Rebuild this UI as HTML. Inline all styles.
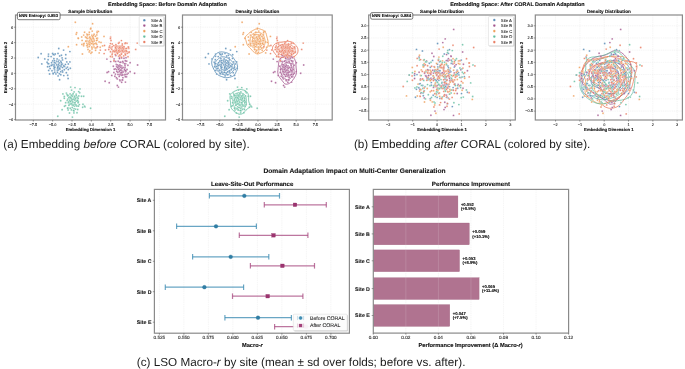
<!DOCTYPE html><html><head><meta charset="utf-8"><style>html,body{margin:0;padding:0;background:#fff;width:685px;height:369px;overflow:hidden}svg text{font-family:"Liberation Sans",sans-serif;text-rendering:geometricPrecision}</style></head><body><svg width="685" height="369" viewBox="0 0 685 369" style="display:block;will-change:transform">
<rect width="685" height="369" fill="#fff"/>
<line x1="33.30" y1="15" x2="33.30" y2="120" stroke="#e9e9e9" stroke-width="0.45" stroke-dasharray="1.4,0.8"/>
<line x1="52.65" y1="15" x2="52.65" y2="120" stroke="#e9e9e9" stroke-width="0.45" stroke-dasharray="1.4,0.8"/>
<line x1="72.00" y1="15" x2="72.00" y2="120" stroke="#e9e9e9" stroke-width="0.45" stroke-dasharray="1.4,0.8"/>
<line x1="91.35" y1="15" x2="91.35" y2="120" stroke="#e9e9e9" stroke-width="0.45" stroke-dasharray="1.4,0.8"/>
<line x1="110.70" y1="15" x2="110.70" y2="120" stroke="#e9e9e9" stroke-width="0.45" stroke-dasharray="1.4,0.8"/>
<line x1="130.05" y1="15" x2="130.05" y2="120" stroke="#e9e9e9" stroke-width="0.45" stroke-dasharray="1.4,0.8"/>
<line x1="149.40" y1="15" x2="149.40" y2="120" stroke="#e9e9e9" stroke-width="0.45" stroke-dasharray="1.4,0.8"/>
<line x1="15.5" y1="119.60" x2="165.5" y2="119.60" stroke="#e9e9e9" stroke-width="0.45" stroke-dasharray="1.4,0.8"/>
<line x1="15.5" y1="104.20" x2="165.5" y2="104.20" stroke="#e9e9e9" stroke-width="0.45" stroke-dasharray="1.4,0.8"/>
<line x1="15.5" y1="88.80" x2="165.5" y2="88.80" stroke="#e9e9e9" stroke-width="0.45" stroke-dasharray="1.4,0.8"/>
<line x1="15.5" y1="73.40" x2="165.5" y2="73.40" stroke="#e9e9e9" stroke-width="0.45" stroke-dasharray="1.4,0.8"/>
<line x1="15.5" y1="58.00" x2="165.5" y2="58.00" stroke="#e9e9e9" stroke-width="0.45" stroke-dasharray="1.4,0.8"/>
<line x1="15.5" y1="42.60" x2="165.5" y2="42.60" stroke="#e9e9e9" stroke-width="0.45" stroke-dasharray="1.4,0.8"/>
<line x1="15.5" y1="27.20" x2="165.5" y2="27.20" stroke="#e9e9e9" stroke-width="0.45" stroke-dasharray="1.4,0.8"/>
<line x1="200.60" y1="15" x2="200.60" y2="120" stroke="#e9e9e9" stroke-width="0.45" stroke-dasharray="1.4,0.8"/>
<line x1="219.71" y1="15" x2="219.71" y2="120" stroke="#e9e9e9" stroke-width="0.45" stroke-dasharray="1.4,0.8"/>
<line x1="238.83" y1="15" x2="238.83" y2="120" stroke="#e9e9e9" stroke-width="0.45" stroke-dasharray="1.4,0.8"/>
<line x1="257.95" y1="15" x2="257.95" y2="120" stroke="#e9e9e9" stroke-width="0.45" stroke-dasharray="1.4,0.8"/>
<line x1="277.07" y1="15" x2="277.07" y2="120" stroke="#e9e9e9" stroke-width="0.45" stroke-dasharray="1.4,0.8"/>
<line x1="296.19" y1="15" x2="296.19" y2="120" stroke="#e9e9e9" stroke-width="0.45" stroke-dasharray="1.4,0.8"/>
<line x1="315.30" y1="15" x2="315.30" y2="120" stroke="#e9e9e9" stroke-width="0.45" stroke-dasharray="1.4,0.8"/>
<line x1="182.5" y1="119.60" x2="332.2" y2="119.60" stroke="#e9e9e9" stroke-width="0.45" stroke-dasharray="1.4,0.8"/>
<line x1="182.5" y1="104.20" x2="332.2" y2="104.20" stroke="#e9e9e9" stroke-width="0.45" stroke-dasharray="1.4,0.8"/>
<line x1="182.5" y1="88.80" x2="332.2" y2="88.80" stroke="#e9e9e9" stroke-width="0.45" stroke-dasharray="1.4,0.8"/>
<line x1="182.5" y1="73.40" x2="332.2" y2="73.40" stroke="#e9e9e9" stroke-width="0.45" stroke-dasharray="1.4,0.8"/>
<line x1="182.5" y1="58.00" x2="332.2" y2="58.00" stroke="#e9e9e9" stroke-width="0.45" stroke-dasharray="1.4,0.8"/>
<line x1="182.5" y1="42.60" x2="332.2" y2="42.60" stroke="#e9e9e9" stroke-width="0.45" stroke-dasharray="1.4,0.8"/>
<line x1="182.5" y1="27.20" x2="332.2" y2="27.20" stroke="#e9e9e9" stroke-width="0.45" stroke-dasharray="1.4,0.8"/>
<circle cx="59.5" cy="62.9" r="0.95" fill="#5288b3" fill-opacity="0.88" stroke="#fff" stroke-width="0.25"/>
<circle cx="48.7" cy="70.4" r="0.95" fill="#5288b3" fill-opacity="0.88" stroke="#fff" stroke-width="0.25"/>
<circle cx="64.3" cy="66.2" r="0.95" fill="#5288b3" fill-opacity="0.88" stroke="#fff" stroke-width="0.25"/>
<circle cx="53.9" cy="58.7" r="0.95" fill="#5288b3" fill-opacity="0.88" stroke="#fff" stroke-width="0.25"/>
<circle cx="57.4" cy="70.2" r="0.95" fill="#5288b3" fill-opacity="0.88" stroke="#fff" stroke-width="0.25"/>
<circle cx="59.9" cy="65.6" r="0.95" fill="#5288b3" fill-opacity="0.88" stroke="#fff" stroke-width="0.25"/>
<circle cx="52.9" cy="64.6" r="0.95" fill="#5288b3" fill-opacity="0.88" stroke="#fff" stroke-width="0.25"/>
<circle cx="60.8" cy="74.7" r="0.95" fill="#5288b3" fill-opacity="0.88" stroke="#fff" stroke-width="0.25"/>
<circle cx="62.6" cy="67.6" r="0.95" fill="#5288b3" fill-opacity="0.88" stroke="#fff" stroke-width="0.25"/>
<circle cx="58.0" cy="53.4" r="0.95" fill="#5288b3" fill-opacity="0.88" stroke="#fff" stroke-width="0.25"/>
<circle cx="54.6" cy="69.9" r="0.95" fill="#5288b3" fill-opacity="0.88" stroke="#fff" stroke-width="0.25"/>
<circle cx="68.3" cy="64.0" r="0.95" fill="#5288b3" fill-opacity="0.88" stroke="#fff" stroke-width="0.25"/>
<circle cx="55.8" cy="63.0" r="0.95" fill="#5288b3" fill-opacity="0.88" stroke="#fff" stroke-width="0.25"/>
<circle cx="59.1" cy="68.4" r="0.95" fill="#5288b3" fill-opacity="0.88" stroke="#fff" stroke-width="0.25"/>
<circle cx="62.5" cy="59.9" r="0.95" fill="#5288b3" fill-opacity="0.88" stroke="#fff" stroke-width="0.25"/>
<circle cx="51.1" cy="65.5" r="0.95" fill="#5288b3" fill-opacity="0.88" stroke="#fff" stroke-width="0.25"/>
<circle cx="59.8" cy="69.2" r="0.95" fill="#5288b3" fill-opacity="0.88" stroke="#fff" stroke-width="0.25"/>
<circle cx="70.3" cy="68.2" r="0.95" fill="#5288b3" fill-opacity="0.88" stroke="#fff" stroke-width="0.25"/>
<circle cx="56.6" cy="61.1" r="0.95" fill="#5288b3" fill-opacity="0.88" stroke="#fff" stroke-width="0.25"/>
<circle cx="53.0" cy="73.2" r="0.95" fill="#5288b3" fill-opacity="0.88" stroke="#fff" stroke-width="0.25"/>
<circle cx="62.5" cy="64.1" r="0.95" fill="#5288b3" fill-opacity="0.88" stroke="#fff" stroke-width="0.25"/>
<circle cx="58.2" cy="65.4" r="0.95" fill="#5288b3" fill-opacity="0.88" stroke="#fff" stroke-width="0.25"/>
<circle cx="59.3" cy="73.7" r="0.95" fill="#5288b3" fill-opacity="0.88" stroke="#fff" stroke-width="0.25"/>
<circle cx="62.1" cy="57.9" r="0.95" fill="#5288b3" fill-opacity="0.88" stroke="#fff" stroke-width="0.25"/>
<circle cx="54.4" cy="67.7" r="0.95" fill="#5288b3" fill-opacity="0.88" stroke="#fff" stroke-width="0.25"/>
<circle cx="68.1" cy="78.5" r="0.95" fill="#5288b3" fill-opacity="0.88" stroke="#fff" stroke-width="0.25"/>
<circle cx="64.3" cy="69.8" r="0.95" fill="#5288b3" fill-opacity="0.88" stroke="#fff" stroke-width="0.25"/>
<circle cx="59.7" cy="56.0" r="0.95" fill="#5288b3" fill-opacity="0.88" stroke="#fff" stroke-width="0.25"/>
<circle cx="54.2" cy="68.6" r="0.95" fill="#5288b3" fill-opacity="0.88" stroke="#fff" stroke-width="0.25"/>
<circle cx="61.4" cy="65.0" r="0.95" fill="#5288b3" fill-opacity="0.88" stroke="#fff" stroke-width="0.25"/>
<circle cx="54.4" cy="60.8" r="0.95" fill="#5288b3" fill-opacity="0.88" stroke="#fff" stroke-width="0.25"/>
<circle cx="55.9" cy="73.9" r="0.95" fill="#5288b3" fill-opacity="0.88" stroke="#fff" stroke-width="0.25"/>
<circle cx="61.7" cy="64.0" r="0.95" fill="#5288b3" fill-opacity="0.88" stroke="#fff" stroke-width="0.25"/>
<circle cx="47.8" cy="63.6" r="0.95" fill="#5288b3" fill-opacity="0.88" stroke="#fff" stroke-width="0.25"/>
<circle cx="60.8" cy="71.7" r="0.95" fill="#5288b3" fill-opacity="0.88" stroke="#fff" stroke-width="0.25"/>
<circle cx="68.3" cy="69.5" r="0.95" fill="#5288b3" fill-opacity="0.88" stroke="#fff" stroke-width="0.25"/>
<circle cx="58.2" cy="61.7" r="0.95" fill="#5288b3" fill-opacity="0.88" stroke="#fff" stroke-width="0.25"/>
<circle cx="58.5" cy="66.7" r="0.95" fill="#5288b3" fill-opacity="0.88" stroke="#fff" stroke-width="0.25"/>
<circle cx="65.4" cy="64.4" r="0.95" fill="#5288b3" fill-opacity="0.88" stroke="#fff" stroke-width="0.25"/>
<circle cx="52.7" cy="60.9" r="0.95" fill="#5288b3" fill-opacity="0.88" stroke="#fff" stroke-width="0.25"/>
<circle cx="58.1" cy="70.0" r="0.95" fill="#5288b3" fill-opacity="0.88" stroke="#fff" stroke-width="0.25"/>
<circle cx="65.8" cy="54.8" r="0.95" fill="#5288b3" fill-opacity="0.88" stroke="#fff" stroke-width="0.25"/>
<circle cx="53.9" cy="66.3" r="0.95" fill="#5288b3" fill-opacity="0.88" stroke="#fff" stroke-width="0.25"/>
<circle cx="63.8" cy="75.6" r="0.95" fill="#5288b3" fill-opacity="0.88" stroke="#fff" stroke-width="0.25"/>
<circle cx="64.4" cy="66.4" r="0.95" fill="#5288b3" fill-opacity="0.88" stroke="#fff" stroke-width="0.25"/>
<circle cx="58.4" cy="64.2" r="0.95" fill="#5288b3" fill-opacity="0.88" stroke="#fff" stroke-width="0.25"/>
<circle cx="54.8" cy="72.2" r="0.95" fill="#5288b3" fill-opacity="0.88" stroke="#fff" stroke-width="0.25"/>
<circle cx="66.8" cy="61.9" r="0.95" fill="#5288b3" fill-opacity="0.88" stroke="#fff" stroke-width="0.25"/>
<circle cx="56.6" cy="64.9" r="0.95" fill="#5288b3" fill-opacity="0.88" stroke="#fff" stroke-width="0.25"/>
<circle cx="59.6" cy="79.7" r="0.95" fill="#5288b3" fill-opacity="0.88" stroke="#fff" stroke-width="0.25"/>
<circle cx="60.8" cy="61.2" r="0.95" fill="#5288b3" fill-opacity="0.88" stroke="#fff" stroke-width="0.25"/>
<circle cx="50.1" cy="68.6" r="0.95" fill="#5288b3" fill-opacity="0.88" stroke="#fff" stroke-width="0.25"/>
<circle cx="62.3" cy="70.6" r="0.95" fill="#5288b3" fill-opacity="0.88" stroke="#fff" stroke-width="0.25"/>
<circle cx="61.0" cy="66.8" r="0.95" fill="#5288b3" fill-opacity="0.88" stroke="#fff" stroke-width="0.25"/>
<circle cx="59.0" cy="60.1" r="0.95" fill="#5288b3" fill-opacity="0.88" stroke="#fff" stroke-width="0.25"/>
<circle cx="52.0" cy="70.7" r="0.95" fill="#5288b3" fill-opacity="0.88" stroke="#fff" stroke-width="0.25"/>
<circle cx="63.7" cy="65.9" r="0.95" fill="#5288b3" fill-opacity="0.88" stroke="#fff" stroke-width="0.25"/>
<circle cx="48.5" cy="54.1" r="0.95" fill="#5288b3" fill-opacity="0.88" stroke="#fff" stroke-width="0.25"/>
<circle cx="57.4" cy="72.3" r="0.95" fill="#5288b3" fill-opacity="0.88" stroke="#fff" stroke-width="0.25"/>
<circle cx="65.7" cy="58.4" r="0.95" fill="#5288b3" fill-opacity="0.88" stroke="#fff" stroke-width="0.25"/>
<circle cx="54.2" cy="65.0" r="0.95" fill="#5288b3" fill-opacity="0.88" stroke="#fff" stroke-width="0.25"/>
<circle cx="59.7" cy="68.2" r="0.95" fill="#5288b3" fill-opacity="0.88" stroke="#fff" stroke-width="0.25"/>
<circle cx="66.2" cy="68.3" r="0.95" fill="#5288b3" fill-opacity="0.88" stroke="#fff" stroke-width="0.25"/>
<circle cx="57.1" cy="58.9" r="0.95" fill="#5288b3" fill-opacity="0.88" stroke="#fff" stroke-width="0.25"/>
<circle cx="57.6" cy="68.5" r="0.95" fill="#5288b3" fill-opacity="0.88" stroke="#fff" stroke-width="0.25"/>
<circle cx="69.9" cy="61.9" r="0.95" fill="#5288b3" fill-opacity="0.88" stroke="#fff" stroke-width="0.25"/>
<circle cx="54.3" cy="62.7" r="0.95" fill="#5288b3" fill-opacity="0.88" stroke="#fff" stroke-width="0.25"/>
<circle cx="58.1" cy="75.9" r="0.95" fill="#5288b3" fill-opacity="0.88" stroke="#fff" stroke-width="0.25"/>
<circle cx="61.3" cy="62.5" r="0.95" fill="#5288b3" fill-opacity="0.88" stroke="#fff" stroke-width="0.25"/>
<circle cx="57.7" cy="66.7" r="0.95" fill="#5288b3" fill-opacity="0.88" stroke="#fff" stroke-width="0.25"/>
<circle cx="62.7" cy="72.0" r="0.95" fill="#5288b3" fill-opacity="0.88" stroke="#fff" stroke-width="0.25"/>
<circle cx="67.5" cy="67.1" r="0.95" fill="#5288b3" fill-opacity="0.88" stroke="#fff" stroke-width="0.25"/>
<circle cx="66.3" cy="72.7" r="0.95" fill="#5288b3" fill-opacity="0.88" stroke="#fff" stroke-width="0.25"/>
<circle cx="53.2" cy="73.7" r="0.95" fill="#5288b3" fill-opacity="0.88" stroke="#fff" stroke-width="0.25"/>
<circle cx="63.6" cy="50.1" r="0.95" fill="#5288b3" fill-opacity="0.88" stroke="#fff" stroke-width="0.25"/>
<circle cx="54.7" cy="67.2" r="0.95" fill="#5288b3" fill-opacity="0.88" stroke="#fff" stroke-width="0.25"/>
<circle cx="48.1" cy="59.8" r="0.95" fill="#5288b3" fill-opacity="0.88" stroke="#fff" stroke-width="0.25"/>
<circle cx="51.6" cy="62.8" r="0.95" fill="#5288b3" fill-opacity="0.88" stroke="#fff" stroke-width="0.25"/>
<circle cx="49.4" cy="66.5" r="0.95" fill="#5288b3" fill-opacity="0.88" stroke="#fff" stroke-width="0.25"/>
<circle cx="54.7" cy="67.2" r="0.95" fill="#5288b3" fill-opacity="0.88" stroke="#fff" stroke-width="0.25"/>
<circle cx="51.1" cy="56.6" r="0.95" fill="#5288b3" fill-opacity="0.88" stroke="#fff" stroke-width="0.25"/>
<circle cx="51.8" cy="65.3" r="0.95" fill="#5288b3" fill-opacity="0.88" stroke="#fff" stroke-width="0.25"/>
<circle cx="41.8" cy="63.9" r="0.95" fill="#5288b3" fill-opacity="0.88" stroke="#fff" stroke-width="0.25"/>
<circle cx="47.1" cy="62.3" r="0.95" fill="#5288b3" fill-opacity="0.88" stroke="#fff" stroke-width="0.25"/>
<circle cx="69.9" cy="51.6" r="0.95" fill="#5288b3" fill-opacity="0.88" stroke="#fff" stroke-width="0.25"/>
<circle cx="48.4" cy="56.2" r="0.95" fill="#5288b3" fill-opacity="0.88" stroke="#fff" stroke-width="0.25"/>
<circle cx="44.8" cy="58.9" r="0.95" fill="#5288b3" fill-opacity="0.88" stroke="#fff" stroke-width="0.25"/>
<circle cx="57.7" cy="67.7" r="0.95" fill="#5288b3" fill-opacity="0.88" stroke="#fff" stroke-width="0.25"/>
<circle cx="67.7" cy="75.2" r="0.95" fill="#5288b3" fill-opacity="0.88" stroke="#fff" stroke-width="0.25"/>
<circle cx="41.1" cy="53.7" r="0.95" fill="#5288b3" fill-opacity="0.88" stroke="#fff" stroke-width="0.25"/>
<circle cx="52.6" cy="53.5" r="0.95" fill="#5288b3" fill-opacity="0.88" stroke="#fff" stroke-width="0.25"/>
<circle cx="48.7" cy="63.8" r="0.95" fill="#5288b3" fill-opacity="0.88" stroke="#fff" stroke-width="0.25"/>
<circle cx="38.2" cy="57.5" r="0.95" fill="#5288b3" fill-opacity="0.88" stroke="#fff" stroke-width="0.25"/>
<circle cx="61.4" cy="55.2" r="0.95" fill="#5288b3" fill-opacity="0.88" stroke="#fff" stroke-width="0.25"/>
<circle cx="54.4" cy="54.8" r="0.95" fill="#5288b3" fill-opacity="0.88" stroke="#fff" stroke-width="0.25"/>
<circle cx="55.2" cy="54.0" r="0.95" fill="#5288b3" fill-opacity="0.88" stroke="#fff" stroke-width="0.25"/>
<circle cx="47.6" cy="66.7" r="0.95" fill="#5288b3" fill-opacity="0.88" stroke="#fff" stroke-width="0.25"/>
<circle cx="58.8" cy="48.5" r="0.95" fill="#5288b3" fill-opacity="0.88" stroke="#fff" stroke-width="0.25"/>
<circle cx="49.6" cy="74.0" r="0.95" fill="#5288b3" fill-opacity="0.88" stroke="#fff" stroke-width="0.25"/>
<circle cx="53.3" cy="54.5" r="0.95" fill="#5288b3" fill-opacity="0.88" stroke="#fff" stroke-width="0.25"/>
<circle cx="124.3" cy="74.7" r="0.95" fill="#a2538c" fill-opacity="0.88" stroke="#fff" stroke-width="0.25"/>
<circle cx="126.0" cy="57.7" r="0.95" fill="#a2538c" fill-opacity="0.88" stroke="#fff" stroke-width="0.25"/>
<circle cx="116.7" cy="69.8" r="0.95" fill="#a2538c" fill-opacity="0.88" stroke="#fff" stroke-width="0.25"/>
<circle cx="128.1" cy="73.2" r="0.95" fill="#a2538c" fill-opacity="0.88" stroke="#fff" stroke-width="0.25"/>
<circle cx="119.9" cy="62.3" r="0.95" fill="#a2538c" fill-opacity="0.88" stroke="#fff" stroke-width="0.25"/>
<circle cx="119.9" cy="70.4" r="0.95" fill="#a2538c" fill-opacity="0.88" stroke="#fff" stroke-width="0.25"/>
<circle cx="122.5" cy="68.0" r="0.95" fill="#a2538c" fill-opacity="0.88" stroke="#fff" stroke-width="0.25"/>
<circle cx="116.3" cy="64.5" r="0.95" fill="#a2538c" fill-opacity="0.88" stroke="#fff" stroke-width="0.25"/>
<circle cx="119.8" cy="75.0" r="0.95" fill="#a2538c" fill-opacity="0.88" stroke="#fff" stroke-width="0.25"/>
<circle cx="126.5" cy="76.7" r="0.95" fill="#a2538c" fill-opacity="0.88" stroke="#fff" stroke-width="0.25"/>
<circle cx="121.7" cy="65.9" r="0.95" fill="#a2538c" fill-opacity="0.88" stroke="#fff" stroke-width="0.25"/>
<circle cx="113.9" cy="72.5" r="0.95" fill="#a2538c" fill-opacity="0.88" stroke="#fff" stroke-width="0.25"/>
<circle cx="126.0" cy="70.9" r="0.95" fill="#a2538c" fill-opacity="0.88" stroke="#fff" stroke-width="0.25"/>
<circle cx="115.8" cy="55.5" r="0.95" fill="#a2538c" fill-opacity="0.88" stroke="#fff" stroke-width="0.25"/>
<circle cx="119.2" cy="71.8" r="0.95" fill="#a2538c" fill-opacity="0.88" stroke="#fff" stroke-width="0.25"/>
<circle cx="125.7" cy="63.8" r="0.95" fill="#a2538c" fill-opacity="0.88" stroke="#fff" stroke-width="0.25"/>
<circle cx="116.6" cy="66.8" r="0.95" fill="#a2538c" fill-opacity="0.88" stroke="#fff" stroke-width="0.25"/>
<circle cx="121.7" cy="82.3" r="0.95" fill="#a2538c" fill-opacity="0.88" stroke="#fff" stroke-width="0.25"/>
<circle cx="121.8" cy="73.8" r="0.95" fill="#a2538c" fill-opacity="0.88" stroke="#fff" stroke-width="0.25"/>
<circle cx="125.8" cy="61.1" r="0.95" fill="#a2538c" fill-opacity="0.88" stroke="#fff" stroke-width="0.25"/>
<circle cx="115.3" cy="68.9" r="0.95" fill="#a2538c" fill-opacity="0.88" stroke="#fff" stroke-width="0.25"/>
<circle cx="121.2" cy="69.6" r="0.95" fill="#a2538c" fill-opacity="0.88" stroke="#fff" stroke-width="0.25"/>
<circle cx="120.4" cy="66.0" r="0.95" fill="#a2538c" fill-opacity="0.88" stroke="#fff" stroke-width="0.25"/>
<circle cx="115.4" cy="74.1" r="0.95" fill="#a2538c" fill-opacity="0.88" stroke="#fff" stroke-width="0.25"/>
<circle cx="124.8" cy="68.1" r="0.95" fill="#a2538c" fill-opacity="0.88" stroke="#fff" stroke-width="0.25"/>
<circle cx="114.1" cy="61.2" r="0.95" fill="#a2538c" fill-opacity="0.88" stroke="#fff" stroke-width="0.25"/>
<circle cx="120.1" cy="74.2" r="0.95" fill="#a2538c" fill-opacity="0.88" stroke="#fff" stroke-width="0.25"/>
<circle cx="125.3" cy="76.7" r="0.95" fill="#a2538c" fill-opacity="0.88" stroke="#fff" stroke-width="0.25"/>
<circle cx="123.1" cy="62.7" r="0.95" fill="#a2538c" fill-opacity="0.88" stroke="#fff" stroke-width="0.25"/>
<circle cx="108.5" cy="71.8" r="0.95" fill="#a2538c" fill-opacity="0.88" stroke="#fff" stroke-width="0.25"/>
<circle cx="124.4" cy="70.5" r="0.95" fill="#a2538c" fill-opacity="0.88" stroke="#fff" stroke-width="0.25"/>
<circle cx="118.2" cy="61.3" r="0.95" fill="#a2538c" fill-opacity="0.88" stroke="#fff" stroke-width="0.25"/>
<circle cx="118.0" cy="74.4" r="0.95" fill="#a2538c" fill-opacity="0.88" stroke="#fff" stroke-width="0.25"/>
<circle cx="130.1" cy="62.7" r="0.95" fill="#a2538c" fill-opacity="0.88" stroke="#fff" stroke-width="0.25"/>
<circle cx="117.6" cy="67.0" r="0.95" fill="#a2538c" fill-opacity="0.88" stroke="#fff" stroke-width="0.25"/>
<circle cx="120.0" cy="80.7" r="0.95" fill="#a2538c" fill-opacity="0.88" stroke="#fff" stroke-width="0.25"/>
<circle cx="125.3" cy="74.5" r="0.95" fill="#a2538c" fill-opacity="0.88" stroke="#fff" stroke-width="0.25"/>
<circle cx="121.4" cy="67.9" r="0.95" fill="#a2538c" fill-opacity="0.88" stroke="#fff" stroke-width="0.25"/>
<circle cx="119.5" cy="71.0" r="0.95" fill="#a2538c" fill-opacity="0.88" stroke="#fff" stroke-width="0.25"/>
<circle cx="127.0" cy="69.5" r="0.95" fill="#a2538c" fill-opacity="0.88" stroke="#fff" stroke-width="0.25"/>
<circle cx="118.7" cy="65.5" r="0.95" fill="#a2538c" fill-opacity="0.88" stroke="#fff" stroke-width="0.25"/>
<circle cx="117.3" cy="78.9" r="0.95" fill="#a2538c" fill-opacity="0.88" stroke="#fff" stroke-width="0.25"/>
<circle cx="123.1" cy="67.4" r="0.95" fill="#a2538c" fill-opacity="0.88" stroke="#fff" stroke-width="0.25"/>
<circle cx="113.3" cy="66.2" r="0.95" fill="#a2538c" fill-opacity="0.88" stroke="#fff" stroke-width="0.25"/>
<circle cx="121.6" cy="75.2" r="0.95" fill="#a2538c" fill-opacity="0.88" stroke="#fff" stroke-width="0.25"/>
<circle cx="125.4" cy="82.1" r="0.95" fill="#a2538c" fill-opacity="0.88" stroke="#fff" stroke-width="0.25"/>
<circle cx="120.8" cy="67.3" r="0.95" fill="#a2538c" fill-opacity="0.88" stroke="#fff" stroke-width="0.25"/>
<circle cx="114.2" cy="69.3" r="0.95" fill="#a2538c" fill-opacity="0.88" stroke="#fff" stroke-width="0.25"/>
<circle cx="125.6" cy="71.7" r="0.95" fill="#a2538c" fill-opacity="0.88" stroke="#fff" stroke-width="0.25"/>
<circle cx="119.5" cy="57.8" r="0.95" fill="#a2538c" fill-opacity="0.88" stroke="#fff" stroke-width="0.25"/>
<circle cx="117.8" cy="72.2" r="0.95" fill="#a2538c" fill-opacity="0.88" stroke="#fff" stroke-width="0.25"/>
<circle cx="127.9" cy="65.2" r="0.95" fill="#a2538c" fill-opacity="0.88" stroke="#fff" stroke-width="0.25"/>
<circle cx="117.2" cy="64.9" r="0.95" fill="#a2538c" fill-opacity="0.88" stroke="#fff" stroke-width="0.25"/>
<circle cx="118.4" cy="87.1" r="0.95" fill="#a2538c" fill-opacity="0.88" stroke="#fff" stroke-width="0.25"/>
<circle cx="122.2" cy="71.9" r="0.95" fill="#a2538c" fill-opacity="0.88" stroke="#fff" stroke-width="0.25"/>
<circle cx="122.8" cy="61.5" r="0.95" fill="#a2538c" fill-opacity="0.88" stroke="#fff" stroke-width="0.25"/>
<circle cx="116.8" cy="71.4" r="0.95" fill="#a2538c" fill-opacity="0.88" stroke="#fff" stroke-width="0.25"/>
<circle cx="130.1" cy="71.7" r="0.95" fill="#a2538c" fill-opacity="0.88" stroke="#fff" stroke-width="0.25"/>
<circle cx="119.9" cy="65.0" r="0.95" fill="#a2538c" fill-opacity="0.88" stroke="#fff" stroke-width="0.25"/>
<circle cx="116.4" cy="77.8" r="0.95" fill="#a2538c" fill-opacity="0.88" stroke="#fff" stroke-width="0.25"/>
<circle cx="125.0" cy="65.3" r="0.95" fill="#a2538c" fill-opacity="0.88" stroke="#fff" stroke-width="0.25"/>
<circle cx="110.7" cy="61.6" r="0.95" fill="#a2538c" fill-opacity="0.88" stroke="#fff" stroke-width="0.25"/>
<circle cx="120.8" cy="72.8" r="0.95" fill="#a2538c" fill-opacity="0.88" stroke="#fff" stroke-width="0.25"/>
<circle cx="127.0" cy="74.3" r="0.95" fill="#a2538c" fill-opacity="0.88" stroke="#fff" stroke-width="0.25"/>
<circle cx="120.8" cy="62.3" r="0.95" fill="#a2538c" fill-opacity="0.88" stroke="#fff" stroke-width="0.25"/>
<circle cx="111.8" cy="75.4" r="0.95" fill="#a2538c" fill-opacity="0.88" stroke="#fff" stroke-width="0.25"/>
<circle cx="124.6" cy="69.4" r="0.95" fill="#a2538c" fill-opacity="0.88" stroke="#fff" stroke-width="0.25"/>
<circle cx="115.7" cy="61.5" r="0.95" fill="#a2538c" fill-opacity="0.88" stroke="#fff" stroke-width="0.25"/>
<circle cx="119.2" cy="76.4" r="0.95" fill="#a2538c" fill-opacity="0.88" stroke="#fff" stroke-width="0.25"/>
<circle cx="122.0" cy="68.1" r="0.95" fill="#a2538c" fill-opacity="0.88" stroke="#fff" stroke-width="0.25"/>
<circle cx="119.1" cy="68.5" r="0.95" fill="#a2538c" fill-opacity="0.88" stroke="#fff" stroke-width="0.25"/>
<circle cx="122.9" cy="77.8" r="0.95" fill="#a2538c" fill-opacity="0.88" stroke="#fff" stroke-width="0.25"/>
<circle cx="122.6" cy="75.0" r="0.95" fill="#a2538c" fill-opacity="0.88" stroke="#fff" stroke-width="0.25"/>
<circle cx="125.3" cy="60.8" r="0.95" fill="#a2538c" fill-opacity="0.88" stroke="#fff" stroke-width="0.25"/>
<circle cx="122.4" cy="80.0" r="0.95" fill="#a2538c" fill-opacity="0.88" stroke="#fff" stroke-width="0.25"/>
<circle cx="118.6" cy="69.3" r="0.95" fill="#a2538c" fill-opacity="0.88" stroke="#fff" stroke-width="0.25"/>
<circle cx="121.8" cy="70.5" r="0.95" fill="#a2538c" fill-opacity="0.88" stroke="#fff" stroke-width="0.25"/>
<circle cx="122.4" cy="79.9" r="0.95" fill="#a2538c" fill-opacity="0.88" stroke="#fff" stroke-width="0.25"/>
<circle cx="117.8" cy="67.7" r="0.95" fill="#a2538c" fill-opacity="0.88" stroke="#fff" stroke-width="0.25"/>
<circle cx="119.8" cy="79.9" r="0.95" fill="#a2538c" fill-opacity="0.88" stroke="#fff" stroke-width="0.25"/>
<circle cx="121.7" cy="58.1" r="0.95" fill="#a2538c" fill-opacity="0.88" stroke="#fff" stroke-width="0.25"/>
<circle cx="119.5" cy="58.6" r="0.95" fill="#a2538c" fill-opacity="0.88" stroke="#fff" stroke-width="0.25"/>
<circle cx="124.0" cy="58.3" r="0.95" fill="#a2538c" fill-opacity="0.88" stroke="#fff" stroke-width="0.25"/>
<circle cx="134.6" cy="73.3" r="0.95" fill="#a2538c" fill-opacity="0.88" stroke="#fff" stroke-width="0.25"/>
<circle cx="124.7" cy="63.8" r="0.95" fill="#a2538c" fill-opacity="0.88" stroke="#fff" stroke-width="0.25"/>
<circle cx="120.6" cy="70.1" r="0.95" fill="#a2538c" fill-opacity="0.88" stroke="#fff" stroke-width="0.25"/>
<circle cx="107.1" cy="72.5" r="0.95" fill="#a2538c" fill-opacity="0.88" stroke="#fff" stroke-width="0.25"/>
<circle cx="123.1" cy="72.0" r="0.95" fill="#a2538c" fill-opacity="0.88" stroke="#fff" stroke-width="0.25"/>
<circle cx="105.1" cy="81.3" r="0.95" fill="#a2538c" fill-opacity="0.88" stroke="#fff" stroke-width="0.25"/>
<circle cx="109.2" cy="82.7" r="0.95" fill="#a2538c" fill-opacity="0.88" stroke="#fff" stroke-width="0.25"/>
<circle cx="126.8" cy="61.1" r="0.95" fill="#a2538c" fill-opacity="0.88" stroke="#fff" stroke-width="0.25"/>
<circle cx="125.6" cy="70.6" r="0.95" fill="#a2538c" fill-opacity="0.88" stroke="#fff" stroke-width="0.25"/>
<circle cx="119.0" cy="66.7" r="0.95" fill="#a2538c" fill-opacity="0.88" stroke="#fff" stroke-width="0.25"/>
<circle cx="106.9" cy="59.1" r="0.95" fill="#a2538c" fill-opacity="0.88" stroke="#fff" stroke-width="0.25"/>
<circle cx="117.3" cy="85.5" r="0.95" fill="#a2538c" fill-opacity="0.88" stroke="#fff" stroke-width="0.25"/>
<circle cx="114.9" cy="76.3" r="0.95" fill="#a2538c" fill-opacity="0.88" stroke="#fff" stroke-width="0.25"/>
<circle cx="125.1" cy="67.1" r="0.95" fill="#a2538c" fill-opacity="0.88" stroke="#fff" stroke-width="0.25"/>
<circle cx="137.6" cy="65.0" r="0.95" fill="#a2538c" fill-opacity="0.88" stroke="#fff" stroke-width="0.25"/>
<circle cx="121.8" cy="72.4" r="0.95" fill="#a2538c" fill-opacity="0.88" stroke="#fff" stroke-width="0.25"/>
<circle cx="114.1" cy="58.9" r="0.95" fill="#a2538c" fill-opacity="0.88" stroke="#fff" stroke-width="0.25"/>
<circle cx="87.9" cy="38.2" r="0.95" fill="#ee9a52" fill-opacity="0.88" stroke="#fff" stroke-width="0.25"/>
<circle cx="90.9" cy="43.6" r="0.95" fill="#ee9a52" fill-opacity="0.88" stroke="#fff" stroke-width="0.25"/>
<circle cx="95.4" cy="36.3" r="0.95" fill="#ee9a52" fill-opacity="0.88" stroke="#fff" stroke-width="0.25"/>
<circle cx="82.1" cy="40.4" r="0.95" fill="#ee9a52" fill-opacity="0.88" stroke="#fff" stroke-width="0.25"/>
<circle cx="93.2" cy="44.6" r="0.95" fill="#ee9a52" fill-opacity="0.88" stroke="#fff" stroke-width="0.25"/>
<circle cx="91.4" cy="41.5" r="0.95" fill="#ee9a52" fill-opacity="0.88" stroke="#fff" stroke-width="0.25"/>
<circle cx="86.7" cy="45.6" r="0.95" fill="#ee9a52" fill-opacity="0.88" stroke="#fff" stroke-width="0.25"/>
<circle cx="100.2" cy="47.2" r="0.95" fill="#ee9a52" fill-opacity="0.88" stroke="#fff" stroke-width="0.25"/>
<circle cx="95.9" cy="43.2" r="0.95" fill="#ee9a52" fill-opacity="0.88" stroke="#fff" stroke-width="0.25"/>
<circle cx="89.8" cy="38.7" r="0.95" fill="#ee9a52" fill-opacity="0.88" stroke="#fff" stroke-width="0.25"/>
<circle cx="87.6" cy="47.0" r="0.95" fill="#ee9a52" fill-opacity="0.88" stroke="#fff" stroke-width="0.25"/>
<circle cx="97.5" cy="38.3" r="0.95" fill="#ee9a52" fill-opacity="0.88" stroke="#fff" stroke-width="0.25"/>
<circle cx="89.3" cy="40.7" r="0.95" fill="#ee9a52" fill-opacity="0.88" stroke="#fff" stroke-width="0.25"/>
<circle cx="90.9" cy="53.2" r="0.95" fill="#ee9a52" fill-opacity="0.88" stroke="#fff" stroke-width="0.25"/>
<circle cx="93.0" cy="36.1" r="0.95" fill="#ee9a52" fill-opacity="0.88" stroke="#fff" stroke-width="0.25"/>
<circle cx="81.9" cy="44.4" r="0.95" fill="#ee9a52" fill-opacity="0.88" stroke="#fff" stroke-width="0.25"/>
<circle cx="93.6" cy="44.7" r="0.95" fill="#ee9a52" fill-opacity="0.88" stroke="#fff" stroke-width="0.25"/>
<circle cx="92.8" cy="42.1" r="0.95" fill="#ee9a52" fill-opacity="0.88" stroke="#fff" stroke-width="0.25"/>
<circle cx="87.3" cy="35.8" r="0.95" fill="#ee9a52" fill-opacity="0.88" stroke="#fff" stroke-width="0.25"/>
<circle cx="88.0" cy="49.5" r="0.95" fill="#ee9a52" fill-opacity="0.88" stroke="#fff" stroke-width="0.25"/>
<circle cx="93.9" cy="39.3" r="0.95" fill="#ee9a52" fill-opacity="0.88" stroke="#fff" stroke-width="0.25"/>
<circle cx="78.2" cy="38.3" r="0.95" fill="#ee9a52" fill-opacity="0.88" stroke="#fff" stroke-width="0.25"/>
<circle cx="92.3" cy="47.8" r="0.95" fill="#ee9a52" fill-opacity="0.88" stroke="#fff" stroke-width="0.25"/>
<circle cx="92.2" cy="31.1" r="0.95" fill="#ee9a52" fill-opacity="0.88" stroke="#fff" stroke-width="0.25"/>
<circle cx="86.9" cy="43.2" r="0.95" fill="#ee9a52" fill-opacity="0.88" stroke="#fff" stroke-width="0.25"/>
<circle cx="92.8" cy="43.2" r="0.95" fill="#ee9a52" fill-opacity="0.88" stroke="#fff" stroke-width="0.25"/>
<circle cx="97.3" cy="40.1" r="0.95" fill="#ee9a52" fill-opacity="0.88" stroke="#fff" stroke-width="0.25"/>
<circle cx="85.5" cy="37.0" r="0.95" fill="#ee9a52" fill-opacity="0.88" stroke="#fff" stroke-width="0.25"/>
<circle cx="90.0" cy="45.1" r="0.95" fill="#ee9a52" fill-opacity="0.88" stroke="#fff" stroke-width="0.25"/>
<circle cx="97.2" cy="31.5" r="0.95" fill="#ee9a52" fill-opacity="0.88" stroke="#fff" stroke-width="0.25"/>
<circle cx="85.8" cy="41.3" r="0.95" fill="#ee9a52" fill-opacity="0.88" stroke="#fff" stroke-width="0.25"/>
<circle cx="95.6" cy="50.3" r="0.95" fill="#ee9a52" fill-opacity="0.88" stroke="#fff" stroke-width="0.25"/>
<circle cx="90.1" cy="37.6" r="0.95" fill="#ee9a52" fill-opacity="0.88" stroke="#fff" stroke-width="0.25"/>
<circle cx="89.7" cy="42.8" r="0.95" fill="#ee9a52" fill-opacity="0.88" stroke="#fff" stroke-width="0.25"/>
<circle cx="96.8" cy="44.4" r="0.95" fill="#ee9a52" fill-opacity="0.88" stroke="#fff" stroke-width="0.25"/>
<circle cx="99.1" cy="42.0" r="0.95" fill="#ee9a52" fill-opacity="0.88" stroke="#fff" stroke-width="0.25"/>
<circle cx="90.0" cy="37.3" r="0.95" fill="#ee9a52" fill-opacity="0.88" stroke="#fff" stroke-width="0.25"/>
<circle cx="82.4" cy="54.0" r="0.95" fill="#ee9a52" fill-opacity="0.88" stroke="#fff" stroke-width="0.25"/>
<circle cx="96.7" cy="38.5" r="0.95" fill="#ee9a52" fill-opacity="0.88" stroke="#fff" stroke-width="0.25"/>
<circle cx="81.7" cy="37.0" r="0.95" fill="#ee9a52" fill-opacity="0.88" stroke="#fff" stroke-width="0.25"/>
<circle cx="91.7" cy="47.0" r="0.95" fill="#ee9a52" fill-opacity="0.88" stroke="#fff" stroke-width="0.25"/>
<circle cx="91.8" cy="39.4" r="0.95" fill="#ee9a52" fill-opacity="0.88" stroke="#fff" stroke-width="0.25"/>
<circle cx="84.1" cy="43.5" r="0.95" fill="#ee9a52" fill-opacity="0.88" stroke="#fff" stroke-width="0.25"/>
<circle cx="96.6" cy="47.7" r="0.95" fill="#ee9a52" fill-opacity="0.88" stroke="#fff" stroke-width="0.25"/>
<circle cx="94.2" cy="41.0" r="0.95" fill="#ee9a52" fill-opacity="0.88" stroke="#fff" stroke-width="0.25"/>
<circle cx="84.6" cy="32.3" r="0.95" fill="#ee9a52" fill-opacity="0.88" stroke="#fff" stroke-width="0.25"/>
<circle cx="89.2" cy="46.6" r="0.95" fill="#ee9a52" fill-opacity="0.88" stroke="#fff" stroke-width="0.25"/>
<circle cx="96.8" cy="34.9" r="0.95" fill="#ee9a52" fill-opacity="0.88" stroke="#fff" stroke-width="0.25"/>
<circle cx="87.0" cy="41.0" r="0.95" fill="#ee9a52" fill-opacity="0.88" stroke="#fff" stroke-width="0.25"/>
<circle cx="91.7" cy="43.6" r="0.95" fill="#ee9a52" fill-opacity="0.88" stroke="#fff" stroke-width="0.25"/>
<circle cx="91.9" cy="35.2" r="0.95" fill="#ee9a52" fill-opacity="0.88" stroke="#fff" stroke-width="0.25"/>
<circle cx="83.6" cy="45.8" r="0.95" fill="#ee9a52" fill-opacity="0.88" stroke="#fff" stroke-width="0.25"/>
<circle cx="94.3" cy="43.6" r="0.95" fill="#ee9a52" fill-opacity="0.88" stroke="#fff" stroke-width="0.25"/>
<circle cx="104.0" cy="36.4" r="0.95" fill="#ee9a52" fill-opacity="0.88" stroke="#fff" stroke-width="0.25"/>
<circle cx="87.0" cy="38.4" r="0.95" fill="#ee9a52" fill-opacity="0.88" stroke="#fff" stroke-width="0.25"/>
<circle cx="89.2" cy="51.9" r="0.95" fill="#ee9a52" fill-opacity="0.88" stroke="#fff" stroke-width="0.25"/>
<circle cx="92.8" cy="37.9" r="0.95" fill="#ee9a52" fill-opacity="0.88" stroke="#fff" stroke-width="0.25"/>
<circle cx="88.8" cy="42.0" r="0.95" fill="#ee9a52" fill-opacity="0.88" stroke="#fff" stroke-width="0.25"/>
<circle cx="95.2" cy="48.0" r="0.95" fill="#ee9a52" fill-opacity="0.88" stroke="#fff" stroke-width="0.25"/>
<circle cx="89.1" cy="34.5" r="0.95" fill="#ee9a52" fill-opacity="0.88" stroke="#fff" stroke-width="0.25"/>
<circle cx="88.2" cy="43.9" r="0.95" fill="#ee9a52" fill-opacity="0.88" stroke="#fff" stroke-width="0.25"/>
<circle cx="102.6" cy="45.9" r="0.95" fill="#ee9a52" fill-opacity="0.88" stroke="#fff" stroke-width="0.25"/>
<circle cx="96.0" cy="43.5" r="0.95" fill="#ee9a52" fill-opacity="0.88" stroke="#fff" stroke-width="0.25"/>
<circle cx="89.3" cy="32.3" r="0.95" fill="#ee9a52" fill-opacity="0.88" stroke="#fff" stroke-width="0.25"/>
<circle cx="87.6" cy="45.0" r="0.95" fill="#ee9a52" fill-opacity="0.88" stroke="#fff" stroke-width="0.25"/>
<circle cx="92.8" cy="41.3" r="0.95" fill="#ee9a52" fill-opacity="0.88" stroke="#fff" stroke-width="0.25"/>
<circle cx="86.2" cy="37.6" r="0.95" fill="#ee9a52" fill-opacity="0.88" stroke="#fff" stroke-width="0.25"/>
<circle cx="89.8" cy="50.7" r="0.95" fill="#ee9a52" fill-opacity="0.88" stroke="#fff" stroke-width="0.25"/>
<circle cx="93.2" cy="38.0" r="0.95" fill="#ee9a52" fill-opacity="0.88" stroke="#fff" stroke-width="0.25"/>
<circle cx="89.9" cy="42.2" r="0.95" fill="#ee9a52" fill-opacity="0.88" stroke="#fff" stroke-width="0.25"/>
<circle cx="94.0" cy="46.9" r="0.95" fill="#ee9a52" fill-opacity="0.88" stroke="#fff" stroke-width="0.25"/>
<circle cx="101.0" cy="42.4" r="0.95" fill="#ee9a52" fill-opacity="0.88" stroke="#fff" stroke-width="0.25"/>
<circle cx="89.7" cy="37.1" r="0.95" fill="#ee9a52" fill-opacity="0.88" stroke="#fff" stroke-width="0.25"/>
<circle cx="89.5" cy="44.2" r="0.95" fill="#ee9a52" fill-opacity="0.88" stroke="#fff" stroke-width="0.25"/>
<circle cx="93.4" cy="35.4" r="0.95" fill="#ee9a52" fill-opacity="0.88" stroke="#fff" stroke-width="0.25"/>
<circle cx="75.3" cy="22.3" r="0.95" fill="#ee9a52" fill-opacity="0.88" stroke="#fff" stroke-width="0.25"/>
<circle cx="92.6" cy="23.7" r="0.95" fill="#ee9a52" fill-opacity="0.88" stroke="#fff" stroke-width="0.25"/>
<circle cx="90.8" cy="38.7" r="0.95" fill="#ee9a52" fill-opacity="0.88" stroke="#fff" stroke-width="0.25"/>
<circle cx="91.2" cy="40.0" r="0.95" fill="#ee9a52" fill-opacity="0.88" stroke="#fff" stroke-width="0.25"/>
<circle cx="92.0" cy="49.0" r="0.95" fill="#ee9a52" fill-opacity="0.88" stroke="#fff" stroke-width="0.25"/>
<circle cx="83.6" cy="44.0" r="0.95" fill="#ee9a52" fill-opacity="0.88" stroke="#fff" stroke-width="0.25"/>
<circle cx="86.8" cy="34.1" r="0.95" fill="#ee9a52" fill-opacity="0.88" stroke="#fff" stroke-width="0.25"/>
<circle cx="94.1" cy="34.3" r="0.95" fill="#ee9a52" fill-opacity="0.88" stroke="#fff" stroke-width="0.25"/>
<circle cx="92.4" cy="36.8" r="0.95" fill="#ee9a52" fill-opacity="0.88" stroke="#fff" stroke-width="0.25"/>
<circle cx="90.6" cy="29.0" r="0.95" fill="#ee9a52" fill-opacity="0.88" stroke="#fff" stroke-width="0.25"/>
<circle cx="76.6" cy="44.7" r="0.95" fill="#ee9a52" fill-opacity="0.88" stroke="#fff" stroke-width="0.25"/>
<circle cx="93.2" cy="38.3" r="0.95" fill="#ee9a52" fill-opacity="0.88" stroke="#fff" stroke-width="0.25"/>
<circle cx="98.4" cy="31.4" r="0.95" fill="#ee9a52" fill-opacity="0.88" stroke="#fff" stroke-width="0.25"/>
<circle cx="97.1" cy="32.7" r="0.95" fill="#ee9a52" fill-opacity="0.88" stroke="#fff" stroke-width="0.25"/>
<circle cx="90.8" cy="28.3" r="0.95" fill="#ee9a52" fill-opacity="0.88" stroke="#fff" stroke-width="0.25"/>
<circle cx="76.2" cy="34.3" r="0.95" fill="#ee9a52" fill-opacity="0.88" stroke="#fff" stroke-width="0.25"/>
<circle cx="96.5" cy="40.6" r="0.95" fill="#ee9a52" fill-opacity="0.88" stroke="#fff" stroke-width="0.25"/>
<circle cx="87.7" cy="34.6" r="0.95" fill="#ee9a52" fill-opacity="0.88" stroke="#fff" stroke-width="0.25"/>
<circle cx="68.3" cy="46.7" r="0.95" fill="#ee9a52" fill-opacity="0.88" stroke="#fff" stroke-width="0.25"/>
<circle cx="91.9" cy="52.3" r="0.95" fill="#ee9a52" fill-opacity="0.88" stroke="#fff" stroke-width="0.25"/>
<circle cx="76.7" cy="32.7" r="0.95" fill="#ee9a52" fill-opacity="0.88" stroke="#fff" stroke-width="0.25"/>
<circle cx="78.3" cy="38.3" r="0.95" fill="#ee9a52" fill-opacity="0.88" stroke="#fff" stroke-width="0.25"/>
<circle cx="83.7" cy="35.1" r="0.95" fill="#ee9a52" fill-opacity="0.88" stroke="#fff" stroke-width="0.25"/>
<circle cx="99.2" cy="52.9" r="0.95" fill="#ee9a52" fill-opacity="0.88" stroke="#fff" stroke-width="0.25"/>
<circle cx="85.9" cy="41.1" r="0.95" fill="#ee9a52" fill-opacity="0.88" stroke="#fff" stroke-width="0.25"/>
<circle cx="66.4" cy="93.1" r="0.95" fill="#62bd9f" fill-opacity="0.88" stroke="#fff" stroke-width="0.25"/>
<circle cx="74.3" cy="106.1" r="0.95" fill="#62bd9f" fill-opacity="0.88" stroke="#fff" stroke-width="0.25"/>
<circle cx="74.4" cy="99.5" r="0.95" fill="#62bd9f" fill-opacity="0.88" stroke="#fff" stroke-width="0.25"/>
<circle cx="67.2" cy="100.6" r="0.95" fill="#62bd9f" fill-opacity="0.88" stroke="#fff" stroke-width="0.25"/>
<circle cx="82.7" cy="107.2" r="0.95" fill="#62bd9f" fill-opacity="0.88" stroke="#fff" stroke-width="0.25"/>
<circle cx="72.7" cy="95.0" r="0.95" fill="#62bd9f" fill-opacity="0.88" stroke="#fff" stroke-width="0.25"/>
<circle cx="70.6" cy="103.5" r="0.95" fill="#62bd9f" fill-opacity="0.88" stroke="#fff" stroke-width="0.25"/>
<circle cx="71.4" cy="109.9" r="0.95" fill="#62bd9f" fill-opacity="0.88" stroke="#fff" stroke-width="0.25"/>
<circle cx="81.5" cy="96.2" r="0.95" fill="#62bd9f" fill-opacity="0.88" stroke="#fff" stroke-width="0.25"/>
<circle cx="69.4" cy="97.6" r="0.95" fill="#62bd9f" fill-opacity="0.88" stroke="#fff" stroke-width="0.25"/>
<circle cx="74.6" cy="104.4" r="0.95" fill="#62bd9f" fill-opacity="0.88" stroke="#fff" stroke-width="0.25"/>
<circle cx="76.2" cy="94.3" r="0.95" fill="#62bd9f" fill-opacity="0.88" stroke="#fff" stroke-width="0.25"/>
<circle cx="72.4" cy="101.4" r="0.95" fill="#62bd9f" fill-opacity="0.88" stroke="#fff" stroke-width="0.25"/>
<circle cx="78.3" cy="101.7" r="0.95" fill="#62bd9f" fill-opacity="0.88" stroke="#fff" stroke-width="0.25"/>
<circle cx="72.1" cy="96.5" r="0.95" fill="#62bd9f" fill-opacity="0.88" stroke="#fff" stroke-width="0.25"/>
<circle cx="67.8" cy="107.9" r="0.95" fill="#62bd9f" fill-opacity="0.88" stroke="#fff" stroke-width="0.25"/>
<circle cx="74.0" cy="110.9" r="0.95" fill="#62bd9f" fill-opacity="0.88" stroke="#fff" stroke-width="0.25"/>
<circle cx="76.0" cy="97.2" r="0.95" fill="#62bd9f" fill-opacity="0.88" stroke="#fff" stroke-width="0.25"/>
<circle cx="71.7" cy="100.5" r="0.95" fill="#62bd9f" fill-opacity="0.88" stroke="#fff" stroke-width="0.25"/>
<circle cx="78.0" cy="106.0" r="0.95" fill="#62bd9f" fill-opacity="0.88" stroke="#fff" stroke-width="0.25"/>
<circle cx="75.0" cy="87.6" r="0.95" fill="#62bd9f" fill-opacity="0.88" stroke="#fff" stroke-width="0.25"/>
<circle cx="68.3" cy="102.8" r="0.95" fill="#62bd9f" fill-opacity="0.88" stroke="#fff" stroke-width="0.25"/>
<circle cx="75.9" cy="100.9" r="0.95" fill="#62bd9f" fill-opacity="0.88" stroke="#fff" stroke-width="0.25"/>
<circle cx="70.1" cy="93.9" r="0.95" fill="#62bd9f" fill-opacity="0.88" stroke="#fff" stroke-width="0.25"/>
<circle cx="68.1" cy="110.0" r="0.95" fill="#62bd9f" fill-opacity="0.88" stroke="#fff" stroke-width="0.25"/>
<circle cx="72.4" cy="105.6" r="0.95" fill="#62bd9f" fill-opacity="0.88" stroke="#fff" stroke-width="0.25"/>
<circle cx="74.8" cy="100.0" r="0.95" fill="#62bd9f" fill-opacity="0.88" stroke="#fff" stroke-width="0.25"/>
<circle cx="68.3" cy="95.4" r="0.95" fill="#62bd9f" fill-opacity="0.88" stroke="#fff" stroke-width="0.25"/>
<circle cx="73.0" cy="102.5" r="0.95" fill="#62bd9f" fill-opacity="0.88" stroke="#fff" stroke-width="0.25"/>
<circle cx="76.2" cy="95.4" r="0.95" fill="#62bd9f" fill-opacity="0.88" stroke="#fff" stroke-width="0.25"/>
<circle cx="69.9" cy="100.9" r="0.95" fill="#62bd9f" fill-opacity="0.88" stroke="#fff" stroke-width="0.25"/>
<circle cx="79.3" cy="104.6" r="0.95" fill="#62bd9f" fill-opacity="0.88" stroke="#fff" stroke-width="0.25"/>
<circle cx="71.6" cy="90.1" r="0.95" fill="#62bd9f" fill-opacity="0.88" stroke="#fff" stroke-width="0.25"/>
<circle cx="69.7" cy="104.3" r="0.95" fill="#62bd9f" fill-opacity="0.88" stroke="#fff" stroke-width="0.25"/>
<circle cx="72.7" cy="104.4" r="0.95" fill="#62bd9f" fill-opacity="0.88" stroke="#fff" stroke-width="0.25"/>
<circle cx="77.6" cy="97.2" r="0.95" fill="#62bd9f" fill-opacity="0.88" stroke="#fff" stroke-width="0.25"/>
<circle cx="62.9" cy="93.9" r="0.95" fill="#62bd9f" fill-opacity="0.88" stroke="#fff" stroke-width="0.25"/>
<circle cx="76.4" cy="106.1" r="0.95" fill="#62bd9f" fill-opacity="0.88" stroke="#fff" stroke-width="0.25"/>
<circle cx="74.2" cy="97.7" r="0.95" fill="#62bd9f" fill-opacity="0.88" stroke="#fff" stroke-width="0.25"/>
<circle cx="65.7" cy="102.8" r="0.95" fill="#62bd9f" fill-opacity="0.88" stroke="#fff" stroke-width="0.25"/>
<circle cx="83.0" cy="104.3" r="0.95" fill="#62bd9f" fill-opacity="0.88" stroke="#fff" stroke-width="0.25"/>
<circle cx="71.3" cy="95.2" r="0.95" fill="#62bd9f" fill-opacity="0.88" stroke="#fff" stroke-width="0.25"/>
<circle cx="71.6" cy="103.5" r="0.95" fill="#62bd9f" fill-opacity="0.88" stroke="#fff" stroke-width="0.25"/>
<circle cx="74.1" cy="108.6" r="0.95" fill="#62bd9f" fill-opacity="0.88" stroke="#fff" stroke-width="0.25"/>
<circle cx="73.5" cy="99.2" r="0.95" fill="#62bd9f" fill-opacity="0.88" stroke="#fff" stroke-width="0.25"/>
<circle cx="67.7" cy="99.1" r="0.95" fill="#62bd9f" fill-opacity="0.88" stroke="#fff" stroke-width="0.25"/>
<circle cx="75.6" cy="104.6" r="0.95" fill="#62bd9f" fill-opacity="0.88" stroke="#fff" stroke-width="0.25"/>
<circle cx="74.1" cy="91.9" r="0.95" fill="#62bd9f" fill-opacity="0.88" stroke="#fff" stroke-width="0.25"/>
<circle cx="65.5" cy="105.6" r="0.95" fill="#62bd9f" fill-opacity="0.88" stroke="#fff" stroke-width="0.25"/>
<circle cx="76.5" cy="101.1" r="0.95" fill="#62bd9f" fill-opacity="0.88" stroke="#fff" stroke-width="0.25"/>
<circle cx="72.1" cy="99.5" r="0.95" fill="#62bd9f" fill-opacity="0.88" stroke="#fff" stroke-width="0.25"/>
<circle cx="70.2" cy="108.3" r="0.95" fill="#62bd9f" fill-opacity="0.88" stroke="#fff" stroke-width="0.25"/>
<circle cx="69.5" cy="113.0" r="0.95" fill="#62bd9f" fill-opacity="0.88" stroke="#fff" stroke-width="0.25"/>
<circle cx="77.4" cy="100.9" r="0.95" fill="#62bd9f" fill-opacity="0.88" stroke="#fff" stroke-width="0.25"/>
<circle cx="71.0" cy="98.2" r="0.95" fill="#62bd9f" fill-opacity="0.88" stroke="#fff" stroke-width="0.25"/>
<circle cx="75.6" cy="109.1" r="0.95" fill="#62bd9f" fill-opacity="0.88" stroke="#fff" stroke-width="0.25"/>
<circle cx="79.7" cy="92.8" r="0.95" fill="#62bd9f" fill-opacity="0.88" stroke="#fff" stroke-width="0.25"/>
<circle cx="69.4" cy="100.1" r="0.95" fill="#62bd9f" fill-opacity="0.88" stroke="#fff" stroke-width="0.25"/>
<circle cx="74.9" cy="102.8" r="0.95" fill="#62bd9f" fill-opacity="0.88" stroke="#fff" stroke-width="0.25"/>
<circle cx="73.1" cy="93.7" r="0.95" fill="#62bd9f" fill-opacity="0.88" stroke="#fff" stroke-width="0.25"/>
<circle cx="62.1" cy="109.7" r="0.95" fill="#62bd9f" fill-opacity="0.88" stroke="#fff" stroke-width="0.25"/>
<circle cx="72.2" cy="107.6" r="0.95" fill="#62bd9f" fill-opacity="0.88" stroke="#fff" stroke-width="0.25"/>
<circle cx="75.7" cy="98.7" r="0.95" fill="#62bd9f" fill-opacity="0.88" stroke="#fff" stroke-width="0.25"/>
<circle cx="67.1" cy="94.6" r="0.95" fill="#62bd9f" fill-opacity="0.88" stroke="#fff" stroke-width="0.25"/>
<circle cx="77.7" cy="109.5" r="0.95" fill="#62bd9f" fill-opacity="0.88" stroke="#fff" stroke-width="0.25"/>
<circle cx="74.5" cy="96.3" r="0.95" fill="#62bd9f" fill-opacity="0.88" stroke="#fff" stroke-width="0.25"/>
<circle cx="70.4" cy="101.5" r="0.95" fill="#62bd9f" fill-opacity="0.88" stroke="#fff" stroke-width="0.25"/>
<circle cx="78.1" cy="102.7" r="0.95" fill="#62bd9f" fill-opacity="0.88" stroke="#fff" stroke-width="0.25"/>
<circle cx="70.7" cy="87.1" r="0.95" fill="#62bd9f" fill-opacity="0.88" stroke="#fff" stroke-width="0.25"/>
<circle cx="68.9" cy="105.3" r="0.95" fill="#62bd9f" fill-opacity="0.88" stroke="#fff" stroke-width="0.25"/>
<circle cx="73.2" cy="105.1" r="0.95" fill="#62bd9f" fill-opacity="0.88" stroke="#fff" stroke-width="0.25"/>
<circle cx="78.8" cy="95.9" r="0.95" fill="#62bd9f" fill-opacity="0.88" stroke="#fff" stroke-width="0.25"/>
<circle cx="64.3" cy="96.4" r="0.95" fill="#62bd9f" fill-opacity="0.88" stroke="#fff" stroke-width="0.25"/>
<circle cx="76.1" cy="105.1" r="0.95" fill="#62bd9f" fill-opacity="0.88" stroke="#fff" stroke-width="0.25"/>
<circle cx="64.5" cy="106.2" r="0.95" fill="#62bd9f" fill-opacity="0.88" stroke="#fff" stroke-width="0.25"/>
<circle cx="70.0" cy="97.0" r="0.95" fill="#62bd9f" fill-opacity="0.88" stroke="#fff" stroke-width="0.25"/>
<circle cx="90.6" cy="108.2" r="0.95" fill="#62bd9f" fill-opacity="0.88" stroke="#fff" stroke-width="0.25"/>
<circle cx="72.4" cy="117.1" r="0.95" fill="#62bd9f" fill-opacity="0.88" stroke="#fff" stroke-width="0.25"/>
<circle cx="71.1" cy="104.0" r="0.95" fill="#62bd9f" fill-opacity="0.88" stroke="#fff" stroke-width="0.25"/>
<circle cx="77.0" cy="112.7" r="0.95" fill="#62bd9f" fill-opacity="0.88" stroke="#fff" stroke-width="0.25"/>
<circle cx="78.4" cy="106.1" r="0.95" fill="#62bd9f" fill-opacity="0.88" stroke="#fff" stroke-width="0.25"/>
<circle cx="64.3" cy="98.3" r="0.95" fill="#62bd9f" fill-opacity="0.88" stroke="#fff" stroke-width="0.25"/>
<circle cx="71.3" cy="98.7" r="0.95" fill="#62bd9f" fill-opacity="0.88" stroke="#fff" stroke-width="0.25"/>
<circle cx="80.0" cy="88.9" r="0.95" fill="#62bd9f" fill-opacity="0.88" stroke="#fff" stroke-width="0.25"/>
<circle cx="75.0" cy="102.7" r="0.95" fill="#62bd9f" fill-opacity="0.88" stroke="#fff" stroke-width="0.25"/>
<circle cx="73.9" cy="112.9" r="0.95" fill="#62bd9f" fill-opacity="0.88" stroke="#fff" stroke-width="0.25"/>
<circle cx="85.0" cy="106.9" r="0.95" fill="#62bd9f" fill-opacity="0.88" stroke="#fff" stroke-width="0.25"/>
<circle cx="67.7" cy="108.2" r="0.95" fill="#62bd9f" fill-opacity="0.88" stroke="#fff" stroke-width="0.25"/>
<circle cx="73.6" cy="110.5" r="0.95" fill="#62bd9f" fill-opacity="0.88" stroke="#fff" stroke-width="0.25"/>
<circle cx="68.9" cy="97.8" r="0.95" fill="#62bd9f" fill-opacity="0.88" stroke="#fff" stroke-width="0.25"/>
<circle cx="84.5" cy="106.1" r="0.95" fill="#62bd9f" fill-opacity="0.88" stroke="#fff" stroke-width="0.25"/>
<circle cx="57.8" cy="116.3" r="0.95" fill="#62bd9f" fill-opacity="0.88" stroke="#fff" stroke-width="0.25"/>
<circle cx="67.7" cy="95.8" r="0.95" fill="#62bd9f" fill-opacity="0.88" stroke="#fff" stroke-width="0.25"/>
<circle cx="68.8" cy="102.0" r="0.95" fill="#62bd9f" fill-opacity="0.88" stroke="#fff" stroke-width="0.25"/>
<circle cx="78.1" cy="98.4" r="0.95" fill="#62bd9f" fill-opacity="0.88" stroke="#fff" stroke-width="0.25"/>
<circle cx="77.6" cy="100.3" r="0.95" fill="#62bd9f" fill-opacity="0.88" stroke="#fff" stroke-width="0.25"/>
<circle cx="83.7" cy="96.3" r="0.95" fill="#62bd9f" fill-opacity="0.88" stroke="#fff" stroke-width="0.25"/>
<circle cx="60.7" cy="100.8" r="0.95" fill="#62bd9f" fill-opacity="0.88" stroke="#fff" stroke-width="0.25"/>
<circle cx="78.7" cy="91.6" r="0.95" fill="#62bd9f" fill-opacity="0.88" stroke="#fff" stroke-width="0.25"/>
<circle cx="70.7" cy="97.8" r="0.95" fill="#62bd9f" fill-opacity="0.88" stroke="#fff" stroke-width="0.25"/>
<circle cx="112.2" cy="46.8" r="0.95" fill="#e8765a" fill-opacity="0.88" stroke="#fff" stroke-width="0.25"/>
<circle cx="119.0" cy="50.7" r="0.95" fill="#e8765a" fill-opacity="0.88" stroke="#fff" stroke-width="0.25"/>
<circle cx="125.3" cy="48.7" r="0.95" fill="#e8765a" fill-opacity="0.88" stroke="#fff" stroke-width="0.25"/>
<circle cx="114.9" cy="50.3" r="0.95" fill="#e8765a" fill-opacity="0.88" stroke="#fff" stroke-width="0.25"/>
<circle cx="123.7" cy="55.9" r="0.95" fill="#e8765a" fill-opacity="0.88" stroke="#fff" stroke-width="0.25"/>
<circle cx="125.0" cy="43.5" r="0.95" fill="#e8765a" fill-opacity="0.88" stroke="#fff" stroke-width="0.25"/>
<circle cx="117.0" cy="47.1" r="0.95" fill="#e8765a" fill-opacity="0.88" stroke="#fff" stroke-width="0.25"/>
<circle cx="117.2" cy="52.2" r="0.95" fill="#e8765a" fill-opacity="0.88" stroke="#fff" stroke-width="0.25"/>
<circle cx="126.1" cy="50.7" r="0.95" fill="#e8765a" fill-opacity="0.88" stroke="#fff" stroke-width="0.25"/>
<circle cx="104.5" cy="45.5" r="0.95" fill="#e8765a" fill-opacity="0.88" stroke="#fff" stroke-width="0.25"/>
<circle cx="119.8" cy="55.0" r="0.95" fill="#e8765a" fill-opacity="0.88" stroke="#fff" stroke-width="0.25"/>
<circle cx="122.2" cy="48.7" r="0.95" fill="#e8765a" fill-opacity="0.88" stroke="#fff" stroke-width="0.25"/>
<circle cx="110.5" cy="51.8" r="0.95" fill="#e8765a" fill-opacity="0.88" stroke="#fff" stroke-width="0.25"/>
<circle cx="128.0" cy="56.7" r="0.95" fill="#e8765a" fill-opacity="0.88" stroke="#fff" stroke-width="0.25"/>
<circle cx="120.9" cy="46.3" r="0.95" fill="#e8765a" fill-opacity="0.88" stroke="#fff" stroke-width="0.25"/>
<circle cx="118.7" cy="48.3" r="0.95" fill="#e8765a" fill-opacity="0.88" stroke="#fff" stroke-width="0.25"/>
<circle cx="112.3" cy="53.1" r="0.95" fill="#e8765a" fill-opacity="0.88" stroke="#fff" stroke-width="0.25"/>
<circle cx="121.2" cy="50.1" r="0.95" fill="#e8765a" fill-opacity="0.88" stroke="#fff" stroke-width="0.25"/>
<circle cx="115.5" cy="46.2" r="0.95" fill="#e8765a" fill-opacity="0.88" stroke="#fff" stroke-width="0.25"/>
<circle cx="117.5" cy="53.5" r="0.95" fill="#e8765a" fill-opacity="0.88" stroke="#fff" stroke-width="0.25"/>
<circle cx="128.7" cy="48.4" r="0.95" fill="#e8765a" fill-opacity="0.88" stroke="#fff" stroke-width="0.25"/>
<circle cx="108.8" cy="49.5" r="0.95" fill="#e8765a" fill-opacity="0.88" stroke="#fff" stroke-width="0.25"/>
<circle cx="121.5" cy="53.3" r="0.95" fill="#e8765a" fill-opacity="0.88" stroke="#fff" stroke-width="0.25"/>
<circle cx="119.8" cy="48.7" r="0.95" fill="#e8765a" fill-opacity="0.88" stroke="#fff" stroke-width="0.25"/>
<circle cx="116.9" cy="46.0" r="0.95" fill="#e8765a" fill-opacity="0.88" stroke="#fff" stroke-width="0.25"/>
<circle cx="110.4" cy="56.5" r="0.95" fill="#e8765a" fill-opacity="0.88" stroke="#fff" stroke-width="0.25"/>
<circle cx="124.6" cy="51.2" r="0.95" fill="#e8765a" fill-opacity="0.88" stroke="#fff" stroke-width="0.25"/>
<circle cx="115.8" cy="48.5" r="0.95" fill="#e8765a" fill-opacity="0.88" stroke="#fff" stroke-width="0.25"/>
<circle cx="118.6" cy="56.1" r="0.95" fill="#e8765a" fill-opacity="0.88" stroke="#fff" stroke-width="0.25"/>
<circle cx="128.3" cy="47.0" r="0.95" fill="#e8765a" fill-opacity="0.88" stroke="#fff" stroke-width="0.25"/>
<circle cx="113.2" cy="50.7" r="0.95" fill="#e8765a" fill-opacity="0.88" stroke="#fff" stroke-width="0.25"/>
<circle cx="120.7" cy="51.6" r="0.95" fill="#e8765a" fill-opacity="0.88" stroke="#fff" stroke-width="0.25"/>
<circle cx="122.3" cy="45.4" r="0.95" fill="#e8765a" fill-opacity="0.88" stroke="#fff" stroke-width="0.25"/>
<circle cx="111.0" cy="40.5" r="0.95" fill="#e8765a" fill-opacity="0.88" stroke="#fff" stroke-width="0.25"/>
<circle cx="115.2" cy="54.4" r="0.95" fill="#e8765a" fill-opacity="0.88" stroke="#fff" stroke-width="0.25"/>
<circle cx="123.2" cy="50.9" r="0.95" fill="#e8765a" fill-opacity="0.88" stroke="#fff" stroke-width="0.25"/>
<circle cx="110.9" cy="47.9" r="0.95" fill="#e8765a" fill-opacity="0.88" stroke="#fff" stroke-width="0.25"/>
<circle cx="121.4" cy="57.3" r="0.95" fill="#e8765a" fill-opacity="0.88" stroke="#fff" stroke-width="0.25"/>
<circle cx="123.0" cy="48.0" r="0.95" fill="#e8765a" fill-opacity="0.88" stroke="#fff" stroke-width="0.25"/>
<circle cx="116.6" cy="50.9" r="0.95" fill="#e8765a" fill-opacity="0.88" stroke="#fff" stroke-width="0.25"/>
<circle cx="125.2" cy="53.3" r="0.95" fill="#e8765a" fill-opacity="0.88" stroke="#fff" stroke-width="0.25"/>
<circle cx="121.4" cy="40.6" r="0.95" fill="#e8765a" fill-opacity="0.88" stroke="#fff" stroke-width="0.25"/>
<circle cx="119.1" cy="46.2" r="0.95" fill="#e8765a" fill-opacity="0.88" stroke="#fff" stroke-width="0.25"/>
<circle cx="115.4" cy="51.5" r="0.95" fill="#e8765a" fill-opacity="0.88" stroke="#fff" stroke-width="0.25"/>
<circle cx="127.2" cy="53.3" r="0.95" fill="#e8765a" fill-opacity="0.88" stroke="#fff" stroke-width="0.25"/>
<circle cx="112.2" cy="44.0" r="0.95" fill="#e8765a" fill-opacity="0.88" stroke="#fff" stroke-width="0.25"/>
<circle cx="117.5" cy="53.5" r="0.95" fill="#e8765a" fill-opacity="0.88" stroke="#fff" stroke-width="0.25"/>
<circle cx="122.2" cy="50.3" r="0.95" fill="#e8765a" fill-opacity="0.88" stroke="#fff" stroke-width="0.25"/>
<circle cx="111.8" cy="49.3" r="0.95" fill="#e8765a" fill-opacity="0.88" stroke="#fff" stroke-width="0.25"/>
<circle cx="119.3" cy="50.8" r="0.95" fill="#e8765a" fill-opacity="0.88" stroke="#fff" stroke-width="0.25"/>
<circle cx="123.9" cy="46.9" r="0.95" fill="#e8765a" fill-opacity="0.88" stroke="#fff" stroke-width="0.25"/>
<circle cx="119.6" cy="47.6" r="0.95" fill="#e8765a" fill-opacity="0.88" stroke="#fff" stroke-width="0.25"/>
<circle cx="112.1" cy="54.7" r="0.95" fill="#e8765a" fill-opacity="0.88" stroke="#fff" stroke-width="0.25"/>
<circle cx="128.7" cy="52.5" r="0.95" fill="#e8765a" fill-opacity="0.88" stroke="#fff" stroke-width="0.25"/>
<circle cx="115.4" cy="47.7" r="0.95" fill="#e8765a" fill-opacity="0.88" stroke="#fff" stroke-width="0.25"/>
<circle cx="119.0" cy="51.9" r="0.95" fill="#e8765a" fill-opacity="0.88" stroke="#fff" stroke-width="0.25"/>
<circle cx="126.6" cy="48.5" r="0.95" fill="#e8765a" fill-opacity="0.88" stroke="#fff" stroke-width="0.25"/>
<circle cx="105.4" cy="50.0" r="0.95" fill="#e8765a" fill-opacity="0.88" stroke="#fff" stroke-width="0.25"/>
<circle cx="121.4" cy="54.2" r="0.95" fill="#e8765a" fill-opacity="0.88" stroke="#fff" stroke-width="0.25"/>
<circle cx="121.0" cy="48.0" r="0.95" fill="#e8765a" fill-opacity="0.88" stroke="#fff" stroke-width="0.25"/>
<circle cx="115.9" cy="44.8" r="0.95" fill="#e8765a" fill-opacity="0.88" stroke="#fff" stroke-width="0.25"/>
<circle cx="112.3" cy="56.9" r="0.95" fill="#e8765a" fill-opacity="0.88" stroke="#fff" stroke-width="0.25"/>
<circle cx="125.3" cy="50.9" r="0.95" fill="#e8765a" fill-opacity="0.88" stroke="#fff" stroke-width="0.25"/>
<circle cx="116.7" cy="49.3" r="0.95" fill="#e8765a" fill-opacity="0.88" stroke="#fff" stroke-width="0.25"/>
<circle cx="120.0" cy="55.8" r="0.95" fill="#e8765a" fill-opacity="0.88" stroke="#fff" stroke-width="0.25"/>
<circle cx="119.4" cy="50.2" r="0.95" fill="#e8765a" fill-opacity="0.88" stroke="#fff" stroke-width="0.25"/>
<circle cx="113.1" cy="51.5" r="0.95" fill="#e8765a" fill-opacity="0.88" stroke="#fff" stroke-width="0.25"/>
<circle cx="123.1" cy="52.1" r="0.95" fill="#e8765a" fill-opacity="0.88" stroke="#fff" stroke-width="0.25"/>
<circle cx="122.3" cy="44.0" r="0.95" fill="#e8765a" fill-opacity="0.88" stroke="#fff" stroke-width="0.25"/>
<circle cx="119.2" cy="42.5" r="0.95" fill="#e8765a" fill-opacity="0.88" stroke="#fff" stroke-width="0.25"/>
<circle cx="114.8" cy="51.8" r="0.95" fill="#e8765a" fill-opacity="0.88" stroke="#fff" stroke-width="0.25"/>
<circle cx="122.3" cy="51.0" r="0.95" fill="#e8765a" fill-opacity="0.88" stroke="#fff" stroke-width="0.25"/>
<circle cx="113.8" cy="45.6" r="0.95" fill="#e8765a" fill-opacity="0.88" stroke="#fff" stroke-width="0.25"/>
<circle cx="114.0" cy="60.7" r="0.95" fill="#e8765a" fill-opacity="0.88" stroke="#fff" stroke-width="0.25"/>
<circle cx="127.0" cy="43.2" r="0.95" fill="#e8765a" fill-opacity="0.88" stroke="#fff" stroke-width="0.25"/>
<circle cx="116.1" cy="50.4" r="0.95" fill="#e8765a" fill-opacity="0.88" stroke="#fff" stroke-width="0.25"/>
<circle cx="137.2" cy="43.1" r="0.95" fill="#e8765a" fill-opacity="0.88" stroke="#fff" stroke-width="0.25"/>
<circle cx="135.7" cy="49.4" r="0.95" fill="#e8765a" fill-opacity="0.88" stroke="#fff" stroke-width="0.25"/>
<circle cx="100.3" cy="50.1" r="0.95" fill="#e8765a" fill-opacity="0.88" stroke="#fff" stroke-width="0.25"/>
<circle cx="109.8" cy="46.0" r="0.95" fill="#e8765a" fill-opacity="0.88" stroke="#fff" stroke-width="0.25"/>
<circle cx="125.6" cy="43.0" r="0.95" fill="#e8765a" fill-opacity="0.88" stroke="#fff" stroke-width="0.25"/>
<circle cx="126.9" cy="51.6" r="0.95" fill="#e8765a" fill-opacity="0.88" stroke="#fff" stroke-width="0.25"/>
<circle cx="126.3" cy="51.0" r="0.95" fill="#e8765a" fill-opacity="0.88" stroke="#fff" stroke-width="0.25"/>
<circle cx="118.5" cy="50.5" r="0.95" fill="#e8765a" fill-opacity="0.88" stroke="#fff" stroke-width="0.25"/>
<circle cx="123.6" cy="49.0" r="0.95" fill="#e8765a" fill-opacity="0.88" stroke="#fff" stroke-width="0.25"/>
<circle cx="125.5" cy="55.1" r="0.95" fill="#e8765a" fill-opacity="0.88" stroke="#fff" stroke-width="0.25"/>
<circle cx="118.5" cy="43.2" r="0.95" fill="#e8765a" fill-opacity="0.88" stroke="#fff" stroke-width="0.25"/>
<circle cx="129.2" cy="52.0" r="0.95" fill="#e8765a" fill-opacity="0.88" stroke="#fff" stroke-width="0.25"/>
<circle cx="97.4" cy="46.7" r="0.95" fill="#e8765a" fill-opacity="0.88" stroke="#fff" stroke-width="0.25"/>
<circle cx="125.3" cy="54.6" r="0.95" fill="#e8765a" fill-opacity="0.88" stroke="#fff" stroke-width="0.25"/>
<circle cx="109.2" cy="47.3" r="0.95" fill="#e8765a" fill-opacity="0.88" stroke="#fff" stroke-width="0.25"/>
<circle cx="128.5" cy="47.1" r="0.95" fill="#e8765a" fill-opacity="0.88" stroke="#fff" stroke-width="0.25"/>
<circle cx="117.0" cy="52.1" r="0.95" fill="#e8765a" fill-opacity="0.88" stroke="#fff" stroke-width="0.25"/>
<circle cx="110.6" cy="37.1" r="0.95" fill="#e8765a" fill-opacity="0.88" stroke="#fff" stroke-width="0.25"/>
<circle cx="122.8" cy="47.2" r="0.95" fill="#e8765a" fill-opacity="0.88" stroke="#fff" stroke-width="0.25"/>
<circle cx="110.4" cy="38.6" r="0.95" fill="#e8765a" fill-opacity="0.88" stroke="#fff" stroke-width="0.25"/>
<circle cx="110.4" cy="43.6" r="0.95" fill="#e8765a" fill-opacity="0.88" stroke="#fff" stroke-width="0.25"/>
<circle cx="104.1" cy="53.6" r="0.95" fill="#e8765a" fill-opacity="0.88" stroke="#fff" stroke-width="0.25"/>
<circle cx="119.0" cy="51.9" r="0.95" fill="#e8765a" fill-opacity="0.88" stroke="#fff" stroke-width="0.25"/>
<circle cx="124.0" cy="46.8" r="0.95" fill="#e8765a" fill-opacity="0.88" stroke="#fff" stroke-width="0.25"/>
<path d="M225.2,62.8 L224.2,62.8 L223.6,62.9 L222.6,63.2 L222.1,63.4 L221.5,63.8 L221.0,64.3 L220.5,65.2 L220.4,65.9 L220.5,66.9 L220.7,67.5 L221.0,68.0 L221.6,68.6 L222.1,69.1 L222.7,69.6 L223.6,70.0 L224.2,70.1 L225.2,70.2 L226.0,70.1 L226.8,69.8 L227.3,69.5 L228.0,69.0 L228.5,68.5 L228.9,67.9 L229.3,66.9 L229.3,65.9 L228.9,64.9 L228.4,64.2 L227.8,63.7 L227.1,63.3 L226.3,62.9 L225.4,62.8Z" fill="none" stroke="#5288b3" stroke-width="0.85"/>
<path d="M225.2,60.1 L224.2,60.0 L223.1,60.1 L222.6,60.2 L221.6,60.6 L221.0,60.8 L220.3,61.2 L219.5,61.7 L218.9,62.2 L218.4,62.8 L218.0,63.3 L217.7,63.8 L217.4,64.9 L217.5,65.9 L217.8,66.9 L218.0,67.5 L218.4,68.3 L218.9,69.0 L219.3,69.6 L219.7,70.1 L220.2,70.6 L220.8,71.1 L221.6,71.6 L222.1,71.9 L222.7,72.2 L223.6,72.5 L224.7,72.6 L225.7,72.6 L226.8,72.4 L227.7,72.2 L228.4,71.8 L228.9,71.5 L229.5,71.1 L230.1,70.6 L230.6,70.1 L231.0,69.6 L231.5,68.9 L232.0,68.0 L232.1,67.5 L232.2,66.4 L232.0,65.4 L231.8,64.9 L231.5,64.2 L231.0,63.5 L230.4,62.8 L229.9,62.3 L229.4,61.9 L228.9,61.5 L228.4,61.1 L227.5,60.7 L226.8,60.4 L225.7,60.2Z" fill="none" stroke="#5288b3" stroke-width="0.85"/>
<path d="M224.7,57.0 L223.6,56.9 L222.6,56.8 L221.6,56.8 L220.9,57.0 L220.0,57.5 L219.5,57.9 L218.9,58.3 L218.4,58.8 L217.9,59.3 L217.4,59.8 L216.8,60.3 L216.3,60.8 L215.8,61.5 L215.3,62.3 L215.1,62.8 L214.9,63.8 L214.9,64.9 L215.1,65.9 L215.3,66.5 L215.7,67.5 L215.9,68.0 L216.3,68.8 L216.8,69.6 L217.1,70.1 L217.5,70.6 L217.9,71.2 L218.4,71.8 L218.9,72.3 L219.5,72.7 L220.1,73.2 L221.0,73.7 L221.6,74.0 L222.3,74.2 L223.1,74.5 L224.2,74.7 L224.7,74.8 L225.7,74.9 L226.8,74.8 L227.3,74.7 L228.4,74.4 L228.9,74.2 L229.9,73.7 L230.4,73.4 L231.0,73.0 L231.5,72.6 L232.0,72.1 L232.5,71.5 L233.1,70.9 L233.6,70.2 L234.0,69.6 L234.2,69.0 L234.6,68.0 L234.6,67.5 L234.7,66.4 L234.6,65.9 L234.3,64.9 L234.1,64.3 L233.6,63.4 L233.2,62.8 L232.8,62.3 L232.3,61.7 L231.9,61.2 L231.4,60.7 L230.8,60.2 L230.3,59.6 L229.6,59.1 L228.9,58.6 L228.0,58.1 L227.3,57.8 L226.7,57.6 L225.7,57.3 L224.7,57.0Z" fill="none" stroke="#5288b3" stroke-width="0.85"/>
<path d="M224.7,52.3 L223.6,52.1 L222.6,52.0 L221.6,51.9 L220.5,52.0 L219.5,52.1 L218.7,52.4 L217.9,52.7 L217.4,53.0 L216.7,53.4 L216.1,53.9 L215.6,54.4 L215.1,55.0 L214.7,55.5 L214.2,56.2 L213.7,57.0 L213.3,57.6 L213.0,58.1 L212.7,58.7 L212.2,59.6 L212.0,60.2 L211.8,61.2 L211.7,62.3 L211.7,63.3 L211.9,64.3 L212.1,65.3 L212.3,65.9 L212.7,66.7 L213.0,67.5 L213.2,68.0 L213.7,69.0 L214.0,69.6 L214.3,70.1 L214.8,71.0 L215.1,71.6 L215.5,72.2 L215.8,72.7 L216.3,73.3 L216.8,73.8 L217.4,74.3 L217.9,74.8 L218.7,75.3 L219.5,75.7 L220.0,75.9 L220.9,76.3 L221.6,76.6 L222.3,76.8 L223.1,77.1 L224.0,77.4 L224.7,77.6 L225.7,77.7 L226.8,77.7 L227.8,77.6 L228.9,77.4 L229.4,77.3 L230.4,77.1 L231.2,76.8 L232.0,76.6 L232.7,76.3 L233.5,75.8 L234.1,75.3 L234.5,74.8 L234.8,74.2 L235.2,73.7 L235.7,72.7 L236.2,71.7 L236.5,71.1 L236.8,70.6 L237.2,69.6 L237.3,69.0 L237.5,68.0 L237.5,66.9 L237.4,65.9 L237.2,64.9 L237.1,64.3 L236.8,63.3 L236.5,62.8 L236.2,62.1 L235.7,61.2 L235.3,60.7 L235.0,60.2 L234.6,59.6 L234.1,59.0 L233.6,58.3 L233.1,57.6 L232.7,57.0 L232.2,56.5 L231.8,56.0 L231.3,55.5 L230.7,55.0 L230.0,54.4 L229.4,54.0 L228.9,53.7 L228.2,53.4 L227.3,53.0 L226.8,52.9 L225.7,52.5 L225.0,52.4Z" fill="none" stroke="#5288b3" stroke-width="0.85"/>
<path d="M287.8,65.7 L286.8,65.6 L286.1,65.8 L285.2,66.3 L284.8,66.8 L284.5,67.3 L284.2,68.4 L284.1,68.9 L284.2,69.9 L284.3,70.5 L284.6,71.5 L284.9,72.1 L285.3,72.6 L286.3,73.5 L286.8,73.8 L287.8,73.9 L288.5,73.6 L289.3,73.1 L289.8,72.6 L290.1,72.1 L290.4,71.0 L290.5,70.3 L290.5,69.8 L290.4,68.9 L290.1,67.9 L289.8,67.3 L289.4,66.8 L288.9,66.3 L288.0,65.8Z" fill="none" stroke="#a2538c" stroke-width="0.85"/>
<path d="M289.4,63.1 L288.4,62.8 L287.3,62.8 L286.3,63.0 L285.7,63.1 L284.7,63.7 L284.1,64.2 L283.6,64.7 L283.1,65.5 L282.7,66.3 L282.5,66.8 L282.3,67.9 L282.2,68.9 L282.3,70.0 L282.4,71.0 L282.6,71.6 L282.9,72.6 L283.2,73.1 L283.6,74.0 L284.1,74.7 L284.6,75.2 L285.2,75.7 L285.7,76.1 L286.3,76.4 L287.3,76.7 L288.4,76.7 L289.3,76.3 L290.0,75.9 L290.5,75.4 L291.0,74.8 L291.5,74.2 L291.8,73.6 L292.1,72.9 L292.3,72.1 L292.4,71.0 L292.4,70.0 L292.3,68.9 L292.2,67.9 L292.1,67.3 L291.8,66.3 L291.5,65.6 L291.1,64.7 L290.8,64.2 L290.3,63.7 L289.5,63.1Z" fill="none" stroke="#a2538c" stroke-width="0.85"/>
<path d="M290.0,59.9 L288.9,59.8 L287.8,59.8 L286.8,60.0 L286.3,60.1 L285.2,60.5 L284.7,60.7 L284.2,61.1 L283.5,61.6 L282.9,62.1 L282.5,62.6 L282.1,63.3 L281.6,64.2 L281.4,64.7 L281.0,65.8 L280.9,66.3 L280.7,67.3 L280.6,68.4 L280.6,69.4 L280.6,70.5 L280.7,71.5 L281.0,72.6 L281.1,73.1 L281.5,74.2 L281.7,74.7 L282.1,75.3 L282.6,76.1 L283.1,76.8 L283.5,77.3 L284.1,77.8 L284.6,78.4 L285.2,78.8 L285.7,79.2 L286.3,79.5 L287.3,79.8 L288.4,79.7 L289.0,79.4 L289.9,78.9 L290.5,78.4 L291.0,77.9 L291.5,77.3 L292.0,76.8 L292.4,76.3 L292.7,75.7 L293.1,75.1 L293.5,74.2 L293.7,73.6 L294.0,72.6 L294.1,71.5 L294.1,70.5 L294.0,69.4 L293.9,68.4 L293.7,67.3 L293.6,66.7 L293.5,65.8 L293.3,64.7 L293.1,63.7 L293.0,63.1 L292.6,62.1 L292.4,61.6 L292.0,61.0 L291.5,60.5 L290.5,60.0Z" fill="none" stroke="#a2538c" stroke-width="0.85"/>
<path d="M291.0,56.3 L290.0,56.1 L288.9,56.0 L287.8,56.0 L286.8,56.1 L285.7,56.2 L284.8,56.3 L284.2,56.5 L283.1,56.8 L282.6,57.1 L282.0,57.4 L281.2,57.9 L280.6,58.4 L280.1,59.0 L279.7,59.5 L279.4,60.0 L279.0,61.0 L278.8,61.6 L278.7,62.6 L278.6,63.7 L278.5,64.7 L278.4,65.8 L278.4,66.3 L278.2,67.3 L278.1,68.4 L278.0,69.4 L277.9,70.5 L277.8,71.0 L277.8,72.1 L277.8,72.7 L278.0,73.6 L278.2,74.7 L278.4,75.2 L278.9,76.2 L279.2,76.8 L279.5,77.3 L279.9,77.9 L280.5,78.6 L281.0,79.2 L281.5,79.9 L282.0,80.5 L282.4,81.0 L282.8,81.5 L283.2,82.0 L283.6,82.6 L284.2,83.2 L284.7,83.7 L285.6,84.1 L286.3,84.2 L287.2,84.1 L287.8,84.0 L288.9,83.6 L289.4,83.3 L290.0,83.0 L290.6,82.6 L291.1,82.0 L291.6,81.5 L292.1,81.0 L292.6,80.3 L293.1,79.6 L293.6,78.9 L294.0,78.4 L294.3,77.8 L294.7,77.2 L295.2,76.3 L295.5,75.7 L295.8,75.2 L296.1,74.2 L296.4,73.1 L296.5,72.1 L296.5,71.0 L296.4,70.0 L296.3,69.1 L296.2,68.4 L296.1,67.3 L296.0,66.3 L295.9,65.2 L295.9,64.2 L295.8,63.1 L295.7,62.6 L295.5,61.6 L295.2,60.6 L295.0,60.0 L294.7,59.4 L294.2,58.6 L293.6,57.9 L293.1,57.4 L292.6,57.0 L292.1,56.7 L291.0,56.3Z" fill="none" stroke="#a2538c" stroke-width="0.85"/>
<path d="M258.1,36.8 L257.0,36.9 L256.4,37.1 L255.8,37.4 L255.3,38.1 L254.9,39.0 L254.7,39.5 L254.6,40.5 L254.6,41.6 L254.7,42.3 L255.1,43.2 L255.5,43.7 L256.1,44.2 L257.0,44.6 L258.1,44.7 L259.2,44.4 L259.7,44.0 L260.3,43.3 L260.6,42.6 L260.8,42.0 L260.9,41.1 L260.9,40.0 L260.8,39.5 L260.4,38.4 L260.0,37.9 L259.5,37.4 L258.6,36.9 L258.1,36.8Z" fill="none" stroke="#ee9a52" stroke-width="0.85"/>
<path d="M258.6,34.6 L257.5,34.5 L256.4,34.6 L255.8,34.8 L254.7,35.2 L254.2,35.6 L253.6,36.2 L253.2,36.9 L253.0,37.4 L252.6,38.4 L252.5,39.0 L252.4,40.0 L252.3,41.1 L252.3,42.1 L252.5,43.2 L252.7,43.7 L253.1,44.4 L253.6,45.2 L254.2,45.7 L254.7,46.2 L255.3,46.5 L256.4,47.1 L257.5,47.3 L258.6,47.3 L259.7,47.0 L260.3,46.7 L260.8,46.3 L261.4,45.8 L261.9,45.1 L262.4,44.2 L262.6,43.7 L262.9,42.6 L263.0,41.9 L263.1,41.1 L263.0,40.4 L262.9,39.5 L262.6,38.4 L262.5,37.9 L261.9,36.9 L261.6,36.3 L261.1,35.8 L260.4,35.3 L259.7,35.0 L259.2,34.8Z" fill="none" stroke="#ee9a52" stroke-width="0.85"/>
<path d="M259.7,32.7 L258.6,32.5 L257.5,32.4 L256.4,32.5 L255.4,32.7 L254.7,32.9 L253.9,33.2 L253.1,33.7 L252.5,34.1 L252.0,34.6 L251.5,35.3 L251.2,35.8 L250.9,36.5 L250.6,37.4 L250.3,38.4 L250.2,39.0 L250.1,40.0 L250.0,41.1 L250.0,42.1 L250.1,43.2 L250.3,43.8 L250.7,44.7 L251.0,45.3 L251.4,45.8 L252.0,46.4 L252.5,47.0 L253.1,47.5 L253.6,48.0 L254.2,48.4 L254.9,48.9 L255.7,49.5 L256.4,49.8 L257.2,50.0 L258.1,50.1 L259.2,49.9 L260.3,49.5 L260.8,49.2 L261.4,48.9 L262.0,48.4 L262.6,47.9 L263.0,47.4 L263.6,46.6 L264.1,45.8 L264.4,45.3 L264.7,44.4 L264.9,43.7 L265.1,42.6 L265.1,41.6 L265.1,40.5 L264.9,39.5 L264.7,38.7 L264.5,37.9 L264.1,36.9 L263.9,36.3 L263.6,35.7 L263.1,34.8 L262.6,34.2 L262.0,33.7 L261.4,33.3 L260.8,33.0 L259.7,32.7Z" fill="none" stroke="#ee9a52" stroke-width="0.85"/>
<path d="M259.7,28.9 L258.6,28.6 L257.5,28.5 L256.4,28.8 L255.8,29.0 L254.8,29.5 L254.2,29.8 L253.6,30.1 L252.8,30.6 L252.0,31.0 L251.4,31.3 L250.9,31.7 L250.2,32.1 L249.6,32.7 L249.0,33.2 L248.5,33.7 L248.0,34.2 L247.4,34.8 L246.7,35.3 L246.1,35.8 L245.7,36.3 L245.3,37.4 L245.4,38.4 L245.6,39.5 L245.9,40.3 L246.1,41.1 L246.4,42.1 L246.5,42.6 L246.8,43.7 L247.0,44.2 L247.5,45.3 L247.9,45.8 L248.3,46.3 L248.8,46.8 L249.3,47.4 L249.8,47.9 L250.3,48.4 L250.9,48.9 L251.4,49.5 L252.0,50.1 L252.5,50.7 L253.1,51.3 L253.6,51.9 L254.2,52.4 L254.7,52.9 L255.3,53.2 L256.3,53.7 L257.0,53.8 L258.1,53.9 L259.0,53.7 L259.7,53.4 L260.4,53.1 L261.4,52.7 L261.9,52.4 L262.5,52.1 L263.4,51.6 L264.1,51.0 L264.7,50.5 L265.2,50.0 L265.6,49.5 L266.0,48.9 L266.4,48.4 L266.9,47.7 L267.4,46.8 L267.7,46.3 L268.0,45.3 L268.2,44.7 L268.3,43.7 L268.2,42.6 L268.1,41.6 L268.0,41.1 L267.8,40.0 L267.5,39.0 L267.4,38.4 L267.1,37.4 L266.9,36.7 L266.7,35.8 L266.4,34.8 L266.3,34.2 L266.0,33.2 L265.7,32.7 L265.3,31.8 L264.7,31.2 L264.1,30.7 L263.6,30.4 L262.8,30.0 L261.9,29.7 L261.4,29.5 L260.3,29.1 L259.7,28.9Z" fill="none" stroke="#ee9a52" stroke-width="0.85"/>
<path d="M239.2,97.2 L238.6,97.2 L237.6,97.6 L237.0,98.0 L236.6,98.8 L236.5,99.3 L236.4,100.3 L236.5,101.3 L236.7,101.8 L237.0,102.7 L237.4,103.4 L237.9,103.9 L238.5,104.4 L239.2,104.7 L240.2,104.9 L241.3,104.6 L241.8,104.3 L242.3,103.6 L242.6,102.9 L242.9,102.0 L242.9,101.3 L242.9,100.8 L242.6,99.8 L242.3,99.1 L241.8,98.5 L241.3,98.0 L240.7,97.7 L239.7,97.3 L239.2,97.2Z" fill="none" stroke="#62bd9f" stroke-width="0.85"/>
<path d="M240.7,95.2 L239.7,95.0 L238.6,94.9 L237.6,95.1 L237.0,95.2 L236.1,95.7 L235.6,96.2 L235.2,96.7 L234.9,97.3 L234.7,98.3 L234.5,99.3 L234.6,100.3 L234.7,101.3 L234.8,102.4 L235.0,102.9 L235.3,103.9 L235.6,104.4 L236.0,105.1 L236.5,105.8 L237.0,106.3 L237.6,106.7 L238.1,107.1 L239.0,107.5 L239.7,107.7 L240.7,107.7 L241.6,107.5 L242.3,107.1 L242.9,106.6 L243.4,106.1 L243.9,105.4 L244.1,104.9 L244.4,104.1 L244.6,103.4 L244.8,102.4 L244.8,101.3 L244.7,100.3 L244.6,99.3 L244.4,98.7 L244.1,97.8 L243.8,97.2 L243.4,96.7 L242.3,95.9 L241.8,95.6 L240.8,95.2Z" fill="none" stroke="#62bd9f" stroke-width="0.85"/>
<path d="M241.3,93.0 L240.2,92.8 L239.2,92.8 L238.1,92.9 L237.0,93.1 L236.5,93.3 L235.5,93.7 L234.9,94.0 L234.4,94.4 L233.9,94.9 L233.4,95.7 L233.1,96.2 L232.9,97.2 L232.8,97.9 L232.8,98.8 L232.8,99.8 L232.9,100.8 L233.0,101.8 L233.1,102.9 L233.3,103.9 L233.4,104.4 L233.7,105.4 L233.9,105.9 L234.4,106.9 L234.8,107.5 L235.2,108.0 L235.7,108.5 L236.3,109.0 L237.0,109.5 L237.6,109.8 L238.1,110.0 L239.2,110.4 L239.7,110.5 L240.7,110.6 L241.3,110.5 L242.3,110.0 L242.9,109.6 L243.4,109.2 L243.9,108.7 L244.4,108.1 L244.9,107.5 L245.3,107.0 L245.6,106.4 L246.0,105.5 L246.2,104.9 L246.4,103.9 L246.5,102.9 L246.4,101.8 L246.4,100.8 L246.3,99.8 L246.2,98.8 L246.1,97.8 L246.0,97.2 L245.6,96.2 L245.4,95.7 L245.0,95.1 L244.4,94.5 L243.9,94.1 L243.1,93.7 L242.3,93.3 L241.7,93.2Z" fill="none" stroke="#62bd9f" stroke-width="0.85"/>
<path d="M241.3,89.5 L240.2,89.4 L239.2,89.4 L238.3,89.6 L237.6,89.8 L237.0,90.1 L236.0,90.6 L235.5,90.8 L234.8,91.1 L233.9,91.6 L233.3,91.9 L232.8,92.2 L232.1,92.6 L231.6,93.2 L231.1,93.7 L230.7,94.3 L230.3,95.2 L230.2,95.8 L230.0,96.7 L230.0,97.8 L230.1,98.8 L230.2,99.7 L230.2,100.3 L230.4,101.3 L230.5,102.4 L230.5,103.4 L230.6,104.4 L230.7,105.4 L230.7,105.9 L230.9,107.0 L231.2,107.8 L231.5,108.5 L231.9,109.0 L232.3,109.5 L232.8,110.1 L233.3,110.6 L233.9,111.1 L234.9,112.0 L235.5,112.3 L236.0,112.7 L236.6,113.1 L237.6,113.6 L238.1,113.8 L239.0,114.1 L239.7,114.2 L240.7,114.2 L241.3,114.1 L242.3,113.7 L242.9,113.4 L243.4,113.0 L243.9,112.6 L244.4,112.1 L245.0,111.5 L245.5,110.9 L246.0,110.2 L246.6,109.7 L247.1,109.1 L247.6,108.7 L248.1,108.2 L248.7,107.9 L249.3,107.5 L249.9,107.0 L250.3,106.4 L250.3,105.4 L250.2,104.9 L249.7,104.1 L249.4,103.4 L249.2,102.9 L248.9,101.8 L248.7,101.0 L248.6,100.3 L248.6,99.3 L248.6,98.3 L248.7,97.2 L248.6,96.2 L248.5,95.2 L248.2,94.2 L248.0,93.7 L247.6,92.9 L247.1,92.1 L246.7,91.6 L246.2,91.1 L245.5,90.7 L245.0,90.5 L243.9,90.2 L243.4,90.0 L242.3,89.8 L241.5,89.6Z" fill="none" stroke="#62bd9f" stroke-width="0.85"/>
<path d="M288.5,48.1 L287.4,47.8 L286.2,47.8 L285.0,47.9 L284.0,48.2 L283.3,48.6 L282.7,49.0 L282.2,49.6 L281.9,50.0 L281.9,51.0 L282.1,51.4 L282.7,51.9 L283.5,52.3 L284.4,52.6 L285.6,52.7 L286.8,52.7 L288.0,52.4 L288.5,52.3 L289.5,51.9 L290.1,51.4 L290.4,51.0 L290.5,50.0 L290.3,49.5 L289.7,48.8 L289.1,48.4 L288.5,48.1Z" fill="none" stroke="#e8765a" stroke-width="0.85"/>
<path d="M289.1,46.4 L288.0,46.1 L286.8,46.0 L285.6,46.0 L284.4,46.1 L283.3,46.3 L282.7,46.5 L281.8,46.8 L281.1,47.3 L280.6,47.8 L280.1,48.2 L279.7,48.9 L279.4,49.6 L279.3,50.5 L279.6,51.4 L279.8,51.9 L280.3,52.4 L280.9,52.9 L281.6,53.2 L282.7,53.7 L283.3,53.8 L284.4,54.1 L285.6,54.2 L286.8,54.2 L287.6,54.2 L288.5,54.0 L289.7,53.8 L290.3,53.6 L291.2,53.2 L291.9,52.8 L292.5,52.3 L292.8,51.9 L293.1,51.0 L293.0,50.0 L292.7,49.1 L292.5,48.7 L292.1,48.1 L291.5,47.6 L290.9,47.1 L290.3,46.8 L289.2,46.4Z" fill="none" stroke="#e8765a" stroke-width="0.85"/>
<path d="M289.1,44.5 L288.0,44.3 L286.8,44.3 L285.6,44.3 L284.4,44.4 L283.3,44.5 L282.7,44.6 L281.5,44.7 L280.4,45.0 L279.7,45.2 L279.1,45.5 L278.4,45.9 L277.9,46.4 L277.4,47.1 L277.1,47.8 L276.8,48.7 L276.8,49.6 L276.9,50.5 L277.2,51.4 L277.5,51.9 L278.0,52.6 L278.6,53.2 L279.1,53.7 L279.7,54.1 L280.3,54.4 L280.9,54.6 L282.1,55.0 L282.7,55.2 L283.8,55.5 L284.4,55.6 L285.6,55.7 L286.8,55.8 L288.0,55.8 L289.1,55.7 L289.8,55.5 L290.9,55.3 L291.5,55.1 L292.5,54.6 L293.2,54.2 L293.8,53.8 L294.4,53.2 L294.7,52.8 L295.0,52.1 L295.2,51.4 L295.2,50.5 L295.0,49.6 L294.9,49.1 L294.5,48.2 L294.3,47.8 L293.8,47.2 L293.2,46.6 L292.7,46.1 L292.1,45.7 L291.5,45.3 L290.8,45.0 L289.7,44.6 L289.1,44.5Z" fill="none" stroke="#e8765a" stroke-width="0.85"/>
<path d="M290.9,41.8 L289.7,41.5 L288.5,41.4 L287.4,41.4 L286.2,41.5 L285.0,41.6 L283.9,41.8 L283.3,41.9 L282.1,42.1 L280.9,42.2 L279.7,42.2 L279.1,42.3 L278.0,42.5 L277.2,42.7 L276.3,43.2 L275.6,43.6 L275.0,44.0 L274.4,44.5 L273.9,45.0 L273.5,45.5 L273.2,45.9 L272.8,46.8 L272.6,47.3 L272.5,48.2 L272.5,49.1 L272.7,50.0 L273.1,51.0 L273.4,51.4 L273.9,52.1 L274.3,52.8 L274.7,53.2 L275.0,53.7 L275.6,54.5 L276.1,55.1 L276.5,55.5 L277.1,56.0 L277.9,56.5 L278.6,56.7 L279.3,56.9 L280.3,57.1 L281.5,57.3 L282.3,57.4 L283.3,57.5 L284.4,57.7 L285.6,57.8 L286.2,57.9 L287.4,57.9 L288.5,57.9 L289.5,57.8 L290.3,57.7 L291.5,57.5 L292.1,57.4 L293.2,57.0 L293.8,56.7 L294.4,56.4 L295.1,56.0 L295.7,55.5 L296.2,55.0 L296.8,54.3 L297.2,53.7 L297.5,53.2 L297.8,52.3 L297.9,51.7 L298.0,51.0 L298.0,50.0 L297.9,49.3 L297.8,48.7 L297.5,47.8 L297.3,47.3 L296.8,46.6 L296.3,45.9 L295.9,45.5 L295.5,45.0 L295.0,44.4 L294.4,43.8 L293.8,43.2 L293.2,42.8 L292.7,42.4 L292.1,42.2 L291.0,41.8Z" fill="none" stroke="#e8765a" stroke-width="0.85"/>
<circle cx="226.4" cy="62.9" r="0.95" fill="#5288b3" fill-opacity="0.88" stroke="#fff" stroke-width="0.25"/>
<circle cx="215.8" cy="70.4" r="0.95" fill="#5288b3" fill-opacity="0.88" stroke="#fff" stroke-width="0.25"/>
<circle cx="231.2" cy="66.2" r="0.95" fill="#5288b3" fill-opacity="0.88" stroke="#fff" stroke-width="0.25"/>
<circle cx="220.9" cy="58.7" r="0.95" fill="#5288b3" fill-opacity="0.88" stroke="#fff" stroke-width="0.25"/>
<circle cx="224.4" cy="70.2" r="0.95" fill="#5288b3" fill-opacity="0.88" stroke="#fff" stroke-width="0.25"/>
<circle cx="226.8" cy="65.6" r="0.95" fill="#5288b3" fill-opacity="0.88" stroke="#fff" stroke-width="0.25"/>
<circle cx="220.0" cy="64.6" r="0.95" fill="#5288b3" fill-opacity="0.88" stroke="#fff" stroke-width="0.25"/>
<circle cx="227.8" cy="74.7" r="0.95" fill="#5288b3" fill-opacity="0.88" stroke="#fff" stroke-width="0.25"/>
<circle cx="229.6" cy="67.6" r="0.95" fill="#5288b3" fill-opacity="0.88" stroke="#fff" stroke-width="0.25"/>
<circle cx="225.0" cy="53.4" r="0.95" fill="#5288b3" fill-opacity="0.88" stroke="#fff" stroke-width="0.25"/>
<circle cx="221.6" cy="69.9" r="0.95" fill="#5288b3" fill-opacity="0.88" stroke="#fff" stroke-width="0.25"/>
<circle cx="235.2" cy="64.0" r="0.95" fill="#5288b3" fill-opacity="0.88" stroke="#fff" stroke-width="0.25"/>
<circle cx="222.8" cy="63.0" r="0.95" fill="#5288b3" fill-opacity="0.88" stroke="#fff" stroke-width="0.25"/>
<circle cx="226.1" cy="68.4" r="0.95" fill="#5288b3" fill-opacity="0.88" stroke="#fff" stroke-width="0.25"/>
<circle cx="229.5" cy="59.9" r="0.95" fill="#5288b3" fill-opacity="0.88" stroke="#fff" stroke-width="0.25"/>
<circle cx="218.2" cy="65.5" r="0.95" fill="#5288b3" fill-opacity="0.88" stroke="#fff" stroke-width="0.25"/>
<circle cx="226.8" cy="69.2" r="0.95" fill="#5288b3" fill-opacity="0.88" stroke="#fff" stroke-width="0.25"/>
<circle cx="237.1" cy="68.2" r="0.95" fill="#5288b3" fill-opacity="0.88" stroke="#fff" stroke-width="0.25"/>
<circle cx="223.6" cy="61.1" r="0.95" fill="#5288b3" fill-opacity="0.88" stroke="#fff" stroke-width="0.25"/>
<circle cx="220.1" cy="73.2" r="0.95" fill="#5288b3" fill-opacity="0.88" stroke="#fff" stroke-width="0.25"/>
<circle cx="229.5" cy="64.1" r="0.95" fill="#5288b3" fill-opacity="0.88" stroke="#fff" stroke-width="0.25"/>
<circle cx="225.2" cy="65.4" r="0.95" fill="#5288b3" fill-opacity="0.88" stroke="#fff" stroke-width="0.25"/>
<circle cx="226.2" cy="73.7" r="0.95" fill="#5288b3" fill-opacity="0.88" stroke="#fff" stroke-width="0.25"/>
<circle cx="229.1" cy="57.9" r="0.95" fill="#5288b3" fill-opacity="0.88" stroke="#fff" stroke-width="0.25"/>
<circle cx="221.4" cy="67.7" r="0.95" fill="#5288b3" fill-opacity="0.88" stroke="#fff" stroke-width="0.25"/>
<circle cx="235.0" cy="78.5" r="0.95" fill="#5288b3" fill-opacity="0.88" stroke="#fff" stroke-width="0.25"/>
<circle cx="231.3" cy="69.8" r="0.95" fill="#5288b3" fill-opacity="0.88" stroke="#fff" stroke-width="0.25"/>
<circle cx="226.7" cy="56.0" r="0.95" fill="#5288b3" fill-opacity="0.88" stroke="#fff" stroke-width="0.25"/>
<circle cx="221.2" cy="68.6" r="0.95" fill="#5288b3" fill-opacity="0.88" stroke="#fff" stroke-width="0.25"/>
<circle cx="228.4" cy="65.0" r="0.95" fill="#5288b3" fill-opacity="0.88" stroke="#fff" stroke-width="0.25"/>
<circle cx="221.4" cy="60.8" r="0.95" fill="#5288b3" fill-opacity="0.88" stroke="#fff" stroke-width="0.25"/>
<circle cx="222.9" cy="73.9" r="0.95" fill="#5288b3" fill-opacity="0.88" stroke="#fff" stroke-width="0.25"/>
<circle cx="228.7" cy="64.0" r="0.95" fill="#5288b3" fill-opacity="0.88" stroke="#fff" stroke-width="0.25"/>
<circle cx="214.9" cy="63.6" r="0.95" fill="#5288b3" fill-opacity="0.88" stroke="#fff" stroke-width="0.25"/>
<circle cx="227.8" cy="71.7" r="0.95" fill="#5288b3" fill-opacity="0.88" stroke="#fff" stroke-width="0.25"/>
<circle cx="235.2" cy="69.5" r="0.95" fill="#5288b3" fill-opacity="0.88" stroke="#fff" stroke-width="0.25"/>
<circle cx="225.2" cy="61.7" r="0.95" fill="#5288b3" fill-opacity="0.88" stroke="#fff" stroke-width="0.25"/>
<circle cx="225.4" cy="66.7" r="0.95" fill="#5288b3" fill-opacity="0.88" stroke="#fff" stroke-width="0.25"/>
<circle cx="232.3" cy="64.4" r="0.95" fill="#5288b3" fill-opacity="0.88" stroke="#fff" stroke-width="0.25"/>
<circle cx="219.8" cy="60.9" r="0.95" fill="#5288b3" fill-opacity="0.88" stroke="#fff" stroke-width="0.25"/>
<circle cx="225.1" cy="70.0" r="0.95" fill="#5288b3" fill-opacity="0.88" stroke="#fff" stroke-width="0.25"/>
<circle cx="232.7" cy="54.8" r="0.95" fill="#5288b3" fill-opacity="0.88" stroke="#fff" stroke-width="0.25"/>
<circle cx="220.9" cy="66.3" r="0.95" fill="#5288b3" fill-opacity="0.88" stroke="#fff" stroke-width="0.25"/>
<circle cx="230.7" cy="75.6" r="0.95" fill="#5288b3" fill-opacity="0.88" stroke="#fff" stroke-width="0.25"/>
<circle cx="231.3" cy="66.4" r="0.95" fill="#5288b3" fill-opacity="0.88" stroke="#fff" stroke-width="0.25"/>
<circle cx="225.4" cy="64.2" r="0.95" fill="#5288b3" fill-opacity="0.88" stroke="#fff" stroke-width="0.25"/>
<circle cx="221.8" cy="72.2" r="0.95" fill="#5288b3" fill-opacity="0.88" stroke="#fff" stroke-width="0.25"/>
<circle cx="233.7" cy="61.9" r="0.95" fill="#5288b3" fill-opacity="0.88" stroke="#fff" stroke-width="0.25"/>
<circle cx="223.6" cy="64.9" r="0.95" fill="#5288b3" fill-opacity="0.88" stroke="#fff" stroke-width="0.25"/>
<circle cx="226.6" cy="79.7" r="0.95" fill="#5288b3" fill-opacity="0.88" stroke="#fff" stroke-width="0.25"/>
<circle cx="227.8" cy="61.2" r="0.95" fill="#5288b3" fill-opacity="0.88" stroke="#fff" stroke-width="0.25"/>
<circle cx="217.2" cy="68.6" r="0.95" fill="#5288b3" fill-opacity="0.88" stroke="#fff" stroke-width="0.25"/>
<circle cx="229.3" cy="70.6" r="0.95" fill="#5288b3" fill-opacity="0.88" stroke="#fff" stroke-width="0.25"/>
<circle cx="228.0" cy="66.8" r="0.95" fill="#5288b3" fill-opacity="0.88" stroke="#fff" stroke-width="0.25"/>
<circle cx="226.0" cy="60.1" r="0.95" fill="#5288b3" fill-opacity="0.88" stroke="#fff" stroke-width="0.25"/>
<circle cx="219.1" cy="70.7" r="0.95" fill="#5288b3" fill-opacity="0.88" stroke="#fff" stroke-width="0.25"/>
<circle cx="230.7" cy="65.9" r="0.95" fill="#5288b3" fill-opacity="0.88" stroke="#fff" stroke-width="0.25"/>
<circle cx="215.6" cy="54.1" r="0.95" fill="#5288b3" fill-opacity="0.88" stroke="#fff" stroke-width="0.25"/>
<circle cx="224.4" cy="72.3" r="0.95" fill="#5288b3" fill-opacity="0.88" stroke="#fff" stroke-width="0.25"/>
<circle cx="232.6" cy="58.4" r="0.95" fill="#5288b3" fill-opacity="0.88" stroke="#fff" stroke-width="0.25"/>
<circle cx="221.3" cy="65.0" r="0.95" fill="#5288b3" fill-opacity="0.88" stroke="#fff" stroke-width="0.25"/>
<circle cx="226.7" cy="68.2" r="0.95" fill="#5288b3" fill-opacity="0.88" stroke="#fff" stroke-width="0.25"/>
<circle cx="233.1" cy="68.3" r="0.95" fill="#5288b3" fill-opacity="0.88" stroke="#fff" stroke-width="0.25"/>
<circle cx="224.1" cy="58.9" r="0.95" fill="#5288b3" fill-opacity="0.88" stroke="#fff" stroke-width="0.25"/>
<circle cx="224.6" cy="68.5" r="0.95" fill="#5288b3" fill-opacity="0.88" stroke="#fff" stroke-width="0.25"/>
<circle cx="236.7" cy="61.9" r="0.95" fill="#5288b3" fill-opacity="0.88" stroke="#fff" stroke-width="0.25"/>
<circle cx="221.3" cy="62.7" r="0.95" fill="#5288b3" fill-opacity="0.88" stroke="#fff" stroke-width="0.25"/>
<circle cx="225.1" cy="75.9" r="0.95" fill="#5288b3" fill-opacity="0.88" stroke="#fff" stroke-width="0.25"/>
<circle cx="228.2" cy="62.5" r="0.95" fill="#5288b3" fill-opacity="0.88" stroke="#fff" stroke-width="0.25"/>
<circle cx="224.7" cy="66.7" r="0.95" fill="#5288b3" fill-opacity="0.88" stroke="#fff" stroke-width="0.25"/>
<circle cx="229.7" cy="72.0" r="0.95" fill="#5288b3" fill-opacity="0.88" stroke="#fff" stroke-width="0.25"/>
<circle cx="234.4" cy="67.1" r="0.95" fill="#5288b3" fill-opacity="0.88" stroke="#fff" stroke-width="0.25"/>
<circle cx="233.2" cy="72.7" r="0.95" fill="#5288b3" fill-opacity="0.88" stroke="#fff" stroke-width="0.25"/>
<circle cx="220.2" cy="73.7" r="0.95" fill="#5288b3" fill-opacity="0.88" stroke="#fff" stroke-width="0.25"/>
<circle cx="230.5" cy="50.1" r="0.95" fill="#5288b3" fill-opacity="0.88" stroke="#fff" stroke-width="0.25"/>
<circle cx="221.7" cy="67.2" r="0.95" fill="#5288b3" fill-opacity="0.88" stroke="#fff" stroke-width="0.25"/>
<circle cx="215.3" cy="59.8" r="0.95" fill="#5288b3" fill-opacity="0.88" stroke="#fff" stroke-width="0.25"/>
<circle cx="218.6" cy="62.8" r="0.95" fill="#5288b3" fill-opacity="0.88" stroke="#fff" stroke-width="0.25"/>
<circle cx="216.5" cy="66.5" r="0.95" fill="#5288b3" fill-opacity="0.88" stroke="#fff" stroke-width="0.25"/>
<circle cx="221.7" cy="67.2" r="0.95" fill="#5288b3" fill-opacity="0.88" stroke="#fff" stroke-width="0.25"/>
<circle cx="218.2" cy="56.6" r="0.95" fill="#5288b3" fill-opacity="0.88" stroke="#fff" stroke-width="0.25"/>
<circle cx="218.9" cy="65.3" r="0.95" fill="#5288b3" fill-opacity="0.88" stroke="#fff" stroke-width="0.25"/>
<circle cx="209.0" cy="63.9" r="0.95" fill="#5288b3" fill-opacity="0.88" stroke="#fff" stroke-width="0.25"/>
<circle cx="214.2" cy="62.3" r="0.95" fill="#5288b3" fill-opacity="0.88" stroke="#fff" stroke-width="0.25"/>
<circle cx="236.8" cy="51.6" r="0.95" fill="#5288b3" fill-opacity="0.88" stroke="#fff" stroke-width="0.25"/>
<circle cx="215.5" cy="56.2" r="0.95" fill="#5288b3" fill-opacity="0.88" stroke="#fff" stroke-width="0.25"/>
<circle cx="212.0" cy="58.9" r="0.95" fill="#5288b3" fill-opacity="0.88" stroke="#fff" stroke-width="0.25"/>
<circle cx="224.7" cy="67.7" r="0.95" fill="#5288b3" fill-opacity="0.88" stroke="#fff" stroke-width="0.25"/>
<circle cx="234.5" cy="75.2" r="0.95" fill="#5288b3" fill-opacity="0.88" stroke="#fff" stroke-width="0.25"/>
<circle cx="208.3" cy="53.7" r="0.95" fill="#5288b3" fill-opacity="0.88" stroke="#fff" stroke-width="0.25"/>
<circle cx="219.7" cy="53.5" r="0.95" fill="#5288b3" fill-opacity="0.88" stroke="#fff" stroke-width="0.25"/>
<circle cx="215.8" cy="63.8" r="0.95" fill="#5288b3" fill-opacity="0.88" stroke="#fff" stroke-width="0.25"/>
<circle cx="205.5" cy="57.5" r="0.95" fill="#5288b3" fill-opacity="0.88" stroke="#fff" stroke-width="0.25"/>
<circle cx="228.4" cy="55.2" r="0.95" fill="#5288b3" fill-opacity="0.88" stroke="#fff" stroke-width="0.25"/>
<circle cx="221.4" cy="54.8" r="0.95" fill="#5288b3" fill-opacity="0.88" stroke="#fff" stroke-width="0.25"/>
<circle cx="222.3" cy="54.0" r="0.95" fill="#5288b3" fill-opacity="0.88" stroke="#fff" stroke-width="0.25"/>
<circle cx="214.7" cy="66.7" r="0.95" fill="#5288b3" fill-opacity="0.88" stroke="#fff" stroke-width="0.25"/>
<circle cx="225.8" cy="48.5" r="0.95" fill="#5288b3" fill-opacity="0.88" stroke="#fff" stroke-width="0.25"/>
<circle cx="216.7" cy="74.0" r="0.95" fill="#5288b3" fill-opacity="0.88" stroke="#fff" stroke-width="0.25"/>
<circle cx="220.3" cy="54.5" r="0.95" fill="#5288b3" fill-opacity="0.88" stroke="#fff" stroke-width="0.25"/>
<circle cx="290.5" cy="74.7" r="0.95" fill="#a2538c" fill-opacity="0.88" stroke="#fff" stroke-width="0.25"/>
<circle cx="292.2" cy="57.7" r="0.95" fill="#a2538c" fill-opacity="0.88" stroke="#fff" stroke-width="0.25"/>
<circle cx="283.0" cy="69.8" r="0.95" fill="#a2538c" fill-opacity="0.88" stroke="#fff" stroke-width="0.25"/>
<circle cx="294.3" cy="73.2" r="0.95" fill="#a2538c" fill-opacity="0.88" stroke="#fff" stroke-width="0.25"/>
<circle cx="286.1" cy="62.3" r="0.95" fill="#a2538c" fill-opacity="0.88" stroke="#fff" stroke-width="0.25"/>
<circle cx="286.2" cy="70.4" r="0.95" fill="#a2538c" fill-opacity="0.88" stroke="#fff" stroke-width="0.25"/>
<circle cx="288.7" cy="68.0" r="0.95" fill="#a2538c" fill-opacity="0.88" stroke="#fff" stroke-width="0.25"/>
<circle cx="282.6" cy="64.5" r="0.95" fill="#a2538c" fill-opacity="0.88" stroke="#fff" stroke-width="0.25"/>
<circle cx="286.1" cy="75.0" r="0.95" fill="#a2538c" fill-opacity="0.88" stroke="#fff" stroke-width="0.25"/>
<circle cx="292.7" cy="76.7" r="0.95" fill="#a2538c" fill-opacity="0.88" stroke="#fff" stroke-width="0.25"/>
<circle cx="288.0" cy="65.9" r="0.95" fill="#a2538c" fill-opacity="0.88" stroke="#fff" stroke-width="0.25"/>
<circle cx="280.2" cy="72.5" r="0.95" fill="#a2538c" fill-opacity="0.88" stroke="#fff" stroke-width="0.25"/>
<circle cx="292.2" cy="70.9" r="0.95" fill="#a2538c" fill-opacity="0.88" stroke="#fff" stroke-width="0.25"/>
<circle cx="282.1" cy="55.5" r="0.95" fill="#a2538c" fill-opacity="0.88" stroke="#fff" stroke-width="0.25"/>
<circle cx="285.5" cy="71.8" r="0.95" fill="#a2538c" fill-opacity="0.88" stroke="#fff" stroke-width="0.25"/>
<circle cx="291.9" cy="63.8" r="0.95" fill="#a2538c" fill-opacity="0.88" stroke="#fff" stroke-width="0.25"/>
<circle cx="282.9" cy="66.8" r="0.95" fill="#a2538c" fill-opacity="0.88" stroke="#fff" stroke-width="0.25"/>
<circle cx="287.9" cy="82.3" r="0.95" fill="#a2538c" fill-opacity="0.88" stroke="#fff" stroke-width="0.25"/>
<circle cx="288.0" cy="73.8" r="0.95" fill="#a2538c" fill-opacity="0.88" stroke="#fff" stroke-width="0.25"/>
<circle cx="291.9" cy="61.1" r="0.95" fill="#a2538c" fill-opacity="0.88" stroke="#fff" stroke-width="0.25"/>
<circle cx="281.6" cy="68.9" r="0.95" fill="#a2538c" fill-opacity="0.88" stroke="#fff" stroke-width="0.25"/>
<circle cx="287.5" cy="69.6" r="0.95" fill="#a2538c" fill-opacity="0.88" stroke="#fff" stroke-width="0.25"/>
<circle cx="286.6" cy="66.0" r="0.95" fill="#a2538c" fill-opacity="0.88" stroke="#fff" stroke-width="0.25"/>
<circle cx="281.7" cy="74.1" r="0.95" fill="#a2538c" fill-opacity="0.88" stroke="#fff" stroke-width="0.25"/>
<circle cx="291.0" cy="68.1" r="0.95" fill="#a2538c" fill-opacity="0.88" stroke="#fff" stroke-width="0.25"/>
<circle cx="280.4" cy="61.2" r="0.95" fill="#a2538c" fill-opacity="0.88" stroke="#fff" stroke-width="0.25"/>
<circle cx="286.3" cy="74.2" r="0.95" fill="#a2538c" fill-opacity="0.88" stroke="#fff" stroke-width="0.25"/>
<circle cx="291.5" cy="76.7" r="0.95" fill="#a2538c" fill-opacity="0.88" stroke="#fff" stroke-width="0.25"/>
<circle cx="289.3" cy="62.7" r="0.95" fill="#a2538c" fill-opacity="0.88" stroke="#fff" stroke-width="0.25"/>
<circle cx="274.9" cy="71.8" r="0.95" fill="#a2538c" fill-opacity="0.88" stroke="#fff" stroke-width="0.25"/>
<circle cx="290.6" cy="70.5" r="0.95" fill="#a2538c" fill-opacity="0.88" stroke="#fff" stroke-width="0.25"/>
<circle cx="284.5" cy="61.3" r="0.95" fill="#a2538c" fill-opacity="0.88" stroke="#fff" stroke-width="0.25"/>
<circle cx="284.2" cy="74.4" r="0.95" fill="#a2538c" fill-opacity="0.88" stroke="#fff" stroke-width="0.25"/>
<circle cx="296.3" cy="62.7" r="0.95" fill="#a2538c" fill-opacity="0.88" stroke="#fff" stroke-width="0.25"/>
<circle cx="283.9" cy="67.0" r="0.95" fill="#a2538c" fill-opacity="0.88" stroke="#fff" stroke-width="0.25"/>
<circle cx="286.3" cy="80.7" r="0.95" fill="#a2538c" fill-opacity="0.88" stroke="#fff" stroke-width="0.25"/>
<circle cx="291.5" cy="74.5" r="0.95" fill="#a2538c" fill-opacity="0.88" stroke="#fff" stroke-width="0.25"/>
<circle cx="287.6" cy="67.9" r="0.95" fill="#a2538c" fill-opacity="0.88" stroke="#fff" stroke-width="0.25"/>
<circle cx="285.8" cy="71.0" r="0.95" fill="#a2538c" fill-opacity="0.88" stroke="#fff" stroke-width="0.25"/>
<circle cx="293.1" cy="69.5" r="0.95" fill="#a2538c" fill-opacity="0.88" stroke="#fff" stroke-width="0.25"/>
<circle cx="285.0" cy="65.5" r="0.95" fill="#a2538c" fill-opacity="0.88" stroke="#fff" stroke-width="0.25"/>
<circle cx="283.5" cy="78.9" r="0.95" fill="#a2538c" fill-opacity="0.88" stroke="#fff" stroke-width="0.25"/>
<circle cx="289.3" cy="67.4" r="0.95" fill="#a2538c" fill-opacity="0.88" stroke="#fff" stroke-width="0.25"/>
<circle cx="279.7" cy="66.2" r="0.95" fill="#a2538c" fill-opacity="0.88" stroke="#fff" stroke-width="0.25"/>
<circle cx="287.9" cy="75.2" r="0.95" fill="#a2538c" fill-opacity="0.88" stroke="#fff" stroke-width="0.25"/>
<circle cx="291.6" cy="82.1" r="0.95" fill="#a2538c" fill-opacity="0.88" stroke="#fff" stroke-width="0.25"/>
<circle cx="287.1" cy="67.3" r="0.95" fill="#a2538c" fill-opacity="0.88" stroke="#fff" stroke-width="0.25"/>
<circle cx="280.5" cy="69.3" r="0.95" fill="#a2538c" fill-opacity="0.88" stroke="#fff" stroke-width="0.25"/>
<circle cx="291.8" cy="71.7" r="0.95" fill="#a2538c" fill-opacity="0.88" stroke="#fff" stroke-width="0.25"/>
<circle cx="285.7" cy="57.8" r="0.95" fill="#a2538c" fill-opacity="0.88" stroke="#fff" stroke-width="0.25"/>
<circle cx="284.0" cy="72.2" r="0.95" fill="#a2538c" fill-opacity="0.88" stroke="#fff" stroke-width="0.25"/>
<circle cx="294.1" cy="65.2" r="0.95" fill="#a2538c" fill-opacity="0.88" stroke="#fff" stroke-width="0.25"/>
<circle cx="283.5" cy="64.9" r="0.95" fill="#a2538c" fill-opacity="0.88" stroke="#fff" stroke-width="0.25"/>
<circle cx="284.7" cy="87.1" r="0.95" fill="#a2538c" fill-opacity="0.88" stroke="#fff" stroke-width="0.25"/>
<circle cx="288.4" cy="71.9" r="0.95" fill="#a2538c" fill-opacity="0.88" stroke="#fff" stroke-width="0.25"/>
<circle cx="289.0" cy="61.5" r="0.95" fill="#a2538c" fill-opacity="0.88" stroke="#fff" stroke-width="0.25"/>
<circle cx="283.1" cy="71.4" r="0.95" fill="#a2538c" fill-opacity="0.88" stroke="#fff" stroke-width="0.25"/>
<circle cx="296.2" cy="71.7" r="0.95" fill="#a2538c" fill-opacity="0.88" stroke="#fff" stroke-width="0.25"/>
<circle cx="286.2" cy="65.0" r="0.95" fill="#a2538c" fill-opacity="0.88" stroke="#fff" stroke-width="0.25"/>
<circle cx="282.7" cy="77.8" r="0.95" fill="#a2538c" fill-opacity="0.88" stroke="#fff" stroke-width="0.25"/>
<circle cx="291.1" cy="65.3" r="0.95" fill="#a2538c" fill-opacity="0.88" stroke="#fff" stroke-width="0.25"/>
<circle cx="277.1" cy="61.6" r="0.95" fill="#a2538c" fill-opacity="0.88" stroke="#fff" stroke-width="0.25"/>
<circle cx="287.0" cy="72.8" r="0.95" fill="#a2538c" fill-opacity="0.88" stroke="#fff" stroke-width="0.25"/>
<circle cx="293.2" cy="74.3" r="0.95" fill="#a2538c" fill-opacity="0.88" stroke="#fff" stroke-width="0.25"/>
<circle cx="287.0" cy="62.3" r="0.95" fill="#a2538c" fill-opacity="0.88" stroke="#fff" stroke-width="0.25"/>
<circle cx="278.2" cy="75.4" r="0.95" fill="#a2538c" fill-opacity="0.88" stroke="#fff" stroke-width="0.25"/>
<circle cx="290.8" cy="69.4" r="0.95" fill="#a2538c" fill-opacity="0.88" stroke="#fff" stroke-width="0.25"/>
<circle cx="282.0" cy="61.5" r="0.95" fill="#a2538c" fill-opacity="0.88" stroke="#fff" stroke-width="0.25"/>
<circle cx="285.5" cy="76.4" r="0.95" fill="#a2538c" fill-opacity="0.88" stroke="#fff" stroke-width="0.25"/>
<circle cx="288.2" cy="68.1" r="0.95" fill="#a2538c" fill-opacity="0.88" stroke="#fff" stroke-width="0.25"/>
<circle cx="285.4" cy="68.5" r="0.95" fill="#a2538c" fill-opacity="0.88" stroke="#fff" stroke-width="0.25"/>
<circle cx="289.1" cy="77.8" r="0.95" fill="#a2538c" fill-opacity="0.88" stroke="#fff" stroke-width="0.25"/>
<circle cx="288.8" cy="75.0" r="0.95" fill="#a2538c" fill-opacity="0.88" stroke="#fff" stroke-width="0.25"/>
<circle cx="291.5" cy="60.8" r="0.95" fill="#a2538c" fill-opacity="0.88" stroke="#fff" stroke-width="0.25"/>
<circle cx="288.6" cy="80.0" r="0.95" fill="#a2538c" fill-opacity="0.88" stroke="#fff" stroke-width="0.25"/>
<circle cx="284.8" cy="69.3" r="0.95" fill="#a2538c" fill-opacity="0.88" stroke="#fff" stroke-width="0.25"/>
<circle cx="288.0" cy="70.5" r="0.95" fill="#a2538c" fill-opacity="0.88" stroke="#fff" stroke-width="0.25"/>
<circle cx="288.7" cy="79.9" r="0.95" fill="#a2538c" fill-opacity="0.88" stroke="#fff" stroke-width="0.25"/>
<circle cx="284.1" cy="67.7" r="0.95" fill="#a2538c" fill-opacity="0.88" stroke="#fff" stroke-width="0.25"/>
<circle cx="286.1" cy="79.9" r="0.95" fill="#a2538c" fill-opacity="0.88" stroke="#fff" stroke-width="0.25"/>
<circle cx="288.0" cy="58.1" r="0.95" fill="#a2538c" fill-opacity="0.88" stroke="#fff" stroke-width="0.25"/>
<circle cx="285.8" cy="58.6" r="0.95" fill="#a2538c" fill-opacity="0.88" stroke="#fff" stroke-width="0.25"/>
<circle cx="290.2" cy="58.3" r="0.95" fill="#a2538c" fill-opacity="0.88" stroke="#fff" stroke-width="0.25"/>
<circle cx="300.7" cy="73.3" r="0.95" fill="#a2538c" fill-opacity="0.88" stroke="#fff" stroke-width="0.25"/>
<circle cx="290.9" cy="63.8" r="0.95" fill="#a2538c" fill-opacity="0.88" stroke="#fff" stroke-width="0.25"/>
<circle cx="286.8" cy="70.1" r="0.95" fill="#a2538c" fill-opacity="0.88" stroke="#fff" stroke-width="0.25"/>
<circle cx="273.5" cy="72.5" r="0.95" fill="#a2538c" fill-opacity="0.88" stroke="#fff" stroke-width="0.25"/>
<circle cx="289.4" cy="72.0" r="0.95" fill="#a2538c" fill-opacity="0.88" stroke="#fff" stroke-width="0.25"/>
<circle cx="271.5" cy="81.3" r="0.95" fill="#a2538c" fill-opacity="0.88" stroke="#fff" stroke-width="0.25"/>
<circle cx="275.6" cy="82.7" r="0.95" fill="#a2538c" fill-opacity="0.88" stroke="#fff" stroke-width="0.25"/>
<circle cx="292.9" cy="61.1" r="0.95" fill="#a2538c" fill-opacity="0.88" stroke="#fff" stroke-width="0.25"/>
<circle cx="291.8" cy="70.6" r="0.95" fill="#a2538c" fill-opacity="0.88" stroke="#fff" stroke-width="0.25"/>
<circle cx="285.3" cy="66.7" r="0.95" fill="#a2538c" fill-opacity="0.88" stroke="#fff" stroke-width="0.25"/>
<circle cx="273.3" cy="59.1" r="0.95" fill="#a2538c" fill-opacity="0.88" stroke="#fff" stroke-width="0.25"/>
<circle cx="283.6" cy="85.5" r="0.95" fill="#a2538c" fill-opacity="0.88" stroke="#fff" stroke-width="0.25"/>
<circle cx="281.2" cy="76.3" r="0.95" fill="#a2538c" fill-opacity="0.88" stroke="#fff" stroke-width="0.25"/>
<circle cx="291.3" cy="67.1" r="0.95" fill="#a2538c" fill-opacity="0.88" stroke="#fff" stroke-width="0.25"/>
<circle cx="303.7" cy="65.0" r="0.95" fill="#a2538c" fill-opacity="0.88" stroke="#fff" stroke-width="0.25"/>
<circle cx="288.1" cy="72.4" r="0.95" fill="#a2538c" fill-opacity="0.88" stroke="#fff" stroke-width="0.25"/>
<circle cx="280.4" cy="58.9" r="0.95" fill="#a2538c" fill-opacity="0.88" stroke="#fff" stroke-width="0.25"/>
<circle cx="254.5" cy="38.2" r="0.95" fill="#ee9a52" fill-opacity="0.88" stroke="#fff" stroke-width="0.25"/>
<circle cx="257.5" cy="43.6" r="0.95" fill="#ee9a52" fill-opacity="0.88" stroke="#fff" stroke-width="0.25"/>
<circle cx="262.0" cy="36.3" r="0.95" fill="#ee9a52" fill-opacity="0.88" stroke="#fff" stroke-width="0.25"/>
<circle cx="248.8" cy="40.4" r="0.95" fill="#ee9a52" fill-opacity="0.88" stroke="#fff" stroke-width="0.25"/>
<circle cx="259.8" cy="44.6" r="0.95" fill="#ee9a52" fill-opacity="0.88" stroke="#fff" stroke-width="0.25"/>
<circle cx="258.0" cy="41.5" r="0.95" fill="#ee9a52" fill-opacity="0.88" stroke="#fff" stroke-width="0.25"/>
<circle cx="253.3" cy="45.6" r="0.95" fill="#ee9a52" fill-opacity="0.88" stroke="#fff" stroke-width="0.25"/>
<circle cx="266.7" cy="47.2" r="0.95" fill="#ee9a52" fill-opacity="0.88" stroke="#fff" stroke-width="0.25"/>
<circle cx="262.5" cy="43.2" r="0.95" fill="#ee9a52" fill-opacity="0.88" stroke="#fff" stroke-width="0.25"/>
<circle cx="256.5" cy="38.7" r="0.95" fill="#ee9a52" fill-opacity="0.88" stroke="#fff" stroke-width="0.25"/>
<circle cx="254.3" cy="47.0" r="0.95" fill="#ee9a52" fill-opacity="0.88" stroke="#fff" stroke-width="0.25"/>
<circle cx="264.0" cy="38.3" r="0.95" fill="#ee9a52" fill-opacity="0.88" stroke="#fff" stroke-width="0.25"/>
<circle cx="255.9" cy="40.7" r="0.95" fill="#ee9a52" fill-opacity="0.88" stroke="#fff" stroke-width="0.25"/>
<circle cx="257.5" cy="53.2" r="0.95" fill="#ee9a52" fill-opacity="0.88" stroke="#fff" stroke-width="0.25"/>
<circle cx="259.6" cy="36.1" r="0.95" fill="#ee9a52" fill-opacity="0.88" stroke="#fff" stroke-width="0.25"/>
<circle cx="248.6" cy="44.4" r="0.95" fill="#ee9a52" fill-opacity="0.88" stroke="#fff" stroke-width="0.25"/>
<circle cx="260.2" cy="44.7" r="0.95" fill="#ee9a52" fill-opacity="0.88" stroke="#fff" stroke-width="0.25"/>
<circle cx="259.4" cy="42.1" r="0.95" fill="#ee9a52" fill-opacity="0.88" stroke="#fff" stroke-width="0.25"/>
<circle cx="254.0" cy="35.8" r="0.95" fill="#ee9a52" fill-opacity="0.88" stroke="#fff" stroke-width="0.25"/>
<circle cx="254.6" cy="49.5" r="0.95" fill="#ee9a52" fill-opacity="0.88" stroke="#fff" stroke-width="0.25"/>
<circle cx="260.5" cy="39.3" r="0.95" fill="#ee9a52" fill-opacity="0.88" stroke="#fff" stroke-width="0.25"/>
<circle cx="244.9" cy="38.3" r="0.95" fill="#ee9a52" fill-opacity="0.88" stroke="#fff" stroke-width="0.25"/>
<circle cx="258.8" cy="47.8" r="0.95" fill="#ee9a52" fill-opacity="0.88" stroke="#fff" stroke-width="0.25"/>
<circle cx="258.8" cy="31.1" r="0.95" fill="#ee9a52" fill-opacity="0.88" stroke="#fff" stroke-width="0.25"/>
<circle cx="253.6" cy="43.2" r="0.95" fill="#ee9a52" fill-opacity="0.88" stroke="#fff" stroke-width="0.25"/>
<circle cx="259.3" cy="43.2" r="0.95" fill="#ee9a52" fill-opacity="0.88" stroke="#fff" stroke-width="0.25"/>
<circle cx="263.9" cy="40.1" r="0.95" fill="#ee9a52" fill-opacity="0.88" stroke="#fff" stroke-width="0.25"/>
<circle cx="252.2" cy="37.0" r="0.95" fill="#ee9a52" fill-opacity="0.88" stroke="#fff" stroke-width="0.25"/>
<circle cx="256.6" cy="45.1" r="0.95" fill="#ee9a52" fill-opacity="0.88" stroke="#fff" stroke-width="0.25"/>
<circle cx="263.8" cy="31.5" r="0.95" fill="#ee9a52" fill-opacity="0.88" stroke="#fff" stroke-width="0.25"/>
<circle cx="252.5" cy="41.3" r="0.95" fill="#ee9a52" fill-opacity="0.88" stroke="#fff" stroke-width="0.25"/>
<circle cx="262.2" cy="50.3" r="0.95" fill="#ee9a52" fill-opacity="0.88" stroke="#fff" stroke-width="0.25"/>
<circle cx="256.7" cy="37.6" r="0.95" fill="#ee9a52" fill-opacity="0.88" stroke="#fff" stroke-width="0.25"/>
<circle cx="256.4" cy="42.8" r="0.95" fill="#ee9a52" fill-opacity="0.88" stroke="#fff" stroke-width="0.25"/>
<circle cx="263.4" cy="44.4" r="0.95" fill="#ee9a52" fill-opacity="0.88" stroke="#fff" stroke-width="0.25"/>
<circle cx="265.6" cy="42.0" r="0.95" fill="#ee9a52" fill-opacity="0.88" stroke="#fff" stroke-width="0.25"/>
<circle cx="256.6" cy="37.3" r="0.95" fill="#ee9a52" fill-opacity="0.88" stroke="#fff" stroke-width="0.25"/>
<circle cx="249.1" cy="54.0" r="0.95" fill="#ee9a52" fill-opacity="0.88" stroke="#fff" stroke-width="0.25"/>
<circle cx="263.2" cy="38.5" r="0.95" fill="#ee9a52" fill-opacity="0.88" stroke="#fff" stroke-width="0.25"/>
<circle cx="248.4" cy="37.0" r="0.95" fill="#ee9a52" fill-opacity="0.88" stroke="#fff" stroke-width="0.25"/>
<circle cx="258.3" cy="47.0" r="0.95" fill="#ee9a52" fill-opacity="0.88" stroke="#fff" stroke-width="0.25"/>
<circle cx="258.4" cy="39.4" r="0.95" fill="#ee9a52" fill-opacity="0.88" stroke="#fff" stroke-width="0.25"/>
<circle cx="250.8" cy="43.5" r="0.95" fill="#ee9a52" fill-opacity="0.88" stroke="#fff" stroke-width="0.25"/>
<circle cx="263.2" cy="47.7" r="0.95" fill="#ee9a52" fill-opacity="0.88" stroke="#fff" stroke-width="0.25"/>
<circle cx="260.8" cy="41.0" r="0.95" fill="#ee9a52" fill-opacity="0.88" stroke="#fff" stroke-width="0.25"/>
<circle cx="251.2" cy="32.3" r="0.95" fill="#ee9a52" fill-opacity="0.88" stroke="#fff" stroke-width="0.25"/>
<circle cx="255.8" cy="46.6" r="0.95" fill="#ee9a52" fill-opacity="0.88" stroke="#fff" stroke-width="0.25"/>
<circle cx="263.4" cy="34.9" r="0.95" fill="#ee9a52" fill-opacity="0.88" stroke="#fff" stroke-width="0.25"/>
<circle cx="253.7" cy="41.0" r="0.95" fill="#ee9a52" fill-opacity="0.88" stroke="#fff" stroke-width="0.25"/>
<circle cx="258.3" cy="43.6" r="0.95" fill="#ee9a52" fill-opacity="0.88" stroke="#fff" stroke-width="0.25"/>
<circle cx="258.5" cy="35.2" r="0.95" fill="#ee9a52" fill-opacity="0.88" stroke="#fff" stroke-width="0.25"/>
<circle cx="250.3" cy="45.8" r="0.95" fill="#ee9a52" fill-opacity="0.88" stroke="#fff" stroke-width="0.25"/>
<circle cx="260.8" cy="43.6" r="0.95" fill="#ee9a52" fill-opacity="0.88" stroke="#fff" stroke-width="0.25"/>
<circle cx="270.4" cy="36.4" r="0.95" fill="#ee9a52" fill-opacity="0.88" stroke="#fff" stroke-width="0.25"/>
<circle cx="253.6" cy="38.4" r="0.95" fill="#ee9a52" fill-opacity="0.88" stroke="#fff" stroke-width="0.25"/>
<circle cx="255.8" cy="51.9" r="0.95" fill="#ee9a52" fill-opacity="0.88" stroke="#fff" stroke-width="0.25"/>
<circle cx="259.4" cy="37.9" r="0.95" fill="#ee9a52" fill-opacity="0.88" stroke="#fff" stroke-width="0.25"/>
<circle cx="255.4" cy="42.0" r="0.95" fill="#ee9a52" fill-opacity="0.88" stroke="#fff" stroke-width="0.25"/>
<circle cx="261.7" cy="48.0" r="0.95" fill="#ee9a52" fill-opacity="0.88" stroke="#fff" stroke-width="0.25"/>
<circle cx="255.8" cy="34.5" r="0.95" fill="#ee9a52" fill-opacity="0.88" stroke="#fff" stroke-width="0.25"/>
<circle cx="254.8" cy="43.9" r="0.95" fill="#ee9a52" fill-opacity="0.88" stroke="#fff" stroke-width="0.25"/>
<circle cx="269.1" cy="45.9" r="0.95" fill="#ee9a52" fill-opacity="0.88" stroke="#fff" stroke-width="0.25"/>
<circle cx="262.6" cy="43.5" r="0.95" fill="#ee9a52" fill-opacity="0.88" stroke="#fff" stroke-width="0.25"/>
<circle cx="255.9" cy="32.3" r="0.95" fill="#ee9a52" fill-opacity="0.88" stroke="#fff" stroke-width="0.25"/>
<circle cx="254.2" cy="45.0" r="0.95" fill="#ee9a52" fill-opacity="0.88" stroke="#fff" stroke-width="0.25"/>
<circle cx="259.3" cy="41.3" r="0.95" fill="#ee9a52" fill-opacity="0.88" stroke="#fff" stroke-width="0.25"/>
<circle cx="252.8" cy="37.6" r="0.95" fill="#ee9a52" fill-opacity="0.88" stroke="#fff" stroke-width="0.25"/>
<circle cx="256.4" cy="50.7" r="0.95" fill="#ee9a52" fill-opacity="0.88" stroke="#fff" stroke-width="0.25"/>
<circle cx="259.8" cy="38.0" r="0.95" fill="#ee9a52" fill-opacity="0.88" stroke="#fff" stroke-width="0.25"/>
<circle cx="256.6" cy="42.2" r="0.95" fill="#ee9a52" fill-opacity="0.88" stroke="#fff" stroke-width="0.25"/>
<circle cx="260.5" cy="46.9" r="0.95" fill="#ee9a52" fill-opacity="0.88" stroke="#fff" stroke-width="0.25"/>
<circle cx="267.5" cy="42.4" r="0.95" fill="#ee9a52" fill-opacity="0.88" stroke="#fff" stroke-width="0.25"/>
<circle cx="256.4" cy="37.1" r="0.95" fill="#ee9a52" fill-opacity="0.88" stroke="#fff" stroke-width="0.25"/>
<circle cx="256.1" cy="44.2" r="0.95" fill="#ee9a52" fill-opacity="0.88" stroke="#fff" stroke-width="0.25"/>
<circle cx="259.9" cy="35.4" r="0.95" fill="#ee9a52" fill-opacity="0.88" stroke="#fff" stroke-width="0.25"/>
<circle cx="242.1" cy="22.3" r="0.95" fill="#ee9a52" fill-opacity="0.88" stroke="#fff" stroke-width="0.25"/>
<circle cx="259.2" cy="23.7" r="0.95" fill="#ee9a52" fill-opacity="0.88" stroke="#fff" stroke-width="0.25"/>
<circle cx="257.5" cy="38.7" r="0.95" fill="#ee9a52" fill-opacity="0.88" stroke="#fff" stroke-width="0.25"/>
<circle cx="257.8" cy="40.0" r="0.95" fill="#ee9a52" fill-opacity="0.88" stroke="#fff" stroke-width="0.25"/>
<circle cx="258.6" cy="49.0" r="0.95" fill="#ee9a52" fill-opacity="0.88" stroke="#fff" stroke-width="0.25"/>
<circle cx="250.3" cy="44.0" r="0.95" fill="#ee9a52" fill-opacity="0.88" stroke="#fff" stroke-width="0.25"/>
<circle cx="253.4" cy="34.1" r="0.95" fill="#ee9a52" fill-opacity="0.88" stroke="#fff" stroke-width="0.25"/>
<circle cx="260.6" cy="34.3" r="0.95" fill="#ee9a52" fill-opacity="0.88" stroke="#fff" stroke-width="0.25"/>
<circle cx="259.0" cy="36.8" r="0.95" fill="#ee9a52" fill-opacity="0.88" stroke="#fff" stroke-width="0.25"/>
<circle cx="257.2" cy="29.0" r="0.95" fill="#ee9a52" fill-opacity="0.88" stroke="#fff" stroke-width="0.25"/>
<circle cx="243.3" cy="44.7" r="0.95" fill="#ee9a52" fill-opacity="0.88" stroke="#fff" stroke-width="0.25"/>
<circle cx="259.8" cy="38.3" r="0.95" fill="#ee9a52" fill-opacity="0.88" stroke="#fff" stroke-width="0.25"/>
<circle cx="264.9" cy="31.4" r="0.95" fill="#ee9a52" fill-opacity="0.88" stroke="#fff" stroke-width="0.25"/>
<circle cx="263.6" cy="32.7" r="0.95" fill="#ee9a52" fill-opacity="0.88" stroke="#fff" stroke-width="0.25"/>
<circle cx="257.4" cy="28.3" r="0.95" fill="#ee9a52" fill-opacity="0.88" stroke="#fff" stroke-width="0.25"/>
<circle cx="243.0" cy="34.3" r="0.95" fill="#ee9a52" fill-opacity="0.88" stroke="#fff" stroke-width="0.25"/>
<circle cx="263.1" cy="40.6" r="0.95" fill="#ee9a52" fill-opacity="0.88" stroke="#fff" stroke-width="0.25"/>
<circle cx="254.3" cy="34.6" r="0.95" fill="#ee9a52" fill-opacity="0.88" stroke="#fff" stroke-width="0.25"/>
<circle cx="235.2" cy="46.7" r="0.95" fill="#ee9a52" fill-opacity="0.88" stroke="#fff" stroke-width="0.25"/>
<circle cx="258.5" cy="52.3" r="0.95" fill="#ee9a52" fill-opacity="0.88" stroke="#fff" stroke-width="0.25"/>
<circle cx="243.5" cy="32.7" r="0.95" fill="#ee9a52" fill-opacity="0.88" stroke="#fff" stroke-width="0.25"/>
<circle cx="245.1" cy="38.3" r="0.95" fill="#ee9a52" fill-opacity="0.88" stroke="#fff" stroke-width="0.25"/>
<circle cx="250.4" cy="35.1" r="0.95" fill="#ee9a52" fill-opacity="0.88" stroke="#fff" stroke-width="0.25"/>
<circle cx="265.7" cy="52.9" r="0.95" fill="#ee9a52" fill-opacity="0.88" stroke="#fff" stroke-width="0.25"/>
<circle cx="252.5" cy="41.1" r="0.95" fill="#ee9a52" fill-opacity="0.88" stroke="#fff" stroke-width="0.25"/>
<circle cx="233.3" cy="93.1" r="0.95" fill="#62bd9f" fill-opacity="0.88" stroke="#fff" stroke-width="0.25"/>
<circle cx="241.1" cy="106.1" r="0.95" fill="#62bd9f" fill-opacity="0.88" stroke="#fff" stroke-width="0.25"/>
<circle cx="241.2" cy="99.5" r="0.95" fill="#62bd9f" fill-opacity="0.88" stroke="#fff" stroke-width="0.25"/>
<circle cx="234.1" cy="100.6" r="0.95" fill="#62bd9f" fill-opacity="0.88" stroke="#fff" stroke-width="0.25"/>
<circle cx="249.4" cy="107.2" r="0.95" fill="#62bd9f" fill-opacity="0.88" stroke="#fff" stroke-width="0.25"/>
<circle cx="239.6" cy="95.0" r="0.95" fill="#62bd9f" fill-opacity="0.88" stroke="#fff" stroke-width="0.25"/>
<circle cx="237.5" cy="103.5" r="0.95" fill="#62bd9f" fill-opacity="0.88" stroke="#fff" stroke-width="0.25"/>
<circle cx="238.2" cy="109.9" r="0.95" fill="#62bd9f" fill-opacity="0.88" stroke="#fff" stroke-width="0.25"/>
<circle cx="248.2" cy="96.2" r="0.95" fill="#62bd9f" fill-opacity="0.88" stroke="#fff" stroke-width="0.25"/>
<circle cx="236.3" cy="97.6" r="0.95" fill="#62bd9f" fill-opacity="0.88" stroke="#fff" stroke-width="0.25"/>
<circle cx="241.4" cy="104.4" r="0.95" fill="#62bd9f" fill-opacity="0.88" stroke="#fff" stroke-width="0.25"/>
<circle cx="243.0" cy="94.3" r="0.95" fill="#62bd9f" fill-opacity="0.88" stroke="#fff" stroke-width="0.25"/>
<circle cx="239.3" cy="101.4" r="0.95" fill="#62bd9f" fill-opacity="0.88" stroke="#fff" stroke-width="0.25"/>
<circle cx="245.1" cy="101.7" r="0.95" fill="#62bd9f" fill-opacity="0.88" stroke="#fff" stroke-width="0.25"/>
<circle cx="238.9" cy="96.5" r="0.95" fill="#62bd9f" fill-opacity="0.88" stroke="#fff" stroke-width="0.25"/>
<circle cx="234.7" cy="107.9" r="0.95" fill="#62bd9f" fill-opacity="0.88" stroke="#fff" stroke-width="0.25"/>
<circle cx="240.8" cy="110.9" r="0.95" fill="#62bd9f" fill-opacity="0.88" stroke="#fff" stroke-width="0.25"/>
<circle cx="242.8" cy="97.2" r="0.95" fill="#62bd9f" fill-opacity="0.88" stroke="#fff" stroke-width="0.25"/>
<circle cx="238.5" cy="100.5" r="0.95" fill="#62bd9f" fill-opacity="0.88" stroke="#fff" stroke-width="0.25"/>
<circle cx="244.8" cy="106.0" r="0.95" fill="#62bd9f" fill-opacity="0.88" stroke="#fff" stroke-width="0.25"/>
<circle cx="241.8" cy="87.6" r="0.95" fill="#62bd9f" fill-opacity="0.88" stroke="#fff" stroke-width="0.25"/>
<circle cx="235.2" cy="102.8" r="0.95" fill="#62bd9f" fill-opacity="0.88" stroke="#fff" stroke-width="0.25"/>
<circle cx="242.7" cy="100.9" r="0.95" fill="#62bd9f" fill-opacity="0.88" stroke="#fff" stroke-width="0.25"/>
<circle cx="237.0" cy="93.9" r="0.95" fill="#62bd9f" fill-opacity="0.88" stroke="#fff" stroke-width="0.25"/>
<circle cx="235.0" cy="110.0" r="0.95" fill="#62bd9f" fill-opacity="0.88" stroke="#fff" stroke-width="0.25"/>
<circle cx="239.3" cy="105.6" r="0.95" fill="#62bd9f" fill-opacity="0.88" stroke="#fff" stroke-width="0.25"/>
<circle cx="241.6" cy="100.0" r="0.95" fill="#62bd9f" fill-opacity="0.88" stroke="#fff" stroke-width="0.25"/>
<circle cx="235.2" cy="95.4" r="0.95" fill="#62bd9f" fill-opacity="0.88" stroke="#fff" stroke-width="0.25"/>
<circle cx="239.9" cy="102.5" r="0.95" fill="#62bd9f" fill-opacity="0.88" stroke="#fff" stroke-width="0.25"/>
<circle cx="242.9" cy="95.4" r="0.95" fill="#62bd9f" fill-opacity="0.88" stroke="#fff" stroke-width="0.25"/>
<circle cx="236.7" cy="100.9" r="0.95" fill="#62bd9f" fill-opacity="0.88" stroke="#fff" stroke-width="0.25"/>
<circle cx="246.0" cy="104.6" r="0.95" fill="#62bd9f" fill-opacity="0.88" stroke="#fff" stroke-width="0.25"/>
<circle cx="238.5" cy="90.1" r="0.95" fill="#62bd9f" fill-opacity="0.88" stroke="#fff" stroke-width="0.25"/>
<circle cx="236.6" cy="104.3" r="0.95" fill="#62bd9f" fill-opacity="0.88" stroke="#fff" stroke-width="0.25"/>
<circle cx="239.5" cy="104.4" r="0.95" fill="#62bd9f" fill-opacity="0.88" stroke="#fff" stroke-width="0.25"/>
<circle cx="244.4" cy="97.2" r="0.95" fill="#62bd9f" fill-opacity="0.88" stroke="#fff" stroke-width="0.25"/>
<circle cx="229.8" cy="93.9" r="0.95" fill="#62bd9f" fill-opacity="0.88" stroke="#fff" stroke-width="0.25"/>
<circle cx="243.1" cy="106.1" r="0.95" fill="#62bd9f" fill-opacity="0.88" stroke="#fff" stroke-width="0.25"/>
<circle cx="241.0" cy="97.7" r="0.95" fill="#62bd9f" fill-opacity="0.88" stroke="#fff" stroke-width="0.25"/>
<circle cx="232.6" cy="102.8" r="0.95" fill="#62bd9f" fill-opacity="0.88" stroke="#fff" stroke-width="0.25"/>
<circle cx="249.7" cy="104.3" r="0.95" fill="#62bd9f" fill-opacity="0.88" stroke="#fff" stroke-width="0.25"/>
<circle cx="238.1" cy="95.2" r="0.95" fill="#62bd9f" fill-opacity="0.88" stroke="#fff" stroke-width="0.25"/>
<circle cx="238.4" cy="103.5" r="0.95" fill="#62bd9f" fill-opacity="0.88" stroke="#fff" stroke-width="0.25"/>
<circle cx="240.9" cy="108.6" r="0.95" fill="#62bd9f" fill-opacity="0.88" stroke="#fff" stroke-width="0.25"/>
<circle cx="240.3" cy="99.2" r="0.95" fill="#62bd9f" fill-opacity="0.88" stroke="#fff" stroke-width="0.25"/>
<circle cx="234.6" cy="99.1" r="0.95" fill="#62bd9f" fill-opacity="0.88" stroke="#fff" stroke-width="0.25"/>
<circle cx="242.4" cy="104.6" r="0.95" fill="#62bd9f" fill-opacity="0.88" stroke="#fff" stroke-width="0.25"/>
<circle cx="240.9" cy="91.9" r="0.95" fill="#62bd9f" fill-opacity="0.88" stroke="#fff" stroke-width="0.25"/>
<circle cx="232.4" cy="105.6" r="0.95" fill="#62bd9f" fill-opacity="0.88" stroke="#fff" stroke-width="0.25"/>
<circle cx="243.2" cy="101.1" r="0.95" fill="#62bd9f" fill-opacity="0.88" stroke="#fff" stroke-width="0.25"/>
<circle cx="238.9" cy="99.5" r="0.95" fill="#62bd9f" fill-opacity="0.88" stroke="#fff" stroke-width="0.25"/>
<circle cx="237.1" cy="108.3" r="0.95" fill="#62bd9f" fill-opacity="0.88" stroke="#fff" stroke-width="0.25"/>
<circle cx="236.4" cy="113.0" r="0.95" fill="#62bd9f" fill-opacity="0.88" stroke="#fff" stroke-width="0.25"/>
<circle cx="244.2" cy="100.9" r="0.95" fill="#62bd9f" fill-opacity="0.88" stroke="#fff" stroke-width="0.25"/>
<circle cx="237.8" cy="98.2" r="0.95" fill="#62bd9f" fill-opacity="0.88" stroke="#fff" stroke-width="0.25"/>
<circle cx="242.4" cy="109.1" r="0.95" fill="#62bd9f" fill-opacity="0.88" stroke="#fff" stroke-width="0.25"/>
<circle cx="246.4" cy="92.8" r="0.95" fill="#62bd9f" fill-opacity="0.88" stroke="#fff" stroke-width="0.25"/>
<circle cx="236.3" cy="100.1" r="0.95" fill="#62bd9f" fill-opacity="0.88" stroke="#fff" stroke-width="0.25"/>
<circle cx="241.7" cy="102.8" r="0.95" fill="#62bd9f" fill-opacity="0.88" stroke="#fff" stroke-width="0.25"/>
<circle cx="239.9" cy="93.7" r="0.95" fill="#62bd9f" fill-opacity="0.88" stroke="#fff" stroke-width="0.25"/>
<circle cx="229.1" cy="109.7" r="0.95" fill="#62bd9f" fill-opacity="0.88" stroke="#fff" stroke-width="0.25"/>
<circle cx="239.0" cy="107.6" r="0.95" fill="#62bd9f" fill-opacity="0.88" stroke="#fff" stroke-width="0.25"/>
<circle cx="242.5" cy="98.7" r="0.95" fill="#62bd9f" fill-opacity="0.88" stroke="#fff" stroke-width="0.25"/>
<circle cx="234.0" cy="94.6" r="0.95" fill="#62bd9f" fill-opacity="0.88" stroke="#fff" stroke-width="0.25"/>
<circle cx="244.5" cy="109.5" r="0.95" fill="#62bd9f" fill-opacity="0.88" stroke="#fff" stroke-width="0.25"/>
<circle cx="241.3" cy="96.3" r="0.95" fill="#62bd9f" fill-opacity="0.88" stroke="#fff" stroke-width="0.25"/>
<circle cx="237.2" cy="101.5" r="0.95" fill="#62bd9f" fill-opacity="0.88" stroke="#fff" stroke-width="0.25"/>
<circle cx="244.9" cy="102.7" r="0.95" fill="#62bd9f" fill-opacity="0.88" stroke="#fff" stroke-width="0.25"/>
<circle cx="237.5" cy="87.1" r="0.95" fill="#62bd9f" fill-opacity="0.88" stroke="#fff" stroke-width="0.25"/>
<circle cx="235.8" cy="105.3" r="0.95" fill="#62bd9f" fill-opacity="0.88" stroke="#fff" stroke-width="0.25"/>
<circle cx="240.0" cy="105.1" r="0.95" fill="#62bd9f" fill-opacity="0.88" stroke="#fff" stroke-width="0.25"/>
<circle cx="245.5" cy="95.9" r="0.95" fill="#62bd9f" fill-opacity="0.88" stroke="#fff" stroke-width="0.25"/>
<circle cx="231.2" cy="96.4" r="0.95" fill="#62bd9f" fill-opacity="0.88" stroke="#fff" stroke-width="0.25"/>
<circle cx="242.9" cy="105.1" r="0.95" fill="#62bd9f" fill-opacity="0.88" stroke="#fff" stroke-width="0.25"/>
<circle cx="231.5" cy="106.2" r="0.95" fill="#62bd9f" fill-opacity="0.88" stroke="#fff" stroke-width="0.25"/>
<circle cx="236.9" cy="97.0" r="0.95" fill="#62bd9f" fill-opacity="0.88" stroke="#fff" stroke-width="0.25"/>
<circle cx="257.2" cy="108.2" r="0.95" fill="#62bd9f" fill-opacity="0.88" stroke="#fff" stroke-width="0.25"/>
<circle cx="239.2" cy="117.1" r="0.95" fill="#62bd9f" fill-opacity="0.88" stroke="#fff" stroke-width="0.25"/>
<circle cx="237.9" cy="104.0" r="0.95" fill="#62bd9f" fill-opacity="0.88" stroke="#fff" stroke-width="0.25"/>
<circle cx="243.8" cy="112.7" r="0.95" fill="#62bd9f" fill-opacity="0.88" stroke="#fff" stroke-width="0.25"/>
<circle cx="245.2" cy="106.1" r="0.95" fill="#62bd9f" fill-opacity="0.88" stroke="#fff" stroke-width="0.25"/>
<circle cx="231.2" cy="98.3" r="0.95" fill="#62bd9f" fill-opacity="0.88" stroke="#fff" stroke-width="0.25"/>
<circle cx="238.2" cy="98.7" r="0.95" fill="#62bd9f" fill-opacity="0.88" stroke="#fff" stroke-width="0.25"/>
<circle cx="246.8" cy="88.9" r="0.95" fill="#62bd9f" fill-opacity="0.88" stroke="#fff" stroke-width="0.25"/>
<circle cx="241.8" cy="102.7" r="0.95" fill="#62bd9f" fill-opacity="0.88" stroke="#fff" stroke-width="0.25"/>
<circle cx="240.7" cy="112.9" r="0.95" fill="#62bd9f" fill-opacity="0.88" stroke="#fff" stroke-width="0.25"/>
<circle cx="251.6" cy="106.9" r="0.95" fill="#62bd9f" fill-opacity="0.88" stroke="#fff" stroke-width="0.25"/>
<circle cx="234.6" cy="108.2" r="0.95" fill="#62bd9f" fill-opacity="0.88" stroke="#fff" stroke-width="0.25"/>
<circle cx="240.4" cy="110.5" r="0.95" fill="#62bd9f" fill-opacity="0.88" stroke="#fff" stroke-width="0.25"/>
<circle cx="235.8" cy="97.8" r="0.95" fill="#62bd9f" fill-opacity="0.88" stroke="#fff" stroke-width="0.25"/>
<circle cx="251.1" cy="106.1" r="0.95" fill="#62bd9f" fill-opacity="0.88" stroke="#fff" stroke-width="0.25"/>
<circle cx="224.8" cy="116.3" r="0.95" fill="#62bd9f" fill-opacity="0.88" stroke="#fff" stroke-width="0.25"/>
<circle cx="234.6" cy="95.8" r="0.95" fill="#62bd9f" fill-opacity="0.88" stroke="#fff" stroke-width="0.25"/>
<circle cx="235.7" cy="102.0" r="0.95" fill="#62bd9f" fill-opacity="0.88" stroke="#fff" stroke-width="0.25"/>
<circle cx="244.8" cy="98.4" r="0.95" fill="#62bd9f" fill-opacity="0.88" stroke="#fff" stroke-width="0.25"/>
<circle cx="244.4" cy="100.3" r="0.95" fill="#62bd9f" fill-opacity="0.88" stroke="#fff" stroke-width="0.25"/>
<circle cx="250.4" cy="96.3" r="0.95" fill="#62bd9f" fill-opacity="0.88" stroke="#fff" stroke-width="0.25"/>
<circle cx="227.7" cy="100.8" r="0.95" fill="#62bd9f" fill-opacity="0.88" stroke="#fff" stroke-width="0.25"/>
<circle cx="245.5" cy="91.6" r="0.95" fill="#62bd9f" fill-opacity="0.88" stroke="#fff" stroke-width="0.25"/>
<circle cx="237.5" cy="97.8" r="0.95" fill="#62bd9f" fill-opacity="0.88" stroke="#fff" stroke-width="0.25"/>
<circle cx="278.6" cy="46.8" r="0.95" fill="#e8765a" fill-opacity="0.88" stroke="#fff" stroke-width="0.25"/>
<circle cx="285.3" cy="50.7" r="0.95" fill="#e8765a" fill-opacity="0.88" stroke="#fff" stroke-width="0.25"/>
<circle cx="291.5" cy="48.7" r="0.95" fill="#e8765a" fill-opacity="0.88" stroke="#fff" stroke-width="0.25"/>
<circle cx="281.3" cy="50.3" r="0.95" fill="#e8765a" fill-opacity="0.88" stroke="#fff" stroke-width="0.25"/>
<circle cx="289.9" cy="55.9" r="0.95" fill="#e8765a" fill-opacity="0.88" stroke="#fff" stroke-width="0.25"/>
<circle cx="291.2" cy="43.5" r="0.95" fill="#e8765a" fill-opacity="0.88" stroke="#fff" stroke-width="0.25"/>
<circle cx="283.3" cy="47.1" r="0.95" fill="#e8765a" fill-opacity="0.88" stroke="#fff" stroke-width="0.25"/>
<circle cx="283.5" cy="52.2" r="0.95" fill="#e8765a" fill-opacity="0.88" stroke="#fff" stroke-width="0.25"/>
<circle cx="292.3" cy="50.7" r="0.95" fill="#e8765a" fill-opacity="0.88" stroke="#fff" stroke-width="0.25"/>
<circle cx="270.9" cy="45.5" r="0.95" fill="#e8765a" fill-opacity="0.88" stroke="#fff" stroke-width="0.25"/>
<circle cx="286.1" cy="55.0" r="0.95" fill="#e8765a" fill-opacity="0.88" stroke="#fff" stroke-width="0.25"/>
<circle cx="288.4" cy="48.7" r="0.95" fill="#e8765a" fill-opacity="0.88" stroke="#fff" stroke-width="0.25"/>
<circle cx="276.9" cy="51.8" r="0.95" fill="#e8765a" fill-opacity="0.88" stroke="#fff" stroke-width="0.25"/>
<circle cx="294.1" cy="56.7" r="0.95" fill="#e8765a" fill-opacity="0.88" stroke="#fff" stroke-width="0.25"/>
<circle cx="287.1" cy="46.3" r="0.95" fill="#e8765a" fill-opacity="0.88" stroke="#fff" stroke-width="0.25"/>
<circle cx="284.9" cy="48.3" r="0.95" fill="#e8765a" fill-opacity="0.88" stroke="#fff" stroke-width="0.25"/>
<circle cx="278.6" cy="53.1" r="0.95" fill="#e8765a" fill-opacity="0.88" stroke="#fff" stroke-width="0.25"/>
<circle cx="287.4" cy="50.1" r="0.95" fill="#e8765a" fill-opacity="0.88" stroke="#fff" stroke-width="0.25"/>
<circle cx="281.8" cy="46.2" r="0.95" fill="#e8765a" fill-opacity="0.88" stroke="#fff" stroke-width="0.25"/>
<circle cx="283.7" cy="53.5" r="0.95" fill="#e8765a" fill-opacity="0.88" stroke="#fff" stroke-width="0.25"/>
<circle cx="294.8" cy="48.4" r="0.95" fill="#e8765a" fill-opacity="0.88" stroke="#fff" stroke-width="0.25"/>
<circle cx="275.2" cy="49.5" r="0.95" fill="#e8765a" fill-opacity="0.88" stroke="#fff" stroke-width="0.25"/>
<circle cx="287.7" cy="53.3" r="0.95" fill="#e8765a" fill-opacity="0.88" stroke="#fff" stroke-width="0.25"/>
<circle cx="286.1" cy="48.7" r="0.95" fill="#e8765a" fill-opacity="0.88" stroke="#fff" stroke-width="0.25"/>
<circle cx="283.2" cy="46.0" r="0.95" fill="#e8765a" fill-opacity="0.88" stroke="#fff" stroke-width="0.25"/>
<circle cx="276.7" cy="56.5" r="0.95" fill="#e8765a" fill-opacity="0.88" stroke="#fff" stroke-width="0.25"/>
<circle cx="290.8" cy="51.2" r="0.95" fill="#e8765a" fill-opacity="0.88" stroke="#fff" stroke-width="0.25"/>
<circle cx="282.1" cy="48.5" r="0.95" fill="#e8765a" fill-opacity="0.88" stroke="#fff" stroke-width="0.25"/>
<circle cx="284.8" cy="56.1" r="0.95" fill="#e8765a" fill-opacity="0.88" stroke="#fff" stroke-width="0.25"/>
<circle cx="294.5" cy="47.0" r="0.95" fill="#e8765a" fill-opacity="0.88" stroke="#fff" stroke-width="0.25"/>
<circle cx="279.6" cy="50.7" r="0.95" fill="#e8765a" fill-opacity="0.88" stroke="#fff" stroke-width="0.25"/>
<circle cx="287.0" cy="51.6" r="0.95" fill="#e8765a" fill-opacity="0.88" stroke="#fff" stroke-width="0.25"/>
<circle cx="288.5" cy="45.4" r="0.95" fill="#e8765a" fill-opacity="0.88" stroke="#fff" stroke-width="0.25"/>
<circle cx="277.3" cy="40.5" r="0.95" fill="#e8765a" fill-opacity="0.88" stroke="#fff" stroke-width="0.25"/>
<circle cx="281.5" cy="54.4" r="0.95" fill="#e8765a" fill-opacity="0.88" stroke="#fff" stroke-width="0.25"/>
<circle cx="289.4" cy="50.9" r="0.95" fill="#e8765a" fill-opacity="0.88" stroke="#fff" stroke-width="0.25"/>
<circle cx="277.2" cy="47.9" r="0.95" fill="#e8765a" fill-opacity="0.88" stroke="#fff" stroke-width="0.25"/>
<circle cx="287.6" cy="57.3" r="0.95" fill="#e8765a" fill-opacity="0.88" stroke="#fff" stroke-width="0.25"/>
<circle cx="289.3" cy="48.0" r="0.95" fill="#e8765a" fill-opacity="0.88" stroke="#fff" stroke-width="0.25"/>
<circle cx="282.9" cy="50.9" r="0.95" fill="#e8765a" fill-opacity="0.88" stroke="#fff" stroke-width="0.25"/>
<circle cx="291.4" cy="53.3" r="0.95" fill="#e8765a" fill-opacity="0.88" stroke="#fff" stroke-width="0.25"/>
<circle cx="287.6" cy="40.6" r="0.95" fill="#e8765a" fill-opacity="0.88" stroke="#fff" stroke-width="0.25"/>
<circle cx="285.4" cy="46.2" r="0.95" fill="#e8765a" fill-opacity="0.88" stroke="#fff" stroke-width="0.25"/>
<circle cx="281.7" cy="51.5" r="0.95" fill="#e8765a" fill-opacity="0.88" stroke="#fff" stroke-width="0.25"/>
<circle cx="293.4" cy="53.3" r="0.95" fill="#e8765a" fill-opacity="0.88" stroke="#fff" stroke-width="0.25"/>
<circle cx="278.6" cy="44.0" r="0.95" fill="#e8765a" fill-opacity="0.88" stroke="#fff" stroke-width="0.25"/>
<circle cx="283.7" cy="53.5" r="0.95" fill="#e8765a" fill-opacity="0.88" stroke="#fff" stroke-width="0.25"/>
<circle cx="288.4" cy="50.3" r="0.95" fill="#e8765a" fill-opacity="0.88" stroke="#fff" stroke-width="0.25"/>
<circle cx="278.1" cy="49.3" r="0.95" fill="#e8765a" fill-opacity="0.88" stroke="#fff" stroke-width="0.25"/>
<circle cx="285.6" cy="50.8" r="0.95" fill="#e8765a" fill-opacity="0.88" stroke="#fff" stroke-width="0.25"/>
<circle cx="290.1" cy="46.9" r="0.95" fill="#e8765a" fill-opacity="0.88" stroke="#fff" stroke-width="0.25"/>
<circle cx="285.8" cy="47.6" r="0.95" fill="#e8765a" fill-opacity="0.88" stroke="#fff" stroke-width="0.25"/>
<circle cx="278.5" cy="54.7" r="0.95" fill="#e8765a" fill-opacity="0.88" stroke="#fff" stroke-width="0.25"/>
<circle cx="294.9" cy="52.5" r="0.95" fill="#e8765a" fill-opacity="0.88" stroke="#fff" stroke-width="0.25"/>
<circle cx="281.7" cy="47.7" r="0.95" fill="#e8765a" fill-opacity="0.88" stroke="#fff" stroke-width="0.25"/>
<circle cx="285.2" cy="51.9" r="0.95" fill="#e8765a" fill-opacity="0.88" stroke="#fff" stroke-width="0.25"/>
<circle cx="292.8" cy="48.5" r="0.95" fill="#e8765a" fill-opacity="0.88" stroke="#fff" stroke-width="0.25"/>
<circle cx="271.8" cy="50.0" r="0.95" fill="#e8765a" fill-opacity="0.88" stroke="#fff" stroke-width="0.25"/>
<circle cx="287.7" cy="54.2" r="0.95" fill="#e8765a" fill-opacity="0.88" stroke="#fff" stroke-width="0.25"/>
<circle cx="287.2" cy="48.0" r="0.95" fill="#e8765a" fill-opacity="0.88" stroke="#fff" stroke-width="0.25"/>
<circle cx="282.2" cy="44.8" r="0.95" fill="#e8765a" fill-opacity="0.88" stroke="#fff" stroke-width="0.25"/>
<circle cx="278.6" cy="56.9" r="0.95" fill="#e8765a" fill-opacity="0.88" stroke="#fff" stroke-width="0.25"/>
<circle cx="291.5" cy="50.9" r="0.95" fill="#e8765a" fill-opacity="0.88" stroke="#fff" stroke-width="0.25"/>
<circle cx="283.0" cy="49.3" r="0.95" fill="#e8765a" fill-opacity="0.88" stroke="#fff" stroke-width="0.25"/>
<circle cx="286.2" cy="55.8" r="0.95" fill="#e8765a" fill-opacity="0.88" stroke="#fff" stroke-width="0.25"/>
<circle cx="285.7" cy="50.2" r="0.95" fill="#e8765a" fill-opacity="0.88" stroke="#fff" stroke-width="0.25"/>
<circle cx="279.4" cy="51.5" r="0.95" fill="#e8765a" fill-opacity="0.88" stroke="#fff" stroke-width="0.25"/>
<circle cx="289.3" cy="52.1" r="0.95" fill="#e8765a" fill-opacity="0.88" stroke="#fff" stroke-width="0.25"/>
<circle cx="288.6" cy="44.0" r="0.95" fill="#e8765a" fill-opacity="0.88" stroke="#fff" stroke-width="0.25"/>
<circle cx="285.5" cy="42.5" r="0.95" fill="#e8765a" fill-opacity="0.88" stroke="#fff" stroke-width="0.25"/>
<circle cx="281.1" cy="51.8" r="0.95" fill="#e8765a" fill-opacity="0.88" stroke="#fff" stroke-width="0.25"/>
<circle cx="288.5" cy="51.0" r="0.95" fill="#e8765a" fill-opacity="0.88" stroke="#fff" stroke-width="0.25"/>
<circle cx="280.2" cy="45.6" r="0.95" fill="#e8765a" fill-opacity="0.88" stroke="#fff" stroke-width="0.25"/>
<circle cx="280.3" cy="60.7" r="0.95" fill="#e8765a" fill-opacity="0.88" stroke="#fff" stroke-width="0.25"/>
<circle cx="293.2" cy="43.2" r="0.95" fill="#e8765a" fill-opacity="0.88" stroke="#fff" stroke-width="0.25"/>
<circle cx="282.4" cy="50.4" r="0.95" fill="#e8765a" fill-opacity="0.88" stroke="#fff" stroke-width="0.25"/>
<circle cx="303.2" cy="43.1" r="0.95" fill="#e8765a" fill-opacity="0.88" stroke="#fff" stroke-width="0.25"/>
<circle cx="301.7" cy="49.4" r="0.95" fill="#e8765a" fill-opacity="0.88" stroke="#fff" stroke-width="0.25"/>
<circle cx="266.8" cy="50.1" r="0.95" fill="#e8765a" fill-opacity="0.88" stroke="#fff" stroke-width="0.25"/>
<circle cx="276.2" cy="46.0" r="0.95" fill="#e8765a" fill-opacity="0.88" stroke="#fff" stroke-width="0.25"/>
<circle cx="291.8" cy="43.0" r="0.95" fill="#e8765a" fill-opacity="0.88" stroke="#fff" stroke-width="0.25"/>
<circle cx="293.0" cy="51.6" r="0.95" fill="#e8765a" fill-opacity="0.88" stroke="#fff" stroke-width="0.25"/>
<circle cx="292.5" cy="51.0" r="0.95" fill="#e8765a" fill-opacity="0.88" stroke="#fff" stroke-width="0.25"/>
<circle cx="284.8" cy="50.5" r="0.95" fill="#e8765a" fill-opacity="0.88" stroke="#fff" stroke-width="0.25"/>
<circle cx="289.8" cy="49.0" r="0.95" fill="#e8765a" fill-opacity="0.88" stroke="#fff" stroke-width="0.25"/>
<circle cx="291.7" cy="55.1" r="0.95" fill="#e8765a" fill-opacity="0.88" stroke="#fff" stroke-width="0.25"/>
<circle cx="284.7" cy="43.2" r="0.95" fill="#e8765a" fill-opacity="0.88" stroke="#fff" stroke-width="0.25"/>
<circle cx="295.3" cy="52.0" r="0.95" fill="#e8765a" fill-opacity="0.88" stroke="#fff" stroke-width="0.25"/>
<circle cx="263.9" cy="46.7" r="0.95" fill="#e8765a" fill-opacity="0.88" stroke="#fff" stroke-width="0.25"/>
<circle cx="291.5" cy="54.6" r="0.95" fill="#e8765a" fill-opacity="0.88" stroke="#fff" stroke-width="0.25"/>
<circle cx="275.6" cy="47.3" r="0.95" fill="#e8765a" fill-opacity="0.88" stroke="#fff" stroke-width="0.25"/>
<circle cx="294.6" cy="47.1" r="0.95" fill="#e8765a" fill-opacity="0.88" stroke="#fff" stroke-width="0.25"/>
<circle cx="283.3" cy="52.1" r="0.95" fill="#e8765a" fill-opacity="0.88" stroke="#fff" stroke-width="0.25"/>
<circle cx="277.0" cy="37.1" r="0.95" fill="#e8765a" fill-opacity="0.88" stroke="#fff" stroke-width="0.25"/>
<circle cx="289.1" cy="47.2" r="0.95" fill="#e8765a" fill-opacity="0.88" stroke="#fff" stroke-width="0.25"/>
<circle cx="276.8" cy="38.6" r="0.95" fill="#e8765a" fill-opacity="0.88" stroke="#fff" stroke-width="0.25"/>
<circle cx="276.8" cy="43.6" r="0.95" fill="#e8765a" fill-opacity="0.88" stroke="#fff" stroke-width="0.25"/>
<circle cx="270.5" cy="53.6" r="0.95" fill="#e8765a" fill-opacity="0.88" stroke="#fff" stroke-width="0.25"/>
<circle cx="285.2" cy="51.9" r="0.95" fill="#e8765a" fill-opacity="0.88" stroke="#fff" stroke-width="0.25"/>
<circle cx="290.2" cy="46.8" r="0.95" fill="#e8765a" fill-opacity="0.88" stroke="#fff" stroke-width="0.25"/>
<rect x="15.5" y="15" width="150.00" height="105.00" fill="none" stroke="#8a8a8a" stroke-width="1.2"/>
<line x1="33.30" y1="120" x2="33.30" y2="121.6" stroke="#444" stroke-width="0.5"/>
<text x="33.30" y="125.60" font-size="3.85" fill="#222" text-anchor="middle" stroke="#222" stroke-width="0.08">−7.5</text>
<line x1="52.65" y1="120" x2="52.65" y2="121.6" stroke="#444" stroke-width="0.5"/>
<text x="52.65" y="125.60" font-size="3.85" fill="#222" text-anchor="middle" stroke="#222" stroke-width="0.08">−5.0</text>
<line x1="72.00" y1="120" x2="72.00" y2="121.6" stroke="#444" stroke-width="0.5"/>
<text x="72.00" y="125.60" font-size="3.85" fill="#222" text-anchor="middle" stroke="#222" stroke-width="0.08">−2.5</text>
<line x1="91.35" y1="120" x2="91.35" y2="121.6" stroke="#444" stroke-width="0.5"/>
<text x="91.35" y="125.60" font-size="3.85" fill="#222" text-anchor="middle" stroke="#222" stroke-width="0.08">0.0</text>
<line x1="110.70" y1="120" x2="110.70" y2="121.6" stroke="#444" stroke-width="0.5"/>
<text x="110.70" y="125.60" font-size="3.85" fill="#222" text-anchor="middle" stroke="#222" stroke-width="0.08">2.5</text>
<line x1="130.05" y1="120" x2="130.05" y2="121.6" stroke="#444" stroke-width="0.5"/>
<text x="130.05" y="125.60" font-size="3.85" fill="#222" text-anchor="middle" stroke="#222" stroke-width="0.08">5.0</text>
<line x1="149.40" y1="120" x2="149.40" y2="121.6" stroke="#444" stroke-width="0.5"/>
<text x="149.40" y="125.60" font-size="3.85" fill="#222" text-anchor="middle" stroke="#222" stroke-width="0.08">7.5</text>
<line x1="13.9" y1="119.60" x2="15.5" y2="119.60" stroke="#444" stroke-width="0.5"/>
<text x="13.10" y="120.99" font-size="3.85" fill="#222" text-anchor="end" stroke="#222" stroke-width="0.08">−6</text>
<line x1="13.9" y1="104.20" x2="15.5" y2="104.20" stroke="#444" stroke-width="0.5"/>
<text x="13.10" y="105.59" font-size="3.85" fill="#222" text-anchor="end" stroke="#222" stroke-width="0.08">−4</text>
<line x1="13.9" y1="88.80" x2="15.5" y2="88.80" stroke="#444" stroke-width="0.5"/>
<text x="13.10" y="90.19" font-size="3.85" fill="#222" text-anchor="end" stroke="#222" stroke-width="0.08">−2</text>
<line x1="13.9" y1="73.40" x2="15.5" y2="73.40" stroke="#444" stroke-width="0.5"/>
<text x="13.10" y="74.79" font-size="3.85" fill="#222" text-anchor="end" stroke="#222" stroke-width="0.08">0</text>
<line x1="13.9" y1="58.00" x2="15.5" y2="58.00" stroke="#444" stroke-width="0.5"/>
<text x="13.10" y="59.39" font-size="3.85" fill="#222" text-anchor="end" stroke="#222" stroke-width="0.08">2</text>
<line x1="13.9" y1="42.60" x2="15.5" y2="42.60" stroke="#444" stroke-width="0.5"/>
<text x="13.10" y="43.99" font-size="3.85" fill="#222" text-anchor="end" stroke="#222" stroke-width="0.08">4</text>
<line x1="13.9" y1="27.20" x2="15.5" y2="27.20" stroke="#444" stroke-width="0.5"/>
<text x="13.10" y="28.59" font-size="3.85" fill="#222" text-anchor="end" stroke="#222" stroke-width="0.08">6</text>
<text x="90.50" y="131.10" font-size="4.25" fill="#111" font-weight="bold" text-anchor="middle" textLength="49.60" lengthAdjust="spacingAndGlyphs" stroke="#111" stroke-width="0.12">Embedding Dimension 1</text>
<text x="6.80" y="67.50" font-size="4.25" fill="#111" font-weight="bold" text-anchor="middle" textLength="51.30" lengthAdjust="spacingAndGlyphs" transform="rotate(-90 6.80 67.50)" stroke="#111" stroke-width="0.12">Embedding Dimension 2</text>
<rect x="182.5" y="15" width="149.70" height="105.00" fill="none" stroke="#8a8a8a" stroke-width="1.2"/>
<line x1="200.60" y1="120" x2="200.60" y2="121.6" stroke="#444" stroke-width="0.5"/>
<text x="200.60" y="125.60" font-size="3.85" fill="#222" text-anchor="middle" stroke="#222" stroke-width="0.08">−7.5</text>
<line x1="219.71" y1="120" x2="219.71" y2="121.6" stroke="#444" stroke-width="0.5"/>
<text x="219.71" y="125.60" font-size="3.85" fill="#222" text-anchor="middle" stroke="#222" stroke-width="0.08">−5.0</text>
<line x1="238.83" y1="120" x2="238.83" y2="121.6" stroke="#444" stroke-width="0.5"/>
<text x="238.83" y="125.60" font-size="3.85" fill="#222" text-anchor="middle" stroke="#222" stroke-width="0.08">−2.5</text>
<line x1="257.95" y1="120" x2="257.95" y2="121.6" stroke="#444" stroke-width="0.5"/>
<text x="257.95" y="125.60" font-size="3.85" fill="#222" text-anchor="middle" stroke="#222" stroke-width="0.08">0.0</text>
<line x1="277.07" y1="120" x2="277.07" y2="121.6" stroke="#444" stroke-width="0.5"/>
<text x="277.07" y="125.60" font-size="3.85" fill="#222" text-anchor="middle" stroke="#222" stroke-width="0.08">2.5</text>
<line x1="296.19" y1="120" x2="296.19" y2="121.6" stroke="#444" stroke-width="0.5"/>
<text x="296.19" y="125.60" font-size="3.85" fill="#222" text-anchor="middle" stroke="#222" stroke-width="0.08">5.0</text>
<line x1="315.30" y1="120" x2="315.30" y2="121.6" stroke="#444" stroke-width="0.5"/>
<text x="315.30" y="125.60" font-size="3.85" fill="#222" text-anchor="middle" stroke="#222" stroke-width="0.08">7.5</text>
<line x1="180.9" y1="119.60" x2="182.5" y2="119.60" stroke="#444" stroke-width="0.5"/>
<text x="180.10" y="120.99" font-size="3.85" fill="#222" text-anchor="end" stroke="#222" stroke-width="0.08">−6</text>
<line x1="180.9" y1="104.20" x2="182.5" y2="104.20" stroke="#444" stroke-width="0.5"/>
<text x="180.10" y="105.59" font-size="3.85" fill="#222" text-anchor="end" stroke="#222" stroke-width="0.08">−4</text>
<line x1="180.9" y1="88.80" x2="182.5" y2="88.80" stroke="#444" stroke-width="0.5"/>
<text x="180.10" y="90.19" font-size="3.85" fill="#222" text-anchor="end" stroke="#222" stroke-width="0.08">−2</text>
<line x1="180.9" y1="73.40" x2="182.5" y2="73.40" stroke="#444" stroke-width="0.5"/>
<text x="180.10" y="74.79" font-size="3.85" fill="#222" text-anchor="end" stroke="#222" stroke-width="0.08">0</text>
<line x1="180.9" y1="58.00" x2="182.5" y2="58.00" stroke="#444" stroke-width="0.5"/>
<text x="180.10" y="59.39" font-size="3.85" fill="#222" text-anchor="end" stroke="#222" stroke-width="0.08">2</text>
<line x1="180.9" y1="42.60" x2="182.5" y2="42.60" stroke="#444" stroke-width="0.5"/>
<text x="180.10" y="43.99" font-size="3.85" fill="#222" text-anchor="end" stroke="#222" stroke-width="0.08">4</text>
<line x1="180.9" y1="27.20" x2="182.5" y2="27.20" stroke="#444" stroke-width="0.5"/>
<text x="180.10" y="28.59" font-size="3.85" fill="#222" text-anchor="end" stroke="#222" stroke-width="0.08">6</text>
<text x="257.35" y="131.10" font-size="4.25" fill="#111" font-weight="bold" text-anchor="middle" textLength="49.60" lengthAdjust="spacingAndGlyphs" stroke="#111" stroke-width="0.12">Embedding Dimension 1</text>
<text x="173.80" y="67.50" font-size="4.25" fill="#111" font-weight="bold" text-anchor="middle" textLength="51.30" lengthAdjust="spacingAndGlyphs" transform="rotate(-90 173.80 67.50)" stroke="#111" stroke-width="0.12">Embedding Dimension 2</text>
<text x="90.30" y="12.60" font-size="4.64" fill="#111" font-weight="bold" text-anchor="middle" textLength="43.90" lengthAdjust="spacingAndGlyphs" stroke="#111" stroke-width="0.12">Sample Distribution</text>
<text x="257.40" y="12.60" font-size="4.64" fill="#111" font-weight="bold" text-anchor="middle" textLength="43.90" lengthAdjust="spacingAndGlyphs" stroke="#111" stroke-width="0.12">Density Distribution</text>
<text x="167.40" y="6.30" font-size="5.43" fill="#111" font-weight="bold" text-anchor="middle" textLength="118.70" lengthAdjust="spacingAndGlyphs" stroke="#111" stroke-width="0.12">Embedding Space: Before Domain Adaptation</text>
<rect x="140.0" y="17.3" width="24.6" height="29.2" rx="0.8" fill="#9a9a9a" fill-opacity="0.45"/>
<rect x="139.2" y="16.5" width="24.6" height="29.2" rx="0.8" fill="#fff" stroke="#d0d0d0" stroke-width="0.5"/>
<circle cx="144.3" cy="20.20" r="1.3" fill="#5288b3" stroke="#fff" stroke-width="0.3"/>
<text x="151.00" y="21.73" font-size="4.25" fill="#222" stroke="#222" stroke-width="0.08">Site A</text>
<circle cx="144.3" cy="25.60" r="1.3" fill="#a2538c" stroke="#fff" stroke-width="0.3"/>
<text x="151.00" y="27.13" font-size="4.25" fill="#222" stroke="#222" stroke-width="0.08">Site B</text>
<circle cx="144.3" cy="31.10" r="1.3" fill="#ee9a52" stroke="#fff" stroke-width="0.3"/>
<text x="151.00" y="32.63" font-size="4.25" fill="#222" stroke="#222" stroke-width="0.08">Site C</text>
<circle cx="144.3" cy="36.60" r="1.3" fill="#62bd9f" stroke="#fff" stroke-width="0.3"/>
<text x="151.00" y="38.13" font-size="4.25" fill="#222" stroke="#222" stroke-width="0.08">Site D</text>
<circle cx="144.3" cy="42.00" r="1.3" fill="#e8765a" stroke="#fff" stroke-width="0.3"/>
<text x="151.00" y="43.53" font-size="4.25" fill="#222" stroke="#222" stroke-width="0.08">Site E</text>
<rect x="17.4" y="12.3" width="42.7" height="7.4" rx="1.5" fill="#fff" fill-opacity="0.9" stroke="#444" stroke-width="0.7"/>
<text x="18.90" y="17.40" font-size="4.28" fill="#111" font-weight="bold" textLength="39.20" lengthAdjust="spacingAndGlyphs" stroke="#111" stroke-width="0.12">kNN Entropy: 0.853</text>
<line x1="388.30" y1="15" x2="388.30" y2="120" stroke="#e9e9e9" stroke-width="0.45" stroke-dasharray="1.4,0.8"/>
<line x1="412.70" y1="15" x2="412.70" y2="120" stroke="#e9e9e9" stroke-width="0.45" stroke-dasharray="1.4,0.8"/>
<line x1="437.10" y1="15" x2="437.10" y2="120" stroke="#e9e9e9" stroke-width="0.45" stroke-dasharray="1.4,0.8"/>
<line x1="461.50" y1="15" x2="461.50" y2="120" stroke="#e9e9e9" stroke-width="0.45" stroke-dasharray="1.4,0.8"/>
<line x1="485.90" y1="15" x2="485.90" y2="120" stroke="#e9e9e9" stroke-width="0.45" stroke-dasharray="1.4,0.8"/>
<line x1="510.30" y1="15" x2="510.30" y2="120" stroke="#e9e9e9" stroke-width="0.45" stroke-dasharray="1.4,0.8"/>
<line x1="368.7" y1="111.09" x2="515.3" y2="111.09" stroke="#e9e9e9" stroke-width="0.45" stroke-dasharray="1.4,0.8"/>
<line x1="368.7" y1="98.90" x2="515.3" y2="98.90" stroke="#e9e9e9" stroke-width="0.45" stroke-dasharray="1.4,0.8"/>
<line x1="368.7" y1="86.72" x2="515.3" y2="86.72" stroke="#e9e9e9" stroke-width="0.45" stroke-dasharray="1.4,0.8"/>
<line x1="368.7" y1="74.53" x2="515.3" y2="74.53" stroke="#e9e9e9" stroke-width="0.45" stroke-dasharray="1.4,0.8"/>
<line x1="368.7" y1="62.35" x2="515.3" y2="62.35" stroke="#e9e9e9" stroke-width="0.45" stroke-dasharray="1.4,0.8"/>
<line x1="368.7" y1="50.16" x2="515.3" y2="50.16" stroke="#e9e9e9" stroke-width="0.45" stroke-dasharray="1.4,0.8"/>
<line x1="368.7" y1="37.98" x2="515.3" y2="37.98" stroke="#e9e9e9" stroke-width="0.45" stroke-dasharray="1.4,0.8"/>
<line x1="368.7" y1="25.79" x2="515.3" y2="25.79" stroke="#e9e9e9" stroke-width="0.45" stroke-dasharray="1.4,0.8"/>
<line x1="555.56" y1="15" x2="555.56" y2="120" stroke="#e9e9e9" stroke-width="0.45" stroke-dasharray="1.4,0.8"/>
<line x1="579.88" y1="15" x2="579.88" y2="120" stroke="#e9e9e9" stroke-width="0.45" stroke-dasharray="1.4,0.8"/>
<line x1="604.20" y1="15" x2="604.20" y2="120" stroke="#e9e9e9" stroke-width="0.45" stroke-dasharray="1.4,0.8"/>
<line x1="628.52" y1="15" x2="628.52" y2="120" stroke="#e9e9e9" stroke-width="0.45" stroke-dasharray="1.4,0.8"/>
<line x1="652.84" y1="15" x2="652.84" y2="120" stroke="#e9e9e9" stroke-width="0.45" stroke-dasharray="1.4,0.8"/>
<line x1="677.16" y1="15" x2="677.16" y2="120" stroke="#e9e9e9" stroke-width="0.45" stroke-dasharray="1.4,0.8"/>
<line x1="535.3" y1="111.09" x2="682.4" y2="111.09" stroke="#e9e9e9" stroke-width="0.45" stroke-dasharray="1.4,0.8"/>
<line x1="535.3" y1="98.90" x2="682.4" y2="98.90" stroke="#e9e9e9" stroke-width="0.45" stroke-dasharray="1.4,0.8"/>
<line x1="535.3" y1="86.72" x2="682.4" y2="86.72" stroke="#e9e9e9" stroke-width="0.45" stroke-dasharray="1.4,0.8"/>
<line x1="535.3" y1="74.53" x2="682.4" y2="74.53" stroke="#e9e9e9" stroke-width="0.45" stroke-dasharray="1.4,0.8"/>
<line x1="535.3" y1="62.35" x2="682.4" y2="62.35" stroke="#e9e9e9" stroke-width="0.45" stroke-dasharray="1.4,0.8"/>
<line x1="535.3" y1="50.16" x2="682.4" y2="50.16" stroke="#e9e9e9" stroke-width="0.45" stroke-dasharray="1.4,0.8"/>
<line x1="535.3" y1="37.98" x2="682.4" y2="37.98" stroke="#e9e9e9" stroke-width="0.45" stroke-dasharray="1.4,0.8"/>
<line x1="535.3" y1="25.79" x2="682.4" y2="25.79" stroke="#e9e9e9" stroke-width="0.45" stroke-dasharray="1.4,0.8"/>
<circle cx="440.7" cy="87.8" r="0.95" fill="#5288b3" fill-opacity="0.88" stroke="#fff" stroke-width="0.25"/>
<circle cx="458.5" cy="72.8" r="0.95" fill="#5288b3" fill-opacity="0.88" stroke="#fff" stroke-width="0.25"/>
<circle cx="456.7" cy="73.8" r="0.95" fill="#5288b3" fill-opacity="0.88" stroke="#fff" stroke-width="0.25"/>
<circle cx="433.4" cy="79.2" r="0.95" fill="#5288b3" fill-opacity="0.88" stroke="#fff" stroke-width="0.25"/>
<circle cx="436.3" cy="80.9" r="0.95" fill="#5288b3" fill-opacity="0.88" stroke="#fff" stroke-width="0.25"/>
<circle cx="433.2" cy="95.2" r="0.95" fill="#5288b3" fill-opacity="0.88" stroke="#fff" stroke-width="0.25"/>
<circle cx="447.9" cy="84.5" r="0.95" fill="#5288b3" fill-opacity="0.88" stroke="#fff" stroke-width="0.25"/>
<circle cx="439.5" cy="61.8" r="0.95" fill="#5288b3" fill-opacity="0.88" stroke="#fff" stroke-width="0.25"/>
<circle cx="450.3" cy="80.5" r="0.95" fill="#5288b3" fill-opacity="0.88" stroke="#fff" stroke-width="0.25"/>
<circle cx="415.5" cy="97.2" r="0.95" fill="#5288b3" fill-opacity="0.88" stroke="#fff" stroke-width="0.25"/>
<circle cx="461.3" cy="60.1" r="0.95" fill="#5288b3" fill-opacity="0.88" stroke="#fff" stroke-width="0.25"/>
<circle cx="439.0" cy="70.8" r="0.95" fill="#5288b3" fill-opacity="0.88" stroke="#fff" stroke-width="0.25"/>
<circle cx="449.4" cy="49.7" r="0.95" fill="#5288b3" fill-opacity="0.88" stroke="#fff" stroke-width="0.25"/>
<circle cx="438.4" cy="77.1" r="0.95" fill="#5288b3" fill-opacity="0.88" stroke="#fff" stroke-width="0.25"/>
<circle cx="435.2" cy="84.1" r="0.95" fill="#5288b3" fill-opacity="0.88" stroke="#fff" stroke-width="0.25"/>
<circle cx="446.5" cy="97.3" r="0.95" fill="#5288b3" fill-opacity="0.88" stroke="#fff" stroke-width="0.25"/>
<circle cx="451.3" cy="60.2" r="0.95" fill="#5288b3" fill-opacity="0.88" stroke="#fff" stroke-width="0.25"/>
<circle cx="437.6" cy="43.5" r="0.95" fill="#5288b3" fill-opacity="0.88" stroke="#fff" stroke-width="0.25"/>
<circle cx="438.2" cy="88.9" r="0.95" fill="#5288b3" fill-opacity="0.88" stroke="#fff" stroke-width="0.25"/>
<circle cx="449.5" cy="86.6" r="0.95" fill="#5288b3" fill-opacity="0.88" stroke="#fff" stroke-width="0.25"/>
<circle cx="428.6" cy="70.0" r="0.95" fill="#5288b3" fill-opacity="0.88" stroke="#fff" stroke-width="0.25"/>
<circle cx="419.9" cy="89.1" r="0.95" fill="#5288b3" fill-opacity="0.88" stroke="#fff" stroke-width="0.25"/>
<circle cx="445.6" cy="81.6" r="0.95" fill="#5288b3" fill-opacity="0.88" stroke="#fff" stroke-width="0.25"/>
<circle cx="431.3" cy="82.6" r="0.95" fill="#5288b3" fill-opacity="0.88" stroke="#fff" stroke-width="0.25"/>
<circle cx="414.5" cy="75.4" r="0.95" fill="#5288b3" fill-opacity="0.88" stroke="#fff" stroke-width="0.25"/>
<circle cx="429.3" cy="63.3" r="0.95" fill="#5288b3" fill-opacity="0.88" stroke="#fff" stroke-width="0.25"/>
<circle cx="434.0" cy="77.6" r="0.95" fill="#5288b3" fill-opacity="0.88" stroke="#fff" stroke-width="0.25"/>
<circle cx="424.3" cy="65.6" r="0.95" fill="#5288b3" fill-opacity="0.88" stroke="#fff" stroke-width="0.25"/>
<circle cx="420.2" cy="83.6" r="0.95" fill="#5288b3" fill-opacity="0.88" stroke="#fff" stroke-width="0.25"/>
<circle cx="440.8" cy="73.5" r="0.95" fill="#5288b3" fill-opacity="0.88" stroke="#fff" stroke-width="0.25"/>
<circle cx="452.3" cy="106.6" r="0.95" fill="#5288b3" fill-opacity="0.88" stroke="#fff" stroke-width="0.25"/>
<circle cx="437.1" cy="97.4" r="0.95" fill="#5288b3" fill-opacity="0.88" stroke="#fff" stroke-width="0.25"/>
<circle cx="430.3" cy="67.3" r="0.95" fill="#5288b3" fill-opacity="0.88" stroke="#fff" stroke-width="0.25"/>
<circle cx="445.4" cy="85.9" r="0.95" fill="#5288b3" fill-opacity="0.88" stroke="#fff" stroke-width="0.25"/>
<circle cx="449.9" cy="70.2" r="0.95" fill="#5288b3" fill-opacity="0.88" stroke="#fff" stroke-width="0.25"/>
<circle cx="436.2" cy="70.7" r="0.95" fill="#5288b3" fill-opacity="0.88" stroke="#fff" stroke-width="0.25"/>
<circle cx="447.6" cy="60.2" r="0.95" fill="#5288b3" fill-opacity="0.88" stroke="#fff" stroke-width="0.25"/>
<circle cx="454.3" cy="67.1" r="0.95" fill="#5288b3" fill-opacity="0.88" stroke="#fff" stroke-width="0.25"/>
<circle cx="437.5" cy="64.3" r="0.95" fill="#5288b3" fill-opacity="0.88" stroke="#fff" stroke-width="0.25"/>
<circle cx="429.4" cy="79.4" r="0.95" fill="#5288b3" fill-opacity="0.88" stroke="#fff" stroke-width="0.25"/>
<circle cx="444.9" cy="87.3" r="0.95" fill="#5288b3" fill-opacity="0.88" stroke="#fff" stroke-width="0.25"/>
<circle cx="443.6" cy="87.7" r="0.95" fill="#5288b3" fill-opacity="0.88" stroke="#fff" stroke-width="0.25"/>
<circle cx="455.0" cy="84.5" r="0.95" fill="#5288b3" fill-opacity="0.88" stroke="#fff" stroke-width="0.25"/>
<circle cx="423.0" cy="93.1" r="0.95" fill="#5288b3" fill-opacity="0.88" stroke="#fff" stroke-width="0.25"/>
<circle cx="431.4" cy="85.3" r="0.95" fill="#5288b3" fill-opacity="0.88" stroke="#fff" stroke-width="0.25"/>
<circle cx="429.0" cy="79.2" r="0.95" fill="#5288b3" fill-opacity="0.88" stroke="#fff" stroke-width="0.25"/>
<circle cx="417.0" cy="74.6" r="0.95" fill="#5288b3" fill-opacity="0.88" stroke="#fff" stroke-width="0.25"/>
<circle cx="442.0" cy="82.5" r="0.95" fill="#5288b3" fill-opacity="0.88" stroke="#fff" stroke-width="0.25"/>
<circle cx="447.4" cy="103.7" r="0.95" fill="#5288b3" fill-opacity="0.88" stroke="#fff" stroke-width="0.25"/>
<circle cx="430.4" cy="78.9" r="0.95" fill="#5288b3" fill-opacity="0.88" stroke="#fff" stroke-width="0.25"/>
<circle cx="458.9" cy="74.9" r="0.95" fill="#5288b3" fill-opacity="0.88" stroke="#fff" stroke-width="0.25"/>
<circle cx="451.3" cy="63.4" r="0.95" fill="#5288b3" fill-opacity="0.88" stroke="#fff" stroke-width="0.25"/>
<circle cx="448.7" cy="70.2" r="0.95" fill="#5288b3" fill-opacity="0.88" stroke="#fff" stroke-width="0.25"/>
<circle cx="445.7" cy="86.6" r="0.95" fill="#5288b3" fill-opacity="0.88" stroke="#fff" stroke-width="0.25"/>
<circle cx="453.1" cy="87.6" r="0.95" fill="#5288b3" fill-opacity="0.88" stroke="#fff" stroke-width="0.25"/>
<circle cx="422.4" cy="51.0" r="0.95" fill="#5288b3" fill-opacity="0.88" stroke="#fff" stroke-width="0.25"/>
<circle cx="448.5" cy="67.8" r="0.95" fill="#5288b3" fill-opacity="0.88" stroke="#fff" stroke-width="0.25"/>
<circle cx="448.4" cy="53.4" r="0.95" fill="#5288b3" fill-opacity="0.88" stroke="#fff" stroke-width="0.25"/>
<circle cx="416.5" cy="49.4" r="0.95" fill="#5288b3" fill-opacity="0.88" stroke="#fff" stroke-width="0.25"/>
<circle cx="444.9" cy="88.9" r="0.95" fill="#5288b3" fill-opacity="0.88" stroke="#fff" stroke-width="0.25"/>
<circle cx="436.9" cy="72.8" r="0.95" fill="#5288b3" fill-opacity="0.88" stroke="#fff" stroke-width="0.25"/>
<circle cx="450.8" cy="71.8" r="0.95" fill="#5288b3" fill-opacity="0.88" stroke="#fff" stroke-width="0.25"/>
<circle cx="434.4" cy="70.4" r="0.95" fill="#5288b3" fill-opacity="0.88" stroke="#fff" stroke-width="0.25"/>
<circle cx="440.0" cy="70.7" r="0.95" fill="#5288b3" fill-opacity="0.88" stroke="#fff" stroke-width="0.25"/>
<circle cx="444.9" cy="75.2" r="0.95" fill="#5288b3" fill-opacity="0.88" stroke="#fff" stroke-width="0.25"/>
<circle cx="428.5" cy="75.6" r="0.95" fill="#5288b3" fill-opacity="0.88" stroke="#fff" stroke-width="0.25"/>
<circle cx="448.3" cy="98.1" r="0.95" fill="#5288b3" fill-opacity="0.88" stroke="#fff" stroke-width="0.25"/>
<circle cx="438.9" cy="80.2" r="0.95" fill="#5288b3" fill-opacity="0.88" stroke="#fff" stroke-width="0.25"/>
<circle cx="446.9" cy="88.0" r="0.95" fill="#5288b3" fill-opacity="0.88" stroke="#fff" stroke-width="0.25"/>
<circle cx="433.3" cy="76.3" r="0.95" fill="#5288b3" fill-opacity="0.88" stroke="#fff" stroke-width="0.25"/>
<circle cx="454.8" cy="84.2" r="0.95" fill="#5288b3" fill-opacity="0.88" stroke="#fff" stroke-width="0.25"/>
<circle cx="448.4" cy="69.7" r="0.95" fill="#5288b3" fill-opacity="0.88" stroke="#fff" stroke-width="0.25"/>
<circle cx="437.9" cy="67.0" r="0.95" fill="#5288b3" fill-opacity="0.88" stroke="#fff" stroke-width="0.25"/>
<circle cx="448.8" cy="73.8" r="0.95" fill="#5288b3" fill-opacity="0.88" stroke="#fff" stroke-width="0.25"/>
<circle cx="457.2" cy="73.7" r="0.95" fill="#5288b3" fill-opacity="0.88" stroke="#fff" stroke-width="0.25"/>
<circle cx="464.3" cy="76.7" r="0.95" fill="#5288b3" fill-opacity="0.88" stroke="#fff" stroke-width="0.25"/>
<circle cx="419.2" cy="83.9" r="0.95" fill="#5288b3" fill-opacity="0.88" stroke="#fff" stroke-width="0.25"/>
<circle cx="452.1" cy="80.1" r="0.95" fill="#5288b3" fill-opacity="0.88" stroke="#fff" stroke-width="0.25"/>
<circle cx="446.5" cy="84.6" r="0.95" fill="#5288b3" fill-opacity="0.88" stroke="#fff" stroke-width="0.25"/>
<circle cx="439.0" cy="72.7" r="0.95" fill="#5288b3" fill-opacity="0.88" stroke="#fff" stroke-width="0.25"/>
<circle cx="426.8" cy="77.8" r="0.95" fill="#5288b3" fill-opacity="0.88" stroke="#fff" stroke-width="0.25"/>
<circle cx="457.1" cy="70.2" r="0.95" fill="#5288b3" fill-opacity="0.88" stroke="#fff" stroke-width="0.25"/>
<circle cx="423.3" cy="95.8" r="0.95" fill="#5288b3" fill-opacity="0.88" stroke="#fff" stroke-width="0.25"/>
<circle cx="447.9" cy="66.0" r="0.95" fill="#5288b3" fill-opacity="0.88" stroke="#fff" stroke-width="0.25"/>
<circle cx="457.7" cy="88.2" r="0.95" fill="#5288b3" fill-opacity="0.88" stroke="#fff" stroke-width="0.25"/>
<circle cx="418.8" cy="87.8" r="0.95" fill="#5288b3" fill-opacity="0.88" stroke="#fff" stroke-width="0.25"/>
<circle cx="436.2" cy="80.6" r="0.95" fill="#5288b3" fill-opacity="0.88" stroke="#fff" stroke-width="0.25"/>
<circle cx="422.7" cy="85.5" r="0.95" fill="#5288b3" fill-opacity="0.88" stroke="#fff" stroke-width="0.25"/>
<circle cx="443.5" cy="74.0" r="0.95" fill="#5288b3" fill-opacity="0.88" stroke="#fff" stroke-width="0.25"/>
<circle cx="460.6" cy="85.6" r="0.95" fill="#5288b3" fill-opacity="0.88" stroke="#fff" stroke-width="0.25"/>
<circle cx="467.4" cy="92.3" r="0.95" fill="#5288b3" fill-opacity="0.88" stroke="#fff" stroke-width="0.25"/>
<circle cx="416.4" cy="89.3" r="0.95" fill="#5288b3" fill-opacity="0.88" stroke="#fff" stroke-width="0.25"/>
<circle cx="432.6" cy="60.4" r="0.95" fill="#5288b3" fill-opacity="0.88" stroke="#fff" stroke-width="0.25"/>
<circle cx="449.7" cy="77.3" r="0.95" fill="#5288b3" fill-opacity="0.88" stroke="#fff" stroke-width="0.25"/>
<circle cx="461.5" cy="93.6" r="0.95" fill="#5288b3" fill-opacity="0.88" stroke="#fff" stroke-width="0.25"/>
<circle cx="445.9" cy="77.8" r="0.95" fill="#5288b3" fill-opacity="0.88" stroke="#fff" stroke-width="0.25"/>
<circle cx="430.3" cy="98.8" r="0.95" fill="#5288b3" fill-opacity="0.88" stroke="#fff" stroke-width="0.25"/>
<circle cx="444.3" cy="54.0" r="0.95" fill="#5288b3" fill-opacity="0.88" stroke="#fff" stroke-width="0.25"/>
<circle cx="440.0" cy="98.4" r="0.95" fill="#5288b3" fill-opacity="0.88" stroke="#fff" stroke-width="0.25"/>
<circle cx="437.5" cy="71.5" r="0.95" fill="#5288b3" fill-opacity="0.88" stroke="#fff" stroke-width="0.25"/>
<circle cx="447.6" cy="75.9" r="0.95" fill="#a2538c" fill-opacity="0.88" stroke="#fff" stroke-width="0.25"/>
<circle cx="420.8" cy="93.3" r="0.95" fill="#a2538c" fill-opacity="0.88" stroke="#fff" stroke-width="0.25"/>
<circle cx="444.3" cy="72.6" r="0.95" fill="#a2538c" fill-opacity="0.88" stroke="#fff" stroke-width="0.25"/>
<circle cx="453.7" cy="29.4" r="0.95" fill="#a2538c" fill-opacity="0.88" stroke="#fff" stroke-width="0.25"/>
<circle cx="446.5" cy="95.1" r="0.95" fill="#a2538c" fill-opacity="0.88" stroke="#fff" stroke-width="0.25"/>
<circle cx="443.8" cy="73.4" r="0.95" fill="#a2538c" fill-opacity="0.88" stroke="#fff" stroke-width="0.25"/>
<circle cx="453.0" cy="82.1" r="0.95" fill="#a2538c" fill-opacity="0.88" stroke="#fff" stroke-width="0.25"/>
<circle cx="442.4" cy="75.4" r="0.95" fill="#a2538c" fill-opacity="0.88" stroke="#fff" stroke-width="0.25"/>
<circle cx="444.8" cy="102.2" r="0.95" fill="#a2538c" fill-opacity="0.88" stroke="#fff" stroke-width="0.25"/>
<circle cx="438.6" cy="93.4" r="0.95" fill="#a2538c" fill-opacity="0.88" stroke="#fff" stroke-width="0.25"/>
<circle cx="448.8" cy="71.8" r="0.95" fill="#a2538c" fill-opacity="0.88" stroke="#fff" stroke-width="0.25"/>
<circle cx="427.6" cy="78.5" r="0.95" fill="#a2538c" fill-opacity="0.88" stroke="#fff" stroke-width="0.25"/>
<circle cx="450.9" cy="56.0" r="0.95" fill="#a2538c" fill-opacity="0.88" stroke="#fff" stroke-width="0.25"/>
<circle cx="433.5" cy="87.4" r="0.95" fill="#a2538c" fill-opacity="0.88" stroke="#fff" stroke-width="0.25"/>
<circle cx="425.6" cy="75.6" r="0.95" fill="#a2538c" fill-opacity="0.88" stroke="#fff" stroke-width="0.25"/>
<circle cx="445.2" cy="38.9" r="0.95" fill="#a2538c" fill-opacity="0.88" stroke="#fff" stroke-width="0.25"/>
<circle cx="463.0" cy="88.2" r="0.95" fill="#a2538c" fill-opacity="0.88" stroke="#fff" stroke-width="0.25"/>
<circle cx="453.2" cy="90.1" r="0.95" fill="#a2538c" fill-opacity="0.88" stroke="#fff" stroke-width="0.25"/>
<circle cx="433.4" cy="78.4" r="0.95" fill="#a2538c" fill-opacity="0.88" stroke="#fff" stroke-width="0.25"/>
<circle cx="449.6" cy="78.5" r="0.95" fill="#a2538c" fill-opacity="0.88" stroke="#fff" stroke-width="0.25"/>
<circle cx="434.2" cy="66.6" r="0.95" fill="#a2538c" fill-opacity="0.88" stroke="#fff" stroke-width="0.25"/>
<circle cx="438.6" cy="76.2" r="0.95" fill="#a2538c" fill-opacity="0.88" stroke="#fff" stroke-width="0.25"/>
<circle cx="441.5" cy="88.1" r="0.95" fill="#a2538c" fill-opacity="0.88" stroke="#fff" stroke-width="0.25"/>
<circle cx="409.2" cy="75.1" r="0.95" fill="#a2538c" fill-opacity="0.88" stroke="#fff" stroke-width="0.25"/>
<circle cx="442.8" cy="42.6" r="0.95" fill="#a2538c" fill-opacity="0.88" stroke="#fff" stroke-width="0.25"/>
<circle cx="426.5" cy="60.9" r="0.95" fill="#a2538c" fill-opacity="0.88" stroke="#fff" stroke-width="0.25"/>
<circle cx="430.9" cy="115.2" r="0.95" fill="#a2538c" fill-opacity="0.88" stroke="#fff" stroke-width="0.25"/>
<circle cx="420.5" cy="79.8" r="0.95" fill="#a2538c" fill-opacity="0.88" stroke="#fff" stroke-width="0.25"/>
<circle cx="419.9" cy="89.7" r="0.95" fill="#a2538c" fill-opacity="0.88" stroke="#fff" stroke-width="0.25"/>
<circle cx="427.6" cy="69.6" r="0.95" fill="#a2538c" fill-opacity="0.88" stroke="#fff" stroke-width="0.25"/>
<circle cx="451.4" cy="80.3" r="0.95" fill="#a2538c" fill-opacity="0.88" stroke="#fff" stroke-width="0.25"/>
<circle cx="462.6" cy="52.0" r="0.95" fill="#a2538c" fill-opacity="0.88" stroke="#fff" stroke-width="0.25"/>
<circle cx="439.9" cy="65.5" r="0.95" fill="#a2538c" fill-opacity="0.88" stroke="#fff" stroke-width="0.25"/>
<circle cx="454.9" cy="66.0" r="0.95" fill="#a2538c" fill-opacity="0.88" stroke="#fff" stroke-width="0.25"/>
<circle cx="436.7" cy="75.4" r="0.95" fill="#a2538c" fill-opacity="0.88" stroke="#fff" stroke-width="0.25"/>
<circle cx="414.6" cy="78.5" r="0.95" fill="#a2538c" fill-opacity="0.88" stroke="#fff" stroke-width="0.25"/>
<circle cx="442.3" cy="73.4" r="0.95" fill="#a2538c" fill-opacity="0.88" stroke="#fff" stroke-width="0.25"/>
<circle cx="446.3" cy="60.6" r="0.95" fill="#a2538c" fill-opacity="0.88" stroke="#fff" stroke-width="0.25"/>
<circle cx="434.5" cy="70.8" r="0.95" fill="#a2538c" fill-opacity="0.88" stroke="#fff" stroke-width="0.25"/>
<circle cx="444.3" cy="82.6" r="0.95" fill="#a2538c" fill-opacity="0.88" stroke="#fff" stroke-width="0.25"/>
<circle cx="448.0" cy="60.9" r="0.95" fill="#a2538c" fill-opacity="0.88" stroke="#fff" stroke-width="0.25"/>
<circle cx="428.7" cy="75.4" r="0.95" fill="#a2538c" fill-opacity="0.88" stroke="#fff" stroke-width="0.25"/>
<circle cx="420.5" cy="79.0" r="0.95" fill="#a2538c" fill-opacity="0.88" stroke="#fff" stroke-width="0.25"/>
<circle cx="437.3" cy="88.5" r="0.95" fill="#a2538c" fill-opacity="0.88" stroke="#fff" stroke-width="0.25"/>
<circle cx="437.4" cy="85.5" r="0.95" fill="#a2538c" fill-opacity="0.88" stroke="#fff" stroke-width="0.25"/>
<circle cx="435.5" cy="86.5" r="0.95" fill="#a2538c" fill-opacity="0.88" stroke="#fff" stroke-width="0.25"/>
<circle cx="453.5" cy="115.4" r="0.95" fill="#a2538c" fill-opacity="0.88" stroke="#fff" stroke-width="0.25"/>
<circle cx="463.4" cy="64.3" r="0.95" fill="#a2538c" fill-opacity="0.88" stroke="#fff" stroke-width="0.25"/>
<circle cx="434.7" cy="70.3" r="0.95" fill="#a2538c" fill-opacity="0.88" stroke="#fff" stroke-width="0.25"/>
<circle cx="449.7" cy="80.8" r="0.95" fill="#a2538c" fill-opacity="0.88" stroke="#fff" stroke-width="0.25"/>
<circle cx="452.9" cy="63.9" r="0.95" fill="#a2538c" fill-opacity="0.88" stroke="#fff" stroke-width="0.25"/>
<circle cx="449.8" cy="72.1" r="0.95" fill="#a2538c" fill-opacity="0.88" stroke="#fff" stroke-width="0.25"/>
<circle cx="454.3" cy="73.0" r="0.95" fill="#a2538c" fill-opacity="0.88" stroke="#fff" stroke-width="0.25"/>
<circle cx="435.0" cy="111.1" r="0.95" fill="#a2538c" fill-opacity="0.88" stroke="#fff" stroke-width="0.25"/>
<circle cx="450.2" cy="81.1" r="0.95" fill="#a2538c" fill-opacity="0.88" stroke="#fff" stroke-width="0.25"/>
<circle cx="467.4" cy="70.8" r="0.95" fill="#a2538c" fill-opacity="0.88" stroke="#fff" stroke-width="0.25"/>
<circle cx="451.1" cy="56.4" r="0.95" fill="#a2538c" fill-opacity="0.88" stroke="#fff" stroke-width="0.25"/>
<circle cx="432.0" cy="53.3" r="0.95" fill="#a2538c" fill-opacity="0.88" stroke="#fff" stroke-width="0.25"/>
<circle cx="448.4" cy="58.8" r="0.95" fill="#a2538c" fill-opacity="0.88" stroke="#fff" stroke-width="0.25"/>
<circle cx="457.2" cy="93.5" r="0.95" fill="#a2538c" fill-opacity="0.88" stroke="#fff" stroke-width="0.25"/>
<circle cx="445.2" cy="107.4" r="0.95" fill="#a2538c" fill-opacity="0.88" stroke="#fff" stroke-width="0.25"/>
<circle cx="432.7" cy="70.3" r="0.95" fill="#a2538c" fill-opacity="0.88" stroke="#fff" stroke-width="0.25"/>
<circle cx="461.0" cy="77.6" r="0.95" fill="#a2538c" fill-opacity="0.88" stroke="#fff" stroke-width="0.25"/>
<circle cx="423.5" cy="65.0" r="0.95" fill="#a2538c" fill-opacity="0.88" stroke="#fff" stroke-width="0.25"/>
<circle cx="447.0" cy="79.6" r="0.95" fill="#a2538c" fill-opacity="0.88" stroke="#fff" stroke-width="0.25"/>
<circle cx="440.1" cy="75.0" r="0.95" fill="#a2538c" fill-opacity="0.88" stroke="#fff" stroke-width="0.25"/>
<circle cx="424.3" cy="98.0" r="0.95" fill="#a2538c" fill-opacity="0.88" stroke="#fff" stroke-width="0.25"/>
<circle cx="456.6" cy="71.9" r="0.95" fill="#a2538c" fill-opacity="0.88" stroke="#fff" stroke-width="0.25"/>
<circle cx="444.9" cy="83.9" r="0.95" fill="#a2538c" fill-opacity="0.88" stroke="#fff" stroke-width="0.25"/>
<circle cx="424.6" cy="73.3" r="0.95" fill="#a2538c" fill-opacity="0.88" stroke="#fff" stroke-width="0.25"/>
<circle cx="448.3" cy="71.8" r="0.95" fill="#a2538c" fill-opacity="0.88" stroke="#fff" stroke-width="0.25"/>
<circle cx="434.5" cy="79.5" r="0.95" fill="#a2538c" fill-opacity="0.88" stroke="#fff" stroke-width="0.25"/>
<circle cx="414.7" cy="73.7" r="0.95" fill="#a2538c" fill-opacity="0.88" stroke="#fff" stroke-width="0.25"/>
<circle cx="431.0" cy="78.1" r="0.95" fill="#a2538c" fill-opacity="0.88" stroke="#fff" stroke-width="0.25"/>
<circle cx="443.8" cy="67.8" r="0.95" fill="#a2538c" fill-opacity="0.88" stroke="#fff" stroke-width="0.25"/>
<circle cx="448.8" cy="71.2" r="0.95" fill="#a2538c" fill-opacity="0.88" stroke="#fff" stroke-width="0.25"/>
<circle cx="442.5" cy="85.3" r="0.95" fill="#a2538c" fill-opacity="0.88" stroke="#fff" stroke-width="0.25"/>
<circle cx="440.9" cy="85.8" r="0.95" fill="#a2538c" fill-opacity="0.88" stroke="#fff" stroke-width="0.25"/>
<circle cx="446.6" cy="54.6" r="0.95" fill="#a2538c" fill-opacity="0.88" stroke="#fff" stroke-width="0.25"/>
<circle cx="437.4" cy="79.3" r="0.95" fill="#a2538c" fill-opacity="0.88" stroke="#fff" stroke-width="0.25"/>
<circle cx="456.1" cy="64.6" r="0.95" fill="#a2538c" fill-opacity="0.88" stroke="#fff" stroke-width="0.25"/>
<circle cx="442.3" cy="72.7" r="0.95" fill="#a2538c" fill-opacity="0.88" stroke="#fff" stroke-width="0.25"/>
<circle cx="444.2" cy="85.5" r="0.95" fill="#a2538c" fill-opacity="0.88" stroke="#fff" stroke-width="0.25"/>
<circle cx="447.5" cy="88.0" r="0.95" fill="#a2538c" fill-opacity="0.88" stroke="#fff" stroke-width="0.25"/>
<circle cx="426.1" cy="76.3" r="0.95" fill="#a2538c" fill-opacity="0.88" stroke="#fff" stroke-width="0.25"/>
<circle cx="430.8" cy="74.5" r="0.95" fill="#a2538c" fill-opacity="0.88" stroke="#fff" stroke-width="0.25"/>
<circle cx="460.8" cy="69.7" r="0.95" fill="#a2538c" fill-opacity="0.88" stroke="#fff" stroke-width="0.25"/>
<circle cx="444.8" cy="94.9" r="0.95" fill="#a2538c" fill-opacity="0.88" stroke="#fff" stroke-width="0.25"/>
<circle cx="436.5" cy="85.9" r="0.95" fill="#a2538c" fill-opacity="0.88" stroke="#fff" stroke-width="0.25"/>
<circle cx="444.9" cy="79.2" r="0.95" fill="#a2538c" fill-opacity="0.88" stroke="#fff" stroke-width="0.25"/>
<circle cx="433.8" cy="56.5" r="0.95" fill="#a2538c" fill-opacity="0.88" stroke="#fff" stroke-width="0.25"/>
<circle cx="444.0" cy="109.6" r="0.95" fill="#a2538c" fill-opacity="0.88" stroke="#fff" stroke-width="0.25"/>
<circle cx="431.3" cy="72.1" r="0.95" fill="#a2538c" fill-opacity="0.88" stroke="#fff" stroke-width="0.25"/>
<circle cx="444.0" cy="85.2" r="0.95" fill="#a2538c" fill-opacity="0.88" stroke="#fff" stroke-width="0.25"/>
<circle cx="419.1" cy="72.2" r="0.95" fill="#a2538c" fill-opacity="0.88" stroke="#fff" stroke-width="0.25"/>
<circle cx="458.1" cy="84.5" r="0.95" fill="#a2538c" fill-opacity="0.88" stroke="#fff" stroke-width="0.25"/>
<circle cx="433.4" cy="73.1" r="0.95" fill="#a2538c" fill-opacity="0.88" stroke="#fff" stroke-width="0.25"/>
<circle cx="419.1" cy="57.0" r="0.95" fill="#a2538c" fill-opacity="0.88" stroke="#fff" stroke-width="0.25"/>
<circle cx="437.3" cy="73.2" r="0.95" fill="#a2538c" fill-opacity="0.88" stroke="#fff" stroke-width="0.25"/>
<circle cx="435.3" cy="72.1" r="0.95" fill="#a2538c" fill-opacity="0.88" stroke="#fff" stroke-width="0.25"/>
<circle cx="445.3" cy="74.7" r="0.95" fill="#ee9a52" fill-opacity="0.88" stroke="#fff" stroke-width="0.25"/>
<circle cx="430.2" cy="91.7" r="0.95" fill="#ee9a52" fill-opacity="0.88" stroke="#fff" stroke-width="0.25"/>
<circle cx="447.6" cy="91.5" r="0.95" fill="#ee9a52" fill-opacity="0.88" stroke="#fff" stroke-width="0.25"/>
<circle cx="437.5" cy="89.0" r="0.95" fill="#ee9a52" fill-opacity="0.88" stroke="#fff" stroke-width="0.25"/>
<circle cx="429.4" cy="73.2" r="0.95" fill="#ee9a52" fill-opacity="0.88" stroke="#fff" stroke-width="0.25"/>
<circle cx="439.8" cy="74.0" r="0.95" fill="#ee9a52" fill-opacity="0.88" stroke="#fff" stroke-width="0.25"/>
<circle cx="437.2" cy="87.9" r="0.95" fill="#ee9a52" fill-opacity="0.88" stroke="#fff" stroke-width="0.25"/>
<circle cx="450.4" cy="68.1" r="0.95" fill="#ee9a52" fill-opacity="0.88" stroke="#fff" stroke-width="0.25"/>
<circle cx="439.7" cy="67.4" r="0.95" fill="#ee9a52" fill-opacity="0.88" stroke="#fff" stroke-width="0.25"/>
<circle cx="433.2" cy="75.6" r="0.95" fill="#ee9a52" fill-opacity="0.88" stroke="#fff" stroke-width="0.25"/>
<circle cx="459.8" cy="64.0" r="0.95" fill="#ee9a52" fill-opacity="0.88" stroke="#fff" stroke-width="0.25"/>
<circle cx="453.5" cy="81.8" r="0.95" fill="#ee9a52" fill-opacity="0.88" stroke="#fff" stroke-width="0.25"/>
<circle cx="457.3" cy="79.5" r="0.95" fill="#ee9a52" fill-opacity="0.88" stroke="#fff" stroke-width="0.25"/>
<circle cx="448.4" cy="71.6" r="0.95" fill="#ee9a52" fill-opacity="0.88" stroke="#fff" stroke-width="0.25"/>
<circle cx="438.8" cy="78.4" r="0.95" fill="#ee9a52" fill-opacity="0.88" stroke="#fff" stroke-width="0.25"/>
<circle cx="434.6" cy="67.3" r="0.95" fill="#ee9a52" fill-opacity="0.88" stroke="#fff" stroke-width="0.25"/>
<circle cx="436.5" cy="94.7" r="0.95" fill="#ee9a52" fill-opacity="0.88" stroke="#fff" stroke-width="0.25"/>
<circle cx="453.0" cy="58.8" r="0.95" fill="#ee9a52" fill-opacity="0.88" stroke="#fff" stroke-width="0.25"/>
<circle cx="441.8" cy="88.4" r="0.95" fill="#ee9a52" fill-opacity="0.88" stroke="#fff" stroke-width="0.25"/>
<circle cx="420.4" cy="80.1" r="0.95" fill="#ee9a52" fill-opacity="0.88" stroke="#fff" stroke-width="0.25"/>
<circle cx="439.7" cy="96.4" r="0.95" fill="#ee9a52" fill-opacity="0.88" stroke="#fff" stroke-width="0.25"/>
<circle cx="421.3" cy="69.9" r="0.95" fill="#ee9a52" fill-opacity="0.88" stroke="#fff" stroke-width="0.25"/>
<circle cx="442.5" cy="60.9" r="0.95" fill="#ee9a52" fill-opacity="0.88" stroke="#fff" stroke-width="0.25"/>
<circle cx="424.1" cy="63.6" r="0.95" fill="#ee9a52" fill-opacity="0.88" stroke="#fff" stroke-width="0.25"/>
<circle cx="423.3" cy="66.8" r="0.95" fill="#ee9a52" fill-opacity="0.88" stroke="#fff" stroke-width="0.25"/>
<circle cx="441.9" cy="98.8" r="0.95" fill="#ee9a52" fill-opacity="0.88" stroke="#fff" stroke-width="0.25"/>
<circle cx="439.2" cy="88.4" r="0.95" fill="#ee9a52" fill-opacity="0.88" stroke="#fff" stroke-width="0.25"/>
<circle cx="418.0" cy="84.1" r="0.95" fill="#ee9a52" fill-opacity="0.88" stroke="#fff" stroke-width="0.25"/>
<circle cx="450.3" cy="90.5" r="0.95" fill="#ee9a52" fill-opacity="0.88" stroke="#fff" stroke-width="0.25"/>
<circle cx="469.3" cy="62.9" r="0.95" fill="#ee9a52" fill-opacity="0.88" stroke="#fff" stroke-width="0.25"/>
<circle cx="420.4" cy="75.5" r="0.95" fill="#ee9a52" fill-opacity="0.88" stroke="#fff" stroke-width="0.25"/>
<circle cx="464.7" cy="78.3" r="0.95" fill="#ee9a52" fill-opacity="0.88" stroke="#fff" stroke-width="0.25"/>
<circle cx="431.0" cy="71.4" r="0.95" fill="#ee9a52" fill-opacity="0.88" stroke="#fff" stroke-width="0.25"/>
<circle cx="433.6" cy="90.7" r="0.95" fill="#ee9a52" fill-opacity="0.88" stroke="#fff" stroke-width="0.25"/>
<circle cx="437.9" cy="90.1" r="0.95" fill="#ee9a52" fill-opacity="0.88" stroke="#fff" stroke-width="0.25"/>
<circle cx="420.9" cy="89.8" r="0.95" fill="#ee9a52" fill-opacity="0.88" stroke="#fff" stroke-width="0.25"/>
<circle cx="457.7" cy="71.3" r="0.95" fill="#ee9a52" fill-opacity="0.88" stroke="#fff" stroke-width="0.25"/>
<circle cx="446.9" cy="73.4" r="0.95" fill="#ee9a52" fill-opacity="0.88" stroke="#fff" stroke-width="0.25"/>
<circle cx="430.2" cy="70.2" r="0.95" fill="#ee9a52" fill-opacity="0.88" stroke="#fff" stroke-width="0.25"/>
<circle cx="436.6" cy="63.5" r="0.95" fill="#ee9a52" fill-opacity="0.88" stroke="#fff" stroke-width="0.25"/>
<circle cx="419.9" cy="96.1" r="0.95" fill="#ee9a52" fill-opacity="0.88" stroke="#fff" stroke-width="0.25"/>
<circle cx="435.6" cy="85.5" r="0.95" fill="#ee9a52" fill-opacity="0.88" stroke="#fff" stroke-width="0.25"/>
<circle cx="452.8" cy="76.0" r="0.95" fill="#ee9a52" fill-opacity="0.88" stroke="#fff" stroke-width="0.25"/>
<circle cx="417.3" cy="96.0" r="0.95" fill="#ee9a52" fill-opacity="0.88" stroke="#fff" stroke-width="0.25"/>
<circle cx="434.4" cy="85.1" r="0.95" fill="#ee9a52" fill-opacity="0.88" stroke="#fff" stroke-width="0.25"/>
<circle cx="442.2" cy="64.4" r="0.95" fill="#ee9a52" fill-opacity="0.88" stroke="#fff" stroke-width="0.25"/>
<circle cx="454.3" cy="63.2" r="0.95" fill="#ee9a52" fill-opacity="0.88" stroke="#fff" stroke-width="0.25"/>
<circle cx="458.4" cy="63.5" r="0.95" fill="#ee9a52" fill-opacity="0.88" stroke="#fff" stroke-width="0.25"/>
<circle cx="434.1" cy="77.4" r="0.95" fill="#ee9a52" fill-opacity="0.88" stroke="#fff" stroke-width="0.25"/>
<circle cx="430.3" cy="80.8" r="0.95" fill="#ee9a52" fill-opacity="0.88" stroke="#fff" stroke-width="0.25"/>
<circle cx="446.3" cy="63.5" r="0.95" fill="#ee9a52" fill-opacity="0.88" stroke="#fff" stroke-width="0.25"/>
<circle cx="435.4" cy="82.9" r="0.95" fill="#ee9a52" fill-opacity="0.88" stroke="#fff" stroke-width="0.25"/>
<circle cx="436.1" cy="73.4" r="0.95" fill="#ee9a52" fill-opacity="0.88" stroke="#fff" stroke-width="0.25"/>
<circle cx="454.8" cy="60.2" r="0.95" fill="#ee9a52" fill-opacity="0.88" stroke="#fff" stroke-width="0.25"/>
<circle cx="462.9" cy="82.9" r="0.95" fill="#ee9a52" fill-opacity="0.88" stroke="#fff" stroke-width="0.25"/>
<circle cx="443.8" cy="86.1" r="0.95" fill="#ee9a52" fill-opacity="0.88" stroke="#fff" stroke-width="0.25"/>
<circle cx="437.7" cy="78.1" r="0.95" fill="#ee9a52" fill-opacity="0.88" stroke="#fff" stroke-width="0.25"/>
<circle cx="447.9" cy="69.9" r="0.95" fill="#ee9a52" fill-opacity="0.88" stroke="#fff" stroke-width="0.25"/>
<circle cx="414.9" cy="71.5" r="0.95" fill="#ee9a52" fill-opacity="0.88" stroke="#fff" stroke-width="0.25"/>
<circle cx="440.0" cy="75.9" r="0.95" fill="#ee9a52" fill-opacity="0.88" stroke="#fff" stroke-width="0.25"/>
<circle cx="426.0" cy="70.5" r="0.95" fill="#ee9a52" fill-opacity="0.88" stroke="#fff" stroke-width="0.25"/>
<circle cx="472.3" cy="99.4" r="0.95" fill="#ee9a52" fill-opacity="0.88" stroke="#fff" stroke-width="0.25"/>
<circle cx="449.9" cy="89.5" r="0.95" fill="#ee9a52" fill-opacity="0.88" stroke="#fff" stroke-width="0.25"/>
<circle cx="442.2" cy="75.8" r="0.95" fill="#ee9a52" fill-opacity="0.88" stroke="#fff" stroke-width="0.25"/>
<circle cx="437.7" cy="90.4" r="0.95" fill="#ee9a52" fill-opacity="0.88" stroke="#fff" stroke-width="0.25"/>
<circle cx="406.5" cy="95.9" r="0.95" fill="#ee9a52" fill-opacity="0.88" stroke="#fff" stroke-width="0.25"/>
<circle cx="449.8" cy="94.1" r="0.95" fill="#ee9a52" fill-opacity="0.88" stroke="#fff" stroke-width="0.25"/>
<circle cx="462.1" cy="90.2" r="0.95" fill="#ee9a52" fill-opacity="0.88" stroke="#fff" stroke-width="0.25"/>
<circle cx="430.5" cy="80.3" r="0.95" fill="#ee9a52" fill-opacity="0.88" stroke="#fff" stroke-width="0.25"/>
<circle cx="449.4" cy="91.6" r="0.95" fill="#ee9a52" fill-opacity="0.88" stroke="#fff" stroke-width="0.25"/>
<circle cx="450.0" cy="74.8" r="0.95" fill="#ee9a52" fill-opacity="0.88" stroke="#fff" stroke-width="0.25"/>
<circle cx="419.5" cy="55.2" r="0.95" fill="#ee9a52" fill-opacity="0.88" stroke="#fff" stroke-width="0.25"/>
<circle cx="452.8" cy="79.9" r="0.95" fill="#ee9a52" fill-opacity="0.88" stroke="#fff" stroke-width="0.25"/>
<circle cx="458.5" cy="60.9" r="0.95" fill="#ee9a52" fill-opacity="0.88" stroke="#fff" stroke-width="0.25"/>
<circle cx="443.3" cy="74.1" r="0.95" fill="#ee9a52" fill-opacity="0.88" stroke="#fff" stroke-width="0.25"/>
<circle cx="439.4" cy="93.0" r="0.95" fill="#ee9a52" fill-opacity="0.88" stroke="#fff" stroke-width="0.25"/>
<circle cx="450.8" cy="81.4" r="0.95" fill="#ee9a52" fill-opacity="0.88" stroke="#fff" stroke-width="0.25"/>
<circle cx="419.6" cy="91.1" r="0.95" fill="#ee9a52" fill-opacity="0.88" stroke="#fff" stroke-width="0.25"/>
<circle cx="441.5" cy="67.6" r="0.95" fill="#ee9a52" fill-opacity="0.88" stroke="#fff" stroke-width="0.25"/>
<circle cx="454.4" cy="93.4" r="0.95" fill="#ee9a52" fill-opacity="0.88" stroke="#fff" stroke-width="0.25"/>
<circle cx="423.6" cy="60.2" r="0.95" fill="#ee9a52" fill-opacity="0.88" stroke="#fff" stroke-width="0.25"/>
<circle cx="453.6" cy="70.2" r="0.95" fill="#ee9a52" fill-opacity="0.88" stroke="#fff" stroke-width="0.25"/>
<circle cx="434.7" cy="105.0" r="0.95" fill="#ee9a52" fill-opacity="0.88" stroke="#fff" stroke-width="0.25"/>
<circle cx="412.3" cy="67.4" r="0.95" fill="#ee9a52" fill-opacity="0.88" stroke="#fff" stroke-width="0.25"/>
<circle cx="438.9" cy="57.1" r="0.95" fill="#ee9a52" fill-opacity="0.88" stroke="#fff" stroke-width="0.25"/>
<circle cx="427.2" cy="88.5" r="0.95" fill="#ee9a52" fill-opacity="0.88" stroke="#fff" stroke-width="0.25"/>
<circle cx="444.6" cy="64.7" r="0.95" fill="#ee9a52" fill-opacity="0.88" stroke="#fff" stroke-width="0.25"/>
<circle cx="424.5" cy="102.0" r="0.95" fill="#ee9a52" fill-opacity="0.88" stroke="#fff" stroke-width="0.25"/>
<circle cx="454.4" cy="74.6" r="0.95" fill="#ee9a52" fill-opacity="0.88" stroke="#fff" stroke-width="0.25"/>
<circle cx="430.4" cy="100.2" r="0.95" fill="#ee9a52" fill-opacity="0.88" stroke="#fff" stroke-width="0.25"/>
<circle cx="445.1" cy="71.5" r="0.95" fill="#ee9a52" fill-opacity="0.88" stroke="#fff" stroke-width="0.25"/>
<circle cx="432.3" cy="101.9" r="0.95" fill="#ee9a52" fill-opacity="0.88" stroke="#fff" stroke-width="0.25"/>
<circle cx="435.9" cy="113.2" r="0.95" fill="#ee9a52" fill-opacity="0.88" stroke="#fff" stroke-width="0.25"/>
<circle cx="456.3" cy="72.6" r="0.95" fill="#ee9a52" fill-opacity="0.88" stroke="#fff" stroke-width="0.25"/>
<circle cx="443.2" cy="47.3" r="0.95" fill="#ee9a52" fill-opacity="0.88" stroke="#fff" stroke-width="0.25"/>
<circle cx="435.0" cy="85.9" r="0.95" fill="#ee9a52" fill-opacity="0.88" stroke="#fff" stroke-width="0.25"/>
<circle cx="423.5" cy="66.8" r="0.95" fill="#ee9a52" fill-opacity="0.88" stroke="#fff" stroke-width="0.25"/>
<circle cx="455.8" cy="76.5" r="0.95" fill="#ee9a52" fill-opacity="0.88" stroke="#fff" stroke-width="0.25"/>
<circle cx="450.1" cy="82.3" r="0.95" fill="#ee9a52" fill-opacity="0.88" stroke="#fff" stroke-width="0.25"/>
<circle cx="435.9" cy="69.7" r="0.95" fill="#ee9a52" fill-opacity="0.88" stroke="#fff" stroke-width="0.25"/>
<circle cx="462.3" cy="72.3" r="0.95" fill="#62bd9f" fill-opacity="0.88" stroke="#fff" stroke-width="0.25"/>
<circle cx="423.7" cy="80.4" r="0.95" fill="#62bd9f" fill-opacity="0.88" stroke="#fff" stroke-width="0.25"/>
<circle cx="447.8" cy="50.5" r="0.95" fill="#62bd9f" fill-opacity="0.88" stroke="#fff" stroke-width="0.25"/>
<circle cx="444.9" cy="77.8" r="0.95" fill="#62bd9f" fill-opacity="0.88" stroke="#fff" stroke-width="0.25"/>
<circle cx="421.2" cy="92.6" r="0.95" fill="#62bd9f" fill-opacity="0.88" stroke="#fff" stroke-width="0.25"/>
<circle cx="461.9" cy="68.9" r="0.95" fill="#62bd9f" fill-opacity="0.88" stroke="#fff" stroke-width="0.25"/>
<circle cx="466.4" cy="90.0" r="0.95" fill="#62bd9f" fill-opacity="0.88" stroke="#fff" stroke-width="0.25"/>
<circle cx="427.5" cy="84.6" r="0.95" fill="#62bd9f" fill-opacity="0.88" stroke="#fff" stroke-width="0.25"/>
<circle cx="463.6" cy="73.6" r="0.95" fill="#62bd9f" fill-opacity="0.88" stroke="#fff" stroke-width="0.25"/>
<circle cx="441.0" cy="79.6" r="0.95" fill="#62bd9f" fill-opacity="0.88" stroke="#fff" stroke-width="0.25"/>
<circle cx="438.1" cy="88.2" r="0.95" fill="#62bd9f" fill-opacity="0.88" stroke="#fff" stroke-width="0.25"/>
<circle cx="460.4" cy="85.3" r="0.95" fill="#62bd9f" fill-opacity="0.88" stroke="#fff" stroke-width="0.25"/>
<circle cx="443.3" cy="85.9" r="0.95" fill="#62bd9f" fill-opacity="0.88" stroke="#fff" stroke-width="0.25"/>
<circle cx="444.6" cy="62.3" r="0.95" fill="#62bd9f" fill-opacity="0.88" stroke="#fff" stroke-width="0.25"/>
<circle cx="460.6" cy="87.6" r="0.95" fill="#62bd9f" fill-opacity="0.88" stroke="#fff" stroke-width="0.25"/>
<circle cx="457.6" cy="85.6" r="0.95" fill="#62bd9f" fill-opacity="0.88" stroke="#fff" stroke-width="0.25"/>
<circle cx="452.3" cy="50.6" r="0.95" fill="#62bd9f" fill-opacity="0.88" stroke="#fff" stroke-width="0.25"/>
<circle cx="421.5" cy="85.4" r="0.95" fill="#62bd9f" fill-opacity="0.88" stroke="#fff" stroke-width="0.25"/>
<circle cx="419.2" cy="58.0" r="0.95" fill="#62bd9f" fill-opacity="0.88" stroke="#fff" stroke-width="0.25"/>
<circle cx="455.4" cy="60.3" r="0.95" fill="#62bd9f" fill-opacity="0.88" stroke="#fff" stroke-width="0.25"/>
<circle cx="427.8" cy="80.0" r="0.95" fill="#62bd9f" fill-opacity="0.88" stroke="#fff" stroke-width="0.25"/>
<circle cx="442.3" cy="97.0" r="0.95" fill="#62bd9f" fill-opacity="0.88" stroke="#fff" stroke-width="0.25"/>
<circle cx="425.9" cy="71.9" r="0.95" fill="#62bd9f" fill-opacity="0.88" stroke="#fff" stroke-width="0.25"/>
<circle cx="437.8" cy="68.9" r="0.95" fill="#62bd9f" fill-opacity="0.88" stroke="#fff" stroke-width="0.25"/>
<circle cx="423.1" cy="65.0" r="0.95" fill="#62bd9f" fill-opacity="0.88" stroke="#fff" stroke-width="0.25"/>
<circle cx="462.1" cy="77.0" r="0.95" fill="#62bd9f" fill-opacity="0.88" stroke="#fff" stroke-width="0.25"/>
<circle cx="426.6" cy="61.8" r="0.95" fill="#62bd9f" fill-opacity="0.88" stroke="#fff" stroke-width="0.25"/>
<circle cx="438.6" cy="59.3" r="0.95" fill="#62bd9f" fill-opacity="0.88" stroke="#fff" stroke-width="0.25"/>
<circle cx="437.7" cy="92.1" r="0.95" fill="#62bd9f" fill-opacity="0.88" stroke="#fff" stroke-width="0.25"/>
<circle cx="456.5" cy="58.8" r="0.95" fill="#62bd9f" fill-opacity="0.88" stroke="#fff" stroke-width="0.25"/>
<circle cx="421.2" cy="75.6" r="0.95" fill="#62bd9f" fill-opacity="0.88" stroke="#fff" stroke-width="0.25"/>
<circle cx="439.8" cy="85.5" r="0.95" fill="#62bd9f" fill-opacity="0.88" stroke="#fff" stroke-width="0.25"/>
<circle cx="437.5" cy="82.2" r="0.95" fill="#62bd9f" fill-opacity="0.88" stroke="#fff" stroke-width="0.25"/>
<circle cx="447.4" cy="52.8" r="0.95" fill="#62bd9f" fill-opacity="0.88" stroke="#fff" stroke-width="0.25"/>
<circle cx="446.6" cy="64.8" r="0.95" fill="#62bd9f" fill-opacity="0.88" stroke="#fff" stroke-width="0.25"/>
<circle cx="434.0" cy="101.9" r="0.95" fill="#62bd9f" fill-opacity="0.88" stroke="#fff" stroke-width="0.25"/>
<circle cx="443.5" cy="76.8" r="0.95" fill="#62bd9f" fill-opacity="0.88" stroke="#fff" stroke-width="0.25"/>
<circle cx="435.2" cy="79.8" r="0.95" fill="#62bd9f" fill-opacity="0.88" stroke="#fff" stroke-width="0.25"/>
<circle cx="446.6" cy="80.3" r="0.95" fill="#62bd9f" fill-opacity="0.88" stroke="#fff" stroke-width="0.25"/>
<circle cx="438.9" cy="84.8" r="0.95" fill="#62bd9f" fill-opacity="0.88" stroke="#fff" stroke-width="0.25"/>
<circle cx="431.5" cy="97.5" r="0.95" fill="#62bd9f" fill-opacity="0.88" stroke="#fff" stroke-width="0.25"/>
<circle cx="439.9" cy="66.4" r="0.95" fill="#62bd9f" fill-opacity="0.88" stroke="#fff" stroke-width="0.25"/>
<circle cx="445.2" cy="90.5" r="0.95" fill="#62bd9f" fill-opacity="0.88" stroke="#fff" stroke-width="0.25"/>
<circle cx="470.7" cy="82.9" r="0.95" fill="#62bd9f" fill-opacity="0.88" stroke="#fff" stroke-width="0.25"/>
<circle cx="433.7" cy="86.0" r="0.95" fill="#62bd9f" fill-opacity="0.88" stroke="#fff" stroke-width="0.25"/>
<circle cx="444.4" cy="87.7" r="0.95" fill="#62bd9f" fill-opacity="0.88" stroke="#fff" stroke-width="0.25"/>
<circle cx="459.9" cy="68.0" r="0.95" fill="#62bd9f" fill-opacity="0.88" stroke="#fff" stroke-width="0.25"/>
<circle cx="412.4" cy="72.8" r="0.95" fill="#62bd9f" fill-opacity="0.88" stroke="#fff" stroke-width="0.25"/>
<circle cx="416.9" cy="87.0" r="0.95" fill="#62bd9f" fill-opacity="0.88" stroke="#fff" stroke-width="0.25"/>
<circle cx="424.3" cy="90.6" r="0.95" fill="#62bd9f" fill-opacity="0.88" stroke="#fff" stroke-width="0.25"/>
<circle cx="438.7" cy="84.2" r="0.95" fill="#62bd9f" fill-opacity="0.88" stroke="#fff" stroke-width="0.25"/>
<circle cx="473.0" cy="65.0" r="0.95" fill="#62bd9f" fill-opacity="0.88" stroke="#fff" stroke-width="0.25"/>
<circle cx="445.5" cy="76.3" r="0.95" fill="#62bd9f" fill-opacity="0.88" stroke="#fff" stroke-width="0.25"/>
<circle cx="456.5" cy="74.8" r="0.95" fill="#62bd9f" fill-opacity="0.88" stroke="#fff" stroke-width="0.25"/>
<circle cx="437.3" cy="82.3" r="0.95" fill="#62bd9f" fill-opacity="0.88" stroke="#fff" stroke-width="0.25"/>
<circle cx="407.2" cy="81.4" r="0.95" fill="#62bd9f" fill-opacity="0.88" stroke="#fff" stroke-width="0.25"/>
<circle cx="409.2" cy="75.0" r="0.95" fill="#62bd9f" fill-opacity="0.88" stroke="#fff" stroke-width="0.25"/>
<circle cx="453.9" cy="102.7" r="0.95" fill="#62bd9f" fill-opacity="0.88" stroke="#fff" stroke-width="0.25"/>
<circle cx="442.8" cy="56.3" r="0.95" fill="#62bd9f" fill-opacity="0.88" stroke="#fff" stroke-width="0.25"/>
<circle cx="422.8" cy="88.5" r="0.95" fill="#62bd9f" fill-opacity="0.88" stroke="#fff" stroke-width="0.25"/>
<circle cx="455.3" cy="85.6" r="0.95" fill="#62bd9f" fill-opacity="0.88" stroke="#fff" stroke-width="0.25"/>
<circle cx="419.6" cy="60.0" r="0.95" fill="#62bd9f" fill-opacity="0.88" stroke="#fff" stroke-width="0.25"/>
<circle cx="455.5" cy="75.0" r="0.95" fill="#62bd9f" fill-opacity="0.88" stroke="#fff" stroke-width="0.25"/>
<circle cx="459.7" cy="77.4" r="0.95" fill="#62bd9f" fill-opacity="0.88" stroke="#fff" stroke-width="0.25"/>
<circle cx="430.0" cy="85.8" r="0.95" fill="#62bd9f" fill-opacity="0.88" stroke="#fff" stroke-width="0.25"/>
<circle cx="425.4" cy="98.9" r="0.95" fill="#62bd9f" fill-opacity="0.88" stroke="#fff" stroke-width="0.25"/>
<circle cx="451.6" cy="75.5" r="0.95" fill="#62bd9f" fill-opacity="0.88" stroke="#fff" stroke-width="0.25"/>
<circle cx="425.6" cy="61.9" r="0.95" fill="#62bd9f" fill-opacity="0.88" stroke="#fff" stroke-width="0.25"/>
<circle cx="451.8" cy="90.0" r="0.95" fill="#62bd9f" fill-opacity="0.88" stroke="#fff" stroke-width="0.25"/>
<circle cx="424.2" cy="59.7" r="0.95" fill="#62bd9f" fill-opacity="0.88" stroke="#fff" stroke-width="0.25"/>
<circle cx="451.1" cy="93.0" r="0.95" fill="#62bd9f" fill-opacity="0.88" stroke="#fff" stroke-width="0.25"/>
<circle cx="441.5" cy="87.8" r="0.95" fill="#62bd9f" fill-opacity="0.88" stroke="#fff" stroke-width="0.25"/>
<circle cx="434.5" cy="71.2" r="0.95" fill="#62bd9f" fill-opacity="0.88" stroke="#fff" stroke-width="0.25"/>
<circle cx="428.3" cy="77.9" r="0.95" fill="#62bd9f" fill-opacity="0.88" stroke="#fff" stroke-width="0.25"/>
<circle cx="443.5" cy="68.7" r="0.95" fill="#62bd9f" fill-opacity="0.88" stroke="#fff" stroke-width="0.25"/>
<circle cx="414.9" cy="87.9" r="0.95" fill="#62bd9f" fill-opacity="0.88" stroke="#fff" stroke-width="0.25"/>
<circle cx="436.6" cy="91.8" r="0.95" fill="#62bd9f" fill-opacity="0.88" stroke="#fff" stroke-width="0.25"/>
<circle cx="435.0" cy="103.0" r="0.95" fill="#62bd9f" fill-opacity="0.88" stroke="#fff" stroke-width="0.25"/>
<circle cx="449.4" cy="94.1" r="0.95" fill="#62bd9f" fill-opacity="0.88" stroke="#fff" stroke-width="0.25"/>
<circle cx="423.4" cy="92.4" r="0.95" fill="#62bd9f" fill-opacity="0.88" stroke="#fff" stroke-width="0.25"/>
<circle cx="463.3" cy="97.1" r="0.95" fill="#62bd9f" fill-opacity="0.88" stroke="#fff" stroke-width="0.25"/>
<circle cx="436.1" cy="73.8" r="0.95" fill="#62bd9f" fill-opacity="0.88" stroke="#fff" stroke-width="0.25"/>
<circle cx="425.0" cy="86.8" r="0.95" fill="#62bd9f" fill-opacity="0.88" stroke="#fff" stroke-width="0.25"/>
<circle cx="458.9" cy="104.6" r="0.95" fill="#62bd9f" fill-opacity="0.88" stroke="#fff" stroke-width="0.25"/>
<circle cx="462.6" cy="44.7" r="0.95" fill="#62bd9f" fill-opacity="0.88" stroke="#fff" stroke-width="0.25"/>
<circle cx="437.8" cy="89.1" r="0.95" fill="#62bd9f" fill-opacity="0.88" stroke="#fff" stroke-width="0.25"/>
<circle cx="428.3" cy="94.8" r="0.95" fill="#62bd9f" fill-opacity="0.88" stroke="#fff" stroke-width="0.25"/>
<circle cx="440.5" cy="61.3" r="0.95" fill="#62bd9f" fill-opacity="0.88" stroke="#fff" stroke-width="0.25"/>
<circle cx="431.0" cy="62.3" r="0.95" fill="#62bd9f" fill-opacity="0.88" stroke="#fff" stroke-width="0.25"/>
<circle cx="436.1" cy="93.4" r="0.95" fill="#62bd9f" fill-opacity="0.88" stroke="#fff" stroke-width="0.25"/>
<circle cx="461.2" cy="97.7" r="0.95" fill="#62bd9f" fill-opacity="0.88" stroke="#fff" stroke-width="0.25"/>
<circle cx="445.5" cy="91.3" r="0.95" fill="#62bd9f" fill-opacity="0.88" stroke="#fff" stroke-width="0.25"/>
<circle cx="442.2" cy="62.8" r="0.95" fill="#62bd9f" fill-opacity="0.88" stroke="#fff" stroke-width="0.25"/>
<circle cx="444.9" cy="82.1" r="0.95" fill="#62bd9f" fill-opacity="0.88" stroke="#fff" stroke-width="0.25"/>
<circle cx="439.5" cy="88.8" r="0.95" fill="#62bd9f" fill-opacity="0.88" stroke="#fff" stroke-width="0.25"/>
<circle cx="451.6" cy="78.3" r="0.95" fill="#62bd9f" fill-opacity="0.88" stroke="#fff" stroke-width="0.25"/>
<circle cx="452.1" cy="61.8" r="0.95" fill="#62bd9f" fill-opacity="0.88" stroke="#fff" stroke-width="0.25"/>
<circle cx="435.3" cy="96.6" r="0.95" fill="#62bd9f" fill-opacity="0.88" stroke="#fff" stroke-width="0.25"/>
<circle cx="441.7" cy="83.1" r="0.95" fill="#62bd9f" fill-opacity="0.88" stroke="#fff" stroke-width="0.25"/>
<circle cx="472.7" cy="96.5" r="0.95" fill="#62bd9f" fill-opacity="0.88" stroke="#fff" stroke-width="0.25"/>
<circle cx="469.4" cy="66.5" r="0.95" fill="#e8765a" fill-opacity="0.88" stroke="#fff" stroke-width="0.25"/>
<circle cx="464.7" cy="72.8" r="0.95" fill="#e8765a" fill-opacity="0.88" stroke="#fff" stroke-width="0.25"/>
<circle cx="453.0" cy="45.2" r="0.95" fill="#e8765a" fill-opacity="0.88" stroke="#fff" stroke-width="0.25"/>
<circle cx="438.5" cy="76.7" r="0.95" fill="#e8765a" fill-opacity="0.88" stroke="#fff" stroke-width="0.25"/>
<circle cx="449.1" cy="84.1" r="0.95" fill="#e8765a" fill-opacity="0.88" stroke="#fff" stroke-width="0.25"/>
<circle cx="412.1" cy="75.9" r="0.95" fill="#e8765a" fill-opacity="0.88" stroke="#fff" stroke-width="0.25"/>
<circle cx="444.0" cy="96.1" r="0.95" fill="#e8765a" fill-opacity="0.88" stroke="#fff" stroke-width="0.25"/>
<circle cx="422.3" cy="71.4" r="0.95" fill="#e8765a" fill-opacity="0.88" stroke="#fff" stroke-width="0.25"/>
<circle cx="422.5" cy="79.2" r="0.95" fill="#e8765a" fill-opacity="0.88" stroke="#fff" stroke-width="0.25"/>
<circle cx="430.8" cy="73.3" r="0.95" fill="#e8765a" fill-opacity="0.88" stroke="#fff" stroke-width="0.25"/>
<circle cx="435.6" cy="72.9" r="0.95" fill="#e8765a" fill-opacity="0.88" stroke="#fff" stroke-width="0.25"/>
<circle cx="448.0" cy="91.9" r="0.95" fill="#e8765a" fill-opacity="0.88" stroke="#fff" stroke-width="0.25"/>
<circle cx="449.7" cy="60.1" r="0.95" fill="#e8765a" fill-opacity="0.88" stroke="#fff" stroke-width="0.25"/>
<circle cx="443.8" cy="91.4" r="0.95" fill="#e8765a" fill-opacity="0.88" stroke="#fff" stroke-width="0.25"/>
<circle cx="427.6" cy="65.8" r="0.95" fill="#e8765a" fill-opacity="0.88" stroke="#fff" stroke-width="0.25"/>
<circle cx="449.3" cy="99.1" r="0.95" fill="#e8765a" fill-opacity="0.88" stroke="#fff" stroke-width="0.25"/>
<circle cx="438.6" cy="72.8" r="0.95" fill="#e8765a" fill-opacity="0.88" stroke="#fff" stroke-width="0.25"/>
<circle cx="456.1" cy="88.7" r="0.95" fill="#e8765a" fill-opacity="0.88" stroke="#fff" stroke-width="0.25"/>
<circle cx="428.0" cy="77.2" r="0.95" fill="#e8765a" fill-opacity="0.88" stroke="#fff" stroke-width="0.25"/>
<circle cx="403.2" cy="86.5" r="0.95" fill="#e8765a" fill-opacity="0.88" stroke="#fff" stroke-width="0.25"/>
<circle cx="433.9" cy="107.0" r="0.95" fill="#e8765a" fill-opacity="0.88" stroke="#fff" stroke-width="0.25"/>
<circle cx="469.1" cy="92.7" r="0.95" fill="#e8765a" fill-opacity="0.88" stroke="#fff" stroke-width="0.25"/>
<circle cx="446.6" cy="76.8" r="0.95" fill="#e8765a" fill-opacity="0.88" stroke="#fff" stroke-width="0.25"/>
<circle cx="437.7" cy="69.4" r="0.95" fill="#e8765a" fill-opacity="0.88" stroke="#fff" stroke-width="0.25"/>
<circle cx="452.1" cy="97.4" r="0.95" fill="#e8765a" fill-opacity="0.88" stroke="#fff" stroke-width="0.25"/>
<circle cx="447.0" cy="106.2" r="0.95" fill="#e8765a" fill-opacity="0.88" stroke="#fff" stroke-width="0.25"/>
<circle cx="446.5" cy="89.4" r="0.95" fill="#e8765a" fill-opacity="0.88" stroke="#fff" stroke-width="0.25"/>
<circle cx="433.4" cy="80.6" r="0.95" fill="#e8765a" fill-opacity="0.88" stroke="#fff" stroke-width="0.25"/>
<circle cx="441.3" cy="86.2" r="0.95" fill="#e8765a" fill-opacity="0.88" stroke="#fff" stroke-width="0.25"/>
<circle cx="443.0" cy="88.6" r="0.95" fill="#e8765a" fill-opacity="0.88" stroke="#fff" stroke-width="0.25"/>
<circle cx="431.6" cy="66.3" r="0.95" fill="#e8765a" fill-opacity="0.88" stroke="#fff" stroke-width="0.25"/>
<circle cx="425.3" cy="64.8" r="0.95" fill="#e8765a" fill-opacity="0.88" stroke="#fff" stroke-width="0.25"/>
<circle cx="442.1" cy="67.8" r="0.95" fill="#e8765a" fill-opacity="0.88" stroke="#fff" stroke-width="0.25"/>
<circle cx="453.3" cy="90.3" r="0.95" fill="#e8765a" fill-opacity="0.88" stroke="#fff" stroke-width="0.25"/>
<circle cx="449.0" cy="76.7" r="0.95" fill="#e8765a" fill-opacity="0.88" stroke="#fff" stroke-width="0.25"/>
<circle cx="446.9" cy="80.3" r="0.95" fill="#e8765a" fill-opacity="0.88" stroke="#fff" stroke-width="0.25"/>
<circle cx="447.0" cy="96.9" r="0.95" fill="#e8765a" fill-opacity="0.88" stroke="#fff" stroke-width="0.25"/>
<circle cx="474.9" cy="65.9" r="0.95" fill="#e8765a" fill-opacity="0.88" stroke="#fff" stroke-width="0.25"/>
<circle cx="443.8" cy="76.6" r="0.95" fill="#e8765a" fill-opacity="0.88" stroke="#fff" stroke-width="0.25"/>
<circle cx="454.3" cy="84.2" r="0.95" fill="#e8765a" fill-opacity="0.88" stroke="#fff" stroke-width="0.25"/>
<circle cx="466.5" cy="58.7" r="0.95" fill="#e8765a" fill-opacity="0.88" stroke="#fff" stroke-width="0.25"/>
<circle cx="441.0" cy="67.5" r="0.95" fill="#e8765a" fill-opacity="0.88" stroke="#fff" stroke-width="0.25"/>
<circle cx="443.8" cy="66.3" r="0.95" fill="#e8765a" fill-opacity="0.88" stroke="#fff" stroke-width="0.25"/>
<circle cx="454.3" cy="61.7" r="0.95" fill="#e8765a" fill-opacity="0.88" stroke="#fff" stroke-width="0.25"/>
<circle cx="462.9" cy="68.1" r="0.95" fill="#e8765a" fill-opacity="0.88" stroke="#fff" stroke-width="0.25"/>
<circle cx="444.5" cy="94.7" r="0.95" fill="#e8765a" fill-opacity="0.88" stroke="#fff" stroke-width="0.25"/>
<circle cx="445.1" cy="83.0" r="0.95" fill="#e8765a" fill-opacity="0.88" stroke="#fff" stroke-width="0.25"/>
<circle cx="441.5" cy="64.3" r="0.95" fill="#e8765a" fill-opacity="0.88" stroke="#fff" stroke-width="0.25"/>
<circle cx="424.1" cy="88.0" r="0.95" fill="#e8765a" fill-opacity="0.88" stroke="#fff" stroke-width="0.25"/>
<circle cx="455.3" cy="77.2" r="0.95" fill="#e8765a" fill-opacity="0.88" stroke="#fff" stroke-width="0.25"/>
<circle cx="436.9" cy="72.4" r="0.95" fill="#e8765a" fill-opacity="0.88" stroke="#fff" stroke-width="0.25"/>
<circle cx="417.2" cy="58.4" r="0.95" fill="#e8765a" fill-opacity="0.88" stroke="#fff" stroke-width="0.25"/>
<circle cx="438.3" cy="60.3" r="0.95" fill="#e8765a" fill-opacity="0.88" stroke="#fff" stroke-width="0.25"/>
<circle cx="417.1" cy="65.7" r="0.95" fill="#e8765a" fill-opacity="0.88" stroke="#fff" stroke-width="0.25"/>
<circle cx="426.8" cy="80.2" r="0.95" fill="#e8765a" fill-opacity="0.88" stroke="#fff" stroke-width="0.25"/>
<circle cx="440.6" cy="65.5" r="0.95" fill="#e8765a" fill-opacity="0.88" stroke="#fff" stroke-width="0.25"/>
<circle cx="428.0" cy="70.7" r="0.95" fill="#e8765a" fill-opacity="0.88" stroke="#fff" stroke-width="0.25"/>
<circle cx="454.7" cy="79.9" r="0.95" fill="#e8765a" fill-opacity="0.88" stroke="#fff" stroke-width="0.25"/>
<circle cx="420.6" cy="59.6" r="0.95" fill="#e8765a" fill-opacity="0.88" stroke="#fff" stroke-width="0.25"/>
<circle cx="443.9" cy="71.1" r="0.95" fill="#e8765a" fill-opacity="0.88" stroke="#fff" stroke-width="0.25"/>
<circle cx="447.8" cy="87.9" r="0.95" fill="#e8765a" fill-opacity="0.88" stroke="#fff" stroke-width="0.25"/>
<circle cx="460.0" cy="60.8" r="0.95" fill="#e8765a" fill-opacity="0.88" stroke="#fff" stroke-width="0.25"/>
<circle cx="452.8" cy="81.2" r="0.95" fill="#e8765a" fill-opacity="0.88" stroke="#fff" stroke-width="0.25"/>
<circle cx="443.5" cy="69.8" r="0.95" fill="#e8765a" fill-opacity="0.88" stroke="#fff" stroke-width="0.25"/>
<circle cx="441.5" cy="98.2" r="0.95" fill="#e8765a" fill-opacity="0.88" stroke="#fff" stroke-width="0.25"/>
<circle cx="439.6" cy="78.0" r="0.95" fill="#e8765a" fill-opacity="0.88" stroke="#fff" stroke-width="0.25"/>
<circle cx="455.7" cy="90.5" r="0.95" fill="#e8765a" fill-opacity="0.88" stroke="#fff" stroke-width="0.25"/>
<circle cx="431.6" cy="90.8" r="0.95" fill="#e8765a" fill-opacity="0.88" stroke="#fff" stroke-width="0.25"/>
<circle cx="447.4" cy="103.4" r="0.95" fill="#e8765a" fill-opacity="0.88" stroke="#fff" stroke-width="0.25"/>
<circle cx="439.1" cy="49.1" r="0.95" fill="#e8765a" fill-opacity="0.88" stroke="#fff" stroke-width="0.25"/>
<circle cx="443.6" cy="79.8" r="0.95" fill="#e8765a" fill-opacity="0.88" stroke="#fff" stroke-width="0.25"/>
<circle cx="436.9" cy="74.6" r="0.95" fill="#e8765a" fill-opacity="0.88" stroke="#fff" stroke-width="0.25"/>
<circle cx="469.1" cy="63.0" r="0.95" fill="#e8765a" fill-opacity="0.88" stroke="#fff" stroke-width="0.25"/>
<circle cx="431.6" cy="79.4" r="0.95" fill="#e8765a" fill-opacity="0.88" stroke="#fff" stroke-width="0.25"/>
<circle cx="443.8" cy="70.9" r="0.95" fill="#e8765a" fill-opacity="0.88" stroke="#fff" stroke-width="0.25"/>
<circle cx="444.1" cy="96.0" r="0.95" fill="#e8765a" fill-opacity="0.88" stroke="#fff" stroke-width="0.25"/>
<circle cx="448.6" cy="75.2" r="0.95" fill="#e8765a" fill-opacity="0.88" stroke="#fff" stroke-width="0.25"/>
<circle cx="446.5" cy="83.4" r="0.95" fill="#e8765a" fill-opacity="0.88" stroke="#fff" stroke-width="0.25"/>
<circle cx="446.1" cy="71.1" r="0.95" fill="#e8765a" fill-opacity="0.88" stroke="#fff" stroke-width="0.25"/>
<circle cx="453.6" cy="75.4" r="0.95" fill="#e8765a" fill-opacity="0.88" stroke="#fff" stroke-width="0.25"/>
<circle cx="420.2" cy="96.4" r="0.95" fill="#e8765a" fill-opacity="0.88" stroke="#fff" stroke-width="0.25"/>
<circle cx="440.6" cy="102.6" r="0.95" fill="#e8765a" fill-opacity="0.88" stroke="#fff" stroke-width="0.25"/>
<circle cx="423.9" cy="91.4" r="0.95" fill="#e8765a" fill-opacity="0.88" stroke="#fff" stroke-width="0.25"/>
<circle cx="443.6" cy="67.9" r="0.95" fill="#e8765a" fill-opacity="0.88" stroke="#fff" stroke-width="0.25"/>
<circle cx="424.6" cy="72.1" r="0.95" fill="#e8765a" fill-opacity="0.88" stroke="#fff" stroke-width="0.25"/>
<circle cx="427.6" cy="72.4" r="0.95" fill="#e8765a" fill-opacity="0.88" stroke="#fff" stroke-width="0.25"/>
<circle cx="439.6" cy="104.9" r="0.95" fill="#e8765a" fill-opacity="0.88" stroke="#fff" stroke-width="0.25"/>
<circle cx="459.2" cy="113.9" r="0.95" fill="#e8765a" fill-opacity="0.88" stroke="#fff" stroke-width="0.25"/>
<circle cx="448.2" cy="86.2" r="0.95" fill="#e8765a" fill-opacity="0.88" stroke="#fff" stroke-width="0.25"/>
<circle cx="444.4" cy="82.3" r="0.95" fill="#e8765a" fill-opacity="0.88" stroke="#fff" stroke-width="0.25"/>
<circle cx="459.3" cy="85.9" r="0.95" fill="#e8765a" fill-opacity="0.88" stroke="#fff" stroke-width="0.25"/>
<circle cx="427.8" cy="73.1" r="0.95" fill="#e8765a" fill-opacity="0.88" stroke="#fff" stroke-width="0.25"/>
<circle cx="412.4" cy="80.2" r="0.95" fill="#e8765a" fill-opacity="0.88" stroke="#fff" stroke-width="0.25"/>
<circle cx="434.8" cy="93.8" r="0.95" fill="#e8765a" fill-opacity="0.88" stroke="#fff" stroke-width="0.25"/>
<circle cx="436.7" cy="89.7" r="0.95" fill="#e8765a" fill-opacity="0.88" stroke="#fff" stroke-width="0.25"/>
<circle cx="457.0" cy="76.0" r="0.95" fill="#e8765a" fill-opacity="0.88" stroke="#fff" stroke-width="0.25"/>
<circle cx="469.2" cy="76.9" r="0.95" fill="#e8765a" fill-opacity="0.88" stroke="#fff" stroke-width="0.25"/>
<circle cx="422.6" cy="78.9" r="0.95" fill="#e8765a" fill-opacity="0.88" stroke="#fff" stroke-width="0.25"/>
<circle cx="473.7" cy="47.5" r="0.95" fill="#e8765a" fill-opacity="0.88" stroke="#fff" stroke-width="0.25"/>
<circle cx="461.4" cy="81.4" r="0.95" fill="#e8765a" fill-opacity="0.88" stroke="#fff" stroke-width="0.25"/>
<path d="M613.7,69.0 L611.2,68.6 L608.7,68.4 L606.2,68.4 L603.6,68.9 L602.4,69.5 L601.1,70.3 L599.8,71.7 L598.6,73.4 L597.7,75.7 L597.4,78.4 L598.5,81.1 L599.9,82.3 L601.1,83.1 L602.4,83.9 L604.8,85.2 L606.2,85.9 L607.4,86.7 L609.9,87.9 L611.2,88.1 L613.7,88.0 L615.0,87.5 L616.3,86.5 L617.5,85.1 L618.5,82.5 L618.9,79.8 L619.0,77.1 L618.9,74.4 L618.5,73.0 L617.5,71.2 L616.2,70.0 L613.8,69.0Z" fill="none" stroke="#5288b3" stroke-width="0.75"/>
<path d="M617.5,63.0 L615.0,62.5 L612.5,62.5 L609.9,62.7 L607.4,63.0 L604.9,63.3 L603.3,63.6 L601.1,64.2 L599.7,64.9 L597.9,66.3 L596.6,67.6 L595.6,69.0 L594.7,70.3 L593.6,72.7 L592.8,74.4 L592.3,75.7 L591.4,78.4 L591.0,81.1 L591.5,83.8 L592.6,85.2 L594.8,86.4 L596.1,87.0 L598.2,87.9 L599.9,88.7 L601.1,89.3 L603.3,90.6 L604.9,91.6 L606.2,92.3 L608.6,93.3 L609.9,93.6 L612.5,93.7 L614.5,93.3 L616.2,92.6 L618.8,91.1 L620.0,90.2 L621.3,89.0 L622.6,87.5 L623.8,85.2 L624.2,83.8 L624.8,81.1 L625.1,79.7 L625.5,77.1 L625.6,74.4 L625.2,71.7 L624.7,70.3 L623.8,68.5 L622.6,66.8 L621.3,65.4 L620.0,64.4 L618.7,63.6Z" fill="none" stroke="#5288b3" stroke-width="0.75"/>
<path d="M617.5,55.2 L615.0,54.4 L612.5,54.8 L610.8,55.5 L608.7,56.4 L607.4,56.9 L604.9,57.7 L603.2,58.2 L601.1,58.7 L598.6,59.5 L597.3,60.0 L595.9,60.9 L594.2,62.2 L592.9,63.6 L592.0,64.9 L591.0,66.5 L589.8,68.8 L588.9,70.3 L588.1,71.7 L587.2,73.1 L586.0,75.1 L584.7,77.0 L584.0,78.4 L583.3,79.8 L582.4,82.5 L582.1,83.8 L581.8,86.5 L582.0,89.2 L582.3,90.6 L583.5,92.8 L584.7,94.1 L586.0,94.9 L588.5,95.7 L591.0,95.9 L593.6,95.8 L595.4,96.0 L597.3,96.4 L599.9,97.3 L602.4,98.3 L603.6,98.8 L606.2,99.6 L607.7,100.0 L609.9,100.5 L612.5,100.6 L615.0,100.1 L616.2,99.4 L617.5,98.5 L619.0,97.3 L620.8,96.0 L622.6,94.7 L623.8,93.9 L625.1,93.0 L626.6,91.9 L627.9,90.6 L628.9,89.0 L629.7,86.5 L630.1,83.8 L630.2,82.5 L630.6,79.8 L630.9,77.1 L630.9,74.4 L630.5,71.7 L630.1,70.3 L629.0,67.6 L628.3,66.3 L627.5,64.9 L626.3,63.3 L625.1,61.7 L623.8,60.4 L622.6,59.1 L621.3,58.0 L619.9,56.8 L617.9,55.5Z" fill="none" stroke="#5288b3" stroke-width="0.75"/>
<path d="M613.9,68.2 L611.3,67.9 L608.7,67.9 L606.1,68.1 L603.4,68.4 L602.1,68.7 L599.5,69.7 L598.2,70.6 L596.9,72.1 L596.1,74.7 L596.8,77.8 L597.8,79.3 L599.2,80.9 L600.6,82.4 L602.1,83.9 L603.4,85.2 L604.8,86.2 L606.1,87.0 L608.7,87.8 L611.3,87.5 L612.6,87.0 L614.7,85.5 L616.1,83.9 L617.1,82.4 L617.8,80.9 L618.6,77.8 L618.7,74.7 L617.8,71.6 L616.5,69.8 L614.6,68.5Z" fill="none" stroke="#a2538c" stroke-width="0.75"/>
<path d="M617.8,60.4 L615.2,59.9 L612.6,60.5 L611.3,60.9 L608.7,61.8 L606.7,62.3 L604.8,62.7 L602.1,63.0 L599.5,63.6 L598.2,64.0 L595.6,65.2 L594.3,66.1 L593.0,67.2 L591.7,68.6 L590.4,70.4 L589.1,73.1 L588.8,74.7 L589.1,77.8 L590.4,80.1 L591.7,81.6 L593.0,82.8 L594.3,83.9 L596.1,85.5 L597.7,87.0 L599.3,88.6 L600.8,90.0 L602.1,91.0 L603.4,92.0 L605.8,93.2 L607.4,93.8 L610.0,94.1 L612.6,93.5 L613.9,93.0 L615.9,91.6 L617.7,90.1 L619.1,88.7 L620.4,87.0 L621.4,85.5 L622.2,83.9 L623.0,81.8 L623.8,79.3 L624.3,76.2 L624.5,74.7 L624.5,71.6 L624.3,70.1 L623.4,67.0 L622.7,65.4 L621.7,63.9 L620.4,62.3 L618.5,60.8Z" fill="none" stroke="#a2538c" stroke-width="0.75"/>
<path d="M619.1,51.3 L616.5,50.5 L613.9,50.6 L611.7,51.6 L610.0,52.6 L608.7,53.5 L606.5,54.6 L604.8,55.2 L602.1,55.7 L599.5,56.0 L598.2,56.3 L595.6,57.1 L594.3,57.7 L591.7,59.2 L590.4,60.2 L589.1,61.3 L587.8,62.7 L586.5,64.2 L585.2,65.8 L583.9,67.5 L582.6,69.3 L581.3,71.4 L580.4,73.1 L579.9,75.5 L579.9,77.1 L580.4,79.3 L581.3,81.2 L582.6,83.4 L583.9,85.2 L585.2,86.8 L586.5,88.1 L587.8,89.3 L589.1,90.2 L591.7,91.6 L593.0,92.2 L594.7,93.2 L596.9,94.6 L598.2,95.5 L599.5,96.4 L601.5,97.8 L603.4,99.2 L604.8,100.3 L606.1,101.4 L608.7,103.5 L610.0,104.2 L612.5,104.0 L613.9,103.1 L615.2,101.8 L616.5,100.4 L617.8,99.0 L619.1,97.7 L620.6,96.3 L622.3,94.7 L623.9,93.2 L625.3,91.6 L626.5,90.1 L627.4,88.6 L628.3,86.6 L629.2,83.9 L629.6,82.4 L630.3,79.3 L630.9,77.0 L631.4,74.7 L631.8,71.6 L631.8,68.5 L631.1,65.4 L630.6,63.9 L629.6,61.9 L628.3,59.8 L626.9,58.0 L625.6,56.4 L624.3,55.0 L623.0,53.8 L621.7,52.8 L619.7,51.6Z" fill="none" stroke="#a2538c" stroke-width="0.75"/>
<path d="M616.8,66.9 L614.1,66.2 L611.3,66.1 L608.6,66.4 L606.1,67.2 L604.5,68.0 L603.1,68.8 L601.6,70.0 L600.3,71.3 L599.2,74.1 L599.0,75.4 L599.0,77.2 L599.1,79.6 L599.3,82.3 L599.4,85.1 L599.8,87.8 L600.4,89.4 L601.7,91.1 L603.1,92.0 L605.8,92.2 L607.2,91.9 L609.3,90.6 L610.6,89.2 L611.4,87.8 L612.5,85.1 L613.3,83.7 L614.5,82.3 L616.2,80.9 L618.0,79.6 L619.4,78.2 L620.3,76.8 L620.9,75.4 L621.1,72.7 L620.3,70.0 L619.4,68.6 L617.5,67.2Z" fill="none" stroke="#ee9a52" stroke-width="0.75"/>
<path d="M618.2,61.6 L615.4,61.4 L612.7,61.4 L609.9,61.6 L608.6,61.8 L605.8,62.5 L604.3,63.1 L601.7,64.1 L600.4,64.7 L597.7,65.8 L596.3,66.5 L594.9,67.2 L593.2,68.6 L592.2,70.7 L592.0,72.7 L592.3,74.1 L592.9,76.8 L593.5,79.5 L593.7,80.9 L593.9,83.7 L594.1,86.4 L594.4,89.2 L594.9,90.6 L596.3,93.3 L597.4,94.7 L599.0,96.0 L601.7,97.3 L603.1,97.5 L605.4,97.4 L607.2,97.1 L609.9,96.1 L611.3,95.5 L612.9,94.7 L615.0,93.3 L616.7,91.9 L618.0,90.6 L619.0,89.2 L619.9,87.8 L620.9,86.3 L622.3,84.3 L623.6,82.3 L624.3,80.9 L625.0,79.6 L625.9,76.8 L626.2,74.1 L626.1,71.3 L625.7,68.6 L625.0,66.3 L624.0,64.5 L622.5,63.1 L620.9,62.3 L618.5,61.7Z" fill="none" stroke="#ee9a52" stroke-width="0.75"/>
<path d="M625.0,57.3 L622.3,56.6 L619.5,56.3 L616.8,56.3 L614.1,56.2 L611.3,56.3 L608.6,56.6 L605.8,57.3 L604.5,57.7 L601.7,58.7 L600.4,59.1 L597.6,59.7 L594.9,60.0 L592.2,60.3 L590.8,60.5 L588.0,61.7 L586.7,62.7 L585.3,64.1 L584.1,65.8 L583.5,67.2 L582.9,70.0 L583.2,72.7 L583.9,75.4 L584.4,76.8 L585.3,79.6 L585.6,80.9 L585.8,83.7 L585.5,86.4 L585.3,87.8 L585.0,90.6 L585.3,93.3 L586.7,95.6 L588.0,96.9 L589.4,98.0 L590.8,99.0 L592.4,100.2 L594.4,101.5 L596.3,102.7 L597.6,103.3 L600.4,103.9 L603.1,103.8 L605.8,103.0 L607.2,102.5 L609.4,101.5 L611.3,100.7 L612.7,100.1 L615.4,98.9 L616.8,98.2 L618.2,97.4 L620.4,96.0 L622.1,94.7 L623.5,93.3 L624.6,91.9 L625.6,90.6 L626.5,89.2 L627.7,87.0 L628.8,85.1 L629.4,83.7 L630.5,80.9 L630.8,79.6 L631.2,76.8 L631.2,74.1 L631.2,71.3 L631.1,68.6 L631.0,65.8 L630.5,63.1 L630.0,61.7 L629.1,60.3 L627.7,58.9 L625.6,57.6Z" fill="none" stroke="#ee9a52" stroke-width="0.75"/>
<path d="M610.6,73.8 L607.9,73.7 L606.5,74.0 L603.8,74.9 L602.4,75.6 L600.6,76.6 L598.7,77.9 L597.0,79.3 L595.6,80.5 L594.3,81.9 L593.3,83.2 L592.6,84.5 L592.0,87.2 L592.8,89.8 L593.8,91.2 L595.1,92.5 L596.9,93.8 L598.3,94.6 L599.7,95.2 L602.4,95.8 L605.1,95.9 L607.9,95.4 L609.3,95.0 L612.0,93.9 L613.4,93.1 L614.7,92.1 L616.1,90.8 L617.5,89.0 L618.4,87.2 L618.9,85.9 L619.4,83.2 L619.3,80.6 L618.8,79.2 L617.5,77.3 L616.1,76.1 L613.4,74.6 L611.2,74.0Z" fill="none" stroke="#62bd9f" stroke-width="0.75"/>
<path d="M613.4,60.7 L610.6,60.1 L607.9,60.6 L606.5,61.2 L604.8,62.1 L603.0,63.4 L601.6,64.7 L600.5,66.0 L598.9,68.7 L598.0,70.0 L596.9,71.3 L595.6,72.7 L594.2,74.1 L592.8,75.3 L591.5,76.6 L590.1,78.0 L588.7,79.6 L587.4,81.5 L586.4,83.2 L586.0,84.5 L585.7,87.2 L586.0,89.0 L586.9,91.2 L587.8,92.5 L589.0,93.8 L590.5,95.1 L592.4,96.4 L594.2,97.5 L595.6,98.2 L597.8,99.1 L599.7,99.6 L602.4,99.8 L605.1,99.6 L607.7,99.1 L609.3,98.7 L612.0,97.8 L613.4,97.3 L615.5,96.4 L617.5,95.5 L618.8,94.7 L620.2,93.8 L621.9,92.5 L623.2,91.2 L624.3,89.8 L625.7,87.8 L626.6,85.9 L627.1,84.5 L627.9,81.9 L628.4,79.7 L628.7,77.9 L628.5,75.3 L628.1,74.0 L627.0,72.3 L625.7,71.1 L623.6,70.0 L621.6,69.1 L620.2,68.5 L618.5,67.3 L617.2,66.0 L616.1,64.2 L614.8,62.1 L613.4,60.7Z" fill="none" stroke="#62bd9f" stroke-width="0.75"/>
<path d="M618.8,52.6 L616.1,51.7 L613.4,51.8 L610.6,52.4 L609.3,52.9 L606.5,54.1 L605.1,54.7 L603.2,55.4 L601.0,56.1 L598.3,56.6 L596.7,56.8 L594.2,56.9 L591.5,57.2 L588.9,58.1 L587.4,59.3 L586.5,60.7 L586.0,62.1 L585.7,64.7 L585.8,67.3 L585.7,70.0 L584.8,72.6 L584.1,74.0 L582.4,76.6 L581.7,77.9 L580.6,80.6 L580.3,81.9 L579.9,84.5 L580.1,87.2 L580.5,88.8 L581.4,91.2 L582.2,92.5 L583.3,94.0 L584.6,95.6 L586.0,96.9 L587.4,98.1 L588.7,99.1 L590.7,100.4 L592.8,101.6 L594.2,102.3 L596.2,103.1 L598.3,103.6 L601.0,103.9 L603.8,103.8 L606.5,103.3 L607.9,102.9 L610.6,102.2 L612.4,101.7 L614.7,101.2 L617.5,100.7 L619.2,100.4 L621.6,100.1 L624.3,99.5 L625.7,99.1 L628.3,97.8 L629.8,96.6 L631.2,95.2 L632.1,93.8 L632.8,92.5 L633.7,89.8 L634.0,88.5 L634.4,85.9 L634.7,83.2 L634.9,80.6 L635.1,77.9 L635.1,75.3 L634.8,72.6 L634.0,70.0 L633.4,68.7 L632.4,67.3 L631.2,66.0 L629.7,64.7 L628.2,63.4 L626.9,62.1 L625.7,60.7 L624.3,58.7 L623.0,56.8 L622.0,55.4 L620.8,54.1 L619.2,52.8Z" fill="none" stroke="#62bd9f" stroke-width="0.75"/>
<path d="M609.7,66.3 L606.9,66.1 L605.5,66.4 L602.6,67.5 L601.2,68.2 L599.8,69.2 L598.3,70.5 L597.0,73.3 L598.0,76.1 L599.3,77.5 L601.0,78.9 L602.6,80.2 L604.0,81.6 L605.3,83.1 L606.2,84.4 L606.9,85.8 L608.2,88.6 L608.9,90.0 L609.8,91.4 L611.1,92.8 L614.0,93.4 L615.4,92.8 L617.1,91.4 L618.3,90.0 L619.6,88.0 L620.6,85.8 L621.1,83.9 L621.2,81.7 L620.7,78.9 L619.6,76.5 L618.6,74.7 L617.6,73.3 L616.6,71.9 L615.4,70.3 L614.0,68.7 L612.5,67.5 L609.8,66.3Z" fill="none" stroke="#e8765a" stroke-width="0.75"/>
<path d="M611.1,61.9 L608.3,61.6 L605.5,61.9 L604.0,62.2 L601.2,63.0 L599.6,63.5 L596.9,64.5 L595.5,65.0 L592.9,66.3 L591.3,67.7 L590.2,69.1 L589.5,70.5 L588.9,73.3 L589.2,76.1 L589.8,77.8 L591.3,79.8 L592.7,81.2 L594.1,82.2 L595.5,83.1 L597.5,84.4 L599.2,85.8 L600.4,87.2 L601.3,88.6 L602.6,91.4 L603.2,92.8 L604.0,94.6 L605.3,97.0 L606.2,98.4 L607.5,99.8 L609.7,101.1 L611.1,101.5 L613.8,101.2 L615.4,100.5 L616.8,99.6 L619.5,97.0 L620.7,95.6 L621.7,94.2 L622.7,92.8 L623.9,90.9 L625.0,88.6 L625.6,87.2 L626.4,84.4 L626.7,82.2 L626.8,80.3 L626.6,78.9 L625.9,76.1 L625.2,74.7 L623.9,72.8 L622.5,71.1 L621.1,69.4 L619.6,67.8 L618.3,66.3 L616.9,64.9 L615.4,63.8 L614.0,62.9 L611.9,62.1Z" fill="none" stroke="#e8765a" stroke-width="0.75"/>
<path d="M609.7,56.5 L608.0,56.5 L605.5,56.8 L602.6,57.4 L600.7,57.9 L598.4,58.4 L595.5,58.9 L592.7,59.3 L589.8,59.8 L587.6,60.7 L585.7,62.1 L584.6,63.5 L583.9,64.9 L582.9,67.7 L582.5,69.1 L581.8,71.9 L581.5,74.7 L581.6,77.5 L582.4,80.3 L583.2,81.7 L584.2,83.1 L585.6,85.0 L587.0,86.8 L588.4,88.5 L589.8,90.0 L591.2,91.4 L592.7,92.8 L594.1,94.0 L595.5,95.3 L596.9,96.8 L598.2,98.4 L599.1,99.8 L600.0,101.2 L601.2,103.1 L602.6,104.9 L604.0,106.2 L605.5,107.1 L608.3,108.1 L609.7,108.3 L612.5,108.2 L614.0,107.9 L616.8,106.9 L618.2,106.0 L619.6,104.9 L621.1,103.5 L622.5,101.8 L623.9,99.9 L625.0,98.4 L626.1,97.0 L627.1,95.6 L628.2,94.1 L629.6,91.9 L630.6,90.0 L631.2,88.6 L632.2,85.8 L632.6,84.4 L633.3,81.7 L633.8,79.0 L634.2,77.5 L634.9,74.7 L635.3,73.3 L636.2,70.5 L636.7,69.1 L637.0,66.3 L636.7,64.8 L635.2,62.9 L633.8,62.1 L631.0,61.5 L628.2,61.5 L625.3,61.1 L623.9,60.7 L621.1,59.6 L619.6,59.0 L616.8,57.9 L615.4,57.4 L612.5,56.8 L610.1,56.5Z" fill="none" stroke="#e8765a" stroke-width="0.75"/>
<circle cx="607.8" cy="87.8" r="0.95" fill="#5288b3" fill-opacity="0.88" stroke="#fff" stroke-width="0.25"/>
<circle cx="625.5" cy="72.8" r="0.95" fill="#5288b3" fill-opacity="0.88" stroke="#fff" stroke-width="0.25"/>
<circle cx="623.7" cy="73.8" r="0.95" fill="#5288b3" fill-opacity="0.88" stroke="#fff" stroke-width="0.25"/>
<circle cx="600.5" cy="79.2" r="0.95" fill="#5288b3" fill-opacity="0.88" stroke="#fff" stroke-width="0.25"/>
<circle cx="603.4" cy="80.9" r="0.95" fill="#5288b3" fill-opacity="0.88" stroke="#fff" stroke-width="0.25"/>
<circle cx="600.3" cy="95.2" r="0.95" fill="#5288b3" fill-opacity="0.88" stroke="#fff" stroke-width="0.25"/>
<circle cx="615.0" cy="84.5" r="0.95" fill="#5288b3" fill-opacity="0.88" stroke="#fff" stroke-width="0.25"/>
<circle cx="606.6" cy="61.8" r="0.95" fill="#5288b3" fill-opacity="0.88" stroke="#fff" stroke-width="0.25"/>
<circle cx="617.4" cy="80.5" r="0.95" fill="#5288b3" fill-opacity="0.88" stroke="#fff" stroke-width="0.25"/>
<circle cx="582.7" cy="97.2" r="0.95" fill="#5288b3" fill-opacity="0.88" stroke="#fff" stroke-width="0.25"/>
<circle cx="628.3" cy="60.1" r="0.95" fill="#5288b3" fill-opacity="0.88" stroke="#fff" stroke-width="0.25"/>
<circle cx="606.1" cy="70.8" r="0.95" fill="#5288b3" fill-opacity="0.88" stroke="#fff" stroke-width="0.25"/>
<circle cx="616.5" cy="49.7" r="0.95" fill="#5288b3" fill-opacity="0.88" stroke="#fff" stroke-width="0.25"/>
<circle cx="605.5" cy="77.1" r="0.95" fill="#5288b3" fill-opacity="0.88" stroke="#fff" stroke-width="0.25"/>
<circle cx="602.3" cy="84.1" r="0.95" fill="#5288b3" fill-opacity="0.88" stroke="#fff" stroke-width="0.25"/>
<circle cx="613.6" cy="97.3" r="0.95" fill="#5288b3" fill-opacity="0.88" stroke="#fff" stroke-width="0.25"/>
<circle cx="618.4" cy="60.2" r="0.95" fill="#5288b3" fill-opacity="0.88" stroke="#fff" stroke-width="0.25"/>
<circle cx="604.7" cy="43.5" r="0.95" fill="#5288b3" fill-opacity="0.88" stroke="#fff" stroke-width="0.25"/>
<circle cx="605.3" cy="88.9" r="0.95" fill="#5288b3" fill-opacity="0.88" stroke="#fff" stroke-width="0.25"/>
<circle cx="616.5" cy="86.6" r="0.95" fill="#5288b3" fill-opacity="0.88" stroke="#fff" stroke-width="0.25"/>
<circle cx="595.7" cy="70.0" r="0.95" fill="#5288b3" fill-opacity="0.88" stroke="#fff" stroke-width="0.25"/>
<circle cx="587.1" cy="89.1" r="0.95" fill="#5288b3" fill-opacity="0.88" stroke="#fff" stroke-width="0.25"/>
<circle cx="612.6" cy="81.6" r="0.95" fill="#5288b3" fill-opacity="0.88" stroke="#fff" stroke-width="0.25"/>
<circle cx="598.4" cy="82.6" r="0.95" fill="#5288b3" fill-opacity="0.88" stroke="#fff" stroke-width="0.25"/>
<circle cx="581.7" cy="75.4" r="0.95" fill="#5288b3" fill-opacity="0.88" stroke="#fff" stroke-width="0.25"/>
<circle cx="596.5" cy="63.3" r="0.95" fill="#5288b3" fill-opacity="0.88" stroke="#fff" stroke-width="0.25"/>
<circle cx="601.1" cy="77.6" r="0.95" fill="#5288b3" fill-opacity="0.88" stroke="#fff" stroke-width="0.25"/>
<circle cx="591.4" cy="65.6" r="0.95" fill="#5288b3" fill-opacity="0.88" stroke="#fff" stroke-width="0.25"/>
<circle cx="587.4" cy="83.6" r="0.95" fill="#5288b3" fill-opacity="0.88" stroke="#fff" stroke-width="0.25"/>
<circle cx="607.9" cy="73.5" r="0.95" fill="#5288b3" fill-opacity="0.88" stroke="#fff" stroke-width="0.25"/>
<circle cx="619.4" cy="106.6" r="0.95" fill="#5288b3" fill-opacity="0.88" stroke="#fff" stroke-width="0.25"/>
<circle cx="604.2" cy="97.4" r="0.95" fill="#5288b3" fill-opacity="0.88" stroke="#fff" stroke-width="0.25"/>
<circle cx="597.4" cy="67.3" r="0.95" fill="#5288b3" fill-opacity="0.88" stroke="#fff" stroke-width="0.25"/>
<circle cx="612.5" cy="85.9" r="0.95" fill="#5288b3" fill-opacity="0.88" stroke="#fff" stroke-width="0.25"/>
<circle cx="617.0" cy="70.2" r="0.95" fill="#5288b3" fill-opacity="0.88" stroke="#fff" stroke-width="0.25"/>
<circle cx="603.3" cy="70.7" r="0.95" fill="#5288b3" fill-opacity="0.88" stroke="#fff" stroke-width="0.25"/>
<circle cx="614.6" cy="60.2" r="0.95" fill="#5288b3" fill-opacity="0.88" stroke="#fff" stroke-width="0.25"/>
<circle cx="621.3" cy="67.1" r="0.95" fill="#5288b3" fill-opacity="0.88" stroke="#fff" stroke-width="0.25"/>
<circle cx="604.6" cy="64.3" r="0.95" fill="#5288b3" fill-opacity="0.88" stroke="#fff" stroke-width="0.25"/>
<circle cx="596.5" cy="79.4" r="0.95" fill="#5288b3" fill-opacity="0.88" stroke="#fff" stroke-width="0.25"/>
<circle cx="612.0" cy="87.3" r="0.95" fill="#5288b3" fill-opacity="0.88" stroke="#fff" stroke-width="0.25"/>
<circle cx="610.7" cy="87.7" r="0.95" fill="#5288b3" fill-opacity="0.88" stroke="#fff" stroke-width="0.25"/>
<circle cx="622.1" cy="84.5" r="0.95" fill="#5288b3" fill-opacity="0.88" stroke="#fff" stroke-width="0.25"/>
<circle cx="590.2" cy="93.1" r="0.95" fill="#5288b3" fill-opacity="0.88" stroke="#fff" stroke-width="0.25"/>
<circle cx="598.5" cy="85.3" r="0.95" fill="#5288b3" fill-opacity="0.88" stroke="#fff" stroke-width="0.25"/>
<circle cx="596.2" cy="79.2" r="0.95" fill="#5288b3" fill-opacity="0.88" stroke="#fff" stroke-width="0.25"/>
<circle cx="584.2" cy="74.6" r="0.95" fill="#5288b3" fill-opacity="0.88" stroke="#fff" stroke-width="0.25"/>
<circle cx="609.1" cy="82.5" r="0.95" fill="#5288b3" fill-opacity="0.88" stroke="#fff" stroke-width="0.25"/>
<circle cx="614.4" cy="103.7" r="0.95" fill="#5288b3" fill-opacity="0.88" stroke="#fff" stroke-width="0.25"/>
<circle cx="597.5" cy="78.9" r="0.95" fill="#5288b3" fill-opacity="0.88" stroke="#fff" stroke-width="0.25"/>
<circle cx="625.9" cy="74.9" r="0.95" fill="#5288b3" fill-opacity="0.88" stroke="#fff" stroke-width="0.25"/>
<circle cx="618.4" cy="63.4" r="0.95" fill="#5288b3" fill-opacity="0.88" stroke="#fff" stroke-width="0.25"/>
<circle cx="615.8" cy="70.2" r="0.95" fill="#5288b3" fill-opacity="0.88" stroke="#fff" stroke-width="0.25"/>
<circle cx="612.7" cy="86.6" r="0.95" fill="#5288b3" fill-opacity="0.88" stroke="#fff" stroke-width="0.25"/>
<circle cx="620.1" cy="87.6" r="0.95" fill="#5288b3" fill-opacity="0.88" stroke="#fff" stroke-width="0.25"/>
<circle cx="589.5" cy="51.0" r="0.95" fill="#5288b3" fill-opacity="0.88" stroke="#fff" stroke-width="0.25"/>
<circle cx="615.6" cy="67.8" r="0.95" fill="#5288b3" fill-opacity="0.88" stroke="#fff" stroke-width="0.25"/>
<circle cx="615.4" cy="53.4" r="0.95" fill="#5288b3" fill-opacity="0.88" stroke="#fff" stroke-width="0.25"/>
<circle cx="583.7" cy="49.4" r="0.95" fill="#5288b3" fill-opacity="0.88" stroke="#fff" stroke-width="0.25"/>
<circle cx="612.0" cy="88.9" r="0.95" fill="#5288b3" fill-opacity="0.88" stroke="#fff" stroke-width="0.25"/>
<circle cx="604.0" cy="72.8" r="0.95" fill="#5288b3" fill-opacity="0.88" stroke="#fff" stroke-width="0.25"/>
<circle cx="617.8" cy="71.8" r="0.95" fill="#5288b3" fill-opacity="0.88" stroke="#fff" stroke-width="0.25"/>
<circle cx="601.5" cy="70.4" r="0.95" fill="#5288b3" fill-opacity="0.88" stroke="#fff" stroke-width="0.25"/>
<circle cx="607.1" cy="70.7" r="0.95" fill="#5288b3" fill-opacity="0.88" stroke="#fff" stroke-width="0.25"/>
<circle cx="611.9" cy="75.2" r="0.95" fill="#5288b3" fill-opacity="0.88" stroke="#fff" stroke-width="0.25"/>
<circle cx="595.6" cy="75.6" r="0.95" fill="#5288b3" fill-opacity="0.88" stroke="#fff" stroke-width="0.25"/>
<circle cx="615.4" cy="98.1" r="0.95" fill="#5288b3" fill-opacity="0.88" stroke="#fff" stroke-width="0.25"/>
<circle cx="606.0" cy="80.2" r="0.95" fill="#5288b3" fill-opacity="0.88" stroke="#fff" stroke-width="0.25"/>
<circle cx="613.9" cy="88.0" r="0.95" fill="#5288b3" fill-opacity="0.88" stroke="#fff" stroke-width="0.25"/>
<circle cx="600.4" cy="76.3" r="0.95" fill="#5288b3" fill-opacity="0.88" stroke="#fff" stroke-width="0.25"/>
<circle cx="621.9" cy="84.2" r="0.95" fill="#5288b3" fill-opacity="0.88" stroke="#fff" stroke-width="0.25"/>
<circle cx="615.5" cy="69.7" r="0.95" fill="#5288b3" fill-opacity="0.88" stroke="#fff" stroke-width="0.25"/>
<circle cx="605.0" cy="67.0" r="0.95" fill="#5288b3" fill-opacity="0.88" stroke="#fff" stroke-width="0.25"/>
<circle cx="615.8" cy="73.8" r="0.95" fill="#5288b3" fill-opacity="0.88" stroke="#fff" stroke-width="0.25"/>
<circle cx="624.2" cy="73.7" r="0.95" fill="#5288b3" fill-opacity="0.88" stroke="#fff" stroke-width="0.25"/>
<circle cx="631.3" cy="76.7" r="0.95" fill="#5288b3" fill-opacity="0.88" stroke="#fff" stroke-width="0.25"/>
<circle cx="586.3" cy="83.9" r="0.95" fill="#5288b3" fill-opacity="0.88" stroke="#fff" stroke-width="0.25"/>
<circle cx="619.2" cy="80.1" r="0.95" fill="#5288b3" fill-opacity="0.88" stroke="#fff" stroke-width="0.25"/>
<circle cx="613.6" cy="84.6" r="0.95" fill="#5288b3" fill-opacity="0.88" stroke="#fff" stroke-width="0.25"/>
<circle cx="606.1" cy="72.7" r="0.95" fill="#5288b3" fill-opacity="0.88" stroke="#fff" stroke-width="0.25"/>
<circle cx="593.9" cy="77.8" r="0.95" fill="#5288b3" fill-opacity="0.88" stroke="#fff" stroke-width="0.25"/>
<circle cx="624.2" cy="70.2" r="0.95" fill="#5288b3" fill-opacity="0.88" stroke="#fff" stroke-width="0.25"/>
<circle cx="590.5" cy="95.8" r="0.95" fill="#5288b3" fill-opacity="0.88" stroke="#fff" stroke-width="0.25"/>
<circle cx="614.9" cy="66.0" r="0.95" fill="#5288b3" fill-opacity="0.88" stroke="#fff" stroke-width="0.25"/>
<circle cx="624.8" cy="88.2" r="0.95" fill="#5288b3" fill-opacity="0.88" stroke="#fff" stroke-width="0.25"/>
<circle cx="586.0" cy="87.8" r="0.95" fill="#5288b3" fill-opacity="0.88" stroke="#fff" stroke-width="0.25"/>
<circle cx="603.3" cy="80.6" r="0.95" fill="#5288b3" fill-opacity="0.88" stroke="#fff" stroke-width="0.25"/>
<circle cx="589.8" cy="85.5" r="0.95" fill="#5288b3" fill-opacity="0.88" stroke="#fff" stroke-width="0.25"/>
<circle cx="610.6" cy="74.0" r="0.95" fill="#5288b3" fill-opacity="0.88" stroke="#fff" stroke-width="0.25"/>
<circle cx="627.6" cy="85.6" r="0.95" fill="#5288b3" fill-opacity="0.88" stroke="#fff" stroke-width="0.25"/>
<circle cx="634.4" cy="92.3" r="0.95" fill="#5288b3" fill-opacity="0.88" stroke="#fff" stroke-width="0.25"/>
<circle cx="583.6" cy="89.3" r="0.95" fill="#5288b3" fill-opacity="0.88" stroke="#fff" stroke-width="0.25"/>
<circle cx="599.7" cy="60.4" r="0.95" fill="#5288b3" fill-opacity="0.88" stroke="#fff" stroke-width="0.25"/>
<circle cx="616.8" cy="77.3" r="0.95" fill="#5288b3" fill-opacity="0.88" stroke="#fff" stroke-width="0.25"/>
<circle cx="628.5" cy="93.6" r="0.95" fill="#5288b3" fill-opacity="0.88" stroke="#fff" stroke-width="0.25"/>
<circle cx="613.0" cy="77.8" r="0.95" fill="#5288b3" fill-opacity="0.88" stroke="#fff" stroke-width="0.25"/>
<circle cx="597.4" cy="98.8" r="0.95" fill="#5288b3" fill-opacity="0.88" stroke="#fff" stroke-width="0.25"/>
<circle cx="611.3" cy="54.0" r="0.95" fill="#5288b3" fill-opacity="0.88" stroke="#fff" stroke-width="0.25"/>
<circle cx="607.1" cy="98.4" r="0.95" fill="#5288b3" fill-opacity="0.88" stroke="#fff" stroke-width="0.25"/>
<circle cx="604.6" cy="71.5" r="0.95" fill="#5288b3" fill-opacity="0.88" stroke="#fff" stroke-width="0.25"/>
<circle cx="614.6" cy="75.9" r="0.95" fill="#a2538c" fill-opacity="0.88" stroke="#fff" stroke-width="0.25"/>
<circle cx="588.0" cy="93.3" r="0.95" fill="#a2538c" fill-opacity="0.88" stroke="#fff" stroke-width="0.25"/>
<circle cx="611.4" cy="72.6" r="0.95" fill="#a2538c" fill-opacity="0.88" stroke="#fff" stroke-width="0.25"/>
<circle cx="620.7" cy="29.4" r="0.95" fill="#a2538c" fill-opacity="0.88" stroke="#fff" stroke-width="0.25"/>
<circle cx="613.6" cy="95.1" r="0.95" fill="#a2538c" fill-opacity="0.88" stroke="#fff" stroke-width="0.25"/>
<circle cx="610.9" cy="73.4" r="0.95" fill="#a2538c" fill-opacity="0.88" stroke="#fff" stroke-width="0.25"/>
<circle cx="620.1" cy="82.1" r="0.95" fill="#a2538c" fill-opacity="0.88" stroke="#fff" stroke-width="0.25"/>
<circle cx="609.5" cy="75.4" r="0.95" fill="#a2538c" fill-opacity="0.88" stroke="#fff" stroke-width="0.25"/>
<circle cx="611.9" cy="102.2" r="0.95" fill="#a2538c" fill-opacity="0.88" stroke="#fff" stroke-width="0.25"/>
<circle cx="605.7" cy="93.4" r="0.95" fill="#a2538c" fill-opacity="0.88" stroke="#fff" stroke-width="0.25"/>
<circle cx="615.8" cy="71.8" r="0.95" fill="#a2538c" fill-opacity="0.88" stroke="#fff" stroke-width="0.25"/>
<circle cx="594.8" cy="78.5" r="0.95" fill="#a2538c" fill-opacity="0.88" stroke="#fff" stroke-width="0.25"/>
<circle cx="618.0" cy="56.0" r="0.95" fill="#a2538c" fill-opacity="0.88" stroke="#fff" stroke-width="0.25"/>
<circle cx="600.6" cy="87.4" r="0.95" fill="#a2538c" fill-opacity="0.88" stroke="#fff" stroke-width="0.25"/>
<circle cx="592.8" cy="75.6" r="0.95" fill="#a2538c" fill-opacity="0.88" stroke="#fff" stroke-width="0.25"/>
<circle cx="612.2" cy="38.9" r="0.95" fill="#a2538c" fill-opacity="0.88" stroke="#fff" stroke-width="0.25"/>
<circle cx="630.0" cy="88.2" r="0.95" fill="#a2538c" fill-opacity="0.88" stroke="#fff" stroke-width="0.25"/>
<circle cx="620.2" cy="90.1" r="0.95" fill="#a2538c" fill-opacity="0.88" stroke="#fff" stroke-width="0.25"/>
<circle cx="600.5" cy="78.4" r="0.95" fill="#a2538c" fill-opacity="0.88" stroke="#fff" stroke-width="0.25"/>
<circle cx="616.7" cy="78.5" r="0.95" fill="#a2538c" fill-opacity="0.88" stroke="#fff" stroke-width="0.25"/>
<circle cx="601.3" cy="66.6" r="0.95" fill="#a2538c" fill-opacity="0.88" stroke="#fff" stroke-width="0.25"/>
<circle cx="605.7" cy="76.2" r="0.95" fill="#a2538c" fill-opacity="0.88" stroke="#fff" stroke-width="0.25"/>
<circle cx="608.6" cy="88.1" r="0.95" fill="#a2538c" fill-opacity="0.88" stroke="#fff" stroke-width="0.25"/>
<circle cx="576.4" cy="75.1" r="0.95" fill="#a2538c" fill-opacity="0.88" stroke="#fff" stroke-width="0.25"/>
<circle cx="609.9" cy="42.6" r="0.95" fill="#a2538c" fill-opacity="0.88" stroke="#fff" stroke-width="0.25"/>
<circle cx="593.6" cy="60.9" r="0.95" fill="#a2538c" fill-opacity="0.88" stroke="#fff" stroke-width="0.25"/>
<circle cx="598.0" cy="115.2" r="0.95" fill="#a2538c" fill-opacity="0.88" stroke="#fff" stroke-width="0.25"/>
<circle cx="587.6" cy="79.8" r="0.95" fill="#a2538c" fill-opacity="0.88" stroke="#fff" stroke-width="0.25"/>
<circle cx="587.1" cy="89.7" r="0.95" fill="#a2538c" fill-opacity="0.88" stroke="#fff" stroke-width="0.25"/>
<circle cx="594.7" cy="69.6" r="0.95" fill="#a2538c" fill-opacity="0.88" stroke="#fff" stroke-width="0.25"/>
<circle cx="618.4" cy="80.3" r="0.95" fill="#a2538c" fill-opacity="0.88" stroke="#fff" stroke-width="0.25"/>
<circle cx="629.6" cy="52.0" r="0.95" fill="#a2538c" fill-opacity="0.88" stroke="#fff" stroke-width="0.25"/>
<circle cx="607.0" cy="65.5" r="0.95" fill="#a2538c" fill-opacity="0.88" stroke="#fff" stroke-width="0.25"/>
<circle cx="622.0" cy="66.0" r="0.95" fill="#a2538c" fill-opacity="0.88" stroke="#fff" stroke-width="0.25"/>
<circle cx="603.8" cy="75.4" r="0.95" fill="#a2538c" fill-opacity="0.88" stroke="#fff" stroke-width="0.25"/>
<circle cx="581.8" cy="78.5" r="0.95" fill="#a2538c" fill-opacity="0.88" stroke="#fff" stroke-width="0.25"/>
<circle cx="609.4" cy="73.4" r="0.95" fill="#a2538c" fill-opacity="0.88" stroke="#fff" stroke-width="0.25"/>
<circle cx="613.3" cy="60.6" r="0.95" fill="#a2538c" fill-opacity="0.88" stroke="#fff" stroke-width="0.25"/>
<circle cx="601.6" cy="70.8" r="0.95" fill="#a2538c" fill-opacity="0.88" stroke="#fff" stroke-width="0.25"/>
<circle cx="611.4" cy="82.6" r="0.95" fill="#a2538c" fill-opacity="0.88" stroke="#fff" stroke-width="0.25"/>
<circle cx="615.0" cy="60.9" r="0.95" fill="#a2538c" fill-opacity="0.88" stroke="#fff" stroke-width="0.25"/>
<circle cx="595.8" cy="75.4" r="0.95" fill="#a2538c" fill-opacity="0.88" stroke="#fff" stroke-width="0.25"/>
<circle cx="587.6" cy="79.0" r="0.95" fill="#a2538c" fill-opacity="0.88" stroke="#fff" stroke-width="0.25"/>
<circle cx="604.4" cy="88.5" r="0.95" fill="#a2538c" fill-opacity="0.88" stroke="#fff" stroke-width="0.25"/>
<circle cx="604.5" cy="85.5" r="0.95" fill="#a2538c" fill-opacity="0.88" stroke="#fff" stroke-width="0.25"/>
<circle cx="602.6" cy="86.5" r="0.95" fill="#a2538c" fill-opacity="0.88" stroke="#fff" stroke-width="0.25"/>
<circle cx="620.6" cy="115.4" r="0.95" fill="#a2538c" fill-opacity="0.88" stroke="#fff" stroke-width="0.25"/>
<circle cx="630.4" cy="64.3" r="0.95" fill="#a2538c" fill-opacity="0.88" stroke="#fff" stroke-width="0.25"/>
<circle cx="601.8" cy="70.3" r="0.95" fill="#a2538c" fill-opacity="0.88" stroke="#fff" stroke-width="0.25"/>
<circle cx="616.7" cy="80.8" r="0.95" fill="#a2538c" fill-opacity="0.88" stroke="#fff" stroke-width="0.25"/>
<circle cx="619.9" cy="63.9" r="0.95" fill="#a2538c" fill-opacity="0.88" stroke="#fff" stroke-width="0.25"/>
<circle cx="616.9" cy="72.1" r="0.95" fill="#a2538c" fill-opacity="0.88" stroke="#fff" stroke-width="0.25"/>
<circle cx="621.4" cy="73.0" r="0.95" fill="#a2538c" fill-opacity="0.88" stroke="#fff" stroke-width="0.25"/>
<circle cx="602.2" cy="111.1" r="0.95" fill="#a2538c" fill-opacity="0.88" stroke="#fff" stroke-width="0.25"/>
<circle cx="617.3" cy="81.1" r="0.95" fill="#a2538c" fill-opacity="0.88" stroke="#fff" stroke-width="0.25"/>
<circle cx="634.4" cy="70.8" r="0.95" fill="#a2538c" fill-opacity="0.88" stroke="#fff" stroke-width="0.25"/>
<circle cx="618.1" cy="56.4" r="0.95" fill="#a2538c" fill-opacity="0.88" stroke="#fff" stroke-width="0.25"/>
<circle cx="599.1" cy="53.3" r="0.95" fill="#a2538c" fill-opacity="0.88" stroke="#fff" stroke-width="0.25"/>
<circle cx="615.5" cy="58.8" r="0.95" fill="#a2538c" fill-opacity="0.88" stroke="#fff" stroke-width="0.25"/>
<circle cx="624.2" cy="93.5" r="0.95" fill="#a2538c" fill-opacity="0.88" stroke="#fff" stroke-width="0.25"/>
<circle cx="612.3" cy="107.4" r="0.95" fill="#a2538c" fill-opacity="0.88" stroke="#fff" stroke-width="0.25"/>
<circle cx="599.8" cy="70.3" r="0.95" fill="#a2538c" fill-opacity="0.88" stroke="#fff" stroke-width="0.25"/>
<circle cx="628.0" cy="77.6" r="0.95" fill="#a2538c" fill-opacity="0.88" stroke="#fff" stroke-width="0.25"/>
<circle cx="590.6" cy="65.0" r="0.95" fill="#a2538c" fill-opacity="0.88" stroke="#fff" stroke-width="0.25"/>
<circle cx="614.1" cy="79.6" r="0.95" fill="#a2538c" fill-opacity="0.88" stroke="#fff" stroke-width="0.25"/>
<circle cx="607.1" cy="75.0" r="0.95" fill="#a2538c" fill-opacity="0.88" stroke="#fff" stroke-width="0.25"/>
<circle cx="591.4" cy="98.0" r="0.95" fill="#a2538c" fill-opacity="0.88" stroke="#fff" stroke-width="0.25"/>
<circle cx="623.7" cy="71.9" r="0.95" fill="#a2538c" fill-opacity="0.88" stroke="#fff" stroke-width="0.25"/>
<circle cx="612.0" cy="83.9" r="0.95" fill="#a2538c" fill-opacity="0.88" stroke="#fff" stroke-width="0.25"/>
<circle cx="591.8" cy="73.3" r="0.95" fill="#a2538c" fill-opacity="0.88" stroke="#fff" stroke-width="0.25"/>
<circle cx="615.4" cy="71.8" r="0.95" fill="#a2538c" fill-opacity="0.88" stroke="#fff" stroke-width="0.25"/>
<circle cx="601.6" cy="79.5" r="0.95" fill="#a2538c" fill-opacity="0.88" stroke="#fff" stroke-width="0.25"/>
<circle cx="581.9" cy="73.7" r="0.95" fill="#a2538c" fill-opacity="0.88" stroke="#fff" stroke-width="0.25"/>
<circle cx="598.1" cy="78.1" r="0.95" fill="#a2538c" fill-opacity="0.88" stroke="#fff" stroke-width="0.25"/>
<circle cx="610.9" cy="67.8" r="0.95" fill="#a2538c" fill-opacity="0.88" stroke="#fff" stroke-width="0.25"/>
<circle cx="615.9" cy="71.2" r="0.95" fill="#a2538c" fill-opacity="0.88" stroke="#fff" stroke-width="0.25"/>
<circle cx="609.6" cy="85.3" r="0.95" fill="#a2538c" fill-opacity="0.88" stroke="#fff" stroke-width="0.25"/>
<circle cx="608.0" cy="85.8" r="0.95" fill="#a2538c" fill-opacity="0.88" stroke="#fff" stroke-width="0.25"/>
<circle cx="613.6" cy="54.6" r="0.95" fill="#a2538c" fill-opacity="0.88" stroke="#fff" stroke-width="0.25"/>
<circle cx="604.5" cy="79.3" r="0.95" fill="#a2538c" fill-opacity="0.88" stroke="#fff" stroke-width="0.25"/>
<circle cx="623.1" cy="64.6" r="0.95" fill="#a2538c" fill-opacity="0.88" stroke="#fff" stroke-width="0.25"/>
<circle cx="609.3" cy="72.7" r="0.95" fill="#a2538c" fill-opacity="0.88" stroke="#fff" stroke-width="0.25"/>
<circle cx="611.3" cy="85.5" r="0.95" fill="#a2538c" fill-opacity="0.88" stroke="#fff" stroke-width="0.25"/>
<circle cx="614.6" cy="88.0" r="0.95" fill="#a2538c" fill-opacity="0.88" stroke="#fff" stroke-width="0.25"/>
<circle cx="593.2" cy="76.3" r="0.95" fill="#a2538c" fill-opacity="0.88" stroke="#fff" stroke-width="0.25"/>
<circle cx="597.9" cy="74.5" r="0.95" fill="#a2538c" fill-opacity="0.88" stroke="#fff" stroke-width="0.25"/>
<circle cx="627.8" cy="69.7" r="0.95" fill="#a2538c" fill-opacity="0.88" stroke="#fff" stroke-width="0.25"/>
<circle cx="611.8" cy="94.9" r="0.95" fill="#a2538c" fill-opacity="0.88" stroke="#fff" stroke-width="0.25"/>
<circle cx="603.6" cy="85.9" r="0.95" fill="#a2538c" fill-opacity="0.88" stroke="#fff" stroke-width="0.25"/>
<circle cx="611.9" cy="79.2" r="0.95" fill="#a2538c" fill-opacity="0.88" stroke="#fff" stroke-width="0.25"/>
<circle cx="600.9" cy="56.5" r="0.95" fill="#a2538c" fill-opacity="0.88" stroke="#fff" stroke-width="0.25"/>
<circle cx="611.1" cy="109.6" r="0.95" fill="#a2538c" fill-opacity="0.88" stroke="#fff" stroke-width="0.25"/>
<circle cx="598.5" cy="72.1" r="0.95" fill="#a2538c" fill-opacity="0.88" stroke="#fff" stroke-width="0.25"/>
<circle cx="611.1" cy="85.2" r="0.95" fill="#a2538c" fill-opacity="0.88" stroke="#fff" stroke-width="0.25"/>
<circle cx="586.3" cy="72.2" r="0.95" fill="#a2538c" fill-opacity="0.88" stroke="#fff" stroke-width="0.25"/>
<circle cx="625.2" cy="84.5" r="0.95" fill="#a2538c" fill-opacity="0.88" stroke="#fff" stroke-width="0.25"/>
<circle cx="600.5" cy="73.1" r="0.95" fill="#a2538c" fill-opacity="0.88" stroke="#fff" stroke-width="0.25"/>
<circle cx="586.2" cy="57.0" r="0.95" fill="#a2538c" fill-opacity="0.88" stroke="#fff" stroke-width="0.25"/>
<circle cx="604.4" cy="73.2" r="0.95" fill="#a2538c" fill-opacity="0.88" stroke="#fff" stroke-width="0.25"/>
<circle cx="602.4" cy="72.1" r="0.95" fill="#a2538c" fill-opacity="0.88" stroke="#fff" stroke-width="0.25"/>
<circle cx="612.3" cy="74.7" r="0.95" fill="#ee9a52" fill-opacity="0.88" stroke="#fff" stroke-width="0.25"/>
<circle cx="597.3" cy="91.7" r="0.95" fill="#ee9a52" fill-opacity="0.88" stroke="#fff" stroke-width="0.25"/>
<circle cx="614.6" cy="91.5" r="0.95" fill="#ee9a52" fill-opacity="0.88" stroke="#fff" stroke-width="0.25"/>
<circle cx="604.6" cy="89.0" r="0.95" fill="#ee9a52" fill-opacity="0.88" stroke="#fff" stroke-width="0.25"/>
<circle cx="596.5" cy="73.2" r="0.95" fill="#ee9a52" fill-opacity="0.88" stroke="#fff" stroke-width="0.25"/>
<circle cx="606.8" cy="74.0" r="0.95" fill="#ee9a52" fill-opacity="0.88" stroke="#fff" stroke-width="0.25"/>
<circle cx="604.3" cy="87.9" r="0.95" fill="#ee9a52" fill-opacity="0.88" stroke="#fff" stroke-width="0.25"/>
<circle cx="617.4" cy="68.1" r="0.95" fill="#ee9a52" fill-opacity="0.88" stroke="#fff" stroke-width="0.25"/>
<circle cx="606.8" cy="67.4" r="0.95" fill="#ee9a52" fill-opacity="0.88" stroke="#fff" stroke-width="0.25"/>
<circle cx="600.3" cy="75.6" r="0.95" fill="#ee9a52" fill-opacity="0.88" stroke="#fff" stroke-width="0.25"/>
<circle cx="626.8" cy="64.0" r="0.95" fill="#ee9a52" fill-opacity="0.88" stroke="#fff" stroke-width="0.25"/>
<circle cx="620.6" cy="81.8" r="0.95" fill="#ee9a52" fill-opacity="0.88" stroke="#fff" stroke-width="0.25"/>
<circle cx="624.3" cy="79.5" r="0.95" fill="#ee9a52" fill-opacity="0.88" stroke="#fff" stroke-width="0.25"/>
<circle cx="615.5" cy="71.6" r="0.95" fill="#ee9a52" fill-opacity="0.88" stroke="#fff" stroke-width="0.25"/>
<circle cx="605.9" cy="78.4" r="0.95" fill="#ee9a52" fill-opacity="0.88" stroke="#fff" stroke-width="0.25"/>
<circle cx="601.8" cy="67.3" r="0.95" fill="#ee9a52" fill-opacity="0.88" stroke="#fff" stroke-width="0.25"/>
<circle cx="603.6" cy="94.7" r="0.95" fill="#ee9a52" fill-opacity="0.88" stroke="#fff" stroke-width="0.25"/>
<circle cx="620.0" cy="58.8" r="0.95" fill="#ee9a52" fill-opacity="0.88" stroke="#fff" stroke-width="0.25"/>
<circle cx="608.9" cy="88.4" r="0.95" fill="#ee9a52" fill-opacity="0.88" stroke="#fff" stroke-width="0.25"/>
<circle cx="587.5" cy="80.1" r="0.95" fill="#ee9a52" fill-opacity="0.88" stroke="#fff" stroke-width="0.25"/>
<circle cx="606.8" cy="96.4" r="0.95" fill="#ee9a52" fill-opacity="0.88" stroke="#fff" stroke-width="0.25"/>
<circle cx="588.4" cy="69.9" r="0.95" fill="#ee9a52" fill-opacity="0.88" stroke="#fff" stroke-width="0.25"/>
<circle cx="609.6" cy="60.9" r="0.95" fill="#ee9a52" fill-opacity="0.88" stroke="#fff" stroke-width="0.25"/>
<circle cx="591.3" cy="63.6" r="0.95" fill="#ee9a52" fill-opacity="0.88" stroke="#fff" stroke-width="0.25"/>
<circle cx="590.5" cy="66.8" r="0.95" fill="#ee9a52" fill-opacity="0.88" stroke="#fff" stroke-width="0.25"/>
<circle cx="608.9" cy="98.8" r="0.95" fill="#ee9a52" fill-opacity="0.88" stroke="#fff" stroke-width="0.25"/>
<circle cx="606.3" cy="88.4" r="0.95" fill="#ee9a52" fill-opacity="0.88" stroke="#fff" stroke-width="0.25"/>
<circle cx="585.1" cy="84.1" r="0.95" fill="#ee9a52" fill-opacity="0.88" stroke="#fff" stroke-width="0.25"/>
<circle cx="617.4" cy="90.5" r="0.95" fill="#ee9a52" fill-opacity="0.88" stroke="#fff" stroke-width="0.25"/>
<circle cx="636.3" cy="62.9" r="0.95" fill="#ee9a52" fill-opacity="0.88" stroke="#fff" stroke-width="0.25"/>
<circle cx="587.5" cy="75.5" r="0.95" fill="#ee9a52" fill-opacity="0.88" stroke="#fff" stroke-width="0.25"/>
<circle cx="631.7" cy="78.3" r="0.95" fill="#ee9a52" fill-opacity="0.88" stroke="#fff" stroke-width="0.25"/>
<circle cx="598.2" cy="71.4" r="0.95" fill="#ee9a52" fill-opacity="0.88" stroke="#fff" stroke-width="0.25"/>
<circle cx="600.8" cy="90.7" r="0.95" fill="#ee9a52" fill-opacity="0.88" stroke="#fff" stroke-width="0.25"/>
<circle cx="605.0" cy="90.1" r="0.95" fill="#ee9a52" fill-opacity="0.88" stroke="#fff" stroke-width="0.25"/>
<circle cx="588.0" cy="89.8" r="0.95" fill="#ee9a52" fill-opacity="0.88" stroke="#fff" stroke-width="0.25"/>
<circle cx="624.7" cy="71.3" r="0.95" fill="#ee9a52" fill-opacity="0.88" stroke="#fff" stroke-width="0.25"/>
<circle cx="614.0" cy="73.4" r="0.95" fill="#ee9a52" fill-opacity="0.88" stroke="#fff" stroke-width="0.25"/>
<circle cx="597.3" cy="70.2" r="0.95" fill="#ee9a52" fill-opacity="0.88" stroke="#fff" stroke-width="0.25"/>
<circle cx="603.7" cy="63.5" r="0.95" fill="#ee9a52" fill-opacity="0.88" stroke="#fff" stroke-width="0.25"/>
<circle cx="587.1" cy="96.1" r="0.95" fill="#ee9a52" fill-opacity="0.88" stroke="#fff" stroke-width="0.25"/>
<circle cx="602.7" cy="85.5" r="0.95" fill="#ee9a52" fill-opacity="0.88" stroke="#fff" stroke-width="0.25"/>
<circle cx="619.9" cy="76.0" r="0.95" fill="#ee9a52" fill-opacity="0.88" stroke="#fff" stroke-width="0.25"/>
<circle cx="584.4" cy="96.0" r="0.95" fill="#ee9a52" fill-opacity="0.88" stroke="#fff" stroke-width="0.25"/>
<circle cx="601.5" cy="85.1" r="0.95" fill="#ee9a52" fill-opacity="0.88" stroke="#fff" stroke-width="0.25"/>
<circle cx="609.3" cy="64.4" r="0.95" fill="#ee9a52" fill-opacity="0.88" stroke="#fff" stroke-width="0.25"/>
<circle cx="621.4" cy="63.2" r="0.95" fill="#ee9a52" fill-opacity="0.88" stroke="#fff" stroke-width="0.25"/>
<circle cx="625.4" cy="63.5" r="0.95" fill="#ee9a52" fill-opacity="0.88" stroke="#fff" stroke-width="0.25"/>
<circle cx="601.2" cy="77.4" r="0.95" fill="#ee9a52" fill-opacity="0.88" stroke="#fff" stroke-width="0.25"/>
<circle cx="597.5" cy="80.8" r="0.95" fill="#ee9a52" fill-opacity="0.88" stroke="#fff" stroke-width="0.25"/>
<circle cx="613.4" cy="63.5" r="0.95" fill="#ee9a52" fill-opacity="0.88" stroke="#fff" stroke-width="0.25"/>
<circle cx="602.5" cy="82.9" r="0.95" fill="#ee9a52" fill-opacity="0.88" stroke="#fff" stroke-width="0.25"/>
<circle cx="603.2" cy="73.4" r="0.95" fill="#ee9a52" fill-opacity="0.88" stroke="#fff" stroke-width="0.25"/>
<circle cx="621.8" cy="60.2" r="0.95" fill="#ee9a52" fill-opacity="0.88" stroke="#fff" stroke-width="0.25"/>
<circle cx="630.0" cy="82.9" r="0.95" fill="#ee9a52" fill-opacity="0.88" stroke="#fff" stroke-width="0.25"/>
<circle cx="610.9" cy="86.1" r="0.95" fill="#ee9a52" fill-opacity="0.88" stroke="#fff" stroke-width="0.25"/>
<circle cx="604.8" cy="78.1" r="0.95" fill="#ee9a52" fill-opacity="0.88" stroke="#fff" stroke-width="0.25"/>
<circle cx="615.0" cy="69.9" r="0.95" fill="#ee9a52" fill-opacity="0.88" stroke="#fff" stroke-width="0.25"/>
<circle cx="582.1" cy="71.5" r="0.95" fill="#ee9a52" fill-opacity="0.88" stroke="#fff" stroke-width="0.25"/>
<circle cx="607.1" cy="75.9" r="0.95" fill="#ee9a52" fill-opacity="0.88" stroke="#fff" stroke-width="0.25"/>
<circle cx="593.2" cy="70.5" r="0.95" fill="#ee9a52" fill-opacity="0.88" stroke="#fff" stroke-width="0.25"/>
<circle cx="639.3" cy="99.4" r="0.95" fill="#ee9a52" fill-opacity="0.88" stroke="#fff" stroke-width="0.25"/>
<circle cx="617.0" cy="89.5" r="0.95" fill="#ee9a52" fill-opacity="0.88" stroke="#fff" stroke-width="0.25"/>
<circle cx="609.3" cy="75.8" r="0.95" fill="#ee9a52" fill-opacity="0.88" stroke="#fff" stroke-width="0.25"/>
<circle cx="604.8" cy="90.4" r="0.95" fill="#ee9a52" fill-opacity="0.88" stroke="#fff" stroke-width="0.25"/>
<circle cx="573.7" cy="95.9" r="0.95" fill="#ee9a52" fill-opacity="0.88" stroke="#fff" stroke-width="0.25"/>
<circle cx="616.9" cy="94.1" r="0.95" fill="#ee9a52" fill-opacity="0.88" stroke="#fff" stroke-width="0.25"/>
<circle cx="629.2" cy="90.2" r="0.95" fill="#ee9a52" fill-opacity="0.88" stroke="#fff" stroke-width="0.25"/>
<circle cx="597.6" cy="80.3" r="0.95" fill="#ee9a52" fill-opacity="0.88" stroke="#fff" stroke-width="0.25"/>
<circle cx="616.5" cy="91.6" r="0.95" fill="#ee9a52" fill-opacity="0.88" stroke="#fff" stroke-width="0.25"/>
<circle cx="617.0" cy="74.8" r="0.95" fill="#ee9a52" fill-opacity="0.88" stroke="#fff" stroke-width="0.25"/>
<circle cx="586.7" cy="55.2" r="0.95" fill="#ee9a52" fill-opacity="0.88" stroke="#fff" stroke-width="0.25"/>
<circle cx="619.9" cy="79.9" r="0.95" fill="#ee9a52" fill-opacity="0.88" stroke="#fff" stroke-width="0.25"/>
<circle cx="625.5" cy="60.9" r="0.95" fill="#ee9a52" fill-opacity="0.88" stroke="#fff" stroke-width="0.25"/>
<circle cx="610.4" cy="74.1" r="0.95" fill="#ee9a52" fill-opacity="0.88" stroke="#fff" stroke-width="0.25"/>
<circle cx="606.5" cy="93.0" r="0.95" fill="#ee9a52" fill-opacity="0.88" stroke="#fff" stroke-width="0.25"/>
<circle cx="617.9" cy="81.4" r="0.95" fill="#ee9a52" fill-opacity="0.88" stroke="#fff" stroke-width="0.25"/>
<circle cx="586.8" cy="91.1" r="0.95" fill="#ee9a52" fill-opacity="0.88" stroke="#fff" stroke-width="0.25"/>
<circle cx="608.6" cy="67.6" r="0.95" fill="#ee9a52" fill-opacity="0.88" stroke="#fff" stroke-width="0.25"/>
<circle cx="621.5" cy="93.4" r="0.95" fill="#ee9a52" fill-opacity="0.88" stroke="#fff" stroke-width="0.25"/>
<circle cx="590.7" cy="60.2" r="0.95" fill="#ee9a52" fill-opacity="0.88" stroke="#fff" stroke-width="0.25"/>
<circle cx="620.6" cy="70.2" r="0.95" fill="#ee9a52" fill-opacity="0.88" stroke="#fff" stroke-width="0.25"/>
<circle cx="601.8" cy="105.0" r="0.95" fill="#ee9a52" fill-opacity="0.88" stroke="#fff" stroke-width="0.25"/>
<circle cx="579.5" cy="67.4" r="0.95" fill="#ee9a52" fill-opacity="0.88" stroke="#fff" stroke-width="0.25"/>
<circle cx="605.9" cy="57.1" r="0.95" fill="#ee9a52" fill-opacity="0.88" stroke="#fff" stroke-width="0.25"/>
<circle cx="594.4" cy="88.5" r="0.95" fill="#ee9a52" fill-opacity="0.88" stroke="#fff" stroke-width="0.25"/>
<circle cx="611.6" cy="64.7" r="0.95" fill="#ee9a52" fill-opacity="0.88" stroke="#fff" stroke-width="0.25"/>
<circle cx="591.7" cy="102.0" r="0.95" fill="#ee9a52" fill-opacity="0.88" stroke="#fff" stroke-width="0.25"/>
<circle cx="621.4" cy="74.6" r="0.95" fill="#ee9a52" fill-opacity="0.88" stroke="#fff" stroke-width="0.25"/>
<circle cx="597.5" cy="100.2" r="0.95" fill="#ee9a52" fill-opacity="0.88" stroke="#fff" stroke-width="0.25"/>
<circle cx="612.1" cy="71.5" r="0.95" fill="#ee9a52" fill-opacity="0.88" stroke="#fff" stroke-width="0.25"/>
<circle cx="599.4" cy="101.9" r="0.95" fill="#ee9a52" fill-opacity="0.88" stroke="#fff" stroke-width="0.25"/>
<circle cx="603.0" cy="113.2" r="0.95" fill="#ee9a52" fill-opacity="0.88" stroke="#fff" stroke-width="0.25"/>
<circle cx="623.3" cy="72.6" r="0.95" fill="#ee9a52" fill-opacity="0.88" stroke="#fff" stroke-width="0.25"/>
<circle cx="610.2" cy="47.3" r="0.95" fill="#ee9a52" fill-opacity="0.88" stroke="#fff" stroke-width="0.25"/>
<circle cx="602.1" cy="85.9" r="0.95" fill="#ee9a52" fill-opacity="0.88" stroke="#fff" stroke-width="0.25"/>
<circle cx="590.6" cy="66.8" r="0.95" fill="#ee9a52" fill-opacity="0.88" stroke="#fff" stroke-width="0.25"/>
<circle cx="622.9" cy="76.5" r="0.95" fill="#ee9a52" fill-opacity="0.88" stroke="#fff" stroke-width="0.25"/>
<circle cx="617.2" cy="82.3" r="0.95" fill="#ee9a52" fill-opacity="0.88" stroke="#fff" stroke-width="0.25"/>
<circle cx="603.0" cy="69.7" r="0.95" fill="#ee9a52" fill-opacity="0.88" stroke="#fff" stroke-width="0.25"/>
<circle cx="629.3" cy="72.3" r="0.95" fill="#62bd9f" fill-opacity="0.88" stroke="#fff" stroke-width="0.25"/>
<circle cx="590.8" cy="80.4" r="0.95" fill="#62bd9f" fill-opacity="0.88" stroke="#fff" stroke-width="0.25"/>
<circle cx="614.9" cy="50.5" r="0.95" fill="#62bd9f" fill-opacity="0.88" stroke="#fff" stroke-width="0.25"/>
<circle cx="612.0" cy="77.8" r="0.95" fill="#62bd9f" fill-opacity="0.88" stroke="#fff" stroke-width="0.25"/>
<circle cx="588.3" cy="92.6" r="0.95" fill="#62bd9f" fill-opacity="0.88" stroke="#fff" stroke-width="0.25"/>
<circle cx="629.0" cy="68.9" r="0.95" fill="#62bd9f" fill-opacity="0.88" stroke="#fff" stroke-width="0.25"/>
<circle cx="633.4" cy="90.0" r="0.95" fill="#62bd9f" fill-opacity="0.88" stroke="#fff" stroke-width="0.25"/>
<circle cx="594.6" cy="84.6" r="0.95" fill="#62bd9f" fill-opacity="0.88" stroke="#fff" stroke-width="0.25"/>
<circle cx="630.6" cy="73.6" r="0.95" fill="#62bd9f" fill-opacity="0.88" stroke="#fff" stroke-width="0.25"/>
<circle cx="608.1" cy="79.6" r="0.95" fill="#62bd9f" fill-opacity="0.88" stroke="#fff" stroke-width="0.25"/>
<circle cx="605.2" cy="88.2" r="0.95" fill="#62bd9f" fill-opacity="0.88" stroke="#fff" stroke-width="0.25"/>
<circle cx="627.5" cy="85.3" r="0.95" fill="#62bd9f" fill-opacity="0.88" stroke="#fff" stroke-width="0.25"/>
<circle cx="610.4" cy="85.9" r="0.95" fill="#62bd9f" fill-opacity="0.88" stroke="#fff" stroke-width="0.25"/>
<circle cx="611.7" cy="62.3" r="0.95" fill="#62bd9f" fill-opacity="0.88" stroke="#fff" stroke-width="0.25"/>
<circle cx="627.7" cy="87.6" r="0.95" fill="#62bd9f" fill-opacity="0.88" stroke="#fff" stroke-width="0.25"/>
<circle cx="624.6" cy="85.6" r="0.95" fill="#62bd9f" fill-opacity="0.88" stroke="#fff" stroke-width="0.25"/>
<circle cx="619.3" cy="50.6" r="0.95" fill="#62bd9f" fill-opacity="0.88" stroke="#fff" stroke-width="0.25"/>
<circle cx="588.6" cy="85.4" r="0.95" fill="#62bd9f" fill-opacity="0.88" stroke="#fff" stroke-width="0.25"/>
<circle cx="586.3" cy="58.0" r="0.95" fill="#62bd9f" fill-opacity="0.88" stroke="#fff" stroke-width="0.25"/>
<circle cx="622.4" cy="60.3" r="0.95" fill="#62bd9f" fill-opacity="0.88" stroke="#fff" stroke-width="0.25"/>
<circle cx="595.0" cy="80.0" r="0.95" fill="#62bd9f" fill-opacity="0.88" stroke="#fff" stroke-width="0.25"/>
<circle cx="609.3" cy="97.0" r="0.95" fill="#62bd9f" fill-opacity="0.88" stroke="#fff" stroke-width="0.25"/>
<circle cx="593.0" cy="71.9" r="0.95" fill="#62bd9f" fill-opacity="0.88" stroke="#fff" stroke-width="0.25"/>
<circle cx="604.9" cy="68.9" r="0.95" fill="#62bd9f" fill-opacity="0.88" stroke="#fff" stroke-width="0.25"/>
<circle cx="590.3" cy="65.0" r="0.95" fill="#62bd9f" fill-opacity="0.88" stroke="#fff" stroke-width="0.25"/>
<circle cx="629.2" cy="77.0" r="0.95" fill="#62bd9f" fill-opacity="0.88" stroke="#fff" stroke-width="0.25"/>
<circle cx="593.7" cy="61.8" r="0.95" fill="#62bd9f" fill-opacity="0.88" stroke="#fff" stroke-width="0.25"/>
<circle cx="605.7" cy="59.3" r="0.95" fill="#62bd9f" fill-opacity="0.88" stroke="#fff" stroke-width="0.25"/>
<circle cx="604.8" cy="92.1" r="0.95" fill="#62bd9f" fill-opacity="0.88" stroke="#fff" stroke-width="0.25"/>
<circle cx="623.5" cy="58.8" r="0.95" fill="#62bd9f" fill-opacity="0.88" stroke="#fff" stroke-width="0.25"/>
<circle cx="588.4" cy="75.6" r="0.95" fill="#62bd9f" fill-opacity="0.88" stroke="#fff" stroke-width="0.25"/>
<circle cx="606.9" cy="85.5" r="0.95" fill="#62bd9f" fill-opacity="0.88" stroke="#fff" stroke-width="0.25"/>
<circle cx="604.6" cy="82.2" r="0.95" fill="#62bd9f" fill-opacity="0.88" stroke="#fff" stroke-width="0.25"/>
<circle cx="614.4" cy="52.8" r="0.95" fill="#62bd9f" fill-opacity="0.88" stroke="#fff" stroke-width="0.25"/>
<circle cx="613.7" cy="64.8" r="0.95" fill="#62bd9f" fill-opacity="0.88" stroke="#fff" stroke-width="0.25"/>
<circle cx="601.2" cy="101.9" r="0.95" fill="#62bd9f" fill-opacity="0.88" stroke="#fff" stroke-width="0.25"/>
<circle cx="610.6" cy="76.8" r="0.95" fill="#62bd9f" fill-opacity="0.88" stroke="#fff" stroke-width="0.25"/>
<circle cx="602.4" cy="79.8" r="0.95" fill="#62bd9f" fill-opacity="0.88" stroke="#fff" stroke-width="0.25"/>
<circle cx="613.6" cy="80.3" r="0.95" fill="#62bd9f" fill-opacity="0.88" stroke="#fff" stroke-width="0.25"/>
<circle cx="606.0" cy="84.8" r="0.95" fill="#62bd9f" fill-opacity="0.88" stroke="#fff" stroke-width="0.25"/>
<circle cx="598.6" cy="97.5" r="0.95" fill="#62bd9f" fill-opacity="0.88" stroke="#fff" stroke-width="0.25"/>
<circle cx="607.0" cy="66.4" r="0.95" fill="#62bd9f" fill-opacity="0.88" stroke="#fff" stroke-width="0.25"/>
<circle cx="612.2" cy="90.5" r="0.95" fill="#62bd9f" fill-opacity="0.88" stroke="#fff" stroke-width="0.25"/>
<circle cx="637.7" cy="82.9" r="0.95" fill="#62bd9f" fill-opacity="0.88" stroke="#fff" stroke-width="0.25"/>
<circle cx="600.8" cy="86.0" r="0.95" fill="#62bd9f" fill-opacity="0.88" stroke="#fff" stroke-width="0.25"/>
<circle cx="611.5" cy="87.7" r="0.95" fill="#62bd9f" fill-opacity="0.88" stroke="#fff" stroke-width="0.25"/>
<circle cx="626.9" cy="68.0" r="0.95" fill="#62bd9f" fill-opacity="0.88" stroke="#fff" stroke-width="0.25"/>
<circle cx="579.6" cy="72.8" r="0.95" fill="#62bd9f" fill-opacity="0.88" stroke="#fff" stroke-width="0.25"/>
<circle cx="584.0" cy="87.0" r="0.95" fill="#62bd9f" fill-opacity="0.88" stroke="#fff" stroke-width="0.25"/>
<circle cx="591.5" cy="90.6" r="0.95" fill="#62bd9f" fill-opacity="0.88" stroke="#fff" stroke-width="0.25"/>
<circle cx="605.8" cy="84.2" r="0.95" fill="#62bd9f" fill-opacity="0.88" stroke="#fff" stroke-width="0.25"/>
<circle cx="640.0" cy="65.0" r="0.95" fill="#62bd9f" fill-opacity="0.88" stroke="#fff" stroke-width="0.25"/>
<circle cx="612.6" cy="76.3" r="0.95" fill="#62bd9f" fill-opacity="0.88" stroke="#fff" stroke-width="0.25"/>
<circle cx="623.5" cy="74.8" r="0.95" fill="#62bd9f" fill-opacity="0.88" stroke="#fff" stroke-width="0.25"/>
<circle cx="604.4" cy="82.3" r="0.95" fill="#62bd9f" fill-opacity="0.88" stroke="#fff" stroke-width="0.25"/>
<circle cx="574.4" cy="81.4" r="0.95" fill="#62bd9f" fill-opacity="0.88" stroke="#fff" stroke-width="0.25"/>
<circle cx="576.4" cy="75.0" r="0.95" fill="#62bd9f" fill-opacity="0.88" stroke="#fff" stroke-width="0.25"/>
<circle cx="621.0" cy="102.7" r="0.95" fill="#62bd9f" fill-opacity="0.88" stroke="#fff" stroke-width="0.25"/>
<circle cx="609.8" cy="56.3" r="0.95" fill="#62bd9f" fill-opacity="0.88" stroke="#fff" stroke-width="0.25"/>
<circle cx="590.0" cy="88.5" r="0.95" fill="#62bd9f" fill-opacity="0.88" stroke="#fff" stroke-width="0.25"/>
<circle cx="622.3" cy="85.6" r="0.95" fill="#62bd9f" fill-opacity="0.88" stroke="#fff" stroke-width="0.25"/>
<circle cx="586.8" cy="60.0" r="0.95" fill="#62bd9f" fill-opacity="0.88" stroke="#fff" stroke-width="0.25"/>
<circle cx="622.5" cy="75.0" r="0.95" fill="#62bd9f" fill-opacity="0.88" stroke="#fff" stroke-width="0.25"/>
<circle cx="626.8" cy="77.4" r="0.95" fill="#62bd9f" fill-opacity="0.88" stroke="#fff" stroke-width="0.25"/>
<circle cx="597.1" cy="85.8" r="0.95" fill="#62bd9f" fill-opacity="0.88" stroke="#fff" stroke-width="0.25"/>
<circle cx="592.5" cy="98.9" r="0.95" fill="#62bd9f" fill-opacity="0.88" stroke="#fff" stroke-width="0.25"/>
<circle cx="618.7" cy="75.5" r="0.95" fill="#62bd9f" fill-opacity="0.88" stroke="#fff" stroke-width="0.25"/>
<circle cx="592.7" cy="61.9" r="0.95" fill="#62bd9f" fill-opacity="0.88" stroke="#fff" stroke-width="0.25"/>
<circle cx="618.9" cy="90.0" r="0.95" fill="#62bd9f" fill-opacity="0.88" stroke="#fff" stroke-width="0.25"/>
<circle cx="591.4" cy="59.7" r="0.95" fill="#62bd9f" fill-opacity="0.88" stroke="#fff" stroke-width="0.25"/>
<circle cx="618.2" cy="93.0" r="0.95" fill="#62bd9f" fill-opacity="0.88" stroke="#fff" stroke-width="0.25"/>
<circle cx="608.6" cy="87.8" r="0.95" fill="#62bd9f" fill-opacity="0.88" stroke="#fff" stroke-width="0.25"/>
<circle cx="601.6" cy="71.2" r="0.95" fill="#62bd9f" fill-opacity="0.88" stroke="#fff" stroke-width="0.25"/>
<circle cx="595.4" cy="77.9" r="0.95" fill="#62bd9f" fill-opacity="0.88" stroke="#fff" stroke-width="0.25"/>
<circle cx="610.5" cy="68.7" r="0.95" fill="#62bd9f" fill-opacity="0.88" stroke="#fff" stroke-width="0.25"/>
<circle cx="582.0" cy="87.9" r="0.95" fill="#62bd9f" fill-opacity="0.88" stroke="#fff" stroke-width="0.25"/>
<circle cx="603.7" cy="91.8" r="0.95" fill="#62bd9f" fill-opacity="0.88" stroke="#fff" stroke-width="0.25"/>
<circle cx="602.1" cy="103.0" r="0.95" fill="#62bd9f" fill-opacity="0.88" stroke="#fff" stroke-width="0.25"/>
<circle cx="616.4" cy="94.1" r="0.95" fill="#62bd9f" fill-opacity="0.88" stroke="#fff" stroke-width="0.25"/>
<circle cx="590.6" cy="92.4" r="0.95" fill="#62bd9f" fill-opacity="0.88" stroke="#fff" stroke-width="0.25"/>
<circle cx="630.3" cy="97.1" r="0.95" fill="#62bd9f" fill-opacity="0.88" stroke="#fff" stroke-width="0.25"/>
<circle cx="603.2" cy="73.8" r="0.95" fill="#62bd9f" fill-opacity="0.88" stroke="#fff" stroke-width="0.25"/>
<circle cx="592.1" cy="86.8" r="0.95" fill="#62bd9f" fill-opacity="0.88" stroke="#fff" stroke-width="0.25"/>
<circle cx="625.9" cy="104.6" r="0.95" fill="#62bd9f" fill-opacity="0.88" stroke="#fff" stroke-width="0.25"/>
<circle cx="629.6" cy="44.7" r="0.95" fill="#62bd9f" fill-opacity="0.88" stroke="#fff" stroke-width="0.25"/>
<circle cx="604.8" cy="89.1" r="0.95" fill="#62bd9f" fill-opacity="0.88" stroke="#fff" stroke-width="0.25"/>
<circle cx="595.4" cy="94.8" r="0.95" fill="#62bd9f" fill-opacity="0.88" stroke="#fff" stroke-width="0.25"/>
<circle cx="607.6" cy="61.3" r="0.95" fill="#62bd9f" fill-opacity="0.88" stroke="#fff" stroke-width="0.25"/>
<circle cx="598.1" cy="62.3" r="0.95" fill="#62bd9f" fill-opacity="0.88" stroke="#fff" stroke-width="0.25"/>
<circle cx="603.2" cy="93.4" r="0.95" fill="#62bd9f" fill-opacity="0.88" stroke="#fff" stroke-width="0.25"/>
<circle cx="628.2" cy="97.7" r="0.95" fill="#62bd9f" fill-opacity="0.88" stroke="#fff" stroke-width="0.25"/>
<circle cx="612.6" cy="91.3" r="0.95" fill="#62bd9f" fill-opacity="0.88" stroke="#fff" stroke-width="0.25"/>
<circle cx="609.3" cy="62.8" r="0.95" fill="#62bd9f" fill-opacity="0.88" stroke="#fff" stroke-width="0.25"/>
<circle cx="612.0" cy="82.1" r="0.95" fill="#62bd9f" fill-opacity="0.88" stroke="#fff" stroke-width="0.25"/>
<circle cx="606.6" cy="88.8" r="0.95" fill="#62bd9f" fill-opacity="0.88" stroke="#fff" stroke-width="0.25"/>
<circle cx="618.6" cy="78.3" r="0.95" fill="#62bd9f" fill-opacity="0.88" stroke="#fff" stroke-width="0.25"/>
<circle cx="619.1" cy="61.8" r="0.95" fill="#62bd9f" fill-opacity="0.88" stroke="#fff" stroke-width="0.25"/>
<circle cx="602.4" cy="96.6" r="0.95" fill="#62bd9f" fill-opacity="0.88" stroke="#fff" stroke-width="0.25"/>
<circle cx="608.8" cy="83.1" r="0.95" fill="#62bd9f" fill-opacity="0.88" stroke="#fff" stroke-width="0.25"/>
<circle cx="639.6" cy="96.5" r="0.95" fill="#62bd9f" fill-opacity="0.88" stroke="#fff" stroke-width="0.25"/>
<circle cx="636.4" cy="66.5" r="0.95" fill="#e8765a" fill-opacity="0.88" stroke="#fff" stroke-width="0.25"/>
<circle cx="631.7" cy="72.8" r="0.95" fill="#e8765a" fill-opacity="0.88" stroke="#fff" stroke-width="0.25"/>
<circle cx="620.1" cy="45.2" r="0.95" fill="#e8765a" fill-opacity="0.88" stroke="#fff" stroke-width="0.25"/>
<circle cx="605.6" cy="76.7" r="0.95" fill="#e8765a" fill-opacity="0.88" stroke="#fff" stroke-width="0.25"/>
<circle cx="616.2" cy="84.1" r="0.95" fill="#e8765a" fill-opacity="0.88" stroke="#fff" stroke-width="0.25"/>
<circle cx="579.2" cy="75.9" r="0.95" fill="#e8765a" fill-opacity="0.88" stroke="#fff" stroke-width="0.25"/>
<circle cx="611.1" cy="96.1" r="0.95" fill="#e8765a" fill-opacity="0.88" stroke="#fff" stroke-width="0.25"/>
<circle cx="589.5" cy="71.4" r="0.95" fill="#e8765a" fill-opacity="0.88" stroke="#fff" stroke-width="0.25"/>
<circle cx="589.6" cy="79.2" r="0.95" fill="#e8765a" fill-opacity="0.88" stroke="#fff" stroke-width="0.25"/>
<circle cx="597.9" cy="73.3" r="0.95" fill="#e8765a" fill-opacity="0.88" stroke="#fff" stroke-width="0.25"/>
<circle cx="602.7" cy="72.9" r="0.95" fill="#e8765a" fill-opacity="0.88" stroke="#fff" stroke-width="0.25"/>
<circle cx="615.0" cy="91.9" r="0.95" fill="#e8765a" fill-opacity="0.88" stroke="#fff" stroke-width="0.25"/>
<circle cx="616.7" cy="60.1" r="0.95" fill="#e8765a" fill-opacity="0.88" stroke="#fff" stroke-width="0.25"/>
<circle cx="610.9" cy="91.4" r="0.95" fill="#e8765a" fill-opacity="0.88" stroke="#fff" stroke-width="0.25"/>
<circle cx="594.7" cy="65.8" r="0.95" fill="#e8765a" fill-opacity="0.88" stroke="#fff" stroke-width="0.25"/>
<circle cx="616.4" cy="99.1" r="0.95" fill="#e8765a" fill-opacity="0.88" stroke="#fff" stroke-width="0.25"/>
<circle cx="605.7" cy="72.8" r="0.95" fill="#e8765a" fill-opacity="0.88" stroke="#fff" stroke-width="0.25"/>
<circle cx="623.1" cy="88.7" r="0.95" fill="#e8765a" fill-opacity="0.88" stroke="#fff" stroke-width="0.25"/>
<circle cx="595.1" cy="77.2" r="0.95" fill="#e8765a" fill-opacity="0.88" stroke="#fff" stroke-width="0.25"/>
<circle cx="570.4" cy="86.5" r="0.95" fill="#e8765a" fill-opacity="0.88" stroke="#fff" stroke-width="0.25"/>
<circle cx="601.0" cy="107.0" r="0.95" fill="#e8765a" fill-opacity="0.88" stroke="#fff" stroke-width="0.25"/>
<circle cx="636.1" cy="92.7" r="0.95" fill="#e8765a" fill-opacity="0.88" stroke="#fff" stroke-width="0.25"/>
<circle cx="613.6" cy="76.8" r="0.95" fill="#e8765a" fill-opacity="0.88" stroke="#fff" stroke-width="0.25"/>
<circle cx="604.8" cy="69.4" r="0.95" fill="#e8765a" fill-opacity="0.88" stroke="#fff" stroke-width="0.25"/>
<circle cx="619.2" cy="97.4" r="0.95" fill="#e8765a" fill-opacity="0.88" stroke="#fff" stroke-width="0.25"/>
<circle cx="614.1" cy="106.2" r="0.95" fill="#e8765a" fill-opacity="0.88" stroke="#fff" stroke-width="0.25"/>
<circle cx="613.5" cy="89.4" r="0.95" fill="#e8765a" fill-opacity="0.88" stroke="#fff" stroke-width="0.25"/>
<circle cx="600.5" cy="80.6" r="0.95" fill="#e8765a" fill-opacity="0.88" stroke="#fff" stroke-width="0.25"/>
<circle cx="608.4" cy="86.2" r="0.95" fill="#e8765a" fill-opacity="0.88" stroke="#fff" stroke-width="0.25"/>
<circle cx="610.1" cy="88.6" r="0.95" fill="#e8765a" fill-opacity="0.88" stroke="#fff" stroke-width="0.25"/>
<circle cx="598.8" cy="66.3" r="0.95" fill="#e8765a" fill-opacity="0.88" stroke="#fff" stroke-width="0.25"/>
<circle cx="592.4" cy="64.8" r="0.95" fill="#e8765a" fill-opacity="0.88" stroke="#fff" stroke-width="0.25"/>
<circle cx="609.2" cy="67.8" r="0.95" fill="#e8765a" fill-opacity="0.88" stroke="#fff" stroke-width="0.25"/>
<circle cx="620.3" cy="90.3" r="0.95" fill="#e8765a" fill-opacity="0.88" stroke="#fff" stroke-width="0.25"/>
<circle cx="616.0" cy="76.7" r="0.95" fill="#e8765a" fill-opacity="0.88" stroke="#fff" stroke-width="0.25"/>
<circle cx="614.0" cy="80.3" r="0.95" fill="#e8765a" fill-opacity="0.88" stroke="#fff" stroke-width="0.25"/>
<circle cx="614.1" cy="96.9" r="0.95" fill="#e8765a" fill-opacity="0.88" stroke="#fff" stroke-width="0.25"/>
<circle cx="641.9" cy="65.9" r="0.95" fill="#e8765a" fill-opacity="0.88" stroke="#fff" stroke-width="0.25"/>
<circle cx="610.8" cy="76.6" r="0.95" fill="#e8765a" fill-opacity="0.88" stroke="#fff" stroke-width="0.25"/>
<circle cx="621.3" cy="84.2" r="0.95" fill="#e8765a" fill-opacity="0.88" stroke="#fff" stroke-width="0.25"/>
<circle cx="633.5" cy="58.7" r="0.95" fill="#e8765a" fill-opacity="0.88" stroke="#fff" stroke-width="0.25"/>
<circle cx="608.1" cy="67.5" r="0.95" fill="#e8765a" fill-opacity="0.88" stroke="#fff" stroke-width="0.25"/>
<circle cx="610.9" cy="66.3" r="0.95" fill="#e8765a" fill-opacity="0.88" stroke="#fff" stroke-width="0.25"/>
<circle cx="621.3" cy="61.7" r="0.95" fill="#e8765a" fill-opacity="0.88" stroke="#fff" stroke-width="0.25"/>
<circle cx="629.9" cy="68.1" r="0.95" fill="#e8765a" fill-opacity="0.88" stroke="#fff" stroke-width="0.25"/>
<circle cx="611.5" cy="94.7" r="0.95" fill="#e8765a" fill-opacity="0.88" stroke="#fff" stroke-width="0.25"/>
<circle cx="612.2" cy="83.0" r="0.95" fill="#e8765a" fill-opacity="0.88" stroke="#fff" stroke-width="0.25"/>
<circle cx="608.6" cy="64.3" r="0.95" fill="#e8765a" fill-opacity="0.88" stroke="#fff" stroke-width="0.25"/>
<circle cx="591.2" cy="88.0" r="0.95" fill="#e8765a" fill-opacity="0.88" stroke="#fff" stroke-width="0.25"/>
<circle cx="622.3" cy="77.2" r="0.95" fill="#e8765a" fill-opacity="0.88" stroke="#fff" stroke-width="0.25"/>
<circle cx="604.0" cy="72.4" r="0.95" fill="#e8765a" fill-opacity="0.88" stroke="#fff" stroke-width="0.25"/>
<circle cx="584.4" cy="58.4" r="0.95" fill="#e8765a" fill-opacity="0.88" stroke="#fff" stroke-width="0.25"/>
<circle cx="605.4" cy="60.3" r="0.95" fill="#e8765a" fill-opacity="0.88" stroke="#fff" stroke-width="0.25"/>
<circle cx="584.3" cy="65.7" r="0.95" fill="#e8765a" fill-opacity="0.88" stroke="#fff" stroke-width="0.25"/>
<circle cx="593.9" cy="80.2" r="0.95" fill="#e8765a" fill-opacity="0.88" stroke="#fff" stroke-width="0.25"/>
<circle cx="607.6" cy="65.5" r="0.95" fill="#e8765a" fill-opacity="0.88" stroke="#fff" stroke-width="0.25"/>
<circle cx="595.1" cy="70.7" r="0.95" fill="#e8765a" fill-opacity="0.88" stroke="#fff" stroke-width="0.25"/>
<circle cx="621.7" cy="79.9" r="0.95" fill="#e8765a" fill-opacity="0.88" stroke="#fff" stroke-width="0.25"/>
<circle cx="587.8" cy="59.6" r="0.95" fill="#e8765a" fill-opacity="0.88" stroke="#fff" stroke-width="0.25"/>
<circle cx="611.0" cy="71.1" r="0.95" fill="#e8765a" fill-opacity="0.88" stroke="#fff" stroke-width="0.25"/>
<circle cx="614.9" cy="87.9" r="0.95" fill="#e8765a" fill-opacity="0.88" stroke="#fff" stroke-width="0.25"/>
<circle cx="627.0" cy="60.8" r="0.95" fill="#e8765a" fill-opacity="0.88" stroke="#fff" stroke-width="0.25"/>
<circle cx="619.8" cy="81.2" r="0.95" fill="#e8765a" fill-opacity="0.88" stroke="#fff" stroke-width="0.25"/>
<circle cx="610.6" cy="69.8" r="0.95" fill="#e8765a" fill-opacity="0.88" stroke="#fff" stroke-width="0.25"/>
<circle cx="608.5" cy="98.2" r="0.95" fill="#e8765a" fill-opacity="0.88" stroke="#fff" stroke-width="0.25"/>
<circle cx="606.7" cy="78.0" r="0.95" fill="#e8765a" fill-opacity="0.88" stroke="#fff" stroke-width="0.25"/>
<circle cx="622.7" cy="90.5" r="0.95" fill="#e8765a" fill-opacity="0.88" stroke="#fff" stroke-width="0.25"/>
<circle cx="598.7" cy="90.8" r="0.95" fill="#e8765a" fill-opacity="0.88" stroke="#fff" stroke-width="0.25"/>
<circle cx="614.5" cy="103.4" r="0.95" fill="#e8765a" fill-opacity="0.88" stroke="#fff" stroke-width="0.25"/>
<circle cx="606.2" cy="49.1" r="0.95" fill="#e8765a" fill-opacity="0.88" stroke="#fff" stroke-width="0.25"/>
<circle cx="610.7" cy="79.8" r="0.95" fill="#e8765a" fill-opacity="0.88" stroke="#fff" stroke-width="0.25"/>
<circle cx="604.0" cy="74.6" r="0.95" fill="#e8765a" fill-opacity="0.88" stroke="#fff" stroke-width="0.25"/>
<circle cx="636.1" cy="63.0" r="0.95" fill="#e8765a" fill-opacity="0.88" stroke="#fff" stroke-width="0.25"/>
<circle cx="598.7" cy="79.4" r="0.95" fill="#e8765a" fill-opacity="0.88" stroke="#fff" stroke-width="0.25"/>
<circle cx="610.9" cy="70.9" r="0.95" fill="#e8765a" fill-opacity="0.88" stroke="#fff" stroke-width="0.25"/>
<circle cx="611.2" cy="96.0" r="0.95" fill="#e8765a" fill-opacity="0.88" stroke="#fff" stroke-width="0.25"/>
<circle cx="615.6" cy="75.2" r="0.95" fill="#e8765a" fill-opacity="0.88" stroke="#fff" stroke-width="0.25"/>
<circle cx="613.5" cy="83.4" r="0.95" fill="#e8765a" fill-opacity="0.88" stroke="#fff" stroke-width="0.25"/>
<circle cx="613.2" cy="71.1" r="0.95" fill="#e8765a" fill-opacity="0.88" stroke="#fff" stroke-width="0.25"/>
<circle cx="620.7" cy="75.4" r="0.95" fill="#e8765a" fill-opacity="0.88" stroke="#fff" stroke-width="0.25"/>
<circle cx="587.4" cy="96.4" r="0.95" fill="#e8765a" fill-opacity="0.88" stroke="#fff" stroke-width="0.25"/>
<circle cx="607.7" cy="102.6" r="0.95" fill="#e8765a" fill-opacity="0.88" stroke="#fff" stroke-width="0.25"/>
<circle cx="591.0" cy="91.4" r="0.95" fill="#e8765a" fill-opacity="0.88" stroke="#fff" stroke-width="0.25"/>
<circle cx="610.6" cy="67.9" r="0.95" fill="#e8765a" fill-opacity="0.88" stroke="#fff" stroke-width="0.25"/>
<circle cx="591.7" cy="72.1" r="0.95" fill="#e8765a" fill-opacity="0.88" stroke="#fff" stroke-width="0.25"/>
<circle cx="594.7" cy="72.4" r="0.95" fill="#e8765a" fill-opacity="0.88" stroke="#fff" stroke-width="0.25"/>
<circle cx="606.7" cy="104.9" r="0.95" fill="#e8765a" fill-opacity="0.88" stroke="#fff" stroke-width="0.25"/>
<circle cx="626.2" cy="113.9" r="0.95" fill="#e8765a" fill-opacity="0.88" stroke="#fff" stroke-width="0.25"/>
<circle cx="615.3" cy="86.2" r="0.95" fill="#e8765a" fill-opacity="0.88" stroke="#fff" stroke-width="0.25"/>
<circle cx="611.5" cy="82.3" r="0.95" fill="#e8765a" fill-opacity="0.88" stroke="#fff" stroke-width="0.25"/>
<circle cx="626.3" cy="85.9" r="0.95" fill="#e8765a" fill-opacity="0.88" stroke="#fff" stroke-width="0.25"/>
<circle cx="594.9" cy="73.1" r="0.95" fill="#e8765a" fill-opacity="0.88" stroke="#fff" stroke-width="0.25"/>
<circle cx="579.6" cy="80.2" r="0.95" fill="#e8765a" fill-opacity="0.88" stroke="#fff" stroke-width="0.25"/>
<circle cx="601.9" cy="93.8" r="0.95" fill="#e8765a" fill-opacity="0.88" stroke="#fff" stroke-width="0.25"/>
<circle cx="603.8" cy="89.7" r="0.95" fill="#e8765a" fill-opacity="0.88" stroke="#fff" stroke-width="0.25"/>
<circle cx="624.1" cy="76.0" r="0.95" fill="#e8765a" fill-opacity="0.88" stroke="#fff" stroke-width="0.25"/>
<circle cx="636.2" cy="76.9" r="0.95" fill="#e8765a" fill-opacity="0.88" stroke="#fff" stroke-width="0.25"/>
<circle cx="589.8" cy="78.9" r="0.95" fill="#e8765a" fill-opacity="0.88" stroke="#fff" stroke-width="0.25"/>
<circle cx="640.7" cy="47.5" r="0.95" fill="#e8765a" fill-opacity="0.88" stroke="#fff" stroke-width="0.25"/>
<circle cx="628.5" cy="81.4" r="0.95" fill="#e8765a" fill-opacity="0.88" stroke="#fff" stroke-width="0.25"/>
<rect x="368.7" y="15" width="146.60" height="105.00" fill="none" stroke="#8a8a8a" stroke-width="1.2"/>
<line x1="388.30" y1="120" x2="388.30" y2="121.6" stroke="#444" stroke-width="0.5"/>
<text x="388.30" y="125.60" font-size="3.85" fill="#222" text-anchor="middle" stroke="#222" stroke-width="0.08">−2</text>
<line x1="412.70" y1="120" x2="412.70" y2="121.6" stroke="#444" stroke-width="0.5"/>
<text x="412.70" y="125.60" font-size="3.85" fill="#222" text-anchor="middle" stroke="#222" stroke-width="0.08">−1</text>
<line x1="437.10" y1="120" x2="437.10" y2="121.6" stroke="#444" stroke-width="0.5"/>
<text x="437.10" y="125.60" font-size="3.85" fill="#222" text-anchor="middle" stroke="#222" stroke-width="0.08">0</text>
<line x1="461.50" y1="120" x2="461.50" y2="121.6" stroke="#444" stroke-width="0.5"/>
<text x="461.50" y="125.60" font-size="3.85" fill="#222" text-anchor="middle" stroke="#222" stroke-width="0.08">1</text>
<line x1="485.90" y1="120" x2="485.90" y2="121.6" stroke="#444" stroke-width="0.5"/>
<text x="485.90" y="125.60" font-size="3.85" fill="#222" text-anchor="middle" stroke="#222" stroke-width="0.08">2</text>
<line x1="510.30" y1="120" x2="510.30" y2="121.6" stroke="#444" stroke-width="0.5"/>
<text x="510.30" y="125.60" font-size="3.85" fill="#222" text-anchor="middle" stroke="#222" stroke-width="0.08">3</text>
<line x1="367.09999999999997" y1="111.09" x2="368.7" y2="111.09" stroke="#444" stroke-width="0.5"/>
<text x="366.30" y="112.47" font-size="3.85" fill="#222" text-anchor="end" stroke="#222" stroke-width="0.08">−0.5</text>
<line x1="367.09999999999997" y1="98.90" x2="368.7" y2="98.90" stroke="#444" stroke-width="0.5"/>
<text x="366.30" y="100.29" font-size="3.85" fill="#222" text-anchor="end" stroke="#222" stroke-width="0.08">0.0</text>
<line x1="367.09999999999997" y1="86.72" x2="368.7" y2="86.72" stroke="#444" stroke-width="0.5"/>
<text x="366.30" y="88.10" font-size="3.85" fill="#222" text-anchor="end" stroke="#222" stroke-width="0.08">0.5</text>
<line x1="367.09999999999997" y1="74.53" x2="368.7" y2="74.53" stroke="#444" stroke-width="0.5"/>
<text x="366.30" y="75.92" font-size="3.85" fill="#222" text-anchor="end" stroke="#222" stroke-width="0.08">1.0</text>
<line x1="367.09999999999997" y1="62.35" x2="368.7" y2="62.35" stroke="#444" stroke-width="0.5"/>
<text x="366.30" y="63.73" font-size="3.85" fill="#222" text-anchor="end" stroke="#222" stroke-width="0.08">1.5</text>
<line x1="367.09999999999997" y1="50.16" x2="368.7" y2="50.16" stroke="#444" stroke-width="0.5"/>
<text x="366.30" y="51.55" font-size="3.85" fill="#222" text-anchor="end" stroke="#222" stroke-width="0.08">2.0</text>
<line x1="367.09999999999997" y1="37.98" x2="368.7" y2="37.98" stroke="#444" stroke-width="0.5"/>
<text x="366.30" y="39.36" font-size="3.85" fill="#222" text-anchor="end" stroke="#222" stroke-width="0.08">2.5</text>
<line x1="367.09999999999997" y1="25.79" x2="368.7" y2="25.79" stroke="#444" stroke-width="0.5"/>
<text x="366.30" y="27.18" font-size="3.85" fill="#222" text-anchor="end" stroke="#222" stroke-width="0.08">3.0</text>
<text x="442.00" y="131.10" font-size="4.25" fill="#111" font-weight="bold" text-anchor="middle" textLength="49.60" lengthAdjust="spacingAndGlyphs" stroke="#111" stroke-width="0.12">Embedding Dimension 1</text>
<text x="356.10" y="67.50" font-size="4.25" fill="#111" font-weight="bold" text-anchor="middle" textLength="51.30" lengthAdjust="spacingAndGlyphs" transform="rotate(-90 356.10 67.50)" stroke="#111" stroke-width="0.12">Embedding Dimension 2</text>
<rect x="535.3" y="15" width="147.10" height="105.00" fill="none" stroke="#8a8a8a" stroke-width="1.2"/>
<line x1="555.56" y1="120" x2="555.56" y2="121.6" stroke="#444" stroke-width="0.5"/>
<text x="555.56" y="125.60" font-size="3.85" fill="#222" text-anchor="middle" stroke="#222" stroke-width="0.08">−2</text>
<line x1="579.88" y1="120" x2="579.88" y2="121.6" stroke="#444" stroke-width="0.5"/>
<text x="579.88" y="125.60" font-size="3.85" fill="#222" text-anchor="middle" stroke="#222" stroke-width="0.08">−1</text>
<line x1="604.20" y1="120" x2="604.20" y2="121.6" stroke="#444" stroke-width="0.5"/>
<text x="604.20" y="125.60" font-size="3.85" fill="#222" text-anchor="middle" stroke="#222" stroke-width="0.08">0</text>
<line x1="628.52" y1="120" x2="628.52" y2="121.6" stroke="#444" stroke-width="0.5"/>
<text x="628.52" y="125.60" font-size="3.85" fill="#222" text-anchor="middle" stroke="#222" stroke-width="0.08">1</text>
<line x1="652.84" y1="120" x2="652.84" y2="121.6" stroke="#444" stroke-width="0.5"/>
<text x="652.84" y="125.60" font-size="3.85" fill="#222" text-anchor="middle" stroke="#222" stroke-width="0.08">2</text>
<line x1="677.16" y1="120" x2="677.16" y2="121.6" stroke="#444" stroke-width="0.5"/>
<text x="677.16" y="125.60" font-size="3.85" fill="#222" text-anchor="middle" stroke="#222" stroke-width="0.08">3</text>
<line x1="533.6999999999999" y1="111.09" x2="535.3" y2="111.09" stroke="#444" stroke-width="0.5"/>
<text x="532.90" y="112.47" font-size="3.85" fill="#222" text-anchor="end" stroke="#222" stroke-width="0.08">−0.5</text>
<line x1="533.6999999999999" y1="98.90" x2="535.3" y2="98.90" stroke="#444" stroke-width="0.5"/>
<text x="532.90" y="100.29" font-size="3.85" fill="#222" text-anchor="end" stroke="#222" stroke-width="0.08">0.0</text>
<line x1="533.6999999999999" y1="86.72" x2="535.3" y2="86.72" stroke="#444" stroke-width="0.5"/>
<text x="532.90" y="88.10" font-size="3.85" fill="#222" text-anchor="end" stroke="#222" stroke-width="0.08">0.5</text>
<line x1="533.6999999999999" y1="74.53" x2="535.3" y2="74.53" stroke="#444" stroke-width="0.5"/>
<text x="532.90" y="75.92" font-size="3.85" fill="#222" text-anchor="end" stroke="#222" stroke-width="0.08">1.0</text>
<line x1="533.6999999999999" y1="62.35" x2="535.3" y2="62.35" stroke="#444" stroke-width="0.5"/>
<text x="532.90" y="63.73" font-size="3.85" fill="#222" text-anchor="end" stroke="#222" stroke-width="0.08">1.5</text>
<line x1="533.6999999999999" y1="50.16" x2="535.3" y2="50.16" stroke="#444" stroke-width="0.5"/>
<text x="532.90" y="51.55" font-size="3.85" fill="#222" text-anchor="end" stroke="#222" stroke-width="0.08">2.0</text>
<line x1="533.6999999999999" y1="37.98" x2="535.3" y2="37.98" stroke="#444" stroke-width="0.5"/>
<text x="532.90" y="39.36" font-size="3.85" fill="#222" text-anchor="end" stroke="#222" stroke-width="0.08">2.5</text>
<line x1="533.6999999999999" y1="25.79" x2="535.3" y2="25.79" stroke="#444" stroke-width="0.5"/>
<text x="532.90" y="27.18" font-size="3.85" fill="#222" text-anchor="end" stroke="#222" stroke-width="0.08">3.0</text>
<text x="608.85" y="131.10" font-size="4.25" fill="#111" font-weight="bold" text-anchor="middle" textLength="49.60" lengthAdjust="spacingAndGlyphs" stroke="#111" stroke-width="0.12">Embedding Dimension 1</text>
<text x="522.70" y="67.50" font-size="4.25" fill="#111" font-weight="bold" text-anchor="middle" textLength="51.30" lengthAdjust="spacingAndGlyphs" transform="rotate(-90 522.70 67.50)" stroke="#111" stroke-width="0.12">Embedding Dimension 2</text>
<text x="442.00" y="12.60" font-size="4.64" fill="#111" font-weight="bold" text-anchor="middle" textLength="43.90" lengthAdjust="spacingAndGlyphs" stroke="#111" stroke-width="0.12">Sample Distribution</text>
<text x="608.90" y="12.60" font-size="4.64" fill="#111" font-weight="bold" text-anchor="middle" textLength="43.90" lengthAdjust="spacingAndGlyphs" stroke="#111" stroke-width="0.12">Density Distribution</text>
<text x="517.40" y="6.30" font-size="5.43" fill="#111" font-weight="bold" text-anchor="middle" textLength="134.50" lengthAdjust="spacingAndGlyphs" stroke="#111" stroke-width="0.12">Embedding Space: After CORAL Domain Adaptation</text>
<rect x="489.2" y="17.400000000000002" width="25.2" height="29.2" rx="0.8" fill="#9a9a9a" fill-opacity="0.45"/>
<rect x="488.4" y="16.6" width="25.2" height="29.2" rx="0.8" fill="#fff" stroke="#d0d0d0" stroke-width="0.5"/>
<circle cx="494.3" cy="20.00" r="1.3" fill="#5288b3" stroke="#fff" stroke-width="0.3"/>
<text x="500.80" y="21.53" font-size="4.25" fill="#222" stroke="#222" stroke-width="0.08">Site A</text>
<circle cx="494.3" cy="25.60" r="1.3" fill="#a2538c" stroke="#fff" stroke-width="0.3"/>
<text x="500.80" y="27.13" font-size="4.25" fill="#222" stroke="#222" stroke-width="0.08">Site B</text>
<circle cx="494.3" cy="31.10" r="1.3" fill="#ee9a52" stroke="#fff" stroke-width="0.3"/>
<text x="500.80" y="32.63" font-size="4.25" fill="#222" stroke="#222" stroke-width="0.08">Site C</text>
<circle cx="494.3" cy="36.60" r="1.3" fill="#62bd9f" stroke="#fff" stroke-width="0.3"/>
<text x="500.80" y="38.13" font-size="4.25" fill="#222" stroke="#222" stroke-width="0.08">Site D</text>
<circle cx="494.3" cy="42.10" r="1.3" fill="#e8765a" stroke="#fff" stroke-width="0.3"/>
<text x="500.80" y="43.63" font-size="4.25" fill="#222" stroke="#222" stroke-width="0.08">Site E</text>
<rect x="370.6" y="12.6" width="42.2" height="6.6" rx="1.5" fill="#fff" fill-opacity="0.9" stroke="#444" stroke-width="0.7"/>
<text x="371.90" y="17.30" font-size="4.28" fill="#111" font-weight="bold" textLength="39.20" lengthAdjust="spacingAndGlyphs" stroke="#111" stroke-width="0.12">kNN Entropy: 0.884</text>
<text x="3.3" y="147.6" font-size="11.64" fill="#1a1a1a" textLength="246.4" lengthAdjust="spacingAndGlyphs">(a) Embedding <tspan font-style="italic">before</tspan> CORAL (colored by site).</text>
<text x="353.9" y="147.6" font-size="11.64" fill="#1a1a1a" textLength="236.4" lengthAdjust="spacingAndGlyphs">(b) Embedding <tspan font-style="italic">after</tspan> CORAL (colored by site).</text>
<text x="136.8" y="366.3" font-size="11.64" fill="#1a1a1a" textLength="328.6" lengthAdjust="spacingAndGlyphs">(c) LSO Macro-<tspan font-style="italic">r</tspan> by site (mean ± sd over folds; before vs. after).</text>
<text x="354.50" y="173.40" font-size="6.64" fill="#111" font-weight="bold" text-anchor="middle" textLength="182.00" lengthAdjust="spacingAndGlyphs" stroke="#111" stroke-width="0.12">Domain Adaptation Impact on Multi-Center Generalization</text>
<line x1="159.40" y1="189.4" x2="159.40" y2="333.2" stroke="#e9e9e9" stroke-width="0.45" stroke-dasharray="1.4,0.8"/>
<line x1="183.90" y1="189.4" x2="183.90" y2="333.2" stroke="#e9e9e9" stroke-width="0.45" stroke-dasharray="1.4,0.8"/>
<line x1="208.40" y1="189.4" x2="208.40" y2="333.2" stroke="#e9e9e9" stroke-width="0.45" stroke-dasharray="1.4,0.8"/>
<line x1="232.90" y1="189.4" x2="232.90" y2="333.2" stroke="#e9e9e9" stroke-width="0.45" stroke-dasharray="1.4,0.8"/>
<line x1="257.40" y1="189.4" x2="257.40" y2="333.2" stroke="#e9e9e9" stroke-width="0.45" stroke-dasharray="1.4,0.8"/>
<line x1="281.90" y1="189.4" x2="281.90" y2="333.2" stroke="#e9e9e9" stroke-width="0.45" stroke-dasharray="1.4,0.8"/>
<line x1="306.40" y1="189.4" x2="306.40" y2="333.2" stroke="#e9e9e9" stroke-width="0.45" stroke-dasharray="1.4,0.8"/>
<line x1="330.90" y1="189.4" x2="330.90" y2="333.2" stroke="#e9e9e9" stroke-width="0.45" stroke-dasharray="1.4,0.8"/>
<g stroke="#3f8db3" stroke-width="1.2" stroke-opacity="0.78"><line x1="209.4" y1="195.8" x2="279.5" y2="195.8"/><line x1="209.4" y1="193.0" x2="209.4" y2="198.60000000000002"/><line x1="279.5" y1="193.0" x2="279.5" y2="198.60000000000002"/></g>
<circle cx="244.3" cy="195.8" r="1.9" fill="#2f7ea6" stroke="#2a6f93" stroke-width="0.3"/>
<g stroke="#a4417a" stroke-width="1.2" stroke-opacity="0.72"><line x1="264.3" y1="204.8" x2="326.3" y2="204.8"/><line x1="264.3" y1="202.0" x2="264.3" y2="207.60000000000002"/><line x1="326.3" y1="202.0" x2="326.3" y2="207.60000000000002"/></g>
<rect x="293.2" y="203.0" width="3.6" height="3.6" fill="#9c3470" stroke="#8a2c62" stroke-width="0.3"/>
<g stroke="#3f8db3" stroke-width="1.2" stroke-opacity="0.78"><line x1="176.6" y1="226.3" x2="256.4" y2="226.3"/><line x1="176.6" y1="223.5" x2="176.6" y2="229.10000000000002"/><line x1="256.4" y1="223.5" x2="256.4" y2="229.10000000000002"/></g>
<circle cx="216.0" cy="226.3" r="1.9" fill="#2f7ea6" stroke="#2a6f93" stroke-width="0.3"/>
<g stroke="#a4417a" stroke-width="1.2" stroke-opacity="0.72"><line x1="239.3" y1="235.3" x2="307.9" y2="235.3"/><line x1="239.3" y1="232.5" x2="239.3" y2="238.10000000000002"/><line x1="307.9" y1="232.5" x2="307.9" y2="238.10000000000002"/></g>
<rect x="271.7" y="233.5" width="3.6" height="3.6" fill="#9c3470" stroke="#8a2c62" stroke-width="0.3"/>
<g stroke="#3f8db3" stroke-width="1.2" stroke-opacity="0.78"><line x1="192.6" y1="256.8" x2="268.8" y2="256.8"/><line x1="192.6" y1="254.0" x2="192.6" y2="259.6"/><line x1="268.8" y1="254.0" x2="268.8" y2="259.6"/></g>
<circle cx="230.7" cy="256.8" r="1.9" fill="#2f7ea6" stroke="#2a6f93" stroke-width="0.3"/>
<g stroke="#a4417a" stroke-width="1.2" stroke-opacity="0.72"><line x1="250.4" y1="265.8" x2="314.5" y2="265.8"/><line x1="250.4" y1="263.0" x2="250.4" y2="268.6"/><line x1="314.5" y1="263.0" x2="314.5" y2="268.6"/></g>
<rect x="280.59999999999997" y="264.0" width="3.6" height="3.6" fill="#9c3470" stroke="#8a2c62" stroke-width="0.3"/>
<g stroke="#3f8db3" stroke-width="1.2" stroke-opacity="0.78"><line x1="165.3" y1="287.2" x2="243.6" y2="287.2"/><line x1="165.3" y1="284.4" x2="165.3" y2="290.0"/><line x1="243.6" y1="284.4" x2="243.6" y2="290.0"/></g>
<circle cx="204.4" cy="287.2" r="1.9" fill="#2f7ea6" stroke="#2a6f93" stroke-width="0.3"/>
<g stroke="#a4417a" stroke-width="1.2" stroke-opacity="0.72"><line x1="232.5" y1="296.2" x2="302.9" y2="296.2"/><line x1="232.5" y1="293.4" x2="232.5" y2="299.0"/><line x1="302.9" y1="293.4" x2="302.9" y2="299.0"/></g>
<rect x="265.9" y="294.4" width="3.6" height="3.6" fill="#9c3470" stroke="#8a2c62" stroke-width="0.3"/>
<g stroke="#3f8db3" stroke-width="1.2" stroke-opacity="0.78"><line x1="224.9" y1="317.7" x2="291.4" y2="317.7"/><line x1="224.9" y1="314.9" x2="224.9" y2="320.5"/><line x1="291.4" y1="314.9" x2="291.4" y2="320.5"/></g>
<circle cx="258.0" cy="317.7" r="1.9" fill="#2f7ea6" stroke="#2a6f93" stroke-width="0.3"/>
<g stroke="#a4417a" stroke-width="1.2" stroke-opacity="0.72"><line x1="274.6" y1="326.7" x2="337.4" y2="326.7"/><line x1="274.6" y1="323.9" x2="274.6" y2="329.5"/><line x1="337.4" y1="323.9" x2="337.4" y2="329.5"/></g>
<rect x="304.2" y="324.9" width="3.6" height="3.6" fill="#9c3470" stroke="#8a2c62" stroke-width="0.3"/>
<rect x="294.1" y="315.0" width="53.9" height="16.4" rx="1" fill="#9a9a9a" fill-opacity="0.45"/>
<rect x="293.3" y="314.2" width="53.9" height="16.4" rx="1" fill="#fff" fill-opacity="0.92" stroke="#d5d5d5" stroke-width="0.5"/>
<g stroke="#3f8db3" stroke-width="0.8" stroke-opacity="0.5"><line x1="297.5" y1="318" x2="297.5" y2="318"/></g>
<line x1="297.6" y1="315.9" x2="297.6" y2="320.1" stroke="#3f8db3" stroke-width="0.6" stroke-opacity="0.45"/><line x1="303.6" y1="315.9" x2="303.6" y2="320.1" stroke="#3f8db3" stroke-width="0.6" stroke-opacity="0.45"/>
<circle cx="300.6" cy="318" r="2.0" fill="#3f8db3" stroke="#fff" stroke-width="0.4"/>
<line x1="297.6" y1="323.5" x2="297.6" y2="327.7" stroke="#a4417a" stroke-width="0.6" stroke-opacity="0.45"/><line x1="303.6" y1="323.5" x2="303.6" y2="327.7" stroke="#a4417a" stroke-width="0.6" stroke-opacity="0.45"/>
<rect x="298.8" y="323.8" width="3.6" height="3.6" fill="#a4417a" stroke="#fff" stroke-width="0.4"/>
<text x="310.00" y="319.80" font-size="5.2" fill="#222" stroke="#222" stroke-width="0.08">Before CORAL</text>
<text x="310.00" y="327.40" font-size="5.2" fill="#222" stroke="#222" stroke-width="0.08">After CORAL</text>
<rect x="154.4" y="189.4" width="195.00" height="143.80" fill="none" stroke="#8a8a8a" stroke-width="1.2"/>
<line x1="159.40" y1="333.2" x2="159.40" y2="334.8" stroke="#444" stroke-width="0.5"/>
<text x="159.40" y="338.80" font-size="4.68" fill="#222" text-anchor="middle" stroke="#222" stroke-width="0.08">0.525</text>
<line x1="183.90" y1="333.2" x2="183.90" y2="334.8" stroke="#444" stroke-width="0.5"/>
<text x="183.90" y="338.80" font-size="4.68" fill="#222" text-anchor="middle" stroke="#222" stroke-width="0.08">0.550</text>
<line x1="208.40" y1="333.2" x2="208.40" y2="334.8" stroke="#444" stroke-width="0.5"/>
<text x="208.40" y="338.80" font-size="4.68" fill="#222" text-anchor="middle" stroke="#222" stroke-width="0.08">0.575</text>
<line x1="232.90" y1="333.2" x2="232.90" y2="334.8" stroke="#444" stroke-width="0.5"/>
<text x="232.90" y="338.80" font-size="4.68" fill="#222" text-anchor="middle" stroke="#222" stroke-width="0.08">0.600</text>
<line x1="257.40" y1="333.2" x2="257.40" y2="334.8" stroke="#444" stroke-width="0.5"/>
<text x="257.40" y="338.80" font-size="4.68" fill="#222" text-anchor="middle" stroke="#222" stroke-width="0.08">0.625</text>
<line x1="281.90" y1="333.2" x2="281.90" y2="334.8" stroke="#444" stroke-width="0.5"/>
<text x="281.90" y="338.80" font-size="4.68" fill="#222" text-anchor="middle" stroke="#222" stroke-width="0.08">0.650</text>
<line x1="306.40" y1="333.2" x2="306.40" y2="334.8" stroke="#444" stroke-width="0.5"/>
<text x="306.40" y="338.80" font-size="4.68" fill="#222" text-anchor="middle" stroke="#222" stroke-width="0.08">0.675</text>
<line x1="330.90" y1="333.2" x2="330.90" y2="334.8" stroke="#444" stroke-width="0.5"/>
<text x="330.90" y="338.80" font-size="4.68" fill="#222" text-anchor="middle" stroke="#222" stroke-width="0.08">0.700</text>
<line x1="152.8" y1="200.3" x2="154.4" y2="200.3" stroke="#444" stroke-width="0.5"/>
<text x="151.40" y="202.20" font-size="5.25" fill="#222" font-weight="bold" text-anchor="end" textLength="14.60" lengthAdjust="spacingAndGlyphs" stroke="#222" stroke-width="0.12">Site A</text>
<line x1="152.8" y1="230.8" x2="154.4" y2="230.8" stroke="#444" stroke-width="0.5"/>
<text x="151.40" y="232.70" font-size="5.25" fill="#222" font-weight="bold" text-anchor="end" textLength="14.60" lengthAdjust="spacingAndGlyphs" stroke="#222" stroke-width="0.12">Site B</text>
<line x1="152.8" y1="261.3" x2="154.4" y2="261.3" stroke="#444" stroke-width="0.5"/>
<text x="151.40" y="263.20" font-size="5.25" fill="#222" font-weight="bold" text-anchor="end" textLength="14.60" lengthAdjust="spacingAndGlyphs" stroke="#222" stroke-width="0.12">Site C</text>
<line x1="152.8" y1="291.7" x2="154.4" y2="291.7" stroke="#444" stroke-width="0.5"/>
<text x="151.40" y="293.60" font-size="5.25" fill="#222" font-weight="bold" text-anchor="end" textLength="14.60" lengthAdjust="spacingAndGlyphs" stroke="#222" stroke-width="0.12">Site D</text>
<line x1="152.8" y1="322.2" x2="154.4" y2="322.2" stroke="#444" stroke-width="0.5"/>
<text x="151.40" y="324.10" font-size="5.25" fill="#222" font-weight="bold" text-anchor="end" textLength="14.60" lengthAdjust="spacingAndGlyphs" stroke="#222" stroke-width="0.12">Site E</text>
<text x="252.20" y="186.30" font-size="6.13" fill="#111" font-weight="bold" text-anchor="middle" textLength="82.40" lengthAdjust="spacingAndGlyphs" stroke="#111" stroke-width="0.12">Leave-Site-Out Performance</text>
<text x="252.4" y="346.6" font-size="5.67" font-weight="bold" text-anchor="middle" fill="#111" stroke="#111" stroke-width="0.12">Macro-<tspan font-style="italic">r</tspan></text>
<line x1="405.85" y1="189.4" x2="405.85" y2="333.1" stroke="#e9e9e9" stroke-width="0.45" stroke-dasharray="1.4,0.8"/>
<line x1="438.40" y1="189.4" x2="438.40" y2="333.1" stroke="#e9e9e9" stroke-width="0.45" stroke-dasharray="1.4,0.8"/>
<line x1="470.95" y1="189.4" x2="470.95" y2="333.1" stroke="#e9e9e9" stroke-width="0.45" stroke-dasharray="1.4,0.8"/>
<line x1="503.50" y1="189.4" x2="503.50" y2="333.1" stroke="#e9e9e9" stroke-width="0.45" stroke-dasharray="1.4,0.8"/>
<line x1="536.05" y1="189.4" x2="536.05" y2="333.1" stroke="#e9e9e9" stroke-width="0.45" stroke-dasharray="1.4,0.8"/>
<rect x="373.3" y="195.90" width="84.63" height="21.8" fill="#b07390" stroke="#a0607f" stroke-width="0.3"/>
<text x="460.93" y="205.90" font-size="4.2" fill="#111" font-weight="bold" stroke="#111" stroke-width="0.12">+0.052</text>
<text x="460.93" y="210.40" font-size="4.2" fill="#111" font-weight="bold" stroke="#111" stroke-width="0.12">(+8.5%)</text>
<rect x="373.3" y="223.00" width="96.02" height="21.8" fill="#b07390" stroke="#a0607f" stroke-width="0.3"/>
<text x="472.32" y="233.00" font-size="4.2" fill="#111" font-weight="bold" stroke="#111" stroke-width="0.12">+0.059</text>
<text x="472.32" y="237.50" font-size="4.2" fill="#111" font-weight="bold" stroke="#111" stroke-width="0.12">(+10.1%)</text>
<rect x="373.3" y="249.90" width="86.26" height="21.8" fill="#b07390" stroke="#a0607f" stroke-width="0.3"/>
<text x="462.56" y="259.90" font-size="4.2" fill="#111" font-weight="bold" stroke="#111" stroke-width="0.12">+0.053</text>
<text x="462.56" y="264.40" font-size="4.2" fill="#111" font-weight="bold" stroke="#111" stroke-width="0.12">(+8.9%)</text>
<rect x="373.3" y="277.70" width="105.79" height="21.8" fill="#b07390" stroke="#a0607f" stroke-width="0.3"/>
<text x="482.09" y="287.70" font-size="4.2" fill="#111" font-weight="bold" stroke="#111" stroke-width="0.12">+0.065</text>
<text x="482.09" y="292.20" font-size="4.2" fill="#111" font-weight="bold" stroke="#111" stroke-width="0.12">(+11.4%)</text>
<rect x="373.3" y="304.60" width="76.49" height="21.8" fill="#b07390" stroke="#a0607f" stroke-width="0.3"/>
<text x="452.79" y="314.60" font-size="4.2" fill="#111" font-weight="bold" stroke="#111" stroke-width="0.12">+0.047</text>
<text x="452.79" y="319.10" font-size="4.2" fill="#111" font-weight="bold" stroke="#111" stroke-width="0.12">(+7.5%)</text>
<line x1="405.85" y1="189.4" x2="405.85" y2="333.1" stroke="#fff" stroke-opacity="0.28" stroke-width="0.5"/>
<line x1="438.40" y1="189.4" x2="438.40" y2="333.1" stroke="#fff" stroke-opacity="0.28" stroke-width="0.5"/>
<line x1="470.95" y1="189.4" x2="470.95" y2="333.1" stroke="#fff" stroke-opacity="0.28" stroke-width="0.5"/>
<line x1="503.50" y1="189.4" x2="503.50" y2="333.1" stroke="#fff" stroke-opacity="0.28" stroke-width="0.5"/>
<line x1="536.05" y1="189.4" x2="536.05" y2="333.1" stroke="#fff" stroke-opacity="0.28" stroke-width="0.5"/>
<rect x="373.3" y="189.4" width="195.30" height="143.70" fill="none" stroke="#8a8a8a" stroke-width="1.2"/>
<line x1="373.30" y1="333.1" x2="373.30" y2="334.70000000000005" stroke="#444" stroke-width="0.5"/>
<text x="373.30" y="338.70" font-size="4.68" fill="#222" text-anchor="middle" stroke="#222" stroke-width="0.08">0.00</text>
<line x1="405.85" y1="333.1" x2="405.85" y2="334.70000000000005" stroke="#444" stroke-width="0.5"/>
<text x="405.85" y="338.70" font-size="4.68" fill="#222" text-anchor="middle" stroke="#222" stroke-width="0.08">0.02</text>
<line x1="438.40" y1="333.1" x2="438.40" y2="334.70000000000005" stroke="#444" stroke-width="0.5"/>
<text x="438.40" y="338.70" font-size="4.68" fill="#222" text-anchor="middle" stroke="#222" stroke-width="0.08">0.04</text>
<line x1="470.95" y1="333.1" x2="470.95" y2="334.70000000000005" stroke="#444" stroke-width="0.5"/>
<text x="470.95" y="338.70" font-size="4.68" fill="#222" text-anchor="middle" stroke="#222" stroke-width="0.08">0.06</text>
<line x1="503.50" y1="333.1" x2="503.50" y2="334.70000000000005" stroke="#444" stroke-width="0.5"/>
<text x="503.50" y="338.70" font-size="4.68" fill="#222" text-anchor="middle" stroke="#222" stroke-width="0.08">0.08</text>
<line x1="536.05" y1="333.1" x2="536.05" y2="334.70000000000005" stroke="#444" stroke-width="0.5"/>
<text x="536.05" y="338.70" font-size="4.68" fill="#222" text-anchor="middle" stroke="#222" stroke-width="0.08">0.10</text>
<line x1="568.60" y1="333.1" x2="568.60" y2="334.70000000000005" stroke="#444" stroke-width="0.5"/>
<text x="568.60" y="338.70" font-size="4.68" fill="#222" text-anchor="middle" stroke="#222" stroke-width="0.08">0.12</text>
<line x1="371.7" y1="206.8" x2="373.3" y2="206.8" stroke="#444" stroke-width="0.5"/>
<text x="369.90" y="208.70" font-size="5.25" fill="#222" font-weight="bold" text-anchor="end" textLength="14.80" lengthAdjust="spacingAndGlyphs" stroke="#222" stroke-width="0.12">Site A</text>
<line x1="371.7" y1="233.9" x2="373.3" y2="233.9" stroke="#444" stroke-width="0.5"/>
<text x="369.90" y="235.80" font-size="5.25" fill="#222" font-weight="bold" text-anchor="end" textLength="14.80" lengthAdjust="spacingAndGlyphs" stroke="#222" stroke-width="0.12">Site B</text>
<line x1="371.7" y1="260.8" x2="373.3" y2="260.8" stroke="#444" stroke-width="0.5"/>
<text x="369.90" y="262.70" font-size="5.25" fill="#222" font-weight="bold" text-anchor="end" textLength="14.80" lengthAdjust="spacingAndGlyphs" stroke="#222" stroke-width="0.12">Site C</text>
<line x1="371.7" y1="288.6" x2="373.3" y2="288.6" stroke="#444" stroke-width="0.5"/>
<text x="369.90" y="290.50" font-size="5.25" fill="#222" font-weight="bold" text-anchor="end" textLength="14.80" lengthAdjust="spacingAndGlyphs" stroke="#222" stroke-width="0.12">Site D</text>
<line x1="371.7" y1="315.5" x2="373.3" y2="315.5" stroke="#444" stroke-width="0.5"/>
<text x="369.90" y="317.40" font-size="5.25" fill="#222" font-weight="bold" text-anchor="end" textLength="14.80" lengthAdjust="spacingAndGlyphs" stroke="#222" stroke-width="0.12">Site E</text>
<text x="470.90" y="186.30" font-size="6.13" fill="#111" font-weight="bold" text-anchor="middle" textLength="78.10" lengthAdjust="spacingAndGlyphs" stroke="#111" stroke-width="0.12">Performance Improvement</text>
<text x="470.6" y="346.6" font-size="5.67" font-weight="bold" text-anchor="middle" fill="#111" stroke="#111" stroke-width="0.12" textLength="104.2" lengthAdjust="spacingAndGlyphs">Performance Improvement (Δ Macro-<tspan font-style="italic">r</tspan>)</text>
</svg></body></html>
